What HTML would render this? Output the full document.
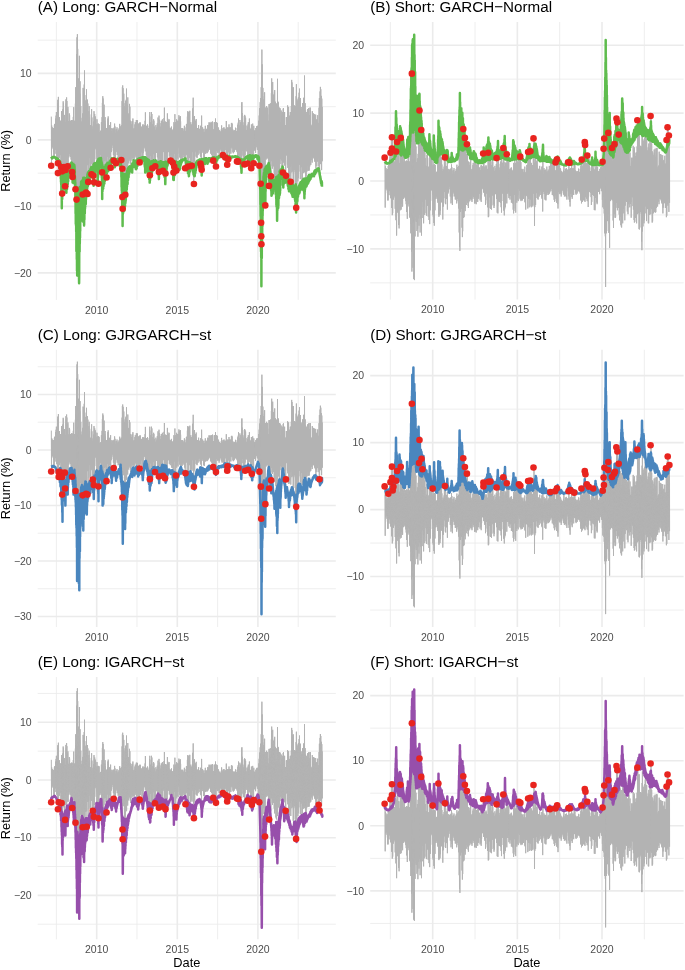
<!DOCTYPE html><html><head><meta charset="utf-8"><title>VaR backtest</title><style>html,body{margin:0;padding:0;background:#fff}svg{display:block}text{font-family:"Liberation Sans",Arial,Helvetica,sans-serif}</style></head><body>
<svg width="685" height="970" viewBox="0 0 685 970">
<rect width="685" height="970" fill="#fff"/>
<g><line x1="37.7" x2="335.8" y1="40.15" y2="40.15" stroke="#ebebeb" stroke-width="0.85"/><line x1="37.7" x2="335.8" y1="106.65" y2="106.65" stroke="#ebebeb" stroke-width="0.85"/><line x1="37.7" x2="335.8" y1="173.15" y2="173.15" stroke="#ebebeb" stroke-width="0.85"/><line x1="37.7" x2="335.8" y1="239.65" y2="239.65" stroke="#ebebeb" stroke-width="0.85"/><line x1="56.40" x2="56.40" y1="22.0" y2="299.9" stroke="#ebebeb" stroke-width="0.85"/><line x1="137.00" x2="137.00" y1="22.0" y2="299.9" stroke="#ebebeb" stroke-width="0.85"/><line x1="217.60" x2="217.60" y1="22.0" y2="299.9" stroke="#ebebeb" stroke-width="0.85"/><line x1="298.20" x2="298.20" y1="22.0" y2="299.9" stroke="#ebebeb" stroke-width="0.85"/><line x1="37.7" x2="335.8" y1="73.40" y2="73.40" stroke="#ebebeb" stroke-width="1.6"/><text x="31.7" y="77.1" font-size="10.5" fill="#4d4d4d" text-anchor="end">10</text><line x1="37.7" x2="335.8" y1="139.90" y2="139.90" stroke="#ebebeb" stroke-width="1.6"/><text x="31.7" y="143.6" font-size="10.5" fill="#4d4d4d" text-anchor="end">0</text><line x1="37.7" x2="335.8" y1="206.40" y2="206.40" stroke="#ebebeb" stroke-width="1.6"/><text x="31.7" y="210.1" font-size="10.5" fill="#4d4d4d" text-anchor="end">−10</text><line x1="37.7" x2="335.8" y1="272.90" y2="272.90" stroke="#ebebeb" stroke-width="1.6"/><text x="31.7" y="276.6" font-size="10.5" fill="#4d4d4d" text-anchor="end">−20</text><line x1="96.70" x2="96.70" y1="22.0" y2="299.9" stroke="#ebebeb" stroke-width="1.6"/><text x="96.7" y="313.5" font-size="10.5" fill="#4d4d4d" text-anchor="middle">2010</text><line x1="177.30" x2="177.30" y1="22.0" y2="299.9" stroke="#ebebeb" stroke-width="1.6"/><text x="177.3" y="313.5" font-size="10.5" fill="#4d4d4d" text-anchor="middle">2015</text><line x1="257.90" x2="257.90" y1="22.0" y2="299.9" stroke="#ebebeb" stroke-width="1.6"/><text x="257.9" y="313.5" font-size="10.5" fill="#4d4d4d" text-anchor="middle">2020</text><polyline points="51.3,116.6 51.5,165.9 51.7,125.5 51.8,145.8 52.0,131.3 52.2,147.6 52.3,127.3 52.5,146.1 52.7,129.7 52.8,144.8 53.0,133.5 53.2,149.1 53.4,128.3 53.5,151.8 53.7,130.1 53.9,158.8 54.0,128.2 54.2,158.9 54.4,125.2 54.5,150.0 54.7,123.9 54.9,153.6 55.0,126.8 55.2,147.8 55.4,126.9 55.6,149.2 55.7,118.6 55.9,149.8 56.1,115.6 56.2,153.9 56.4,112.0 56.6,156.6 56.7,125.0 56.9,154.6 57.1,117.7 57.2,157.1 57.4,117.7 57.6,166.4 57.8,99.8 57.9,164.6 58.1,103.0 58.3,173.4 58.4,96.9 58.6,171.4 58.8,120.3 58.9,157.4 59.1,124.0 59.3,158.1 59.4,117.1 59.6,156.3 59.8,126.1 60.0,148.8 60.1,121.9 60.3,149.1 60.5,120.7 60.6,154.8 60.8,129.0 61.0,167.1 61.1,122.5 61.3,166.6 61.5,111.2 61.6,178.3 61.8,116.6 62.0,174.7 62.2,118.3 62.3,193.4 62.5,113.2 62.7,160.8 62.8,109.3 63.0,170.9 63.2,101.3 63.3,164.4 63.5,103.2 63.7,166.6 63.8,115.8 64.0,171.6 64.2,114.9 64.4,183.0 64.5,115.0 64.7,186.3 64.9,125.1 65.0,166.9 65.2,122.2 65.4,166.6 65.5,122.5 65.7,168.6 65.9,99.4 66.0,162.4 66.2,103.5 66.4,156.8 66.6,97.4 66.7,167.9 66.9,101.0 67.1,161.9 67.2,118.7 67.4,153.2 67.6,109.3 67.7,164.7 67.9,106.9 68.1,164.9 68.2,121.9 68.4,155.6 68.6,121.2 68.8,157.4 68.9,124.7 69.1,151.2 69.3,113.4 69.4,154.0 69.6,115.1 69.8,148.2 69.9,124.4 70.1,155.9 70.3,129.9 70.4,156.8 70.6,120.7 70.8,153.0 71.0,121.9 71.1,159.6 71.3,120.9 71.5,162.6 71.6,120.0 71.8,170.1 72.0,120.0 72.1,164.1 72.3,129.2 72.5,176.9 72.6,124.0 72.8,159.0 73.0,120.3 73.2,162.6 73.3,116.9 73.5,158.2 73.7,107.2 73.8,154.3 74.0,122.8 74.2,164.9 74.3,122.0 74.5,163.7 74.7,120.7 74.8,175.4 75.0,121.7 75.2,176.1 75.4,103.6 75.5,177.3 75.7,87.2 75.9,191.1 76.0,99.8 76.2,182.0 76.4,97.8 76.5,209.1 76.7,54.2 76.9,228.7 77.0,37.3 77.2,206.8 77.4,34.2 77.6,200.7 77.7,48.9 77.9,224.9 78.1,101.8 78.2,195.2 78.4,78.4 78.6,235.8 78.7,93.1 78.9,215.0 79.1,97.4 79.3,236.9 79.4,55.8 79.6,178.3 79.8,93.6 79.9,194.1 80.1,81.3 80.3,157.6 80.4,112.6 80.6,174.6 80.8,106.1 80.9,179.9 81.1,122.0 81.3,179.8 81.5,123.7 81.6,188.9 81.8,121.4 82.0,176.8 82.1,117.8 82.3,186.4 82.5,120.7 82.6,194.4 82.8,113.3 83.0,168.8 83.1,87.9 83.3,176.5 83.5,88.8 83.7,183.6 83.8,96.4 84.0,171.7 84.2,84.5 84.3,173.2 84.5,70.4 84.7,190.4 84.8,112.9 85.0,173.0 85.2,100.3 85.3,176.5 85.5,108.3 85.7,174.7 85.9,105.1 86.0,193.4 86.2,95.1 86.4,158.5 86.5,89.3 86.7,176.1 86.9,100.2 87.0,157.7 87.2,113.5 87.4,160.4 87.5,99.6 87.7,165.2 87.9,103.5 88.1,181.4 88.2,128.0 88.4,164.5 88.6,120.7 88.7,163.7 88.9,111.2 89.1,173.1 89.2,106.1 89.4,149.9 89.6,117.6 89.7,152.0 89.9,126.3 90.1,158.1 90.3,129.3 90.4,171.4 90.6,125.1 90.8,173.9 90.9,131.3 91.1,162.6 91.3,114.4 91.4,162.7 91.6,109.1 91.8,164.1 91.9,117.5 92.1,161.2 92.3,132.0 92.5,174.6 92.6,129.1 92.8,160.6 93.0,125.8 93.1,178.1 93.3,127.0 93.5,164.9 93.6,121.6 93.8,182.1 94.0,111.2 94.1,165.8 94.3,116.4 94.5,168.6 94.7,114.0 94.8,159.2 95.0,126.6 95.2,144.9 95.3,116.4 95.5,147.6 95.7,118.8 95.8,148.6 96.0,124.0 96.2,149.6 96.3,125.3 96.5,153.6 96.7,125.4 96.9,173.2 97.0,119.3 97.2,174.6 97.4,128.0 97.5,157.3 97.7,124.1 97.9,181.0 98.0,123.8 98.2,183.6 98.4,123.6 98.5,160.5 98.7,124.1 98.9,168.6 99.1,124.2 99.2,157.4 99.4,132.1 99.6,155.9 99.7,132.5 99.9,157.4 100.1,133.1 100.2,149.7 100.4,130.9 100.6,155.1 100.7,133.9 100.9,149.2 101.1,130.4 101.3,156.8 101.4,122.2 101.6,161.1 101.8,128.5 101.9,159.1 102.1,117.1 102.3,173.2 102.4,102.9 102.6,174.9 102.8,96.2 102.9,173.6 103.1,98.5 103.3,171.5 103.5,112.1 103.6,173.1 103.8,122.1 104.0,168.9 104.1,104.7 104.3,152.3 104.5,125.1 104.6,161.1 104.8,120.9 105.0,155.5 105.1,117.1 105.3,160.4 105.5,123.8 105.7,159.7 105.8,130.3 106.0,165.2 106.2,132.5 106.3,177.6 106.5,128.0 106.7,163.1 106.8,131.1 107.0,164.9 107.2,129.3 107.3,156.8 107.5,125.8 107.7,148.1 107.9,118.5 108.0,150.6 108.2,116.4 108.4,146.2 108.5,118.8 108.7,161.7 108.9,126.5 109.0,162.6 109.2,125.1 109.4,155.8 109.5,132.5 109.7,157.4 109.9,125.5 110.1,156.2 110.2,130.6 110.4,157.7 110.6,122.2 110.7,167.9 110.9,128.7 111.1,149.2 111.2,131.5 111.4,152.1 111.6,131.2 111.7,150.7 111.9,128.0 112.1,142.6 112.3,133.6 112.4,145.3 112.6,133.6 112.8,143.0 112.9,128.8 113.1,148.0 113.3,128.9 113.4,155.1 113.6,129.6 113.8,151.8 113.9,127.7 114.1,161.9 114.3,129.2 114.5,154.3 114.6,123.6 114.8,155.8 115.0,126.5 115.1,158.5 115.3,132.8 115.5,163.4 115.6,133.7 115.8,148.0 116.0,129.5 116.1,152.1 116.3,134.0 116.5,149.4 116.7,129.1 116.8,150.4 117.0,127.3 117.2,155.1 117.3,133.1 117.5,148.9 117.7,133.2 117.8,154.5 118.0,131.3 118.2,158.1 118.3,130.2 118.5,152.5 118.7,131.2 118.9,157.7 119.0,128.5 119.2,155.0 119.4,128.0 119.5,161.9 119.7,123.9 119.9,154.8 120.0,128.6 120.2,157.4 120.4,126.4 120.5,152.6 120.7,130.7 120.9,159.7 121.1,127.4 121.2,165.6 121.4,125.1 121.6,167.0 121.7,129.4 121.9,190.4 122.1,101.1 122.2,204.3 122.4,87.1 122.6,208.4 122.7,85.4 122.9,160.7 123.1,88.2 123.3,170.1 123.4,98.6 123.6,157.1 123.8,93.7 123.9,167.1 124.1,106.1 124.3,155.2 124.4,119.2 124.6,185.6 124.8,117.1 125.0,194.9 125.1,103.2 125.3,189.2 125.5,101.0 125.6,170.1 125.8,106.2 126.0,176.1 126.1,99.8 126.3,159.5 126.5,88.6 126.6,175.4 126.8,111.9 127.0,157.7 127.2,119.8 127.3,166.0 127.5,104.7 127.7,169.4 127.8,97.4 128.0,155.3 128.2,116.7 128.3,152.8 128.5,115.0 128.7,163.4 128.8,113.4 129.0,153.7 129.2,121.5 129.4,159.4 129.5,103.9 129.7,151.8 129.9,106.7 130.0,161.1 130.2,123.9 130.4,164.2 130.5,120.7 130.7,166.4 130.9,121.2 131.0,160.8 131.2,125.9 131.4,150.1 131.6,124.4 131.7,157.3 131.9,128.2 132.1,159.6 132.2,121.6 132.4,150.8 132.6,121.2 132.7,157.5 132.9,118.5 133.1,158.1 133.2,128.6 133.4,152.0 133.6,130.6 133.8,158.6 133.9,132.5 134.1,160.4 134.3,128.0 134.4,152.0 134.6,128.8 134.8,154.0 134.9,124.4 135.1,157.4 135.3,122.2 135.4,152.1 135.6,127.8 135.8,155.2 136.0,126.5 136.1,155.5 136.3,120.0 136.5,161.9 136.6,129.1 136.8,156.4 137.0,120.0 137.1,161.9 137.3,120.3 137.5,155.4 137.6,125.7 137.8,153.1 138.0,126.2 138.2,162.6 138.3,123.6 138.5,159.8 138.7,126.3 138.8,155.4 139.0,127.8 139.2,156.7 139.3,123.1 139.5,160.4 139.7,129.7 139.8,151.1 140.0,122.2 140.2,155.2 140.4,122.9 140.5,157.4 140.7,129.8 140.9,152.5 141.0,128.4 141.2,151.1 141.4,126.6 141.5,151.9 141.7,131.9 141.9,158.9 142.0,129.3 142.2,152.4 142.4,130.3 142.6,157.2 142.7,124.7 142.9,160.4 143.1,124.4 143.2,153.2 143.4,126.7 143.6,145.1 143.7,126.2 143.9,145.8 144.1,130.5 144.2,147.3 144.4,125.1 144.6,146.9 144.8,132.3 144.9,148.4 145.1,120.8 145.3,151.4 145.4,112.3 145.6,148.8 145.8,130.3 145.9,150.0 146.1,127.4 146.3,155.1 146.4,125.8 146.6,153.3 146.8,125.9 147.0,163.4 147.1,128.4 147.3,158.7 147.5,124.4 147.6,148.9 147.8,125.7 148.0,152.1 148.1,129.1 148.3,149.4 148.5,131.1 148.6,162.0 148.8,128.0 149.0,165.6 149.2,128.9 149.3,164.7 149.5,115.7 149.7,175.4 149.8,112.0 150.0,174.7 150.2,126.9 150.3,149.7 150.5,129.0 150.7,155.9 150.8,122.2 151.0,153.6 151.2,116.5 151.4,166.6 151.5,112.0 151.7,167.1 151.9,114.0 152.0,156.8 152.2,130.7 152.4,157.5 152.5,124.4 152.7,167.9 152.9,130.7 153.0,163.7 153.2,120.7 153.4,153.6 153.6,119.3 153.7,149.0 153.9,120.7 154.1,154.4 154.2,131.1 154.4,150.2 154.6,126.6 154.7,162.8 154.9,132.7 155.1,166.4 155.2,131.8 155.4,164.2 155.6,130.4 155.8,148.7 155.9,125.1 156.1,150.1 156.3,129.3 156.4,152.9 156.6,133.6 156.8,148.5 156.9,127.3 157.1,152.4 157.3,123.3 157.4,157.4 157.6,126.4 157.8,153.7 158.0,117.5 158.1,170.9 158.3,124.3 158.5,164.4 158.6,126.3 158.8,171.6 159.0,115.6 159.1,160.1 159.3,119.7 159.5,150.0 159.6,130.1 159.8,158.1 160.0,130.0 160.2,149.9 160.3,129.5 160.5,160.5 160.7,126.7 160.8,158.7 161.0,123.1 161.2,161.1 161.3,120.7 161.5,160.0 161.7,122.6 161.8,165.5 162.0,121.3 162.2,170.9 162.4,119.3 162.5,159.5 162.7,124.4 162.9,151.9 163.0,122.2 163.2,152.1 163.4,125.1 163.5,149.3 163.7,121.9 163.9,149.0 164.0,118.1 164.2,168.8 164.4,107.6 164.6,168.2 164.7,125.5 164.9,173.6 165.1,129.0 165.2,167.6 165.4,121.5 165.6,160.9 165.7,129.5 165.9,165.6 166.1,123.2 166.2,161.2 166.4,122.2 166.6,152.2 166.8,122.8 166.9,152.4 167.1,122.3 167.3,161.9 167.4,113.4 167.6,150.4 167.8,118.8 167.9,152.1 168.1,125.0 168.3,150.0 168.5,120.7 168.6,152.1 168.8,126.4 169.0,149.7 169.1,119.3 169.3,156.6 169.5,128.9 169.6,154.2 169.8,129.5 170.0,154.0 170.1,128.0 170.3,158.1 170.5,129.6 170.7,152.3 170.8,131.5 171.0,154.6 171.2,127.4 171.3,151.0 171.5,126.6 171.7,161.1 171.8,129.9 172.0,153.6 172.2,130.7 172.3,154.8 172.5,133.0 172.7,161.9 172.9,129.5 173.0,155.3 173.2,131.9 173.4,168.0 173.5,127.9 173.7,171.6 173.9,122.2 174.0,169.2 174.2,130.1 174.4,148.6 174.5,125.7 174.7,153.6 174.9,114.2 175.1,147.5 175.2,124.1 175.4,166.6 175.6,122.2 175.7,170.9 175.9,129.4 176.1,158.3 176.2,125.3 176.4,158.4 176.6,119.3 176.7,161.1 176.9,121.2 177.1,158.4 177.3,124.6 177.4,151.2 177.6,120.7 177.8,153.7 177.9,128.5 178.1,159.6 178.3,121.0 178.4,145.9 178.6,125.0 178.8,144.7 178.9,115.2 179.1,147.6 179.3,117.9 179.5,149.3 179.6,118.4 179.8,157.1 180.0,116.7 180.1,158.1 180.3,116.1 180.5,153.5 180.6,121.4 180.8,159.6 181.0,130.5 181.1,156.0 181.3,128.0 181.5,158.6 181.7,129.9 181.8,152.2 182.0,128.9 182.2,158.9 182.3,131.1 182.5,155.1 182.7,128.0 182.8,155.0 183.0,135.4 183.2,157.4 183.3,132.0 183.5,154.4 183.7,130.9 183.9,149.6 184.0,129.2 184.2,152.9 184.4,125.8 184.5,160.3 184.7,131.5 184.9,161.3 185.0,135.3 185.2,167.9 185.4,133.2 185.5,151.8 185.7,130.9 185.9,150.3 186.1,127.4 186.2,154.4 186.4,124.3 186.6,153.6 186.7,123.9 186.9,155.2 187.1,125.6 187.2,166.8 187.4,116.6 187.6,154.0 187.7,111.2 187.9,157.4 188.1,122.2 188.3,153.8 188.4,117.8 188.6,165.6 188.8,111.8 188.9,156.9 189.1,112.7 189.3,155.3 189.4,123.4 189.6,158.1 189.8,110.8 189.9,156.8 190.1,125.7 190.3,164.7 190.5,124.7 190.6,165.6 190.8,122.2 191.0,162.3 191.1,129.5 191.3,162.5 191.5,124.9 191.6,163.1 191.8,124.4 192.0,164.9 192.1,128.7 192.3,150.6 192.5,108.5 192.7,152.1 192.8,116.5 193.0,146.3 193.2,97.7 193.3,163.6 193.5,129.3 193.7,183.9 193.8,122.2 194.0,165.5 194.2,122.1 194.3,159.8 194.5,116.1 194.7,163.4 194.9,121.6 195.0,156.6 195.2,124.1 195.4,147.4 195.5,120.7 195.7,151.4 195.9,124.6 196.0,150.0 196.2,119.0 196.4,152.7 196.5,127.6 196.7,157.2 196.9,129.7 197.1,158.1 197.2,131.8 197.4,152.4 197.6,128.0 197.7,151.5 197.9,128.1 198.1,155.1 198.2,130.8 198.4,147.5 198.6,125.1 198.7,148.2 198.9,130.0 199.1,153.6 199.3,133.5 199.4,149.9 199.6,128.8 199.8,149.4 199.9,133.2 200.1,149.2 200.3,130.0 200.4,155.9 200.6,125.8 200.8,157.4 200.9,132.7 201.1,156.5 201.3,125.7 201.5,169.8 201.6,115.6 201.8,147.9 202.0,133.2 202.1,150.6 202.3,133.5 202.5,147.6 202.6,127.3 202.8,152.7 203.0,129.2 203.1,149.5 203.3,132.1 203.5,158.1 203.7,132.1 203.8,149.6 204.0,128.8 204.2,158.5 204.3,133.1 204.5,158.9 204.7,132.2 204.8,153.9 205.0,131.7 205.2,151.0 205.3,125.8 205.5,153.6 205.7,130.4 205.9,147.6 206.0,134.0 206.2,151.5 206.4,132.8 206.5,151.9 206.7,128.8 206.9,153.3 207.0,131.7 207.2,152.9 207.4,130.3 207.5,147.5 207.7,125.1 207.9,152.1 208.1,130.5 208.2,151.0 208.4,125.5 208.6,148.1 208.7,130.2 208.9,148.3 209.1,122.2 209.2,149.8 209.4,123.2 209.6,147.8 209.7,131.4 209.9,147.0 210.1,122.9 210.3,147.4 210.4,130.0 210.6,153.6 210.8,130.6 210.9,147.8 211.1,121.9 211.3,152.2 211.4,122.8 211.6,154.8 211.8,128.8 211.9,154.6 212.1,126.3 212.3,158.4 212.5,121.5 212.6,160.4 212.8,122.2 213.0,159.8 213.1,134.5 213.3,151.3 213.5,129.5 213.6,153.9 213.8,129.8 214.0,157.4 214.2,130.3 214.3,153.6 214.5,122.2 214.7,161.1 214.8,123.5 215.0,151.7 215.2,125.1 215.3,157.9 215.5,118.5 215.7,162.5 215.8,122.8 216.0,166.8 216.2,129.5 216.4,149.2 216.5,122.2 216.7,150.6 216.9,125.2 217.0,149.7 217.2,126.7 217.4,152.4 217.5,122.9 217.7,148.7 217.9,131.0 218.0,152.9 218.2,127.3 218.4,147.9 218.6,128.7 218.7,151.2 218.9,131.9 219.1,155.1 219.2,134.2 219.4,153.0 219.6,130.2 219.7,144.9 219.9,131.6 220.1,146.1 220.2,133.2 220.4,148.4 220.6,131.5 220.8,149.7 220.9,132.5 221.1,151.4 221.3,129.3 221.4,153.3 221.6,125.4 221.8,152.7 221.9,131.9 222.1,155.1 222.3,132.6 222.4,153.9 222.6,130.2 222.8,153.5 223.0,128.0 223.1,154.4 223.3,128.8 223.5,150.4 223.6,127.9 223.8,155.7 224.0,127.3 224.1,152.0 224.3,131.3 224.5,158.1 224.6,133.9 224.8,144.8 225.0,129.0 225.2,143.7 225.3,128.8 225.5,146.8 225.7,131.2 225.8,150.0 226.0,129.7 226.2,154.9 226.3,121.0 226.5,158.1 226.7,128.2 226.8,149.4 227.0,132.6 227.2,160.4 227.4,129.9 227.5,164.9 227.7,127.3 227.9,152.5 228.0,132.2 228.2,151.9 228.4,130.4 228.5,152.1 228.7,127.8 228.9,148.6 229.0,124.4 229.2,155.4 229.4,127.5 229.6,157.4 229.7,128.6 229.9,153.3 230.1,132.4 230.2,148.0 230.4,127.3 230.6,147.3 230.7,128.4 230.9,153.6 231.1,130.5 231.2,146.9 231.4,123.2 231.6,145.0 231.8,122.9 231.9,148.4 232.1,123.8 232.3,144.5 232.4,132.3 232.6,148.1 232.8,129.5 232.9,152.2 233.1,131.5 233.3,153.3 233.4,132.0 233.6,150.6 233.8,130.8 234.0,148.1 234.1,130.2 234.3,152.1 234.5,132.1 234.6,148.7 234.8,134.5 235.0,149.0 235.1,130.2 235.3,149.8 235.5,127.7 235.6,148.9 235.8,132.6 236.0,147.6 236.2,131.0 236.3,150.4 236.5,133.5 236.7,148.1 236.8,131.1 237.0,152.1 237.2,128.0 237.3,146.4 237.5,130.7 237.7,159.0 237.8,124.7 238.0,158.0 238.2,122.7 238.4,161.9 238.5,118.5 238.7,153.2 238.9,125.5 239.0,160.3 239.2,126.6 239.4,160.4 239.5,125.7 239.7,151.0 239.9,120.0 240.0,151.4 240.2,128.3 240.4,158.2 240.6,124.6 240.7,158.9 240.9,122.2 241.1,159.1 241.2,122.3 241.4,156.4 241.6,103.3 241.7,160.4 241.9,102.0 242.1,155.6 242.2,113.0 242.4,150.3 242.6,123.0 242.8,150.6 242.9,122.2 243.1,150.3 243.3,126.8 243.4,157.4 243.6,129.5 243.8,159.6 243.9,125.1 244.1,159.6 244.3,115.9 244.4,156.3 244.6,114.9 244.8,165.3 245.0,115.7 245.1,155.0 245.3,127.8 245.5,149.1 245.6,117.8 245.8,150.6 246.0,125.6 246.1,148.0 246.3,132.0 246.5,145.9 246.6,130.2 246.8,151.4 247.0,131.5 247.2,147.2 247.3,130.4 247.5,155.7 247.7,126.6 247.8,163.4 248.0,124.5 248.2,160.4 248.3,122.2 248.5,148.7 248.7,130.1 248.8,153.6 249.0,126.0 249.2,149.6 249.4,118.5 249.5,147.7 249.7,127.6 249.9,154.4 250.0,130.1 250.2,152.2 250.4,128.8 250.5,168.3 250.7,128.9 250.9,166.8 251.0,129.2 251.2,168.6 251.4,124.4 251.6,156.6 251.7,129.7 251.9,149.9 252.1,127.5 252.2,153.6 252.4,127.4 252.6,149.2 252.7,123.6 252.9,160.9 253.1,130.9 253.2,162.6 253.4,129.6 253.6,161.3 253.8,125.8 253.9,149.6 254.1,133.6 254.3,146.6 254.4,131.2 254.6,150.6 254.8,130.2 254.9,145.3 255.1,133.2 255.3,149.8 255.4,130.8 255.6,152.9 255.8,128.0 256.0,147.4 256.1,133.7 256.3,144.1 256.5,129.4 256.6,145.0 256.8,126.0 257.0,146.8 257.1,127.4 257.3,149.7 257.5,125.8 257.7,149.8 257.8,132.6 258.0,145.8 258.2,130.2 258.3,158.3 258.5,127.1 258.7,165.6 258.8,120.7 259.0,154.2 259.2,115.5 259.3,154.8 259.5,108.3 259.7,167.1 259.9,112.5 260.0,171.9 260.2,102.2 260.4,191.1 260.5,98.1 260.7,176.2 260.9,106.7 261.0,194.1 261.2,87.2 261.4,243.7 261.5,75.4 261.7,181.6 261.9,49.6 262.1,191.1 262.2,64.3 262.4,188.9 262.6,92.9 262.7,164.4 262.9,87.9 263.1,179.1 263.2,117.0 263.4,168.4 263.6,99.6 263.7,172.4 263.9,103.8 264.1,164.4 264.3,96.3 264.4,190.7 264.6,92.3 264.8,181.8 264.9,121.0 265.1,205.4 265.3,107.6 265.4,149.9 265.6,113.4 265.8,158.6 265.9,107.7 266.1,159.6 266.3,115.1 266.5,155.1 266.6,106.1 266.8,157.5 267.0,109.3 267.1,158.1 267.3,114.0 267.5,153.3 267.6,107.6 267.8,154.3 268.0,121.0 268.1,158.9 268.3,128.6 268.5,178.6 268.7,120.7 268.8,185.9 269.0,104.1 269.2,175.5 269.3,114.6 269.5,155.8 269.7,103.9 269.8,163.4 270.0,113.2 270.2,172.6 270.3,113.3 270.5,176.1 270.7,103.2 270.9,175.4 271.0,118.7 271.2,153.8 271.4,93.1 271.5,161.1 271.7,78.4 271.9,154.9 272.0,83.0 272.2,166.1 272.4,84.0 272.5,168.6 272.7,82.0 272.9,163.0 273.1,110.1 273.2,160.7 273.4,104.7 273.6,166.4 273.7,94.5 273.9,159.6 274.1,108.0 274.2,172.8 274.4,92.3 274.6,178.4 274.7,90.1 274.9,161.1 275.1,108.1 275.3,163.7 275.4,101.7 275.6,174.6 275.8,121.5 275.9,183.1 276.1,115.6 276.3,184.5 276.4,120.0 276.6,185.4 276.8,103.4 276.9,179.7 277.1,103.8 277.3,168.6 277.5,78.8 277.6,181.4 277.8,105.0 278.0,167.2 278.1,101.7 278.3,160.1 278.5,102.7 278.6,171.6 278.8,108.5 279.0,160.8 279.1,117.4 279.3,164.6 279.5,107.6 279.7,178.4 279.8,122.0 280.0,164.0 280.2,108.3 280.3,158.7 280.5,122.9 280.7,158.9 280.8,121.8 281.0,152.2 281.2,110.5 281.3,160.4 281.5,124.0 281.7,155.5 281.9,115.6 282.0,169.7 282.2,112.0 282.4,166.4 282.5,114.5 282.7,172.4 282.9,123.9 283.0,154.5 283.2,108.6 283.4,162.6 283.5,108.0 283.7,152.0 283.9,119.7 284.1,159.0 284.2,122.2 284.4,165.6 284.6,112.0 284.7,159.8 284.9,125.3 285.1,162.1 285.2,125.4 285.4,160.5 285.6,125.1 285.7,175.8 285.9,125.8 286.1,148.9 286.3,117.2 286.4,152.6 286.6,117.1 286.8,155.1 286.9,121.1 287.1,155.9 287.3,121.7 287.4,164.5 287.6,105.4 287.8,167.9 287.9,119.6 288.1,156.5 288.3,109.8 288.5,178.1 288.6,106.9 288.8,180.6 289.0,122.6 289.1,179.8 289.3,121.3 289.5,164.9 289.6,115.6 289.8,176.1 290.0,126.5 290.1,165.1 290.3,112.1 290.5,166.5 290.7,112.0 290.8,181.4 291.0,124.1 291.2,163.6 291.3,106.1 291.5,161.9 291.7,79.9 291.8,172.4 292.0,82.4 292.2,156.8 292.3,108.9 292.5,171.3 292.7,87.9 292.9,170.4 293.0,87.5 293.2,186.9 293.4,87.4 293.5,187.4 293.7,107.2 293.9,172.1 294.0,106.3 294.2,162.3 294.4,105.4 294.5,170.1 294.7,110.5 294.9,159.7 295.1,122.7 295.2,185.5 295.4,106.1 295.6,199.1 295.7,109.8 295.9,207.7 296.1,96.2 296.2,189.5 296.4,84.2 296.6,174.1 296.7,111.3 296.9,184.4 297.1,100.3 297.3,174.0 297.4,103.6 297.6,164.8 297.8,106.0 297.9,181.4 298.1,98.8 298.3,178.2 298.4,97.4 298.6,158.6 298.8,98.2 298.9,171.6 299.1,92.7 299.3,158.4 299.5,88.6 299.6,164.7 299.8,109.1 300.0,160.6 300.1,98.6 300.3,179.1 300.5,98.1 300.6,167.5 300.8,111.7 301.0,155.1 301.1,124.6 301.3,167.1 301.5,109.8 301.7,165.3 301.8,107.0 302.0,181.2 302.2,109.0 302.3,181.4 302.5,103.2 302.7,171.5 302.8,107.5 303.0,158.0 303.2,107.7 303.4,173.1 303.5,98.1 303.7,163.8 303.9,115.9 304.0,165.9 304.2,97.3 304.4,172.4 304.5,75.5 304.7,164.4 304.9,114.7 305.0,166.7 305.2,103.2 305.4,167.6 305.6,110.5 305.7,180.6 305.9,112.2 306.1,179.3 306.2,112.0 306.4,169.4 306.6,114.3 306.7,171.6 306.9,120.0 307.1,171.2 307.2,120.3 307.4,156.9 307.6,109.1 307.8,162.6 307.9,113.2 308.1,170.1 308.3,118.5 308.4,165.4 308.6,108.0 308.8,170.9 308.9,119.5 309.1,170.4 309.3,116.4 309.4,159.5 309.6,115.2 309.8,166.4 310.0,107.6 310.1,164.7 310.3,107.8 310.5,159.0 310.6,129.8 310.8,164.9 311.0,128.5 311.1,153.2 311.3,125.8 311.5,156.1 311.6,126.9 311.8,160.1 312.0,124.7 312.2,162.6 312.3,111.2 312.5,156.1 312.7,120.1 312.8,157.4 313.0,113.7 313.2,151.8 313.3,113.4 313.5,151.4 313.7,119.4 313.8,157.8 314.0,121.5 314.2,158.9 314.4,114.2 314.5,160.4 314.7,117.9 314.9,161.9 315.0,122.7 315.2,154.2 315.4,120.9 315.5,162.1 315.7,114.6 315.9,171.6 316.0,122.5 316.2,166.1 316.4,120.6 316.6,157.3 316.7,119.3 316.9,161.9 317.1,128.1 317.2,153.3 317.4,123.0 317.6,161.3 317.7,115.2 317.9,155.0 318.1,130.7 318.2,166.4 318.4,122.9 318.6,157.4 318.8,129.0 318.9,158.2 319.1,107.7 319.3,175.4 319.4,98.1 319.6,174.0 319.8,107.8 319.9,160.9 320.1,91.4 320.3,162.2 320.4,86.9 320.6,164.1 320.8,89.2 321.0,157.3 321.1,102.9 321.3,156.8 321.5,95.9 321.6,170.1 321.8,98.6 322.0,160.7 322.1,106.9 322.3,161.4" fill="none" stroke="#b3b3b3" stroke-width="1.0" stroke-linejoin="round"/><polyline points="50.9,158.6 51.0,158.5 51.1,158.4 51.2,158.3 51.3,158.2 51.4,158.2 51.5,158.1 51.6,158.0 51.7,157.9 51.8,157.8 51.9,157.7 52.0,157.7 52.1,157.6 52.2,158.4 52.3,157.4 52.4,158.1 52.5,157.2 52.6,157.8 52.7,157.1 52.8,157.5 52.9,157.0 53.0,157.3 53.1,157.0 53.2,157.3 53.3,157.0 53.4,157.2 53.5,157.1 53.6,157.3 53.7,156.9 53.8,157.2 53.9,157.1 54.0,157.2 54.1,157.1 54.2,157.2 54.3,157.2 54.4,157.2 54.5,157.2 54.6,157.2 54.7,157.2 54.8,157.3 54.9,157.2 55.0,157.3 55.1,157.3 55.2,157.3 55.3,157.3 55.4,157.4 55.5,157.4 55.6,157.5 55.7,157.6 55.8,157.7 55.9,157.7 56.0,157.8 56.1,157.9 56.2,159.3 56.3,158.0 56.4,159.4 56.5,158.1 56.6,159.7 56.7,158.3 56.8,159.6 56.9,158.4 57.0,159.4 57.1,158.5 57.2,159.5 57.3,158.7 57.4,159.4 57.5,158.7 57.6,159.7 57.7,158.8 57.8,160.0 57.9,158.9 58.0,160.1 58.1,159.5 58.2,160.6 58.3,159.7 58.4,160.9 58.5,159.8 58.6,161.0 58.7,160.1 58.8,161.1 58.9,160.3 59.0,160.9 59.1,160.5 59.2,161.2 59.3,160.7 59.4,161.1 59.5,160.9 59.6,161.4 59.7,161.1 59.8,161.7 59.9,161.3 60.0,161.8 60.1,161.5 60.2,162.9 60.3,163.2 60.4,167.4 60.5,163.8 60.6,172.2 60.7,164.2 60.8,178.6 60.9,164.3 61.0,181.9 61.1,165.9 61.2,184.4 61.3,166.3 61.4,195.4 61.5,166.7 61.6,195.2 61.7,165.0 61.8,208.2 61.9,165.4 62.0,196.1 62.1,165.8 62.2,199.1 62.3,166.8 62.4,192.9 62.5,167.2 62.6,194.5 62.7,167.6 62.8,188.0 62.9,168.7 63.0,189.4 63.1,168.8 63.2,186.3 63.3,168.9 63.4,183.8 63.5,169.4 63.6,183.4 63.7,169.4 63.8,188.0 63.9,169.5 64.0,187.1 64.1,168.4 64.2,184.7 64.3,168.3 64.4,184.0 64.5,168.5 64.6,186.2 64.7,167.3 64.8,184.8 64.9,167.3 65.0,187.2 65.1,167.0 65.2,185.0 65.3,167.2 65.4,190.3 65.5,167.0 65.6,188.8 65.7,166.9 65.8,188.7 65.9,166.2 66.0,192.0 66.1,166.1 66.2,191.5 66.3,165.9 66.4,192.8 66.5,165.2 66.6,187.9 66.7,165.0 66.8,189.0 66.9,164.9 67.0,189.2 67.1,164.6 67.2,185.5 67.3,164.5 67.4,186.2 67.5,164.3 67.6,184.3 67.7,165.9 67.8,184.0 67.9,165.7 68.0,180.5 68.1,165.6 68.2,181.3 68.3,166.7 68.4,178.2 68.5,166.5 68.6,178.1 68.7,166.3 68.8,175.8 68.9,166.0 69.0,174.4 69.1,165.8 69.2,173.3 69.3,165.7 69.4,174.2 69.5,166.1 69.6,172.7 69.7,165.8 69.8,171.2 69.9,165.6 70.0,170.0 70.1,164.6 70.2,168.2 70.3,164.3 70.4,168.2 70.5,164.1 70.6,167.8 70.7,163.2 70.8,167.3 70.9,163.3 71.0,166.1 71.1,163.4 71.2,165.5 71.3,163.0 71.4,165.1 71.5,162.6 71.6,164.7 71.7,162.7 71.8,167.9 71.9,163.1 72.0,172.7 72.1,163.2 72.2,175.0 72.3,163.4 72.4,176.8 72.5,163.5 72.6,182.5 72.7,163.7 72.8,182.6 72.9,163.8 73.0,181.0 73.1,163.7 73.2,179.0 73.3,163.8 73.4,180.5 73.5,183.1 73.6,176.5 73.7,164.9 73.8,171.5 73.9,166.2 74.0,168.1 74.1,166.2 74.2,166.4 74.3,165.0 74.4,166.3 74.5,166.3 74.6,169.2 74.7,170.0 74.8,176.9 74.9,176.2 75.0,185.3 75.1,179.5 75.2,191.8 75.3,182.5 75.4,201.0 75.5,186.3 75.6,213.6 75.7,189.3 75.8,224.1 75.9,191.3 76.0,225.2 76.1,187.0 76.2,231.6 76.3,187.1 76.4,251.3 76.5,187.2 76.6,244.3 76.7,189.3 76.8,259.2 76.9,189.3 77.0,270.7 77.1,189.5 77.2,275.5 77.3,193.4 77.4,262.6 77.5,193.6 77.6,268.8 77.7,193.8 77.8,268.9 77.9,193.8 78.0,262.8 78.1,193.9 78.2,266.6 78.3,193.9 78.4,274.7 78.5,192.1 78.6,276.3 78.7,192.1 78.8,268.5 78.9,192.1 79.0,277.2 79.1,283.2 79.2,272.0 79.3,187.5 79.4,250.3 79.5,187.5 79.6,251.8 79.7,189.8 79.8,243.8 79.9,189.8 80.0,237.7 80.1,189.5 80.2,231.0 80.3,191.2 80.4,222.2 80.5,189.0 80.6,215.8 80.7,186.9 80.8,216.0 80.9,185.4 81.0,211.7 81.1,181.7 81.2,205.9 81.3,181.3 81.4,211.7 81.5,181.8 81.6,209.3 81.7,181.6 81.8,209.3 81.9,181.4 82.0,216.2 82.1,181.5 82.2,210.5 82.3,181.6 82.4,215.6 82.5,181.8 82.6,220.8 82.7,180.0 82.8,213.0 82.9,180.1 83.0,213.6 83.1,180.2 83.2,221.8 83.3,177.8 83.4,221.8 83.5,177.9 83.6,214.5 83.7,178.1 83.8,222.4 83.9,180.3 84.0,221.5 84.1,225.4 84.2,217.0 84.3,180.6 84.4,219.6 84.5,178.0 84.6,211.4 84.7,178.1 84.8,213.5 84.9,178.2 85.0,208.8 85.1,181.1 85.2,207.0 85.3,181.2 85.4,203.1 85.5,181.4 85.6,203.6 85.7,182.6 85.8,204.0 85.9,182.0 86.0,199.3 86.1,181.4 86.2,194.9 86.3,179.9 86.4,194.0 86.5,179.3 86.6,190.4 86.7,178.7 86.8,192.7 86.9,177.6 87.0,190.5 87.1,177.0 87.2,188.5 87.3,176.5 87.4,187.4 87.5,174.2 87.6,185.8 87.7,173.5 87.8,186.3 87.9,173.1 88.0,185.4 88.1,172.6 88.2,182.1 88.3,172.2 88.4,182.4 88.5,171.8 88.6,183.0 88.7,171.9 88.8,180.6 88.9,171.5 89.0,182.6 89.1,171.1 89.2,179.6 89.3,171.7 89.4,179.2 89.5,171.3 89.6,179.6 89.7,170.9 89.8,177.9 89.9,170.7 90.0,177.0 90.1,170.4 90.2,176.4 90.3,170.1 90.4,176.8 90.5,169.0 90.6,176.8 90.7,168.7 90.8,176.3 90.9,168.4 91.0,175.8 91.1,167.5 91.2,174.7 91.3,167.2 91.4,175.2 91.5,166.9 91.6,174.7 91.7,167.9 91.8,175.1 91.9,167.9 92.0,173.7 92.1,167.7 92.2,174.4 92.3,168.2 92.4,173.6 92.5,168.0 92.6,174.5 92.7,167.3 92.8,174.4 92.9,167.7 93.0,175.8 93.1,167.4 93.2,177.7 93.3,167.2 93.4,179.3 93.5,164.8 93.6,185.7 93.7,164.5 93.8,180.9 93.9,164.3 94.0,176.6 94.1,163.8 94.2,174.8 94.3,163.6 94.4,174.0 94.5,163.4 94.6,174.9 94.7,165.0 94.8,171.9 94.9,164.8 95.0,172.1 95.1,164.5 95.2,170.4 95.3,164.2 95.4,168.7 95.5,164.0 95.6,167.6 95.7,163.7 95.8,167.5 95.9,163.2 96.0,166.3 96.1,163.0 96.2,166.5 96.3,163.2 96.4,165.9 96.5,163.8 96.6,165.0 96.7,163.7 96.8,164.4 96.9,162.6 97.0,164.2 97.1,161.6 97.2,166.2 97.3,161.4 97.4,170.6 97.5,161.2 97.6,172.7 97.7,184.5 97.8,177.1 97.9,161.0 98.0,177.3 98.1,160.8 98.2,175.3 98.3,159.3 98.4,172.3 98.5,159.0 98.6,170.0 98.7,158.8 98.8,171.3 98.9,159.9 99.0,169.2 99.1,159.6 99.2,166.8 99.3,159.3 99.4,164.8 99.5,158.8 99.6,163.4 99.7,158.5 99.8,160.9 99.9,158.2 100.0,160.6 100.1,158.3 100.2,159.7 100.3,158.9 100.4,158.9 100.5,158.5 100.6,158.1 100.7,158.1 100.8,158.1 100.9,158.1 101.0,158.1 101.1,160.4 101.2,163.1 101.3,160.9 101.4,167.5 101.5,161.8 101.6,170.9 101.7,162.4 101.8,177.6 101.9,163.9 102.0,181.4 102.1,164.4 102.2,198.9 102.3,165.0 102.4,190.8 102.5,166.1 102.6,191.0 102.7,166.6 102.8,188.8 102.9,167.2 103.0,189.1 103.1,168.2 103.2,188.6 103.3,168.9 103.4,184.0 103.5,169.4 103.6,186.1 103.7,170.1 103.8,184.3 103.9,169.9 104.0,181.9 104.1,169.6 104.2,181.7 104.3,167.9 104.4,183.6 104.5,167.6 104.6,180.7 104.7,167.3 104.8,181.1 104.9,167.3 105.0,178.7 105.1,167.0 105.2,178.0 105.3,166.8 105.4,177.6 105.5,165.3 105.6,177.4 105.7,165.0 105.8,174.6 105.9,164.8 106.0,174.8 106.1,165.4 106.2,176.2 106.3,165.1 106.4,175.8 106.5,164.8 106.6,173.5 106.7,164.1 106.8,173.6 106.9,163.9 107.0,171.2 107.1,163.6 107.2,171.6 107.3,163.2 107.4,169.3 107.5,162.9 107.6,169.0 107.7,162.7 107.8,168.5 107.9,163.5 108.0,168.8 108.1,163.4 108.2,171.3 108.3,163.2 108.4,169.2 108.5,163.6 108.6,169.2 108.7,163.5 108.8,169.5 108.9,163.3 109.0,168.6 109.1,163.1 109.2,167.6 109.3,162.9 109.4,167.2 109.5,162.8 109.6,166.9 109.7,161.6 109.8,166.4 109.9,161.4 110.0,166.4 110.1,161.1 110.2,166.9 110.3,160.9 110.4,168.4 110.5,160.6 110.6,167.5 110.7,160.3 110.8,169.5 110.9,160.0 111.0,166.3 111.1,159.8 111.2,165.6 111.3,159.5 111.4,163.6 111.5,158.9 111.6,161.5 111.7,158.6 111.8,160.6 111.9,158.6 112.0,159.1 112.1,158.5 112.2,158.8 112.3,158.6 112.4,158.8 112.5,158.7 112.6,158.9 112.7,159.0 112.8,159.1 112.9,159.2 113.0,161.6 113.1,159.4 113.2,161.8 113.3,158.7 113.4,161.2 113.5,158.7 113.6,161.5 113.7,158.7 113.8,161.1 113.9,158.2 114.0,162.6 114.1,158.2 114.2,163.2 114.3,158.3 114.4,164.0 114.5,158.8 114.6,165.7 114.7,167.3 114.8,167.2 114.9,158.9 115.0,166.0 115.1,159.4 115.2,165.2 115.3,159.4 115.4,163.9 115.5,159.4 115.6,163.9 115.7,159.2 115.8,163.3 115.9,159.3 116.0,162.3 116.1,159.4 116.2,162.1 116.3,160.1 116.4,161.6 116.5,160.1 116.6,161.0 116.7,160.1 116.8,160.8 116.9,159.2 117.0,160.8 117.1,159.2 117.2,160.8 117.3,159.2 117.4,160.5 117.5,158.8 117.6,160.3 117.7,158.9 117.8,160.3 117.9,159.0 118.0,160.6 118.1,159.7 118.2,160.8 118.3,159.7 118.4,161.0 118.5,159.8 118.6,161.3 118.7,159.6 118.8,161.2 118.9,159.6 119.0,161.9 119.1,159.6 119.2,162.9 119.3,160.5 119.4,163.3 119.5,160.5 119.6,164.3 119.7,160.6 119.8,165.9 119.9,160.2 120.0,165.3 120.1,161.7 120.2,164.4 120.3,161.4 120.4,164.3 120.5,161.4 120.6,164.1 120.7,162.1 120.8,164.2 120.9,163.0 121.0,165.2 121.1,165.2 121.2,170.4 121.3,167.4 121.4,177.0 121.5,169.5 121.6,187.0 121.7,171.8 121.8,190.7 121.9,171.8 122.0,200.5 122.1,171.8 122.2,206.0 122.3,173.2 122.4,212.2 122.5,173.2 122.6,226.1 122.7,173.2 122.8,214.2 122.9,173.2 123.0,213.6 123.1,173.8 123.2,212.4 123.3,174.5 123.4,205.6 123.5,174.8 123.6,210.1 123.7,175.7 123.8,210.6 123.9,176.0 124.0,207.9 124.1,175.9 124.2,205.4 124.3,175.8 124.4,210.5 124.5,175.5 124.6,205.6 124.7,174.4 124.8,206.1 124.9,174.4 125.0,206.2 125.1,174.4 125.2,200.9 125.3,175.1 125.4,203.0 125.5,175.1 125.6,201.3 125.7,175.1 125.8,200.1 125.9,176.1 126.0,196.7 126.1,175.8 126.2,195.1 126.3,175.4 126.4,193.7 126.5,173.5 126.6,188.4 126.7,173.2 126.8,189.4 126.9,172.9 127.0,186.4 127.1,171.0 127.2,184.1 127.3,170.7 127.4,183.1 127.5,170.5 127.6,184.1 127.7,169.1 127.8,179.7 127.9,168.9 128.0,180.2 128.1,168.7 128.2,177.6 128.3,167.9 128.4,177.2 128.5,167.8 128.6,177.2 128.7,167.5 128.8,174.0 128.9,167.2 129.0,173.6 129.1,167.0 129.2,173.7 129.3,166.8 129.4,172.0 129.5,166.7 129.6,171.4 129.7,166.5 129.8,171.9 129.9,166.3 130.0,171.5 130.1,167.5 130.2,170.1 130.3,167.2 130.4,169.8 130.5,167.0 130.6,169.0 130.7,166.9 130.8,169.4 130.9,166.7 131.0,169.0 131.1,167.7 131.2,169.3 131.3,166.9 131.4,169.8 131.5,166.7 131.6,170.4 131.7,166.5 131.8,170.4 131.9,166.7 132.0,166.0 132.1,165.2 132.2,172.6 132.3,163.6 132.4,165.6 132.5,163.4 132.6,165.9 132.7,163.4 132.8,165.7 132.9,163.3 133.0,166.2 133.1,163.4 133.2,166.1 133.3,166.9 133.4,166.7 133.5,160.3 133.6,165.4 133.7,160.4 133.8,165.8 133.9,161.1 134.0,166.9 134.1,162.1 134.2,166.2 134.3,161.4 134.4,165.4 134.5,161.3 134.6,164.9 134.7,161.3 134.8,165.8 134.9,161.3 135.0,166.2 135.1,161.2 135.2,167.1 135.3,161.0 135.4,167.4 135.5,160.9 135.6,168.1 135.7,160.7 135.8,169.0 135.9,160.5 136.0,169.3 136.1,160.6 136.2,169.3 136.3,160.4 136.4,169.1 136.5,160.3 136.6,168.5 136.7,160.5 136.8,167.9 136.9,160.4 137.0,166.2 137.1,160.2 137.2,166.2 137.3,159.8 137.4,165.9 137.5,159.7 137.6,165.0 137.7,159.5 137.8,164.6 137.9,159.0 138.0,163.8 138.1,158.9 138.2,162.4 138.3,158.8 138.4,163.0 138.5,159.4 138.6,162.4 138.7,159.3 138.8,162.0 138.9,159.2 139.0,161.1 139.1,158.7 139.2,160.7 139.3,158.6 139.4,160.0 139.5,158.5 139.6,159.6 139.7,158.7 139.8,159.6 139.9,158.6 140.0,159.3 140.1,158.5 140.2,159.0 140.3,158.7 140.4,158.9 140.5,158.6 140.6,158.7 140.7,158.5 140.8,158.5 140.9,157.9 141.0,158.4 141.1,157.9 141.2,158.4 141.3,157.9 141.4,158.5 141.5,157.5 141.6,158.6 141.7,157.5 141.8,160.1 141.9,157.5 142.0,160.4 142.1,157.9 142.2,160.1 142.3,157.9 142.4,160.0 142.5,157.9 142.6,159.8 142.7,157.3 142.8,159.9 142.9,157.3 143.0,160.2 143.1,157.3 143.2,160.3 143.3,158.2 143.4,159.9 143.5,158.2 143.6,160.3 143.7,158.2 143.8,160.6 143.9,157.6 144.0,160.5 144.1,157.6 144.2,161.0 144.3,157.2 144.4,161.8 144.5,157.9 144.6,165.1 144.7,158.0 144.8,166.4 144.9,158.0 145.0,167.6 145.1,157.5 145.2,172.6 145.3,157.5 145.4,169.7 145.5,157.6 145.6,169.4 145.7,158.7 145.8,170.7 145.9,158.7 146.0,168.4 146.1,158.8 146.2,167.7 146.3,159.5 146.4,166.3 146.5,159.7 146.6,165.7 146.7,159.8 146.8,165.9 146.9,158.8 147.0,165.6 147.1,158.9 147.2,168.9 147.3,159.0 147.4,169.1 147.5,159.6 147.6,169.7 147.7,159.7 147.8,173.2 147.9,159.9 148.0,173.9 148.1,160.4 148.2,174.0 148.3,160.6 148.4,177.0 148.5,160.8 148.6,177.3 148.7,160.1 148.8,176.5 148.9,160.2 149.0,174.5 149.1,160.4 149.2,179.3 149.3,162.1 149.4,177.0 149.5,162.3 149.6,179.9 149.7,182.6 149.8,179.1 149.9,162.6 150.0,180.6 150.1,162.8 150.2,178.5 150.3,162.9 150.4,176.5 150.5,162.2 150.6,175.8 150.7,162.1 150.8,176.5 150.9,162.0 151.0,175.8 151.1,161.5 151.2,175.2 151.3,161.4 151.4,173.5 151.5,161.3 151.6,175.8 151.7,161.6 151.8,172.6 151.9,161.5 152.0,172.3 152.1,161.4 152.2,171.4 152.3,161.9 152.4,169.8 152.5,161.8 152.6,169.4 152.7,161.7 152.8,168.5 152.9,161.1 153.0,167.4 153.1,161.1 153.2,167.6 153.3,161.1 153.4,166.5 153.5,161.0 153.6,166.7 153.7,161.1 153.8,165.1 153.9,161.1 154.0,165.6 154.1,161.8 154.2,165.2 154.3,161.8 154.4,165.3 154.5,161.9 154.6,165.2 154.7,160.9 154.8,164.6 154.9,160.9 155.0,165.3 155.1,161.0 155.2,165.3 155.3,160.5 155.4,165.6 155.5,160.5 155.6,165.4 155.7,160.6 155.8,166.9 155.9,160.7 156.0,165.1 156.1,160.7 156.2,166.2 156.3,160.8 156.4,165.7 156.5,162.2 156.6,165.7 156.7,162.2 156.8,165.0 156.9,162.3 157.0,165.2 157.1,163.0 157.2,165.0 157.3,163.1 157.4,165.0 157.5,163.2 157.6,166.8 157.7,163.8 157.8,168.3 157.9,163.5 158.0,169.7 158.1,163.5 158.2,174.6 158.3,162.5 158.4,174.5 158.5,162.6 158.6,173.7 158.7,162.6 158.8,174.8 158.9,179.1 159.0,173.7 159.1,163.1 159.2,172.0 159.3,163.1 159.4,168.1 159.5,161.7 159.6,166.4 159.7,161.7 159.8,167.1 159.9,162.2 160.0,166.4 160.1,163.0 160.2,167.2 160.3,162.9 160.4,167.2 160.5,162.4 160.6,168.8 160.7,161.5 160.8,169.8 160.9,161.4 161.0,168.3 161.1,161.4 161.2,167.8 161.3,161.9 161.4,167.8 161.5,161.9 161.6,167.0 161.7,162.0 161.8,165.4 161.9,162.5 162.0,166.2 162.1,162.6 162.2,165.5 162.3,162.7 162.4,166.5 162.5,162.2 162.6,167.0 162.7,162.3 162.8,167.8 162.9,162.3 163.0,170.8 163.1,162.2 163.2,171.5 163.3,162.3 163.4,171.8 163.5,162.4 163.6,171.7 163.7,162.2 163.8,173.6 163.9,162.3 164.0,173.2 164.1,162.4 164.2,173.3 164.3,163.6 164.4,175.6 164.5,163.6 164.6,177.0 164.7,163.5 164.8,176.1 164.9,163.3 165.0,177.9 165.1,163.2 165.2,181.5 165.3,184.1 165.4,179.3 165.5,162.1 165.6,175.1 165.7,162.1 165.8,172.7 165.9,162.0 166.0,173.3 166.1,163.4 166.2,172.3 166.3,163.8 166.4,170.4 166.5,163.7 166.6,169.2 166.7,162.4 166.8,168.0 166.9,162.4 167.0,166.4 167.1,162.1 167.2,166.2 167.3,162.6 167.4,165.4 167.5,162.4 167.6,165.1 167.7,162.3 167.8,164.2 167.9,162.7 168.0,163.6 168.1,162.5 168.2,163.1 168.3,162.2 168.4,162.6 168.5,161.2 168.6,162.4 168.7,161.0 168.8,162.2 168.9,160.9 169.0,161.8 169.1,160.7 169.2,161.6 169.3,160.5 169.4,161.4 169.5,160.4 169.6,161.1 169.7,160.3 169.8,161.1 169.9,160.3 170.0,161.1 170.1,160.4 170.2,160.9 170.3,160.3 170.4,160.9 170.5,160.4 170.6,160.8 170.7,160.7 170.8,160.7 170.9,160.1 171.0,160.5 171.1,160.1 171.2,160.5 171.3,160.1 171.4,160.4 171.5,159.9 171.6,160.6 171.7,160.1 171.8,161.9 171.9,160.0 172.0,162.9 172.1,160.0 172.2,163.3 172.3,159.9 172.4,165.2 172.5,159.5 172.6,165.3 172.7,160.7 172.8,168.8 172.9,160.9 173.0,169.4 173.1,161.0 173.2,173.1 173.3,179.8 173.4,176.9 173.5,161.1 173.6,179.5 173.7,161.2 173.8,180.1 173.9,160.8 174.0,177.0 174.1,160.9 174.2,173.8 174.3,161.1 174.4,174.2 174.5,162.8 174.6,174.1 174.7,163.0 174.8,174.0 174.9,163.1 175.0,174.7 175.1,163.7 175.2,173.3 175.3,163.8 175.4,172.3 175.5,163.7 175.6,171.2 175.7,163.2 175.8,170.8 175.9,163.2 176.0,170.4 176.1,163.1 176.2,170.4 176.3,162.0 176.4,169.4 176.5,162.0 176.6,168.3 176.7,161.9 176.8,168.5 176.9,162.6 177.0,168.6 177.1,162.5 177.2,168.7 177.3,162.5 177.4,167.5 177.5,163.1 177.6,167.3 177.7,163.0 177.8,166.7 177.9,163.0 178.0,166.5 178.1,162.0 178.2,165.9 178.3,162.0 178.4,166.0 178.5,161.9 178.6,166.7 178.7,161.9 178.8,168.1 178.9,161.8 179.0,168.0 179.1,161.8 179.2,167.3 179.3,161.6 179.4,168.8 179.5,161.6 179.6,168.9 179.7,169.8 179.8,168.1 179.9,161.4 180.0,168.6 180.1,161.4 180.2,166.4 180.3,161.3 180.4,165.8 180.5,160.8 180.6,164.9 180.7,160.8 180.8,164.6 180.9,160.9 181.0,164.0 181.1,160.3 181.2,163.1 181.3,160.3 181.4,162.5 181.5,160.2 181.6,162.6 181.7,160.4 181.8,162.0 181.9,160.3 182.0,161.5 182.1,160.2 182.2,161.2 182.3,159.8 182.4,160.8 182.5,159.7 182.6,160.6 182.7,159.7 182.8,160.5 182.9,159.9 183.0,160.3 183.1,159.9 183.2,160.2 183.3,159.8 183.4,160.0 183.5,159.9 183.6,159.8 183.7,159.7 183.8,159.8 183.9,159.5 184.0,159.6 184.1,159.3 184.2,159.3 184.3,159.1 184.4,159.1 184.5,158.9 184.6,158.9 184.7,158.7 184.8,158.7 184.9,158.5 185.0,158.4 185.1,158.4 185.2,158.4 185.3,158.4 185.4,158.4 185.5,158.5 185.6,159.2 185.7,159.8 185.8,161.2 185.9,160.8 186.0,162.6 186.1,161.2 186.2,163.7 186.3,161.5 186.4,165.2 186.5,161.0 186.6,165.9 186.7,161.2 186.8,167.4 186.9,161.5 187.0,167.5 187.1,161.4 187.2,169.2 187.3,161.6 187.4,170.4 187.5,161.9 187.6,171.2 187.7,161.9 187.8,171.5 187.9,162.0 188.0,173.2 188.1,162.1 188.2,173.2 188.3,162.8 188.4,172.1 188.5,162.9 188.6,173.4 188.7,163.0 188.8,172.9 188.9,176.2 189.0,174.8 189.1,162.8 189.2,173.9 189.3,162.9 189.4,172.4 189.5,162.1 189.6,172.0 189.7,162.2 189.8,171.8 189.9,162.4 190.0,169.8 190.1,163.4 190.2,169.7 190.3,163.5 190.4,168.7 190.5,163.6 190.6,166.6 190.7,164.7 190.8,165.3 190.9,164.1 191.0,164.4 191.1,164.1 191.2,164.3 191.3,164.1 191.4,164.6 191.5,164.6 191.6,165.6 191.7,164.7 191.8,166.6 191.9,163.7 192.0,166.8 192.1,163.8 192.2,167.8 192.3,163.9 192.4,168.8 192.5,165.3 192.6,169.9 192.7,165.4 192.8,171.4 192.9,165.5 193.0,172.1 193.1,165.1 193.2,172.3 193.3,165.2 193.4,174.0 193.5,165.1 193.6,174.4 193.7,165.1 193.8,175.2 193.9,165.0 194.0,175.7 194.1,164.8 194.2,174.0 194.3,165.4 194.4,174.1 194.5,165.2 194.6,175.2 194.7,176.2 194.8,174.5 194.9,165.4 195.0,172.7 195.1,165.2 195.2,173.2 195.3,165.1 195.4,172.5 195.5,163.9 195.6,171.2 195.7,163.8 195.8,170.7 195.9,163.7 196.0,169.0 196.1,162.8 196.2,167.7 196.3,162.6 196.4,167.1 196.5,162.4 196.6,165.5 196.7,161.5 196.8,165.1 196.9,161.4 197.0,165.3 197.1,161.3 197.2,164.6 197.3,160.9 197.4,164.3 197.5,160.8 197.6,163.3 197.7,160.6 197.8,163.1 197.9,161.4 198.0,162.8 198.1,161.0 198.2,162.3 198.3,160.8 198.4,162.3 198.5,160.3 198.6,162.1 198.7,160.1 198.8,161.9 198.9,160.0 199.0,161.6 199.1,159.9 199.2,161.4 199.3,160.1 199.4,161.3 199.5,160.0 199.6,161.2 199.7,159.6 199.8,161.1 199.9,159.7 200.0,161.2 200.1,159.6 200.2,162.3 200.3,160.8 200.4,163.6 200.5,160.8 200.6,165.0 200.7,160.6 200.8,166.2 200.9,160.2 201.0,167.3 201.1,160.2 201.2,167.1 201.3,160.2 201.4,168.6 201.5,159.2 201.6,170.6 201.7,175.5 201.8,171.3 201.9,159.2 202.0,166.5 202.1,159.2 202.2,165.5 202.3,159.2 202.4,163.7 202.5,159.1 202.6,163.5 202.7,160.5 202.8,162.7 202.9,160.5 203.0,162.3 203.1,160.4 203.2,161.9 203.3,161.1 203.4,161.4 203.5,160.5 203.6,161.3 203.7,160.5 203.8,161.1 203.9,159.5 204.0,161.2 204.1,159.4 204.2,161.5 204.3,159.4 204.4,162.0 204.5,158.8 204.6,161.8 204.7,158.8 204.8,162.7 204.9,158.8 205.0,164.0 205.1,158.7 205.2,163.7 205.3,158.7 205.4,163.0 205.5,158.7 205.6,162.5 205.7,158.4 205.8,162.5 205.9,158.4 206.0,162.0 206.1,158.4 206.2,163.3 206.3,158.5 206.4,163.1 206.5,158.5 206.6,162.4 206.7,158.5 206.8,162.9 206.9,158.8 207.0,163.3 207.1,158.8 207.2,163.3 207.3,158.8 207.4,163.5 207.5,159.5 207.6,163.7 207.7,159.5 207.8,163.3 207.9,159.4 208.0,162.8 208.1,158.8 208.2,161.9 208.3,158.8 208.4,161.6 208.5,158.7 208.6,161.8 208.7,158.6 208.8,161.3 208.9,158.6 209.0,161.4 209.1,158.5 209.2,160.6 209.3,158.7 209.4,160.8 209.5,158.7 209.6,160.6 209.7,158.6 209.8,160.3 209.9,159.1 210.0,160.2 210.1,159.0 210.2,159.8 210.3,159.0 210.4,159.8 210.5,158.6 210.6,159.5 210.7,158.6 210.8,159.6 210.9,158.5 211.0,159.8 211.1,158.3 211.2,159.7 211.3,158.3 211.4,159.6 211.5,158.2 211.6,159.4 211.7,158.4 211.8,159.2 211.9,158.4 212.0,159.3 212.1,158.3 212.2,159.0 212.3,158.0 212.4,159.1 212.5,157.9 212.6,160.1 212.7,157.9 212.8,160.5 212.9,157.5 213.0,160.3 213.1,157.6 213.2,160.7 213.3,157.6 213.4,161.1 213.5,157.7 213.6,161.6 213.7,157.7 213.8,161.3 213.9,157.7 214.0,162.4 214.1,157.8 214.2,161.6 214.3,157.8 214.4,163.0 214.5,157.9 214.6,163.0 214.7,157.8 214.8,162.5 214.9,157.8 215.0,162.2 215.1,157.9 215.2,162.6 215.3,158.5 215.4,162.9 215.5,158.6 215.6,164.0 215.7,158.5 215.8,163.2 215.9,157.9 216.0,162.4 216.1,157.8 216.2,162.0 216.3,157.7 216.4,161.1 216.5,158.1 216.6,161.4 216.7,158.1 216.8,160.8 216.9,158.0 217.0,160.4 217.1,157.4 217.2,160.2 217.3,157.3 217.4,159.5 217.5,157.2 217.6,159.3 217.7,157.3 217.8,158.7 217.9,157.2 218.0,158.5 218.1,157.1 218.2,158.1 218.3,156.6 218.4,157.9 218.5,156.5 218.6,157.6 218.7,156.4 218.8,157.4 218.9,157.2 219.0,157.6 219.1,157.1 219.2,157.3 219.3,156.9 219.4,156.9 219.5,156.6 219.6,156.7 219.7,156.3 219.8,156.3 219.9,156.1 220.0,156.2 220.1,156.1 220.2,157.0 220.3,156.0 220.4,157.0 220.5,155.9 220.6,156.5 220.7,155.8 220.8,156.4 220.9,155.8 221.0,157.1 221.1,155.7 221.2,156.9 221.3,155.6 221.4,156.4 221.5,155.5 221.6,156.3 221.7,155.5 221.8,156.1 221.9,155.5 222.0,156.1 222.1,155.5 222.2,155.9 222.3,155.6 222.4,155.9 222.5,155.6 222.6,155.9 222.7,155.7 222.8,156.0 222.9,155.8 223.0,155.9 223.1,155.7 223.2,156.0 223.3,155.6 223.4,156.0 223.5,155.6 223.6,156.1 223.7,156.0 223.8,156.2 223.9,156.1 224.0,156.3 224.1,156.2 224.2,156.5 224.3,155.8 224.4,157.0 224.5,155.9 224.6,158.0 224.7,156.0 224.8,158.5 224.9,155.9 225.0,158.5 225.1,156.0 225.2,158.6 225.3,156.2 225.4,159.1 225.5,156.8 225.6,159.6 225.7,156.9 225.8,160.2 225.9,157.0 226.0,160.1 226.1,156.6 226.2,160.7 226.3,156.8 226.4,160.6 226.5,156.9 226.6,163.5 226.7,157.1 226.8,163.2 226.9,157.2 227.0,163.5 227.1,157.4 227.2,163.7 227.3,156.9 227.4,162.8 227.5,155.9 227.6,161.5 227.7,155.9 227.8,161.4 227.9,156.6 228.0,161.3 228.1,156.7 228.2,161.0 228.3,156.7 228.4,161.2 228.5,156.5 228.6,160.0 228.7,156.6 228.8,160.1 228.9,156.6 229.0,160.0 229.1,156.4 229.2,159.7 229.3,156.5 229.4,159.1 229.5,156.6 229.6,159.1 229.7,156.6 229.8,158.6 229.9,156.7 230.0,158.3 230.1,156.7 230.2,158.2 230.3,156.9 230.4,158.2 230.5,156.9 230.6,158.0 230.7,157.0 230.8,157.9 230.9,156.8 231.0,157.6 231.1,156.8 231.2,157.7 231.3,156.8 231.4,157.5 231.5,156.8 231.6,157.5 231.7,156.8 231.8,157.4 231.9,156.8 232.0,157.3 232.1,156.5 232.2,157.1 232.3,156.5 232.4,157.1 232.5,156.5 232.6,157.1 232.7,157.0 232.8,157.1 232.9,157.0 233.0,157.0 233.1,157.0 233.2,156.9 233.3,156.9 233.4,156.9 233.5,156.8 233.6,156.8 233.7,156.8 233.8,156.7 233.9,156.7 234.0,156.7 234.1,156.6 234.2,156.6 234.3,156.6 234.4,156.5 234.5,156.5 234.6,156.5 234.7,156.4 234.8,156.4 234.9,156.4 235.0,156.6 235.1,156.3 235.2,156.5 235.3,156.3 235.4,156.4 235.5,156.3 235.6,156.4 235.7,156.3 235.8,156.5 235.9,156.4 236.0,156.5 236.1,156.5 236.2,157.1 236.3,156.6 236.4,157.2 236.5,156.6 236.6,157.1 236.7,156.7 236.8,157.2 236.9,156.8 237.0,157.0 237.1,156.9 237.2,157.2 237.3,157.0 237.4,157.2 237.5,157.0 237.6,157.2 237.7,157.1 237.8,157.3 237.9,157.2 238.0,157.4 238.1,157.4 238.2,157.5 238.3,157.5 238.4,157.6 238.5,157.6 238.6,157.7 238.7,157.7 238.8,157.8 238.9,157.8 239.0,157.9 239.1,157.9 239.2,158.0 239.3,158.2 239.4,158.4 239.5,158.4 239.6,158.7 239.7,158.7 239.8,158.9 239.9,158.9 240.0,159.1 240.1,158.9 240.2,161.3 240.3,158.9 240.4,161.6 240.5,159.3 240.6,163.4 240.7,159.3 240.8,164.8 240.9,159.4 241.0,166.9 241.1,160.0 241.2,168.7 241.3,160.1 241.4,168.9 241.5,172.7 241.6,168.5 241.7,159.6 241.8,167.3 241.9,159.7 242.0,165.7 242.1,159.7 242.2,163.0 242.3,159.4 242.4,162.6 242.5,159.9 242.6,162.5 242.7,160.0 242.8,162.4 242.9,160.6 243.0,162.3 243.1,160.7 243.2,162.0 243.3,160.8 243.4,161.8 243.5,160.1 243.6,161.3 243.7,159.9 243.8,161.0 243.9,159.7 244.0,160.7 244.1,159.5 244.2,160.3 244.3,159.3 244.4,159.9 244.5,159.1 244.6,159.5 244.7,159.4 244.8,159.2 244.9,159.0 245.0,158.8 245.1,158.5 245.2,158.4 245.3,158.1 245.4,158.2 245.5,157.8 245.6,158.0 245.7,157.6 245.8,158.4 245.9,157.2 246.0,158.1 246.1,157.0 246.2,157.5 246.3,156.8 246.4,157.4 246.5,156.8 246.6,157.0 246.7,156.6 246.8,156.8 246.9,156.4 247.0,156.5 247.1,156.3 247.2,156.4 247.3,156.3 247.4,156.4 247.5,156.7 247.6,157.3 247.7,156.1 247.8,158.1 247.9,156.0 248.0,159.4 248.1,155.9 248.2,160.3 248.3,155.9 248.4,160.5 248.5,162.8 248.6,160.4 248.7,155.7 248.8,161.0 248.9,156.2 249.0,159.5 249.1,156.1 249.2,159.2 249.3,156.0 249.4,158.3 249.5,155.3 249.6,157.7 249.7,155.2 249.8,157.8 249.9,155.2 250.0,157.7 250.1,155.9 250.2,158.6 250.3,156.0 250.4,158.1 250.5,156.0 250.6,157.9 250.7,156.3 250.8,158.2 250.9,156.1 251.0,157.8 251.1,156.1 251.2,160.9 251.3,155.9 251.4,162.1 251.5,156.0 251.6,164.6 251.7,168.6 251.8,164.5 251.9,155.7 252.0,164.6 252.1,155.8 252.2,163.2 252.3,155.8 252.4,161.5 252.5,156.1 252.6,160.3 252.7,156.4 252.8,160.6 252.9,156.4 253.0,159.9 253.1,156.0 253.2,158.9 253.3,156.0 253.4,158.7 253.5,156.0 253.6,157.8 253.7,156.5 253.8,157.5 253.9,156.4 254.0,157.5 254.1,156.3 254.2,157.3 254.3,156.7 254.4,157.2 254.5,156.6 254.6,157.0 254.7,156.5 254.8,156.8 254.9,155.7 255.0,156.4 255.1,155.6 255.2,156.3 255.3,155.6 255.4,156.3 255.5,155.4 255.6,156.4 255.7,155.4 255.8,156.3 255.9,155.3 256.0,156.5 256.1,155.8 256.2,156.7 256.3,155.8 256.4,156.9 256.5,155.9 256.6,157.0 256.7,156.0 256.8,157.2 256.9,156.1 257.0,157.5 257.1,156.2 257.2,157.6 257.3,155.8 257.4,158.6 257.5,156.0 257.6,159.2 257.7,156.1 257.8,158.9 257.9,156.3 258.0,159.5 258.1,156.4 258.2,159.0 258.3,156.4 258.4,159.4 258.5,156.8 258.6,159.1 258.7,157.1 258.8,160.5 258.9,157.7 259.0,161.4 259.1,160.9 259.2,163.8 259.3,164.3 259.4,165.1 259.5,165.7 259.6,167.6 259.7,171.1 259.8,174.8 259.9,178.3 260.0,182.0 260.1,185.5 260.2,189.2 260.3,188.1 260.4,204.5 260.5,189.9 260.6,216.2 260.7,189.9 260.8,237.9 260.9,190.9 261.0,251.6 261.1,190.9 261.2,257.6 261.3,190.9 261.4,286.2 261.5,192.5 261.6,257.3 261.7,192.5 261.8,258.1 261.9,192.5 262.0,243.2 262.1,189.3 262.2,234.8 262.3,189.3 262.4,226.6 262.5,189.1 262.6,215.7 262.7,186.7 262.8,210.7 262.9,183.8 263.0,206.1 263.1,181.0 263.2,203.2 263.3,180.6 263.4,203.0 263.5,176.6 263.6,196.8 263.7,175.0 263.8,194.9 263.9,173.0 264.0,193.4 264.1,172.8 264.2,192.5 264.3,172.6 264.4,189.7 264.5,169.7 264.6,189.5 264.7,169.3 264.8,193.7 264.9,168.8 265.0,194.3 265.1,169.9 265.2,202.2 265.3,206.4 265.4,196.7 265.5,169.0 265.6,191.3 265.7,167.3 265.8,185.8 265.9,166.8 266.0,187.0 266.1,166.4 266.2,179.7 266.3,168.3 266.4,177.6 266.5,167.8 266.6,174.8 266.7,167.4 266.8,173.4 266.9,166.1 267.0,170.4 267.1,165.8 267.2,170.0 267.3,165.6 267.4,168.7 267.5,166.7 267.6,167.7 267.7,166.4 267.8,166.5 267.9,165.8 268.0,165.2 268.1,164.4 268.2,164.5 268.3,164.0 268.4,164.5 268.5,163.4 268.6,165.8 268.7,163.0 268.8,169.4 268.9,164.0 269.0,172.5 269.1,164.9 269.2,174.7 269.3,166.3 269.4,181.1 269.5,167.3 269.6,181.5 269.7,168.2 269.8,182.0 269.9,170.1 270.0,185.5 270.1,171.1 270.2,186.4 270.3,172.0 270.4,187.3 270.5,174.0 270.6,185.0 270.7,174.5 270.8,187.7 270.9,175.2 271.0,189.7 271.1,175.6 271.2,190.7 271.3,176.3 271.4,189.8 271.5,195.7 271.6,192.9 271.7,178.7 271.8,194.7 271.9,179.4 272.0,194.8 272.1,180.0 272.2,194.1 272.3,180.3 272.4,192.8 272.5,181.0 272.6,193.3 272.7,181.8 272.8,192.3 272.9,180.0 273.0,193.2 273.1,180.1 273.2,191.5 273.3,180.2 273.4,188.4 273.5,180.1 273.6,186.6 273.7,180.1 273.8,185.7 273.9,180.3 274.0,186.0 274.1,180.8 274.2,185.9 274.3,180.8 274.4,185.8 274.5,181.4 274.6,187.8 274.7,180.3 274.8,188.1 274.9,180.1 275.0,188.9 275.1,180.0 275.2,188.2 275.3,179.6 275.4,187.8 275.5,179.1 275.6,189.7 275.7,178.7 275.8,194.4 275.9,178.0 276.0,195.0 276.1,177.6 276.2,198.6 276.3,177.0 276.4,205.0 276.5,178.9 276.6,206.8 276.7,178.7 276.8,205.4 276.9,178.4 277.0,209.1 277.1,220.7 277.2,212.5 277.3,176.7 277.4,210.6 277.5,176.4 277.6,209.2 277.7,179.0 277.8,208.5 277.9,178.5 278.0,205.0 278.1,178.0 278.2,208.0 278.3,176.1 278.4,205.4 278.5,175.6 278.6,199.1 278.7,175.0 278.8,198.8 278.9,175.6 279.0,197.9 279.1,175.1 279.2,192.2 279.3,174.6 279.4,193.4 279.5,171.8 279.6,195.3 279.7,171.3 279.8,194.3 279.9,170.8 280.0,193.3 280.1,172.5 280.2,190.4 280.3,171.9 280.4,184.5 280.5,171.6 280.6,184.9 280.7,169.8 280.8,179.6 280.9,169.6 281.0,179.7 281.1,169.4 281.2,177.5 281.3,171.0 281.4,175.3 281.5,170.7 281.6,173.4 281.7,170.4 281.8,172.2 281.9,168.4 282.0,169.9 282.1,168.4 282.2,168.8 282.3,168.0 282.4,168.7 282.5,166.6 282.6,169.4 282.7,166.9 282.8,173.1 282.9,167.3 283.0,176.2 283.1,169.6 283.2,178.7 283.3,187.5 283.4,182.6 283.5,170.4 283.6,184.6 283.7,171.7 283.8,181.7 283.9,172.1 284.0,181.5 284.1,172.5 284.2,180.5 284.3,173.0 284.4,181.1 284.5,173.6 284.6,179.9 284.7,173.9 284.8,179.8 284.9,173.5 285.0,182.8 285.1,173.9 285.2,180.3 285.3,174.3 285.4,179.5 285.5,173.3 285.6,178.6 285.7,173.7 285.8,179.1 285.9,174.1 286.0,178.9 286.1,174.1 286.2,179.1 286.3,174.5 286.4,180.3 286.5,174.9 286.6,180.0 286.7,174.5 286.8,180.9 286.9,174.9 287.0,182.4 287.1,175.3 287.2,182.9 287.3,176.6 287.4,183.5 287.5,176.9 287.6,184.4 287.7,177.3 287.8,185.5 287.9,178.0 288.0,186.3 288.1,178.4 288.2,186.5 288.3,178.8 288.4,188.8 288.5,178.8 288.6,189.4 288.7,179.2 288.8,189.9 288.9,179.7 289.0,191.3 289.1,180.0 289.2,189.2 289.3,180.4 289.4,189.4 289.5,180.9 289.6,190.6 289.7,180.8 289.8,189.8 289.9,181.2 290.0,189.6 290.1,181.5 290.2,190.6 290.3,182.9 290.4,191.5 290.5,183.2 290.6,191.8 290.7,183.6 290.8,191.9 290.9,182.6 291.0,191.7 291.1,182.9 291.2,192.9 291.3,183.3 291.4,192.8 291.5,183.3 291.6,193.1 291.7,183.6 291.8,193.7 291.9,183.9 292.0,194.8 292.1,184.7 292.2,192.7 292.3,184.8 292.4,194.8 292.5,184.8 292.6,196.7 292.7,184.9 292.8,196.5 292.9,184.9 293.0,193.9 293.1,184.9 293.2,193.8 293.3,187.3 293.4,193.1 293.5,187.6 293.6,192.4 293.7,187.6 293.8,192.3 293.9,186.7 294.0,191.7 294.1,186.7 294.2,195.2 294.3,186.8 294.4,197.1 294.5,188.6 294.6,197.3 294.7,188.6 294.8,198.5 294.9,188.6 295.0,199.7 295.1,186.4 295.2,201.1 295.3,186.2 295.4,199.9 295.5,186.2 295.6,204.9 295.7,184.4 295.8,203.4 295.9,184.4 296.0,208.0 296.1,212.5 296.2,209.7 296.3,187.5 296.4,206.6 296.5,187.5 296.6,203.3 296.7,187.5 296.8,206.0 296.9,188.7 297.0,200.9 297.1,188.6 297.2,201.7 297.3,188.5 297.4,201.1 297.5,187.8 297.6,197.2 297.7,187.6 297.8,195.8 297.9,187.4 298.0,196.7 298.1,187.4 298.2,195.5 298.3,187.2 298.4,194.4 298.5,186.9 298.6,194.0 298.7,185.9 298.8,192.9 298.9,185.6 299.0,191.7 299.1,185.4 299.2,191.5 299.3,185.8 299.4,193.3 299.5,185.5 299.6,192.7 299.7,185.3 299.8,191.1 299.9,183.6 300.0,190.1 300.1,183.4 300.2,190.3 300.3,183.2 300.4,190.3 300.5,182.5 300.6,189.6 300.7,182.3 300.8,188.1 300.9,182.1 301.0,188.3 301.1,183.6 301.2,188.4 301.3,183.4 301.4,187.5 301.5,183.2 301.6,187.5 301.7,182.4 301.8,189.2 301.9,182.3 302.0,188.8 302.1,182.1 302.2,187.6 302.3,180.8 302.4,188.1 302.5,180.7 302.6,187.3 302.7,180.7 302.8,187.6 302.9,180.4 303.0,189.7 303.1,180.2 303.2,189.4 303.3,180.1 303.4,189.0 303.5,179.1 303.6,189.5 303.7,179.0 303.8,189.1 303.9,178.8 304.0,191.4 304.1,180.0 304.2,193.3 304.3,179.9 304.4,198.2 304.5,179.8 304.6,194.5 304.7,178.9 304.8,191.4 304.9,178.7 305.0,189.6 305.1,178.6 305.2,187.0 305.3,179.9 305.4,187.8 305.5,180.2 305.6,186.8 305.7,180.1 305.8,187.2 305.9,179.2 306.0,186.7 306.1,179.1 306.2,186.1 306.3,179.0 306.4,185.1 306.5,178.6 306.6,186.3 306.7,178.5 306.8,185.8 306.9,178.4 307.0,184.1 307.1,179.1 307.2,184.1 307.3,178.9 307.4,184.3 307.5,178.7 307.6,184.1 307.7,178.1 307.8,183.3 307.9,177.9 308.0,182.8 308.1,177.7 308.2,182.7 308.3,176.3 308.4,182.8 308.5,176.1 308.6,181.9 308.7,175.9 308.8,181.7 308.9,175.3 309.0,181.6 309.1,175.1 309.2,180.7 309.3,174.9 309.4,179.9 309.5,176.7 309.6,179.7 309.7,176.5 309.8,179.4 309.9,176.3 310.0,179.7 310.1,175.9 310.2,178.9 310.3,175.7 310.4,179.0 310.5,175.5 310.6,178.6 310.7,175.7 310.8,178.1 310.9,175.6 311.0,177.7 311.1,175.4 311.2,177.5 311.3,174.5 311.4,177.0 311.5,174.3 311.6,176.6 311.7,174.2 311.8,176.5 311.9,174.0 312.0,176.4 312.1,173.9 312.2,175.8 312.3,173.7 312.4,175.8 312.5,174.7 312.6,175.4 312.7,174.6 312.8,175.2 312.9,174.4 313.0,175.0 313.1,174.2 313.2,175.0 313.3,174.1 313.4,174.8 313.5,173.9 313.6,174.7 313.7,173.6 313.8,176.1 313.9,173.4 314.0,176.3 314.1,173.1 314.2,175.3 314.3,171.5 314.4,174.8 314.5,171.3 314.6,174.1 314.7,171.1 314.8,174.3 314.9,170.6 315.0,174.2 315.1,170.4 315.2,173.2 315.3,170.2 315.4,172.8 315.5,170.6 315.6,173.3 315.7,170.4 315.8,172.7 315.9,170.2 316.0,172.6 316.1,170.6 316.2,172.4 316.3,170.4 316.4,171.9 316.5,170.2 316.6,171.6 316.7,169.9 316.8,171.2 316.9,169.7 317.0,170.6 317.1,169.6 317.2,170.5 317.3,169.0 317.4,170.1 317.5,168.8 317.6,169.6 317.7,168.6 317.8,169.3 317.9,168.5 318.0,169.0 318.1,168.7 318.2,168.8 318.3,168.6 318.4,168.6 318.5,168.4 318.6,168.6 318.7,168.6 318.8,169.0 318.9,169.1 319.0,170.0 319.1,170.5 319.2,171.1 319.3,171.5 319.4,172.1 319.5,172.3 319.6,173.0 319.7,173.7 319.8,174.8 319.9,175.2 320.0,176.3 320.1,176.4 320.2,177.6 320.3,176.6 320.4,178.9 320.5,177.8 320.6,180.1 320.7,178.9 320.8,181.3 320.9,180.7 321.0,182.8 321.1,181.4 321.2,183.7 321.3,181.9 321.4,184.0 321.5,181.1 321.6,185.2 321.7,181.6 321.8,185.5 321.9,182.1 322.0,186.8" fill="none" stroke="#5FBC4E" stroke-width="2.5" stroke-linejoin="round" stroke-linecap="butt"/><circle cx="51.20" cy="165.79" r="3.3" fill="#E8241F"/><circle cx="57.94" cy="163.30" r="3.3" fill="#E8241F"/><circle cx="61.16" cy="166.96" r="3.3" fill="#E8241F"/><circle cx="64.09" cy="166.96" r="3.3" fill="#E8241F"/><circle cx="67.75" cy="166.23" r="3.3" fill="#E8241F"/><circle cx="57.94" cy="173.11" r="3.3" fill="#E8241F"/><circle cx="62.18" cy="171.35" r="3.3" fill="#E8241F"/><circle cx="65.55" cy="169.89" r="3.3" fill="#E8241F"/><circle cx="72.14" cy="172.09" r="3.3" fill="#E8241F"/><circle cx="72.58" cy="176.92" r="3.3" fill="#E8241F"/><circle cx="65.11" cy="186.29" r="3.3" fill="#E8241F"/><circle cx="62.18" cy="193.61" r="3.3" fill="#E8241F"/><circle cx="75.51" cy="189.22" r="3.3" fill="#E8241F"/><circle cx="76.53" cy="199.61" r="3.3" fill="#E8241F"/><circle cx="82.68" cy="194.49" r="3.3" fill="#E8241F"/><circle cx="86.05" cy="192.58" r="3.3" fill="#E8241F"/><circle cx="87.51" cy="194.05" r="3.3" fill="#E8241F"/><circle cx="91.47" cy="174.28" r="3.3" fill="#E8241F"/><circle cx="93.37" cy="175.74" r="3.3" fill="#E8241F"/><circle cx="88.25" cy="181.89" r="3.3" fill="#E8241F"/><circle cx="94.10" cy="182.33" r="3.3" fill="#E8241F"/><circle cx="98.49" cy="183.80" r="3.3" fill="#E8241F"/><circle cx="102.15" cy="172.38" r="3.3" fill="#E8241F"/><circle cx="106.55" cy="177.51" r="3.3" fill="#E8241F"/><circle cx="110.65" cy="167.70" r="3.3" fill="#E8241F"/><circle cx="113.72" cy="160.81" r="3.3" fill="#E8241F"/><circle cx="116.06" cy="163.30" r="3.3" fill="#E8241F"/><circle cx="121.33" cy="160.08" r="3.3" fill="#E8241F"/><circle cx="122.36" cy="168.72" r="3.3" fill="#E8241F"/><circle cx="122.36" cy="196.98" r="3.3" fill="#E8241F"/><circle cx="125.29" cy="194.78" r="3.3" fill="#E8241F"/><circle cx="122.65" cy="208.69" r="3.3" fill="#E8241F"/><circle cx="139.63" cy="162.41" r="3.3" fill="#E8241F"/><circle cx="149.85" cy="175.26" r="3.3" fill="#E8241F"/><circle cx="152.33" cy="168.25" r="3.3" fill="#E8241F"/><circle cx="155.25" cy="166.21" r="3.3" fill="#E8241F"/><circle cx="158.90" cy="171.90" r="3.3" fill="#E8241F"/><circle cx="162.99" cy="170.88" r="3.3" fill="#E8241F"/><circle cx="165.47" cy="173.50" r="3.3" fill="#E8241F"/><circle cx="170.58" cy="160.65" r="3.3" fill="#E8241F"/><circle cx="172.77" cy="162.85" r="3.3" fill="#E8241F"/><circle cx="174.23" cy="166.49" r="3.3" fill="#E8241F"/><circle cx="176.42" cy="170.58" r="3.3" fill="#E8241F"/><circle cx="173.50" cy="172.62" r="3.3" fill="#E8241F"/><circle cx="185.17" cy="168.25" r="3.3" fill="#E8241F"/><circle cx="188.10" cy="166.49" r="3.3" fill="#E8241F"/><circle cx="191.75" cy="165.77" r="3.3" fill="#E8241F"/><circle cx="193.93" cy="184.02" r="3.3" fill="#E8241F"/><circle cx="200.50" cy="163.57" r="3.3" fill="#E8241F"/><circle cx="201.23" cy="166.49" r="3.3" fill="#E8241F"/><circle cx="201.67" cy="169.71" r="3.3" fill="#E8241F"/><circle cx="213.20" cy="160.65" r="3.3" fill="#E8241F"/><circle cx="215.98" cy="166.49" r="3.3" fill="#E8241F"/><circle cx="222.84" cy="155.11" r="3.3" fill="#E8241F"/><circle cx="225.32" cy="157.44" r="3.3" fill="#E8241F"/><circle cx="228.24" cy="159.20" r="3.3" fill="#E8241F"/><circle cx="227.22" cy="164.74" r="3.3" fill="#E8241F"/><circle cx="237.00" cy="161.39" r="3.3" fill="#E8241F"/><circle cx="238.24" cy="161.64" r="3.3" fill="#E8241F"/><circle cx="244.42" cy="164.42" r="3.3" fill="#E8241F"/><circle cx="247.51" cy="163.49" r="3.3" fill="#E8241F"/><circle cx="251.22" cy="168.28" r="3.3" fill="#E8241F"/><circle cx="253.69" cy="163.18" r="3.3" fill="#E8241F"/><circle cx="259.41" cy="165.81" r="3.3" fill="#E8241F"/><circle cx="260.65" cy="183.74" r="3.3" fill="#E8241F"/><circle cx="271.00" cy="176.32" r="3.3" fill="#E8241F"/><circle cx="268.99" cy="185.90" r="3.3" fill="#E8241F"/><circle cx="265.28" cy="205.38" r="3.3" fill="#E8241F"/><circle cx="261.11" cy="222.69" r="3.3" fill="#E8241F"/><circle cx="261.27" cy="236.29" r="3.3" fill="#E8241F"/><circle cx="261.42" cy="244.32" r="3.3" fill="#E8241F"/><circle cx="282.90" cy="172.46" r="3.3" fill="#E8241F"/><circle cx="286.00" cy="175.86" r="3.3" fill="#E8241F"/><circle cx="290.63" cy="181.73" r="3.3" fill="#E8241F"/><circle cx="296.20" cy="207.70" r="3.3" fill="#E8241F"/><text x="37.7" y="12.1" font-size="15.2" fill="#000">(A) Long: GARCH−Normal</text></g>
<g><line x1="370.2" x2="683.6" y1="79.15" y2="79.15" stroke="#ebebeb" stroke-width="0.85"/><line x1="370.2" x2="683.6" y1="147.05" y2="147.05" stroke="#ebebeb" stroke-width="0.85"/><line x1="370.2" x2="683.6" y1="214.95" y2="214.95" stroke="#ebebeb" stroke-width="0.85"/><line x1="370.2" x2="683.6" y1="282.85" y2="282.85" stroke="#ebebeb" stroke-width="0.85"/><line x1="390.38" x2="390.38" y1="22.0" y2="299.6" stroke="#ebebeb" stroke-width="0.85"/><line x1="475.02" x2="475.02" y1="22.0" y2="299.6" stroke="#ebebeb" stroke-width="0.85"/><line x1="559.67" x2="559.67" y1="22.0" y2="299.6" stroke="#ebebeb" stroke-width="0.85"/><line x1="644.33" x2="644.33" y1="22.0" y2="299.6" stroke="#ebebeb" stroke-width="0.85"/><line x1="370.2" x2="683.6" y1="45.20" y2="45.20" stroke="#ebebeb" stroke-width="1.6"/><text x="364.2" y="48.9" font-size="10.5" fill="#4d4d4d" text-anchor="end">20</text><line x1="370.2" x2="683.6" y1="113.10" y2="113.10" stroke="#ebebeb" stroke-width="1.6"/><text x="364.2" y="116.8" font-size="10.5" fill="#4d4d4d" text-anchor="end">10</text><line x1="370.2" x2="683.6" y1="181.00" y2="181.00" stroke="#ebebeb" stroke-width="1.6"/><text x="364.2" y="184.7" font-size="10.5" fill="#4d4d4d" text-anchor="end">0</text><line x1="370.2" x2="683.6" y1="248.90" y2="248.90" stroke="#ebebeb" stroke-width="1.6"/><text x="364.2" y="252.6" font-size="10.5" fill="#4d4d4d" text-anchor="end">−10</text><line x1="432.70" x2="432.70" y1="22.0" y2="299.6" stroke="#ebebeb" stroke-width="1.6"/><text x="432.7" y="313.2" font-size="10.5" fill="#4d4d4d" text-anchor="middle">2010</text><line x1="517.35" x2="517.35" y1="22.0" y2="299.6" stroke="#ebebeb" stroke-width="1.6"/><text x="517.4" y="313.2" font-size="10.5" fill="#4d4d4d" text-anchor="middle">2015</text><line x1="602.00" x2="602.00" y1="22.0" y2="299.6" stroke="#ebebeb" stroke-width="1.6"/><text x="602.0" y="313.2" font-size="10.5" fill="#4d4d4d" text-anchor="middle">2020</text><polyline points="385.0,157.3 385.2,207.6 385.4,166.3 385.6,187.1 385.8,172.2 385.9,188.9 386.1,168.1 386.3,187.3 386.5,170.5 386.6,186.0 386.8,174.5 387.0,190.4 387.2,169.2 387.4,193.2 387.5,170.9 387.7,200.3 387.9,169.0 388.1,200.4 388.2,166.0 388.4,191.3 388.6,164.7 388.8,195.0 389.0,167.6 389.1,189.1 389.3,167.7 389.5,190.5 389.7,159.3 389.8,191.2 390.0,156.2 390.2,195.3 390.4,152.5 390.6,198.1 390.7,165.8 390.9,196.0 391.1,158.3 391.3,198.6 391.4,158.4 391.6,208.0 391.8,140.1 392.0,206.2 392.2,143.3 392.3,215.2 392.5,137.1 392.7,213.2 392.9,161.0 393.0,198.9 393.2,164.7 393.4,199.6 393.6,157.7 393.8,197.7 393.9,166.9 394.1,190.1 394.3,162.6 394.5,190.4 394.6,161.4 394.8,196.3 395.0,169.9 395.2,208.8 395.4,163.2 395.5,208.3 395.7,151.7 395.9,220.2 396.1,157.2 396.2,216.5 396.4,158.9 396.6,235.6 396.8,153.7 397.0,202.4 397.1,149.8 397.3,212.6 397.5,141.6 397.7,206.0 397.8,143.5 398.0,208.2 398.2,156.4 398.4,213.4 398.6,155.5 398.7,225.0 398.9,155.6 399.1,228.4 399.3,165.9 399.4,208.6 399.6,162.9 399.8,208.3 400.0,163.2 400.2,210.3 400.3,139.6 400.5,204.0 400.7,143.8 400.9,198.3 401.0,137.6 401.2,209.6 401.4,141.2 401.6,203.5 401.8,159.3 401.9,194.6 402.1,149.7 402.3,206.4 402.5,147.3 402.6,206.5 402.8,162.6 403.0,197.0 403.2,161.9 403.4,198.8 403.5,165.5 403.7,192.5 403.9,154.0 404.1,195.4 404.2,155.7 404.4,189.5 404.6,165.2 404.8,197.3 405.0,170.8 405.1,198.3 405.3,161.4 405.5,194.4 405.7,162.6 405.8,201.1 406.0,161.6 406.2,204.2 406.4,160.7 406.6,211.9 406.7,160.7 406.9,205.7 407.1,170.1 407.3,218.8 407.4,164.8 407.6,200.5 407.8,161.0 408.0,204.2 408.2,157.5 408.3,199.7 408.5,147.6 408.7,195.7 408.9,163.6 409.0,206.5 409.2,162.7 409.4,205.3 409.6,161.4 409.8,217.2 409.9,162.4 410.1,218.0 410.3,143.9 410.5,219.2 410.6,127.1 410.8,233.3 411.0,140.1 411.2,224.0 411.4,138.0 411.5,251.7 411.7,93.5 411.9,271.6 412.1,76.2 412.2,249.3 412.4,73.0 412.6,243.1 412.8,88.1 413.0,267.8 413.1,142.1 413.3,237.5 413.5,118.2 413.7,279.0 413.8,133.2 414.0,257.7 414.2,137.6 414.4,280.1 414.6,95.1 414.7,220.2 414.9,133.7 415.1,236.4 415.3,121.2 415.4,199.1 415.6,153.1 415.8,216.5 416.0,146.5 416.2,221.8 416.3,162.7 416.5,221.7 416.7,164.5 416.9,231.0 417.0,162.1 417.2,218.7 417.4,158.4 417.6,228.5 417.8,161.4 417.9,236.7 418.1,153.9 418.3,210.5 418.5,127.9 418.6,218.4 418.8,128.9 419.0,225.7 419.2,136.6 419.4,213.5 419.5,124.5 419.7,215.0 419.9,110.0 420.1,232.5 420.2,153.4 420.4,214.8 420.6,140.6 420.8,218.4 421.0,148.7 421.1,216.5 421.3,145.5 421.5,235.6 421.7,135.3 421.8,200.0 422.0,129.4 422.2,218.0 422.4,140.5 422.6,199.1 422.7,154.0 422.9,201.9 423.1,139.8 423.3,206.9 423.4,143.9 423.6,223.3 423.8,168.9 424.0,206.1 424.2,161.4 424.3,205.3 424.5,151.7 424.7,214.9 424.9,146.5 425.0,191.2 425.2,158.2 425.4,193.4 425.6,167.2 425.8,199.6 425.9,170.1 426.1,213.2 426.3,165.9 426.5,215.7 426.6,172.2 426.8,204.2 427.0,155.0 427.2,204.3 427.4,149.5 427.5,205.7 427.7,158.1 427.9,202.7 428.1,173.0 428.2,216.5 428.4,170.0 428.6,202.1 428.8,166.6 429.0,220.0 429.1,167.8 429.3,206.5 429.5,162.3 429.7,224.1 429.8,151.7 430.0,207.5 430.2,157.0 430.4,210.3 430.5,154.6 430.7,200.7 430.9,167.4 431.1,186.1 431.3,157.0 431.4,188.9 431.6,159.4 431.8,189.9 432.0,164.8 432.1,190.9 432.3,166.0 432.5,195.0 432.7,166.2 432.9,215.0 433.0,159.9 433.2,216.5 433.4,168.8 433.6,198.8 433.7,164.9 433.9,223.0 434.1,164.5 434.3,225.7 434.5,164.4 434.6,202.0 434.8,164.8 435.0,210.3 435.2,165.0 435.3,198.9 435.5,173.0 435.7,197.4 435.9,173.4 436.1,198.8 436.2,174.1 436.4,191.0 436.6,171.9 436.8,196.5 436.9,174.9 437.1,190.5 437.3,171.3 437.5,198.2 437.7,162.9 437.8,202.7 438.0,169.4 438.2,200.6 438.4,157.7 438.5,215.0 438.7,143.2 438.9,216.8 439.1,136.4 439.3,215.4 439.4,138.7 439.6,213.2 439.8,152.6 440.0,214.9 440.1,162.8 440.3,210.6 440.5,145.0 440.7,193.7 440.9,165.9 441.0,202.7 441.2,161.6 441.4,196.9 441.6,157.7 441.7,201.9 441.9,164.5 442.1,201.3 442.3,171.2 442.5,206.8 442.6,173.4 442.8,219.5 443.0,168.9 443.2,204.7 443.3,172.1 443.5,206.5 443.7,170.2 443.9,198.2 444.1,166.6 444.2,189.4 444.4,159.2 444.6,191.9 444.8,157.0 444.9,187.4 445.1,159.5 445.3,203.3 445.5,167.4 445.7,204.2 445.8,165.9 446.0,197.2 446.2,173.4 446.4,198.8 446.5,166.3 446.7,197.6 446.9,171.5 447.1,199.1 447.3,162.9 447.4,209.6 447.6,169.5 447.8,190.5 448.0,172.4 448.1,193.5 448.3,172.1 448.5,192.1 448.7,168.9 448.9,183.8 449.0,174.6 449.2,186.6 449.4,174.6 449.6,184.1 449.7,169.6 449.9,189.3 450.1,169.8 450.3,196.5 450.5,170.5 450.6,193.2 450.8,168.5 451.0,203.4 451.2,170.1 451.3,195.7 451.5,164.4 451.7,197.2 451.9,167.3 452.1,200.0 452.2,173.8 452.4,205.0 452.6,174.7 452.8,189.3 452.9,170.4 453.1,193.5 453.3,175.0 453.5,190.7 453.7,170.0 453.8,191.7 454.0,168.1 454.2,196.5 454.4,174.1 454.5,190.2 454.7,174.2 454.9,195.9 455.1,172.2 455.3,199.6 455.4,171.1 455.6,193.8 455.8,172.1 456.0,199.2 456.1,169.3 456.3,196.4 456.5,168.8 456.7,203.4 456.9,164.7 457.0,196.2 457.2,169.4 457.4,198.8 457.6,167.2 457.7,194.0 457.9,171.6 458.1,201.2 458.3,168.2 458.5,207.3 458.6,165.9 458.8,208.6 459.0,170.2 459.2,232.5 459.3,141.3 459.5,246.7 459.7,127.1 459.9,250.9 460.1,125.4 460.2,202.2 460.4,128.2 460.6,211.9 460.8,138.8 460.9,198.5 461.1,133.9 461.3,208.8 461.5,146.5 461.7,196.6 461.8,159.9 462.0,227.7 462.2,157.7 462.4,237.1 462.5,143.5 462.7,231.3 462.9,141.3 463.1,211.8 463.3,146.6 463.4,218.0 463.6,140.1 463.8,201.0 464.0,128.6 464.1,217.2 464.3,152.4 464.5,199.2 464.7,160.4 464.9,207.7 465.0,145.0 465.2,211.1 465.4,137.6 465.6,196.7 465.7,157.3 465.9,194.2 466.1,155.6 466.3,205.0 466.5,154.0 466.6,195.1 466.8,162.2 467.0,200.9 467.2,144.3 467.3,193.1 467.5,147.2 467.7,202.7 467.9,164.6 468.1,205.8 468.2,161.4 468.4,208.0 468.6,161.9 468.8,202.3 468.9,166.7 469.1,191.4 469.3,165.2 469.5,198.8 469.7,169.0 469.8,201.1 470.0,162.3 470.2,192.1 470.4,161.9 470.5,199.0 470.7,159.2 470.9,199.6 471.1,169.4 471.3,193.3 471.4,171.5 471.6,200.1 471.8,173.5 472.0,201.9 472.1,168.9 472.3,193.3 472.5,169.7 472.7,195.4 472.9,165.1 473.0,198.8 473.2,162.9 473.4,193.4 473.6,168.6 473.7,196.7 473.9,167.3 474.1,196.9 474.3,160.7 474.5,203.4 474.6,170.0 474.8,197.8 475.0,160.7 475.2,203.4 475.3,161.0 475.5,196.8 475.7,166.5 475.9,194.5 476.1,167.0 476.2,204.2 476.4,164.4 476.6,201.4 476.8,167.1 476.9,196.8 477.1,168.7 477.3,198.2 477.5,163.8 477.7,201.9 477.8,170.6 478.0,192.4 478.2,162.9 478.4,196.6 478.5,163.7 478.7,198.8 478.9,170.7 479.1,193.9 479.3,169.3 479.4,192.5 479.6,167.4 479.8,193.3 480.0,172.8 480.1,200.4 480.3,170.2 480.5,193.7 480.7,171.2 480.9,198.7 481.0,165.5 481.2,201.9 481.4,165.2 481.6,194.5 481.7,167.5 481.9,186.3 482.1,167.0 482.3,187.0 482.5,171.4 482.6,188.6 482.8,165.9 483.0,188.1 483.2,173.3 483.3,189.7 483.5,161.5 483.7,192.7 483.9,152.8 484.1,190.1 484.2,171.2 484.4,191.3 484.6,168.3 484.8,196.5 484.9,166.6 485.1,194.7 485.3,166.7 485.5,205.0 485.7,169.3 485.8,200.2 486.0,165.2 486.2,190.1 486.4,166.5 486.5,193.5 486.7,170.0 486.9,190.7 487.1,172.0 487.3,203.6 487.4,168.9 487.6,207.3 487.8,169.7 488.0,206.4 488.1,156.3 488.3,217.2 488.5,152.5 488.7,216.5 488.9,167.7 489.0,191.0 489.2,169.8 489.4,197.3 489.6,162.9 489.7,195.0 489.9,157.1 490.1,208.2 490.3,152.5 490.5,208.8 490.6,154.6 490.8,198.3 491.0,171.6 491.2,199.0 491.3,165.2 491.5,209.6 491.7,171.6 491.9,205.3 492.1,161.4 492.2,195.0 492.4,159.9 492.6,190.3 492.8,161.4 492.9,195.8 493.1,172.1 493.3,191.5 493.5,167.4 493.7,204.4 493.8,173.6 494.0,208.0 494.2,172.8 494.4,205.8 494.5,171.2 494.7,190.0 494.9,165.9 495.1,191.4 495.3,170.2 495.4,194.2 495.6,174.5 495.8,189.8 496.0,168.1 496.1,193.8 496.3,164.0 496.5,198.8 496.7,167.2 496.9,195.1 497.0,158.1 497.2,212.7 497.4,165.1 497.6,206.0 497.7,167.1 497.9,213.4 498.1,156.2 498.3,201.6 498.5,160.4 498.6,191.3 498.8,171.0 499.0,199.6 499.2,170.8 499.3,191.2 499.5,170.4 499.7,202.0 499.9,167.5 500.1,200.2 500.2,163.8 500.4,202.7 500.6,161.4 500.8,201.5 500.9,163.4 501.1,207.2 501.3,162.0 501.5,212.6 501.7,159.9 501.8,201.0 502.0,165.1 502.2,193.2 502.4,162.9 502.5,193.5 502.7,165.9 502.9,190.6 503.1,162.6 503.3,190.3 503.4,158.7 503.6,210.5 503.8,148.0 504.0,209.9 504.1,166.3 504.3,215.4 504.5,169.9 504.7,209.3 504.9,162.2 505.0,202.4 505.2,170.3 505.4,207.3 505.6,163.9 505.7,202.7 505.9,162.9 506.1,193.6 506.3,163.5 506.5,193.8 506.6,163.0 506.8,203.4 507.0,154.0 507.2,191.7 507.3,159.4 507.5,193.5 507.7,165.8 507.9,191.3 508.1,161.4 508.2,193.4 508.4,167.2 508.6,191.0 508.8,159.9 508.9,198.1 509.1,169.7 509.3,195.6 509.5,170.4 509.7,195.3 509.8,168.9 510.0,199.6 510.2,170.5 510.4,193.6 510.5,172.4 510.7,196.0 510.9,168.3 511.1,192.3 511.3,167.4 511.4,202.7 511.6,170.8 511.8,195.0 512.0,171.6 512.1,196.2 512.3,173.9 512.5,203.4 512.7,170.4 512.9,196.7 513.0,172.8 513.2,209.7 513.4,168.8 513.6,213.4 513.7,162.9 513.9,210.9 514.1,170.9 514.3,189.9 514.5,166.6 514.6,195.0 514.8,154.7 515.0,188.8 515.2,164.9 515.3,208.3 515.5,162.9 515.7,212.6 515.9,170.3 516.1,199.8 516.2,166.1 516.4,199.9 516.6,159.9 516.8,202.7 516.9,161.9 517.1,199.9 517.3,165.4 517.5,192.5 517.7,161.4 517.8,195.1 518.0,169.3 518.2,201.1 518.4,161.7 518.5,187.2 518.7,165.8 518.9,185.9 519.1,155.8 519.3,188.9 519.4,158.5 519.6,190.6 519.8,159.1 520.0,198.6 520.1,157.3 520.3,199.6 520.5,156.7 520.7,194.9 520.9,162.1 521.0,201.1 521.2,171.4 521.4,197.4 521.6,168.9 521.7,200.1 521.9,170.8 522.1,193.6 522.3,169.7 522.5,200.4 522.6,172.0 522.8,196.5 523.0,168.9 523.2,196.4 523.3,176.4 523.5,198.8 523.7,172.9 523.9,195.8 524.1,171.9 524.2,190.9 524.4,170.1 524.6,194.2 524.8,166.6 524.9,201.9 525.1,172.4 525.3,202.8 525.5,176.3 525.7,209.6 525.8,174.1 526.0,193.1 526.2,171.9 526.4,191.7 526.5,168.2 526.7,195.8 526.9,165.0 527.1,195.0 527.3,164.7 527.4,196.6 527.6,166.4 527.8,208.5 528.0,157.2 528.1,195.4 528.3,151.7 528.5,198.9 528.7,163.0 528.9,195.2 529.0,158.5 529.2,207.3 529.4,152.3 529.6,198.4 529.7,153.2 529.9,196.8 530.1,164.1 530.3,199.6 530.5,151.3 530.6,198.3 530.8,166.5 531.0,206.3 531.2,165.5 531.3,207.3 531.5,162.9 531.7,203.8 531.9,170.4 532.1,204.0 532.2,165.7 532.4,204.7 532.6,165.2 532.8,206.5 532.9,169.6 533.1,191.9 533.3,149.0 533.5,193.5 533.7,157.1 533.8,187.5 534.0,137.9 534.2,205.2 534.4,170.1 534.5,226.0 534.7,162.9 534.9,207.1 535.1,162.8 535.3,201.4 535.4,156.7 535.6,205.0 535.8,162.3 536.0,198.0 536.1,164.9 536.3,188.6 536.5,161.4 536.7,192.7 536.9,165.4 537.0,191.3 537.2,159.6 537.4,194.0 537.6,168.4 537.7,198.7 537.9,170.6 538.1,199.6 538.3,172.7 538.5,193.7 538.6,168.9 538.8,192.9 539.0,168.9 539.2,196.5 539.3,171.8 539.5,188.8 539.7,165.9 539.9,189.5 540.1,170.9 540.2,195.0 540.4,174.5 540.6,191.2 540.8,169.6 540.9,190.7 541.1,174.1 541.3,190.5 541.5,170.9 541.7,197.3 541.8,166.6 542.0,198.8 542.2,173.6 542.4,198.0 542.5,166.5 542.7,211.5 542.9,156.2 543.1,189.1 543.3,174.2 543.4,191.9 543.6,174.4 543.8,188.9 544.0,168.1 544.1,194.1 544.3,170.0 544.5,190.8 544.7,173.0 544.9,199.6 545.0,173.1 545.2,190.9 545.4,169.6 545.6,200.0 545.7,174.1 545.9,200.4 546.1,173.1 546.3,195.3 546.5,172.6 546.6,192.4 546.8,166.6 547.0,195.0 547.2,171.3 547.3,188.9 547.5,175.0 547.7,192.8 547.9,173.7 548.1,193.2 548.2,169.6 548.4,194.7 548.6,172.7 548.8,194.2 548.9,171.2 549.1,188.8 549.3,165.9 549.5,193.5 549.7,171.4 549.8,192.3 550.0,166.3 550.2,189.4 550.4,171.1 550.5,189.5 550.7,162.9 550.9,191.2 551.1,163.9 551.3,189.1 551.4,172.3 551.6,188.2 551.8,163.7 552.0,188.6 552.1,170.9 552.3,195.0 552.5,171.5 552.7,189.0 552.9,162.6 553.0,193.6 553.2,163.5 553.4,196.2 553.6,169.7 553.7,196.0 553.9,167.1 554.1,199.8 554.3,162.2 554.5,201.9 554.6,163.0 554.8,201.3 555.0,175.5 555.2,192.6 555.3,170.4 555.5,195.3 555.7,170.7 555.9,198.8 556.1,171.2 556.2,195.0 556.4,162.9 556.6,202.7 556.8,164.3 556.9,193.1 557.1,165.8 557.3,199.3 557.5,159.2 557.7,204.1 557.8,163.6 558.0,208.5 558.2,170.4 558.4,190.5 558.5,162.9 558.7,191.9 558.9,166.0 559.1,191.0 559.3,167.5 559.4,193.7 559.6,163.7 559.8,190.0 560.0,171.9 560.1,194.2 560.3,168.1 560.5,189.1 560.7,169.6 560.9,192.5 561.0,172.8 561.2,196.5 561.4,175.2 561.6,194.4 561.7,171.1 561.9,186.1 562.1,172.5 562.3,187.3 562.5,174.1 562.6,189.7 562.8,172.5 563.0,191.0 563.2,173.4 563.3,192.7 563.5,170.1 563.7,194.7 563.9,166.2 564.1,194.0 564.2,172.9 564.4,196.5 564.6,173.5 564.8,195.3 564.9,171.0 565.1,194.9 565.3,168.9 565.5,195.8 565.7,169.7 565.8,191.7 566.0,168.8 566.2,197.1 566.4,168.1 566.5,193.4 566.7,172.2 566.9,199.6 567.1,174.9 567.3,186.0 567.4,169.9 567.6,184.9 567.8,169.6 568.0,188.1 568.1,172.1 568.3,191.3 568.5,170.6 568.7,196.3 568.9,161.7 569.0,199.6 569.2,169.0 569.4,190.8 569.6,173.6 569.7,202.0 569.9,170.8 570.1,206.5 570.3,168.1 570.5,193.9 570.6,173.1 570.8,193.3 571.0,171.3 571.2,193.5 571.3,168.6 571.5,189.8 571.7,165.2 571.9,196.9 572.1,168.3 572.2,198.8 572.4,169.5 572.6,194.7 572.8,173.4 572.9,189.2 573.1,168.1 573.3,188.6 573.5,169.3 573.7,195.0 573.8,171.4 574.0,188.2 574.2,164.0 574.4,186.2 574.5,163.7 574.7,189.6 574.9,164.6 575.1,185.7 575.3,173.2 575.4,189.4 575.6,170.4 575.8,193.5 576.0,172.4 576.1,194.7 576.3,172.9 576.5,192.0 576.7,171.7 576.9,189.4 577.0,171.1 577.2,193.5 577.4,173.1 577.6,190.0 577.7,175.5 577.9,190.3 578.1,171.1 578.3,191.2 578.5,168.6 578.6,190.2 578.8,173.5 579.0,188.8 579.2,171.9 579.3,191.8 579.5,174.5 579.7,189.4 579.9,172.0 580.1,193.5 580.2,168.9 580.4,187.7 580.6,171.6 580.8,200.5 580.9,165.5 581.1,199.5 581.3,163.5 581.5,203.4 581.7,159.2 581.8,194.6 582.0,166.3 582.2,201.8 582.4,167.4 582.5,201.9 582.7,166.5 582.9,192.3 583.1,160.7 583.3,192.8 583.4,169.2 583.6,199.7 583.8,165.4 584.0,200.4 584.1,162.9 584.3,200.6 584.5,163.0 584.7,197.8 584.8,143.7 585.0,201.9 585.2,142.3 585.4,197.0 585.6,153.6 585.7,191.6 585.9,163.8 586.1,191.9 586.3,162.9 586.4,191.6 586.6,167.6 586.8,198.8 587.0,170.4 587.2,201.1 587.3,165.9 587.5,201.1 587.7,156.5 587.9,197.8 588.0,155.5 588.2,207.0 588.4,156.3 588.6,196.4 588.8,168.6 588.9,190.4 589.1,158.4 589.3,191.9 589.5,166.4 589.6,189.3 589.8,172.9 590.0,187.1 590.2,171.1 590.4,192.7 590.5,172.4 590.7,188.5 590.9,171.2 591.1,197.1 591.2,167.4 591.4,205.0 591.6,165.2 591.8,201.9 592.0,162.9 592.1,190.0 592.3,171.0 592.5,195.0 592.7,166.8 592.8,190.9 593.0,159.2 593.2,189.0 593.4,168.4 593.6,195.8 593.7,171.0 593.9,193.5 594.1,169.6 594.3,210.0 594.4,169.7 594.6,208.5 594.8,170.1 595.0,210.3 595.2,165.2 595.3,198.0 595.5,170.6 595.7,191.2 595.9,168.3 596.0,195.0 596.2,168.2 596.4,190.5 596.6,164.4 596.8,202.5 596.9,171.8 597.1,204.2 597.3,170.5 597.5,202.9 597.6,166.6 597.8,190.9 598.0,174.6 598.2,187.8 598.4,172.1 598.5,191.9 598.7,171.1 598.9,186.5 599.1,174.1 599.2,191.1 599.4,171.7 599.6,194.2 599.8,168.9 600.0,188.7 600.1,174.6 600.3,185.3 600.5,170.3 600.7,186.2 600.8,166.8 601.0,188.1 601.2,168.2 601.4,191.0 601.6,166.6 601.7,191.2 601.9,173.6 602.1,187.0 602.3,171.1 602.4,199.8 602.6,167.9 602.8,207.3 603.0,161.4 603.2,195.6 603.3,156.1 603.5,196.2 603.7,148.8 603.9,208.8 604.0,153.0 604.2,213.6 604.4,142.5 604.6,233.3 604.8,138.3 604.9,218.1 605.1,147.1 605.3,236.3 605.5,127.1 605.6,287.0 605.8,115.1 606.0,223.6 606.2,88.8 606.4,233.3 606.5,103.8 606.7,231.0 606.9,133.0 607.1,206.0 607.2,127.9 607.4,221.1 607.6,157.6 607.8,210.1 608.0,139.8 608.1,214.2 608.3,144.1 608.5,206.0 608.7,136.5 608.8,232.9 609.0,132.4 609.2,223.8 609.4,161.7 609.6,247.9 609.7,148.0 609.9,191.2 610.1,153.9 610.3,200.1 610.4,148.1 610.6,201.1 610.8,155.7 611.0,196.5 611.2,146.5 611.3,198.9 611.5,149.7 611.7,199.6 611.9,154.6 612.0,194.7 612.2,148.0 612.4,195.7 612.6,161.7 612.8,200.4 612.9,169.4 613.1,220.5 613.3,161.4 613.5,227.9 613.6,144.4 613.8,217.3 614.0,155.2 614.2,197.2 614.4,144.3 614.5,205.0 614.7,153.8 614.9,214.3 615.1,153.8 615.2,218.0 615.4,143.5 615.6,217.2 615.8,159.4 616.0,195.2 616.1,133.2 616.3,202.7 616.5,118.2 616.7,196.3 616.8,122.9 617.0,207.8 617.2,124.0 617.4,210.3 617.6,121.9 617.7,204.6 617.9,150.6 618.1,202.3 618.3,145.0 618.4,208.0 618.6,134.6 618.8,201.1 619.0,148.4 619.2,214.6 619.3,132.4 619.5,220.3 619.7,130.1 619.9,202.7 620.0,148.5 620.2,205.3 620.4,142.0 620.6,216.5 620.8,162.2 620.9,225.1 621.1,156.2 621.3,226.6 621.5,160.6 621.6,227.5 621.8,143.7 622.0,221.7 622.2,144.2 622.4,210.3 622.5,118.6 622.7,223.3 622.9,145.4 623.1,208.9 623.2,142.0 623.4,201.6 623.6,143.0 623.8,213.4 624.0,148.9 624.1,202.3 624.3,158.0 624.5,206.2 624.7,148.0 624.8,220.3 625.0,162.8 625.2,205.6 625.4,148.8 625.6,200.2 625.7,163.6 625.9,200.4 626.1,162.6 626.3,193.5 626.4,151.0 626.6,201.9 626.8,164.8 627.0,196.9 627.2,156.1 627.3,211.5 627.5,152.5 627.7,208.0 627.9,155.1 628.0,214.2 628.2,164.6 628.4,195.9 628.6,149.1 628.8,204.2 628.9,148.5 629.1,193.4 629.3,160.4 629.5,200.5 629.6,162.9 629.8,207.3 630.0,152.5 630.2,201.3 630.4,166.1 630.5,203.7 630.7,166.2 630.9,202.0 631.1,165.9 631.2,217.7 631.4,166.6 631.6,190.1 631.8,157.8 632.0,194.0 632.1,157.7 632.3,196.5 632.5,161.8 632.7,197.3 632.8,162.4 633.0,206.1 633.2,145.8 633.4,209.6 633.6,160.3 633.7,198.0 633.9,150.3 634.1,220.0 634.3,147.3 634.4,222.6 634.6,163.3 634.8,221.8 635.0,162.0 635.2,206.6 635.3,156.2 635.5,218.0 635.7,167.3 635.9,206.7 636.0,152.7 636.2,208.1 636.4,152.5 636.6,223.3 636.8,164.9 636.9,205.2 637.1,146.5 637.3,203.4 637.5,119.7 637.6,214.2 637.8,122.3 638.0,198.3 638.2,149.3 638.4,213.1 638.5,127.9 638.7,212.1 638.9,127.5 639.1,229.0 639.2,127.4 639.4,229.5 639.6,147.6 639.8,213.8 640.0,146.6 640.1,203.9 640.3,145.8 640.5,211.9 640.7,151.0 640.8,201.3 641.0,163.4 641.2,227.5 641.4,146.5 641.6,241.5 641.7,150.3 641.9,250.2 642.1,136.4 642.3,231.6 642.4,124.2 642.6,215.9 642.8,151.8 643.0,226.4 643.2,140.6 643.3,215.8 643.5,143.9 643.7,206.4 643.9,146.4 644.0,223.3 644.2,139.0 644.4,220.1 644.6,137.6 644.8,200.1 644.9,138.4 645.1,213.4 645.3,132.8 645.5,199.9 645.6,128.6 645.8,206.4 646.0,149.5 646.2,202.1 646.4,138.8 646.5,221.1 646.7,138.3 646.9,209.2 647.1,152.2 647.2,196.5 647.4,165.4 647.6,208.8 647.8,150.2 648.0,207.0 648.1,147.4 648.3,223.2 648.5,149.4 648.7,223.3 648.8,143.5 649.0,213.3 649.2,147.9 649.4,199.5 649.6,148.1 649.7,214.9 649.9,138.3 650.1,205.4 650.3,156.5 650.4,207.5 650.6,137.5 650.8,214.2 651.0,115.2 651.2,206.0 651.3,155.3 651.5,208.4 651.7,143.5 651.9,209.2 652.0,151.0 652.2,222.6 652.4,152.8 652.6,221.3 652.8,152.5 652.9,211.2 653.1,154.8 653.3,213.4 653.5,160.7 653.6,213.0 653.8,161.0 654.0,198.3 654.2,149.5 654.4,204.2 654.5,153.7 654.7,211.9 654.9,159.2 655.1,207.0 655.2,148.5 655.4,212.6 655.6,160.1 655.8,212.1 656.0,157.0 656.1,201.0 656.3,155.7 656.5,208.0 656.7,148.0 656.8,206.3 657.0,148.2 657.2,200.5 657.4,170.7 657.6,206.5 657.7,169.4 657.9,194.6 658.1,166.6 658.3,197.5 658.4,167.7 658.6,201.6 658.8,165.5 659.0,204.2 659.2,151.7 659.3,197.5 659.5,160.7 659.7,198.8 659.9,154.2 660.0,193.2 660.2,154.0 660.4,192.8 660.6,160.1 660.8,199.2 660.9,162.2 661.1,200.4 661.3,154.7 661.5,201.9 661.6,158.5 661.8,203.4 662.0,163.4 662.2,195.6 662.4,161.6 662.5,203.7 662.7,155.2 662.9,213.4 663.1,163.3 663.2,207.7 663.4,161.3 663.6,198.8 663.8,159.9 664.0,203.4 664.1,168.9 664.3,194.7 664.5,163.7 664.7,202.8 664.8,155.8 665.0,196.4 665.2,171.6 665.4,208.0 665.6,163.7 665.7,198.8 665.9,169.9 666.1,199.6 666.3,148.2 666.4,217.2 666.6,138.3 666.8,215.8 667.0,148.3 667.2,202.5 667.3,131.5 667.5,203.7 667.7,126.8 667.9,205.7 668.0,129.2 668.2,198.8 668.4,143.2 668.6,198.3 668.8,136.1 668.9,211.9 669.1,138.8 669.3,202.3 669.5,147.3 669.6,202.9" fill="none" stroke="#b3b3b3" stroke-width="1.0" stroke-linejoin="round"/><polyline points="384.6,161.9 384.7,162.0 384.8,162.1 384.9,162.2 385.0,162.3 385.1,162.3 385.2,162.4 385.3,162.5 385.4,162.6 385.5,162.7 385.6,162.7 385.7,162.8 385.8,162.9 385.9,162.0 386.0,163.1 386.1,162.3 386.2,163.2 386.3,162.7 386.4,163.4 386.5,162.9 386.6,163.5 386.7,163.2 386.8,163.5 386.9,163.2 387.0,163.5 387.1,163.3 387.2,163.5 387.3,163.3 387.4,163.6 387.5,163.4 387.6,163.4 387.7,163.3 387.8,163.4 387.9,163.3 388.0,163.4 388.1,163.3 388.2,163.4 388.3,163.3 388.4,163.3 388.5,163.3 388.6,163.3 388.7,163.3 388.8,163.3 388.9,163.3 389.0,163.3 389.1,163.2 389.2,163.2 389.3,163.1 389.4,163.1 389.5,163.0 389.6,163.0 389.7,162.9 389.8,162.8 389.9,161.4 390.0,162.7 390.1,161.3 390.2,162.6 390.3,161.0 390.4,162.4 390.5,161.1 390.6,162.3 390.7,161.3 390.8,162.2 390.9,161.2 391.0,162.0 391.1,161.4 391.2,162.0 391.3,161.1 391.4,161.9 391.5,160.8 391.6,161.8 391.7,160.7 391.8,161.4 391.9,160.2 392.0,161.2 392.1,159.9 392.2,161.0 392.3,159.8 392.4,160.8 392.5,159.8 392.6,160.6 392.7,159.9 392.8,160.4 392.9,159.7 393.0,160.2 393.1,159.8 393.2,160.0 393.3,159.5 393.4,159.8 393.5,159.2 393.6,159.6 393.7,159.1 393.8,159.4 393.9,158.9 394.0,159.2 394.1,158.8 394.2,159.0 394.3,158.7 394.4,157.7 394.5,153.9 394.6,157.2 394.7,149.7 394.8,155.7 394.9,146.1 395.0,155.0 395.1,136.6 395.2,154.7 395.3,135.1 395.4,156.5 395.5,127.3 395.6,156.1 395.7,128.9 395.8,155.7 395.9,119.1 396.0,111.3 396.1,120.0 396.2,154.3 396.3,117.7 396.4,153.9 396.5,126.6 396.6,152.8 396.7,124.6 396.8,152.4 396.9,128.0 397.0,152.0 397.1,132.5 397.2,151.5 397.3,134.6 397.4,151.4 397.5,131.4 397.6,151.3 397.7,133.3 397.8,152.6 397.9,135.9 398.0,152.5 398.1,136.8 398.2,152.4 398.3,134.5 398.4,153.5 398.5,136.0 398.6,153.4 398.7,133.7 398.8,153.2 398.9,135.9 399.0,152.8 399.1,131.0 399.2,152.8 399.3,132.5 399.4,152.9 399.5,132.5 399.6,153.6 399.7,135.5 399.8,153.7 399.9,128.5 400.0,153.9 400.1,126.3 400.2,154.6 400.3,130.4 400.4,127.8 400.5,128.7 400.6,154.9 400.7,128.1 400.8,155.2 400.9,131.7 401.0,155.3 401.1,130.3 401.2,155.5 401.3,131.8 401.4,153.7 401.5,131.7 401.6,153.9 401.7,135.8 401.8,154.1 401.9,133.9 402.0,152.8 402.1,137.1 402.2,153.0 402.3,136.1 402.4,153.2 402.5,138.3 402.6,153.5 402.7,139.5 402.8,153.7 402.9,140.8 403.0,153.9 403.1,139.7 403.2,153.4 403.3,142.0 403.4,153.7 403.5,143.9 403.6,153.9 403.7,145.7 403.8,154.9 403.9,148.1 404.0,155.2 404.1,147.6 404.2,155.4 404.3,148.3 404.4,156.5 404.5,148.9 404.6,156.7 404.7,150.5 404.8,156.8 404.9,150.9 405.0,157.4 405.1,152.0 405.2,157.5 405.3,153.3 405.4,157.7 405.5,151.7 405.6,157.7 405.7,152.1 405.8,157.8 405.9,154.1 406.0,157.7 406.1,154.9 406.2,157.5 406.3,154.8 406.4,157.4 406.5,154.5 406.6,157.3 406.7,151.4 406.8,157.4 406.9,148.9 407.0,157.3 407.1,143.5 407.2,157.1 407.3,139.5 407.4,156.1 407.5,141.2 407.6,155.9 407.7,141.4 407.8,155.8 407.9,140.8 408.0,156.5 408.1,140.1 408.2,156.4 408.3,136.9 408.4,156.3 408.5,146.4 408.6,155.0 408.7,149.3 408.8,154.8 408.9,153.0 409.0,154.6 409.1,152.9 409.2,154.3 409.3,152.6 409.4,154.3 409.5,148.9 409.6,148.0 409.7,141.8 409.8,147.5 409.9,135.8 410.0,144.2 410.1,125.1 410.2,141.5 410.3,121.7 410.4,137.1 410.5,110.1 410.6,134.3 410.7,99.4 410.8,131.5 410.9,88.4 411.0,127.1 411.1,86.6 411.2,127.0 411.3,75.6 411.4,126.9 411.5,68.8 411.6,127.0 411.7,67.4 411.8,126.9 411.9,57.6 412.0,126.8 412.1,45.3 412.2,128.4 412.3,43.9 412.4,128.3 412.5,51.8 412.6,128.1 412.7,40.0 412.8,132.6 412.9,39.3 413.0,132.5 413.1,58.1 413.2,132.4 413.3,50.1 413.4,130.0 413.5,51.2 413.6,130.0 413.7,46.3 413.8,130.0 413.9,40.5 414.0,126.0 414.1,49.9 414.2,34.7 414.3,60.1 414.4,126.0 414.5,54.7 414.6,125.2 414.7,59.9 414.8,125.2 414.9,74.1 415.0,125.2 415.1,71.9 415.2,123.5 415.3,86.6 415.4,125.7 415.5,96.2 415.6,127.9 415.7,95.0 415.8,130.3 415.9,106.1 416.0,132.5 416.1,107.2 416.2,136.0 416.3,109.0 416.4,140.9 416.5,115.4 416.6,140.9 416.7,115.1 416.8,140.8 416.9,107.5 417.0,143.3 417.1,105.9 417.2,143.2 417.3,110.7 417.4,143.1 417.5,102.0 417.6,140.8 417.7,100.3 417.8,140.7 417.9,101.1 418.0,140.5 418.1,95.7 418.2,143.2 418.3,102.9 418.4,143.1 418.5,97.3 418.6,143.0 418.7,100.0 418.8,140.3 418.9,99.0 419.0,140.2 419.1,101.1 419.2,140.0 419.3,95.6 419.4,93.7 419.5,94.3 419.6,138.2 419.7,101.1 419.8,138.1 419.9,107.0 420.0,139.1 420.1,106.1 420.2,138.9 420.3,113.0 420.4,138.8 420.5,107.5 420.6,139.4 420.7,111.8 420.8,139.2 420.9,115.8 421.0,139.1 421.1,117.5 421.2,141.9 421.3,120.8 421.4,142.4 421.5,120.7 421.6,142.9 421.7,123.2 421.8,143.6 421.9,129.2 422.0,144.1 422.1,128.9 422.2,144.5 422.3,128.1 422.4,144.3 422.5,131.6 422.6,144.8 422.7,129.4 422.8,145.3 422.9,133.7 423.0,144.5 423.1,134.2 423.2,145.0 423.3,133.5 423.4,145.5 423.5,135.5 423.6,145.8 423.7,136.9 423.8,146.2 423.9,137.7 424.0,146.6 424.1,137.4 424.2,148.1 424.3,137.8 424.4,148.4 424.5,138.7 424.6,148.8 424.7,139.3 424.8,150.0 424.9,141.0 425.0,150.4 425.1,140.7 425.2,150.7 425.3,141.7 425.4,149.6 425.5,141.6 425.6,149.9 425.7,143.3 425.8,150.2 425.9,142.5 426.0,149.7 426.1,143.8 426.2,149.9 426.3,143.1 426.4,150.2 426.5,144.8 426.6,149.9 426.7,145.2 426.8,150.2 426.9,145.4 427.0,150.5 427.1,145.6 427.2,152.5 427.3,145.1 427.4,152.8 427.5,145.4 427.6,153.1 427.7,147.0 427.8,153.5 427.9,147.5 428.0,153.8 428.1,147.3 428.2,154.1 428.3,145.8 428.4,152.9 428.5,146.8 428.6,153.2 428.7,143.7 428.8,153.4 428.9,142.7 429.0,153.8 429.1,142.4 429.2,154.0 429.3,141.2 429.4,134.2 429.5,138.9 429.6,154.9 429.7,142.0 429.8,155.2 429.9,140.5 430.0,155.4 430.1,141.6 430.2,154.7 430.3,143.5 430.4,154.9 430.5,146.1 430.6,155.2 430.7,147.6 430.8,156.3 430.9,148.4 431.0,156.5 431.1,149.4 431.2,156.7 431.3,151.6 431.4,156.8 431.5,152.4 431.6,157.0 431.7,152.7 431.8,157.2 431.9,153.5 432.0,158.4 432.1,154.6 432.2,158.6 432.3,155.4 432.4,158.8 432.5,155.2 432.6,158.2 432.7,155.9 432.8,158.3 432.9,156.1 433.0,158.5 433.1,156.1 433.2,159.0 433.3,151.7 433.4,159.2 433.5,149.2 433.6,159.4 433.7,142.7 433.8,135.4 433.9,139.4 434.0,159.3 434.1,143.3 434.2,159.5 434.3,143.0 434.4,159.6 434.5,145.4 434.6,159.9 434.7,148.5 434.8,160.2 434.9,149.3 435.0,162.1 435.1,152.0 435.2,162.3 435.3,154.9 435.4,162.5 435.5,155.2 435.6,162.2 435.7,157.6 435.8,162.5 435.9,158.8 436.0,162.7 436.1,160.1 436.2,162.7 436.3,160.6 436.4,162.9 436.5,161.4 436.6,162.0 436.7,162.0 436.8,162.4 436.9,162.4 437.0,162.4 437.1,162.4 437.2,162.4 437.3,160.4 437.4,157.9 437.5,155.5 437.6,157.0 437.7,151.6 437.8,156.2 437.9,146.9 438.0,157.2 438.1,139.5 438.2,156.7 438.3,135.7 438.4,156.1 438.5,120.8 438.6,155.2 438.7,126.6 438.8,154.7 438.9,126.6 439.0,154.2 439.1,127.4 439.2,155.3 439.3,127.7 439.4,154.8 439.5,133.8 439.6,154.3 439.7,132.4 439.8,152.5 439.9,131.3 440.0,152.0 440.1,131.5 440.2,152.1 440.3,134.5 440.4,152.9 440.5,134.0 440.6,153.1 440.7,137.7 440.8,153.4 440.9,136.9 441.0,153.8 441.1,141.2 441.2,154.1 441.3,141.7 441.4,154.3 441.5,142.3 441.6,153.0 441.7,142.1 441.8,153.3 441.9,139.3 442.0,153.6 442.1,143.0 442.2,153.1 442.3,142.7 442.4,153.4 442.5,142.0 442.6,153.7 442.7,143.3 442.8,154.1 442.9,145.3 443.0,154.4 443.1,146.2 443.2,154.7 443.3,147.2 443.4,156.4 443.5,148.9 443.6,156.6 443.7,150.0 443.8,156.9 443.9,150.4 444.0,157.1 444.1,149.8 444.2,157.4 444.3,151.6 444.4,157.6 444.5,151.6 444.6,157.8 444.7,152.3 444.8,157.9 444.9,152.0 445.0,158.1 445.1,153.0 445.2,158.5 445.3,154.2 445.4,158.7 445.5,153.8 445.6,158.8 445.7,154.4 445.8,158.9 445.9,154.7 446.0,159.0 446.1,154.9 446.2,159.1 446.3,154.8 446.4,158.5 446.5,154.8 446.6,158.7 446.7,150.3 446.8,158.9 446.9,149.9 447.0,160.1 447.1,151.3 447.2,160.4 447.3,150.3 447.4,160.7 447.5,152.1 447.6,150.8 447.7,151.9 447.8,161.6 447.9,154.3 448.0,161.8 448.1,156.2 448.2,161.6 448.3,157.1 448.4,161.8 448.5,158.5 448.6,162.1 448.7,160.3 448.8,161.8 448.9,161.1 449.0,161.8 449.1,161.1 449.2,161.7 449.3,161.0 449.4,161.8 449.5,161.1 449.6,161.8 449.7,161.0 449.8,161.7 449.9,160.9 450.0,161.0 450.1,160.7 450.2,160.9 450.3,160.6 450.4,160.8 450.5,160.3 450.6,161.7 450.7,159.8 450.8,161.7 450.9,158.5 451.0,161.6 451.1,157.5 451.2,162.1 451.3,157.2 451.4,162.0 451.5,156.5 451.6,162.0 451.7,153.0 451.8,161.1 451.9,155.6 452.0,161.1 452.1,156.5 452.2,161.1 452.3,156.4 452.4,161.3 452.5,157.8 452.6,161.3 452.7,157.9 452.8,161.3 452.9,157.9 453.0,160.5 453.1,158.6 453.2,160.5 453.3,158.8 453.4,160.5 453.5,159.3 453.6,160.9 453.7,159.5 453.8,160.9 453.9,160.1 454.0,160.9 454.1,160.4 454.2,161.2 454.3,160.4 454.4,161.2 454.5,160.4 454.6,161.2 454.7,159.6 454.8,161.0 454.9,159.3 455.0,161.0 455.1,159.7 455.2,160.9 455.3,159.2 455.4,160.3 455.5,159.4 455.6,160.2 455.7,159.0 455.8,160.2 455.9,158.9 456.0,159.7 456.1,158.3 456.2,159.6 456.3,158.0 456.4,159.6 456.5,157.0 456.6,159.6 456.7,156.2 456.8,159.5 456.9,154.5 457.0,159.5 457.1,155.1 457.2,159.4 457.3,154.6 457.4,159.1 457.5,154.9 457.6,158.5 457.7,155.2 457.8,157.5 457.9,155.7 458.0,156.4 458.1,155.4 458.2,155.9 458.3,155.7 458.4,153.3 458.5,147.2 458.6,151.2 458.7,138.6 458.8,149.2 458.9,132.5 459.0,147.9 459.1,122.1 459.2,147.9 459.3,115.9 459.4,147.9 459.5,109.8 459.6,146.8 459.7,106.9 459.8,146.8 459.9,93.0 460.0,146.8 460.1,101.9 460.2,148.8 460.3,112.4 460.4,148.2 460.5,108.3 460.6,147.6 460.7,112.9 460.8,149.4 460.9,115.4 461.0,148.8 461.1,114.8 461.2,148.1 461.3,108.3 461.4,149.8 461.5,117.6 461.6,149.7 461.7,112.6 461.8,149.6 461.9,117.8 462.0,150.3 462.1,115.9 462.2,150.3 462.3,112.7 462.4,150.3 462.5,122.2 462.6,150.4 462.7,121.2 462.8,150.4 462.9,118.2 463.0,150.4 463.1,123.6 463.2,150.1 463.3,124.6 463.4,150.1 463.5,124.7 463.6,150.3 463.7,124.6 463.8,147.8 463.9,128.5 464.0,148.1 464.1,126.7 464.2,148.4 464.3,131.8 464.4,148.4 464.5,130.3 464.6,148.7 464.7,135.2 464.8,148.9 464.9,137.1 465.0,147.7 465.1,137.0 465.2,148.1 465.3,137.9 465.4,148.4 465.5,140.0 465.6,147.9 465.7,140.1 465.8,148.2 465.9,141.7 466.0,148.6 466.1,143.0 466.2,149.1 466.3,143.8 466.4,149.4 466.5,145.5 466.6,149.7 466.7,146.1 466.8,150.0 466.9,146.5 467.0,150.3 467.1,147.0 467.2,150.6 467.3,148.4 467.4,151.6 467.5,148.3 467.6,151.9 467.7,148.1 467.8,152.2 467.9,149.6 468.0,153.7 468.1,151.0 468.2,153.9 468.3,151.8 468.4,154.1 468.5,151.9 468.6,154.2 468.7,152.4 468.8,154.4 468.9,152.6 469.0,154.6 469.1,153.1 469.2,154.9 469.3,153.4 469.4,155.1 469.5,152.8 469.6,155.3 469.7,152.9 469.8,155.3 469.9,152.6 470.0,147.6 470.1,152.8 470.2,158.4 470.3,149.4 470.4,157.9 470.5,150.5 470.6,158.0 470.7,152.6 470.8,158.0 470.9,153.0 471.0,158.3 471.1,153.2 471.2,158.4 471.3,153.6 471.4,158.5 471.5,153.6 471.6,159.0 471.7,154.1 471.8,159.1 471.9,155.4 472.0,159.1 472.1,154.4 472.2,158.4 472.3,154.5 472.4,158.5 472.5,154.5 472.6,158.5 472.7,154.5 472.8,159.0 472.9,154.0 473.0,159.1 473.1,154.1 473.2,159.3 473.3,153.8 473.4,159.0 473.5,152.2 473.6,159.1 473.7,152.4 473.8,151.2 473.9,152.8 474.0,159.0 474.1,153.4 474.2,159.2 474.3,152.6 474.4,159.3 474.5,152.7 474.6,160.4 474.7,152.9 474.8,160.6 474.9,153.9 475.0,160.7 475.1,155.0 475.2,161.4 475.3,155.2 475.4,161.6 475.5,153.8 475.6,161.7 475.7,154.3 475.8,161.2 475.9,155.1 476.0,161.3 476.1,156.4 476.2,161.4 476.3,157.3 476.4,162.2 476.5,157.9 476.6,162.3 476.7,157.9 476.8,162.4 476.9,158.6 477.0,161.9 477.1,159.8 477.2,162.0 477.3,160.0 477.4,162.1 477.5,160.4 477.6,162.6 477.7,161.0 477.8,162.7 477.9,161.0 478.0,162.8 478.1,161.2 478.2,162.5 478.3,160.4 478.4,162.6 478.5,160.8 478.6,162.7 478.7,161.4 478.8,163.1 478.9,161.5 479.0,163.1 479.1,162.0 479.2,163.1 479.3,161.9 479.4,162.4 479.5,160.3 479.6,162.4 479.7,160.4 479.8,162.4 479.9,160.6 480.0,162.3 480.1,160.5 480.2,162.3 480.3,160.9 480.4,162.2 480.5,160.7 480.6,162.9 480.7,161.1 480.8,162.9 480.9,160.5 481.0,162.9 481.1,160.8 481.2,162.7 481.3,160.8 481.4,162.7 481.5,160.3 481.6,162.7 481.7,160.2 481.8,162.4 481.9,159.3 482.0,162.4 482.1,158.6 482.2,162.3 482.3,158.4 482.4,162.9 482.5,158.5 482.6,162.9 482.7,159.3 482.8,162.8 482.9,156.4 483.0,161.6 483.1,155.9 483.2,161.6 483.3,153.4 483.4,161.5 483.5,152.6 483.6,161.6 483.7,147.6 483.8,161.6 483.9,150.8 484.0,161.5 484.1,152.6 484.2,161.9 484.3,153.6 484.4,161.9 484.5,153.5 484.6,161.8 484.7,154.4 484.8,162.0 484.9,155.2 485.0,161.9 485.1,155.3 485.2,161.8 485.3,153.6 485.4,161.2 485.5,154.2 485.6,161.1 485.7,152.4 485.8,161.0 485.9,150.9 486.0,160.3 486.1,150.2 486.2,160.2 486.3,147.9 486.4,160.0 486.5,146.4 486.6,160.4 486.7,147.1 486.8,160.2 486.9,145.3 487.0,160.0 487.1,146.4 487.2,160.1 487.3,144.4 487.4,159.9 487.5,147.4 487.6,159.7 487.7,144.1 487.8,158.3 487.9,143.4 488.0,158.2 488.1,141.5 488.2,157.9 488.3,141.0 488.4,137.4 488.5,143.0 488.6,159.2 488.7,141.6 488.8,159.0 488.9,142.6 489.0,159.7 489.1,142.6 489.2,159.8 489.3,144.5 489.4,159.9 489.5,144.5 489.6,159.9 489.7,146.7 489.8,160.0 489.9,143.7 490.0,160.1 490.1,145.7 490.2,158.6 490.3,146.0 490.4,158.7 490.5,148.6 490.6,158.8 490.7,148.5 490.8,158.1 490.9,150.4 491.0,158.2 491.1,151.2 491.2,158.3 491.3,151.1 491.4,158.0 491.5,152.1 491.6,158.1 491.7,152.9 491.8,158.2 491.9,150.4 492.0,159.1 492.1,151.9 492.2,159.1 492.3,153.6 492.4,159.1 492.5,153.9 492.6,158.5 492.7,153.9 492.8,158.5 492.9,153.7 493.0,158.5 493.1,154.9 493.2,159.4 493.3,155.3 493.4,159.3 493.5,154.7 493.6,159.3 493.7,155.4 493.8,158.6 493.9,154.9 494.0,158.6 494.1,155.0 494.2,158.5 494.3,154.0 494.4,159.2 494.5,154.3 494.6,159.2 494.7,153.4 494.8,153.4 494.9,153.3 495.0,158.6 495.1,152.9 495.2,158.6 495.3,153.1 495.4,158.5 495.5,154.7 495.6,158.2 495.7,153.9 495.8,158.2 495.9,155.2 496.0,158.1 496.1,155.1 496.2,158.7 496.3,155.4 496.4,158.6 496.5,155.0 496.6,158.6 496.7,151.8 496.8,158.8 496.9,150.5 497.0,158.7 497.1,149.6 497.2,158.7 497.3,149.1 497.4,158.9 497.5,146.7 497.6,158.9 497.7,146.8 497.8,158.9 497.9,146.5 498.0,141.0 498.1,146.8 498.2,157.5 498.3,149.2 498.4,157.5 498.5,152.5 498.6,157.8 498.7,154.1 498.8,157.8 498.9,153.5 499.0,157.9 499.1,153.3 499.2,158.8 499.3,153.6 499.4,158.9 499.5,153.5 499.6,158.9 499.7,151.8 499.8,157.9 499.9,151.0 500.0,150.5 500.1,151.9 500.2,158.0 500.3,152.6 500.4,159.1 500.5,153.3 500.6,159.1 500.7,154.4 500.8,159.0 500.9,154.7 501.0,158.3 501.1,155.2 501.2,158.2 501.3,154.9 501.4,158.1 501.5,154.7 501.6,157.3 501.7,154.1 501.8,157.2 501.9,153.3 502.0,157.0 502.1,151.9 502.2,158.1 502.3,150.8 502.4,158.0 502.5,149.8 502.6,157.9 502.7,150.2 502.8,157.8 502.9,149.4 503.0,157.7 503.1,147.8 503.2,157.6 503.3,148.3 503.4,157.3 503.5,145.8 503.6,157.2 503.7,143.8 503.8,157.3 503.9,145.7 504.0,157.5 504.1,143.1 504.2,157.5 504.3,142.9 504.4,157.6 504.5,139.3 504.6,158.8 504.7,135.9 504.8,158.9 504.9,142.6 505.0,158.9 505.1,145.9 505.2,159.4 505.3,147.6 505.4,159.4 505.5,147.6 505.6,159.5 505.7,149.1 505.8,159.4 505.9,151.5 506.0,159.4 506.1,150.8 506.2,159.3 506.3,153.1 506.4,158.3 506.5,152.9 506.6,158.4 506.7,154.8 506.8,158.6 506.9,154.9 507.0,158.9 507.1,153.7 507.2,159.1 507.3,153.5 507.4,159.2 507.5,154.4 507.6,159.8 507.7,155.7 507.8,159.9 507.9,157.3 508.0,160.1 508.1,157.5 508.2,159.2 508.3,157.5 508.4,159.4 508.5,157.6 508.6,159.6 508.7,157.9 508.8,159.4 508.9,158.2 509.0,159.6 509.1,158.5 509.2,159.8 509.3,158.8 509.4,160.2 509.5,159.1 509.6,160.1 509.7,159.2 509.8,160.1 509.9,159.4 510.0,160.8 510.1,159.6 510.2,160.7 510.3,159.8 510.4,160.7 510.5,159.8 510.6,160.1 510.7,159.8 510.8,160.0 510.9,159.9 511.0,160.0 511.1,160.0 511.2,160.0 511.3,160.0 511.4,159.6 511.5,159.0 511.6,159.2 511.7,158.1 511.8,160.1 511.9,157.4 512.0,160.1 512.1,156.5 512.2,160.0 512.3,155.0 512.4,159.9 512.5,152.7 512.6,159.7 512.7,150.3 512.8,159.6 512.9,149.4 513.0,159.6 513.1,145.4 513.2,140.3 513.3,143.3 513.4,159.3 513.5,144.1 513.6,159.2 513.7,141.7 513.8,159.0 513.9,145.5 514.0,158.9 514.1,145.6 514.2,159.3 514.3,146.4 514.4,159.1 514.5,145.5 514.6,159.0 514.7,145.7 514.8,159.4 514.9,148.3 515.0,159.2 515.1,149.6 515.2,159.1 515.3,147.8 515.4,158.7 515.5,149.2 515.6,158.7 515.7,150.8 515.8,158.7 515.9,150.6 516.0,159.2 516.1,151.3 516.2,159.2 516.3,151.9 516.4,159.2 516.5,151.5 516.6,158.7 516.7,152.2 516.8,158.7 516.9,151.3 517.0,158.8 517.1,151.7 517.2,158.1 517.3,153.0 517.4,158.1 517.5,152.1 517.6,158.2 517.7,153.0 517.8,158.4 517.9,153.7 518.0,158.4 518.1,153.9 518.2,158.5 518.3,154.3 518.4,159.2 518.5,154.7 518.6,159.3 518.7,153.9 518.8,159.3 518.9,153.1 519.0,158.0 519.1,152.9 519.2,158.1 519.3,152.2 519.4,158.1 519.5,151.1 519.6,157.5 519.7,150.3 519.8,157.6 519.9,150.5 520.0,157.6 520.1,151.5 520.2,158.4 520.3,152.7 520.4,158.4 520.5,153.1 520.6,158.5 520.7,154.7 520.8,158.9 520.9,155.1 521.0,158.9 521.1,155.6 521.2,159.0 521.3,156.1 521.4,159.4 521.5,156.9 521.6,159.5 521.7,156.9 521.8,159.6 521.9,157.6 522.0,159.2 522.1,158.2 522.2,159.3 522.3,158.5 522.4,159.4 522.5,158.9 522.6,159.8 522.7,158.8 522.8,159.8 522.9,159.0 523.0,160.0 523.1,159.5 523.2,160.7 523.3,159.8 523.4,160.8 523.5,160.0 523.6,160.9 523.7,160.3 523.8,160.5 523.9,160.0 524.0,160.7 524.1,160.2 524.2,160.9 524.3,160.7 524.4,161.1 524.5,160.8 524.6,161.3 524.7,161.2 524.8,161.5 524.9,161.4 525.0,161.7 525.1,161.6 525.2,161.9 525.3,161.9 525.4,162.1 525.5,162.1 525.6,162.2 525.7,162.1 525.8,162.2 525.9,162.1 526.0,161.7 526.1,161.2 526.2,160.6 526.3,159.8 526.4,160.3 526.5,158.5 526.6,160.0 526.7,157.5 526.8,160.2 526.9,156.7 527.0,159.9 527.1,155.2 527.2,159.7 527.3,154.2 527.4,159.2 527.5,152.6 527.6,158.9 527.7,151.1 527.8,158.6 527.9,151.2 528.0,157.7 528.1,150.1 528.2,157.4 528.3,148.2 528.4,157.2 528.5,147.8 528.6,156.5 528.7,148.6 528.8,156.4 528.9,147.0 529.0,156.3 529.1,146.7 529.2,157.3 529.3,147.2 529.4,157.2 529.5,143.9 529.6,157.1 529.7,147.4 529.8,157.8 529.9,148.2 530.0,157.7 530.1,147.7 530.2,157.6 530.3,149.4 530.4,158.2 530.5,148.4 530.6,158.1 530.7,149.0 530.8,158.0 530.9,151.0 531.0,158.1 531.1,152.0 531.2,158.0 531.3,154.4 531.4,157.8 531.5,155.3 531.6,156.5 531.7,156.0 531.8,156.4 531.9,156.1 532.0,156.4 532.1,156.0 532.2,156.6 532.3,155.2 532.4,156.5 532.5,154.2 532.6,156.4 532.7,153.4 532.8,156.3 532.9,152.4 533.0,156.2 533.1,151.3 533.2,156.1 533.3,150.4 533.4,156.7 533.5,149.7 533.6,156.6 533.7,149.7 533.8,156.5 533.9,148.1 534.0,154.9 534.1,146.2 534.2,154.8 534.3,145.4 534.4,155.0 534.5,144.3 534.6,155.6 534.7,143.7 534.8,155.7 534.9,146.5 535.0,155.9 535.1,146.5 535.2,157.0 535.3,146.1 535.4,157.2 535.5,143.8 535.6,157.3 535.7,143.9 535.8,157.4 535.9,145.9 536.0,157.5 536.1,146.8 536.2,157.7 536.3,146.5 536.4,156.6 536.5,148.4 536.6,156.8 536.7,148.6 536.8,156.9 536.9,149.4 537.0,156.2 537.1,150.8 537.2,156.4 537.3,152.2 537.4,156.6 537.5,153.8 537.6,158.1 537.7,155.1 537.8,158.3 537.9,155.7 538.0,158.5 538.1,155.8 538.2,159.3 538.3,156.7 538.4,159.5 538.5,156.6 538.6,159.6 538.7,156.6 538.8,159.9 538.9,156.8 539.0,160.1 539.1,157.6 539.2,160.3 539.3,158.1 539.4,160.8 539.5,158.3 539.6,161.0 539.7,158.7 539.8,161.1 539.9,157.8 540.0,161.3 540.1,158.1 540.2,161.3 540.3,158.9 540.4,161.3 540.5,158.8 540.6,161.0 540.7,158.6 540.8,161.0 540.9,158.7 541.0,161.1 541.1,158.8 541.2,160.1 541.3,157.8 541.4,160.1 541.5,157.1 541.6,160.1 541.7,156.3 541.8,160.9 541.9,156.3 542.0,160.9 542.1,155.5 542.2,160.9 542.3,153.4 542.4,161.1 542.5,152.2 542.6,161.1 542.7,148.9 542.8,161.1 542.9,150.3 543.0,144.7 543.1,149.7 543.2,160.7 543.3,152.3 543.4,160.8 543.5,154.8 543.6,160.0 543.7,156.6 543.8,160.0 543.9,157.7 544.0,160.1 544.1,157.5 544.2,160.6 544.3,158.5 544.4,160.7 544.5,158.5 544.6,160.7 544.7,158.8 544.8,161.0 544.9,159.0 545.0,161.0 545.1,159.0 545.2,161.1 545.3,159.0 545.4,160.9 545.5,158.9 545.6,160.9 545.7,158.1 545.8,161.0 545.9,158.5 546.0,161.3 546.1,157.6 546.2,161.3 546.3,156.4 546.4,161.3 546.5,155.9 546.6,161.7 546.7,156.9 546.8,161.7 546.9,156.9 547.0,161.7 547.1,156.9 547.2,161.7 547.3,156.9 547.4,161.7 547.5,157.9 547.6,161.7 547.7,157.3 547.8,161.6 547.9,158.4 548.0,161.6 548.1,157.4 548.2,161.6 548.3,157.5 548.4,161.8 548.5,158.0 548.6,161.8 548.7,158.3 548.8,161.8 548.9,158.1 549.0,161.2 549.1,157.9 549.2,161.3 549.3,158.0 549.4,157.1 549.5,157.5 549.6,161.9 549.7,158.2 549.8,161.9 549.9,158.5 550.0,162.0 550.1,159.1 550.2,161.6 550.3,158.9 550.4,161.6 550.5,159.3 550.6,161.7 550.7,159.6 550.8,162.2 550.9,159.6 551.0,162.2 551.1,160.1 551.2,162.3 551.3,160.1 551.4,162.2 551.5,160.5 551.6,162.2 551.7,160.5 551.8,162.2 551.9,160.7 552.0,162.7 552.1,160.9 552.2,162.8 552.3,161.0 552.4,162.8 552.5,161.1 552.6,161.9 552.7,160.5 552.8,162.0 552.9,160.7 553.0,162.0 553.1,161.0 553.2,161.5 553.3,161.1 553.4,161.6 553.5,161.3 553.6,161.6 553.7,161.2 553.8,162.0 553.9,160.3 554.0,162.1 554.1,160.1 554.2,162.1 554.3,160.6 554.4,162.3 554.5,160.2 554.6,162.4 554.7,159.0 554.8,162.3 554.9,159.0 555.0,162.0 555.1,159.1 555.2,161.9 555.3,158.5 555.4,161.8 555.5,158.5 555.6,162.7 555.7,158.4 555.8,162.6 555.9,158.5 556.0,162.6 556.1,158.5 556.2,161.9 556.3,157.7 556.4,161.9 556.5,157.7 556.6,161.8 556.7,157.4 556.8,162.4 556.9,157.8 557.0,162.4 557.1,157.7 557.2,162.3 557.3,156.8 557.4,161.6 557.5,157.2 557.6,156.4 557.7,157.0 557.8,161.7 557.9,157.4 558.0,162.6 558.1,157.7 558.2,162.7 558.3,157.5 558.4,162.7 558.5,158.1 558.6,163.1 558.7,159.2 558.8,163.1 558.9,160.0 559.0,163.2 559.1,160.2 559.2,162.8 559.3,160.5 559.4,162.9 559.5,160.7 559.6,163.0 559.7,161.3 559.8,163.5 559.9,161.6 560.0,163.6 560.1,162.2 560.2,163.7 560.3,160.7 560.4,163.7 560.5,161.2 560.6,163.8 560.7,161.8 560.8,163.9 560.9,162.0 561.0,163.9 561.1,162.8 561.2,164.0 561.3,163.1 561.4,164.1 561.5,163.5 561.6,163.8 561.7,163.7 561.8,164.1 561.9,164.0 562.0,164.4 562.1,164.2 562.2,164.4 562.3,164.4 562.4,164.5 562.5,164.4 562.6,164.6 562.7,164.6 562.8,164.7 562.9,164.6 563.0,164.8 563.1,164.8 563.2,164.9 563.3,164.8 563.4,165.0 563.5,164.9 563.6,165.0 563.7,165.0 563.8,165.1 563.9,164.8 564.0,165.1 564.1,164.8 564.2,165.1 564.3,164.9 564.4,165.1 564.5,164.9 564.6,165.1 564.7,164.9 564.8,165.1 564.9,164.8 565.0,165.1 565.1,164.8 565.2,165.1 565.3,164.7 565.4,165.1 565.5,164.7 565.6,165.1 565.7,164.7 565.8,165.4 565.9,164.7 566.0,165.4 566.1,164.6 566.2,165.4 566.3,164.5 566.4,164.8 566.5,164.4 566.6,164.7 566.7,163.9 566.8,164.6 566.9,163.7 567.0,164.2 567.1,163.1 567.2,164.1 567.3,162.6 567.4,164.0 567.5,162.1 567.6,163.8 567.7,161.4 567.8,163.6 567.9,160.9 568.0,163.5 568.1,160.9 568.2,163.0 568.3,160.3 568.4,162.9 568.5,159.7 568.6,162.8 568.7,159.4 568.8,162.7 568.9,159.2 569.0,162.6 569.1,159.0 569.2,162.5 569.3,158.5 569.4,163.1 569.5,158.0 569.6,163.0 569.7,158.8 569.8,162.8 569.9,157.5 570.0,157.6 570.1,158.4 570.2,164.0 570.3,158.3 570.4,164.0 570.5,158.5 570.6,164.6 570.7,160.1 570.8,164.5 570.9,159.2 571.0,164.5 571.1,159.5 571.2,164.8 571.3,160.5 571.4,164.8 571.5,160.6 571.6,164.7 571.7,161.3 571.8,163.9 571.9,161.1 572.0,163.8 572.1,161.6 572.2,163.8 572.3,161.9 572.4,164.2 572.5,162.0 572.6,164.2 572.7,162.1 572.8,164.1 572.9,162.6 573.0,163.9 573.1,162.6 573.2,163.8 573.3,162.7 573.4,163.8 573.5,162.7 573.6,164.1 573.7,162.8 573.8,164.1 573.9,161.1 574.0,164.1 574.1,161.3 574.2,163.6 574.3,161.7 574.4,163.6 574.5,162.0 574.6,163.6 574.7,162.3 574.8,163.3 574.9,162.4 575.0,163.3 575.1,162.5 575.2,163.3 575.3,162.6 575.4,163.6 575.5,162.9 575.6,163.6 575.7,162.9 575.8,163.6 575.9,163.0 576.0,163.8 576.1,163.1 576.2,163.8 576.3,163.4 576.4,163.8 576.5,163.4 576.6,163.8 576.7,163.6 576.8,163.9 576.9,163.7 577.0,163.9 577.1,163.8 577.2,164.0 577.3,163.9 577.4,164.1 577.5,164.0 577.6,164.1 577.7,164.1 577.8,164.2 577.9,164.2 578.0,164.2 578.1,164.2 578.2,164.3 578.3,164.3 578.4,164.3 578.5,164.3 578.6,164.3 578.7,164.2 578.8,164.2 578.9,164.1 579.0,164.1 579.1,163.8 579.2,164.0 579.3,163.7 579.4,164.0 579.5,163.0 579.6,163.9 579.7,163.0 579.8,163.8 579.9,163.3 580.0,163.8 580.1,163.1 580.2,163.6 580.3,163.3 580.4,163.5 580.5,163.2 580.6,163.5 580.7,163.2 580.8,163.4 580.9,163.1 581.0,163.3 581.1,163.1 581.2,163.1 581.3,163.0 581.4,163.1 581.5,162.8 581.6,163.0 581.7,162.6 581.8,162.9 581.9,162.6 582.0,162.7 582.1,162.6 582.2,162.6 582.3,162.5 582.4,162.4 582.5,162.2 582.6,162.2 582.7,162.0 582.8,161.9 582.9,161.8 583.0,161.7 583.1,161.5 583.2,161.6 583.3,161.3 583.4,161.6 583.5,160.5 583.6,161.5 583.7,159.1 583.8,160.9 583.9,155.5 584.0,160.8 584.1,153.8 584.2,160.8 584.3,152.1 584.4,160.4 584.5,148.5 584.6,160.3 584.7,147.5 584.8,160.3 584.9,149.7 585.0,160.5 585.1,153.3 585.2,160.4 585.3,155.0 585.4,160.4 585.5,157.4 585.6,160.7 585.7,157.4 585.8,160.7 585.9,157.6 586.0,160.6 586.1,157.9 586.2,160.3 586.3,158.4 586.4,160.2 586.5,158.2 586.6,160.2 586.7,158.6 586.8,160.6 586.9,159.0 587.0,160.8 587.1,159.1 587.2,161.0 587.3,159.7 587.4,160.4 587.5,160.0 587.6,160.7 587.7,160.2 587.8,160.8 587.9,160.6 588.0,160.8 588.1,161.0 588.2,161.2 588.3,161.4 588.4,161.6 588.5,161.8 588.6,162.1 588.7,162.2 588.8,162.4 588.9,162.6 589.0,162.7 589.1,162.6 589.2,162.9 589.3,162.8 589.4,163.1 589.5,163.1 589.6,163.3 589.7,163.3 589.8,163.5 589.9,163.5 590.0,163.7 590.1,163.7 590.2,163.9 590.3,164.0 590.4,164.1 590.5,164.2 590.6,164.2 590.7,164.2 590.8,164.2 590.9,164.2 591.0,164.2 591.1,162.8 591.2,164.1 591.3,161.7 591.4,164.2 591.5,161.3 591.6,164.2 591.7,160.0 591.8,164.3 591.9,159.9 592.0,164.4 592.1,157.6 592.2,164.9 592.3,160.1 592.4,165.0 592.5,160.4 592.6,165.1 592.7,161.5 592.8,164.7 592.9,161.5 593.0,164.8 593.1,162.4 593.2,164.9 593.3,163.1 593.4,164.4 593.5,163.0 593.6,164.5 593.7,163.6 593.8,164.4 593.9,163.8 594.0,165.1 594.1,164.1 594.2,165.0 594.3,164.4 594.4,165.0 594.5,164.2 594.6,164.8 594.7,163.9 594.8,164.7 594.9,161.7 595.0,164.6 595.1,159.0 595.2,164.3 595.3,157.8 595.4,164.2 595.5,151.7 595.6,164.2 595.7,156.6 595.8,164.8 595.9,157.4 596.0,164.7 596.1,158.6 596.2,164.7 596.3,160.2 596.4,164.5 596.5,160.4 596.6,164.5 596.7,160.9 596.8,164.4 596.9,161.1 597.0,163.8 597.1,160.0 597.2,163.9 597.3,160.7 597.4,164.0 597.5,161.6 597.6,164.2 597.7,162.1 597.8,164.3 597.9,162.5 598.0,164.3 598.1,162.9 598.2,165.0 598.3,163.3 598.4,165.1 598.5,163.3 598.6,165.1 598.7,163.5 598.8,164.7 598.9,163.4 599.0,164.8 599.1,163.9 599.2,164.8 599.3,164.1 599.4,165.2 599.5,164.4 599.6,165.2 599.7,164.1 599.8,165.3 599.9,164.3 600.0,164.8 600.1,164.0 600.2,164.8 600.3,163.9 600.4,164.7 600.5,163.4 600.6,165.0 600.7,163.7 600.8,165.0 600.9,163.2 601.0,164.9 601.1,163.1 601.2,164.2 601.3,162.8 601.4,164.2 601.5,162.5 601.6,164.1 601.7,162.4 601.8,164.8 601.9,162.5 602.0,164.8 602.1,162.1 602.2,164.7 602.3,161.9 602.4,165.0 602.5,161.5 602.6,165.0 602.7,161.5 602.8,164.7 602.9,160.9 603.0,163.6 603.1,158.5 603.2,162.9 603.3,157.6 603.4,159.2 603.5,155.7 603.6,155.1 603.7,154.1 603.8,152.0 603.9,148.2 604.0,145.0 604.1,141.2 604.2,138.0 604.3,134.7 604.4,134.0 604.5,124.7 604.6,130.4 604.7,110.3 604.8,129.3 604.9,97.2 605.0,129.3 605.1,90.7 605.2,129.3 605.3,76.9 605.4,126.8 605.5,62.2 605.6,126.8 605.7,40.1 605.8,126.8 605.9,57.5 606.0,127.8 606.1,69.9 606.2,127.8 606.3,73.2 606.4,127.8 606.5,80.3 606.6,134.1 606.7,84.9 606.8,134.8 606.9,94.9 607.0,137.4 607.1,107.3 607.2,140.1 607.3,114.5 607.4,142.7 607.5,116.9 607.6,145.3 607.7,118.7 607.8,147.1 607.9,122.7 608.0,149.0 608.1,127.3 608.2,149.1 608.3,128.0 608.4,150.6 608.5,128.6 608.6,150.7 608.7,127.0 608.8,150.7 608.9,129.9 609.0,151.3 609.1,131.0 609.2,151.7 609.3,126.5 609.4,152.2 609.5,121.1 609.6,153.0 609.7,113.1 609.8,153.4 609.9,125.8 610.0,153.9 610.1,126.4 610.2,152.6 610.3,131.5 610.4,153.0 610.5,137.2 610.6,153.5 610.7,139.2 610.8,154.9 610.9,141.5 611.0,155.3 611.1,144.6 611.2,155.5 611.3,147.4 611.4,153.8 611.5,149.0 611.6,154.1 611.7,150.4 611.8,154.3 611.9,150.9 612.0,155.4 612.1,152.1 612.2,155.6 612.3,153.6 612.4,155.8 612.5,154.6 612.6,155.5 612.7,155.7 612.8,155.7 612.9,155.7 613.0,155.8 613.1,155.7 613.2,157.5 613.3,153.0 613.4,157.0 613.5,149.2 613.6,156.1 613.7,145.4 613.8,153.5 613.9,141.9 614.0,152.6 614.1,141.1 614.2,151.7 614.3,136.8 614.4,152.1 614.5,139.0 614.6,151.2 614.7,135.1 614.8,150.3 614.9,134.7 615.0,147.6 615.1,134.9 615.2,146.7 615.3,134.8 615.4,145.9 615.5,130.9 615.6,147.3 615.7,132.9 615.8,146.6 615.9,132.3 616.0,146.0 616.1,129.9 616.2,146.0 616.3,124.0 616.4,145.3 616.5,125.9 616.6,144.6 616.7,126.6 616.8,141.7 616.9,128.4 617.0,141.0 617.1,127.6 617.2,140.3 617.3,126.0 617.4,138.6 617.5,128.4 617.6,138.0 617.7,128.8 617.8,137.3 617.9,130.0 618.0,137.2 618.1,129.7 618.2,137.2 618.3,131.6 618.4,137.2 618.5,132.4 618.6,138.3 618.7,130.1 618.8,138.3 618.9,132.5 619.0,138.3 619.1,132.9 619.2,140.1 619.3,133.5 619.4,140.1 619.5,132.4 619.6,140.2 619.7,132.5 619.8,140.7 619.9,131.9 620.0,140.8 620.1,131.0 620.2,140.9 620.3,132.5 620.4,142.2 620.5,132.0 620.6,142.6 620.7,127.8 620.8,143.0 620.9,125.6 621.0,141.8 621.1,122.6 621.2,142.2 621.3,119.1 621.4,142.4 621.5,114.2 621.6,142.2 621.7,111.8 621.8,142.4 621.9,111.3 622.0,142.7 622.1,103.1 622.2,98.5 622.3,102.4 622.4,143.9 622.5,103.5 622.6,144.1 622.7,103.2 622.8,144.4 622.9,112.8 623.0,144.9 623.1,113.8 623.2,145.5 623.3,112.6 623.4,146.6 623.5,117.9 623.6,147.1 623.7,121.7 623.8,147.6 623.9,122.1 624.0,146.5 624.1,123.1 624.2,147.1 624.3,124.4 624.4,147.6 624.5,126.2 624.6,149.7 624.7,128.2 624.8,150.2 624.9,127.1 625.0,150.6 625.1,128.8 625.2,151.4 625.3,130.6 625.4,151.8 625.5,132.2 625.6,152.0 625.7,133.0 625.8,151.8 625.9,139.3 626.0,152.0 626.1,138.9 626.2,152.2 626.3,139.0 626.4,152.3 626.5,140.4 626.6,152.5 626.7,144.2 626.8,152.7 626.9,145.6 627.0,150.9 627.1,147.6 627.2,151.2 627.3,149.4 627.4,151.4 627.5,151.3 627.6,152.4 627.7,151.5 627.8,152.6 627.9,149.7 628.0,152.5 628.1,145.8 628.2,150.8 628.3,143.2 628.4,150.4 628.5,139.8 628.6,150.0 628.7,132.4 628.8,151.1 628.9,134.3 629.0,150.7 629.1,137.8 629.2,150.3 629.3,136.1 629.4,151.1 629.5,139.3 629.6,150.7 629.7,138.7 629.8,150.3 629.9,139.3 630.0,147.8 630.1,140.3 630.2,147.4 630.3,140.7 630.4,147.1 630.5,139.3 630.6,145.9 630.7,141.5 630.8,145.5 630.9,141.2 631.0,145.1 631.1,141.7 631.2,145.0 631.3,142.6 631.4,144.6 631.5,142.7 631.6,144.2 631.7,141.8 631.8,143.5 631.9,140.9 632.0,143.1 632.1,140.1 632.2,142.6 632.3,139.2 632.4,142.9 632.5,138.6 632.6,142.5 632.7,138.2 632.8,142.1 632.9,137.2 633.0,141.1 633.1,134.2 633.2,140.7 633.3,133.5 633.4,140.3 633.5,133.9 633.6,141.2 633.7,133.6 633.8,140.8 633.9,131.9 634.0,140.4 634.1,130.4 634.2,140.5 634.3,129.8 634.4,140.1 634.5,131.2 634.6,139.7 634.7,130.2 634.8,137.5 634.9,129.4 635.0,137.1 635.1,130.2 635.2,136.7 635.3,129.5 635.4,136.9 635.5,127.2 635.6,136.6 635.7,127.1 635.8,136.2 635.9,128.1 636.0,137.2 636.1,127.1 636.2,136.9 636.3,128.2 636.4,136.5 636.5,127.9 636.6,136.3 636.7,125.5 636.8,136.0 636.9,126.0 637.0,135.7 637.1,126.6 637.2,135.8 637.3,126.3 637.4,135.5 637.5,127.2 637.6,135.2 637.7,126.1 637.8,133.5 637.9,125.6 638.0,133.3 638.1,125.2 638.2,133.3 638.3,124.5 638.4,134.1 638.5,124.0 638.6,134.1 638.7,126.1 638.8,134.1 638.9,127.3 639.0,132.8 639.1,126.7 639.2,132.8 639.3,127.5 639.4,132.7 639.5,127.4 639.6,133.6 639.7,127.6 639.8,133.6 639.9,127.8 640.0,133.6 640.1,127.5 640.2,133.7 640.3,124.4 640.4,133.7 640.5,123.1 640.6,133.7 640.7,123.8 640.8,132.7 640.9,121.8 641.0,132.7 641.1,119.7 641.2,132.6 641.3,117.6 641.4,133.4 641.5,116.5 641.6,133.4 641.7,115.0 641.8,133.4 641.9,114.9 642.0,135.3 642.1,106.9 642.2,135.3 642.3,112.8 642.4,135.3 642.5,113.8 642.6,136.0 642.7,113.5 642.8,136.0 642.9,117.2 643.0,136.0 643.1,119.5 643.2,132.7 643.3,120.7 643.4,132.9 643.5,121.5 643.6,133.1 643.7,120.5 643.8,133.7 643.9,123.2 644.0,133.9 644.1,122.9 644.2,134.1 644.3,124.5 644.4,133.7 644.5,125.7 644.6,133.9 644.7,126.2 644.8,134.1 644.9,126.7 645.0,135.5 645.1,127.4 645.2,135.6 645.3,128.1 645.4,135.8 645.5,128.2 645.6,136.0 645.7,127.8 645.8,136.2 645.9,129.3 646.0,136.4 646.1,128.7 646.2,135.0 646.3,129.9 646.4,135.2 646.5,130.0 646.6,135.4 646.7,131.0 646.8,135.6 646.9,130.6 647.0,135.8 647.1,131.3 647.2,136.0 647.3,131.8 647.4,136.5 647.5,130.4 647.6,136.7 647.7,129.9 647.8,136.9 647.9,131.3 648.0,139.1 648.1,132.3 648.2,139.3 648.3,133.2 648.4,139.4 648.5,132.5 648.6,140.0 648.7,132.0 648.8,140.1 648.9,133.3 649.0,140.3 649.1,133.4 649.2,139.5 649.3,131.1 649.4,139.6 649.5,131.8 649.6,139.8 649.7,130.9 649.8,138.9 649.9,130.0 650.0,139.1 650.1,129.8 650.2,139.2 650.3,128.2 650.4,139.4 650.5,127.3 650.6,139.5 650.7,127.6 650.8,139.6 650.9,121.5 651.0,140.6 651.1,125.5 651.2,140.7 651.3,129.6 651.4,140.8 651.5,130.4 651.6,140.7 651.7,132.8 651.8,140.8 651.9,131.5 652.0,140.9 652.1,132.5 652.2,141.6 652.3,133.6 652.4,141.7 652.5,134.7 652.6,141.7 652.7,134.4 652.8,141.4 652.9,133.8 653.0,141.4 653.1,134.3 653.2,141.5 653.3,135.8 653.4,140.7 653.5,135.1 653.6,140.9 653.7,135.5 653.8,141.0 653.9,136.4 654.0,142.1 654.1,137.0 654.2,142.3 654.3,137.9 654.4,142.5 654.5,137.8 654.6,142.1 654.7,137.1 654.8,142.3 654.9,137.3 655.0,142.5 655.1,138.6 655.2,143.9 655.3,138.1 655.4,144.1 655.5,139.4 655.6,144.3 655.7,139.3 655.8,143.5 655.9,137.2 656.0,143.7 656.1,138.6 656.2,143.9 656.3,138.9 656.4,144.5 656.5,139.0 656.6,144.7 656.7,139.9 656.8,144.9 656.9,140.0 657.0,144.1 657.1,140.5 657.2,144.3 657.3,140.4 657.4,144.5 657.5,141.1 657.6,145.8 657.7,141.1 657.8,146.0 657.9,142.3 658.0,146.1 658.1,142.6 658.2,145.2 658.3,142.7 658.4,145.3 658.5,143.4 658.6,145.5 658.7,143.4 658.8,146.6 658.9,143.6 659.0,146.7 659.1,144.5 659.2,146.8 659.3,144.7 659.4,147.4 659.5,145.3 659.6,147.6 659.7,145.1 659.8,147.7 659.9,143.4 660.0,147.3 660.1,143.9 660.2,147.4 660.3,143.4 660.4,147.6 660.5,143.9 660.6,146.8 660.7,144.9 660.8,147.0 660.9,144.6 661.0,147.2 661.1,144.8 661.2,147.3 661.3,145.1 661.4,147.5 661.5,145.7 661.6,147.7 661.7,145.7 661.8,148.6 661.9,146.4 662.0,148.8 662.1,146.6 662.2,149.0 662.3,147.1 662.4,149.7 662.5,147.0 662.6,149.8 662.7,147.6 662.8,150.1 662.9,147.3 663.0,150.1 663.1,147.9 663.2,150.3 663.3,147.9 663.4,150.5 663.5,148.4 663.6,150.3 663.7,148.7 663.8,150.5 663.9,149.2 664.0,150.7 664.1,149.6 664.2,150.9 664.3,149.9 664.4,151.1 664.5,150.2 664.6,151.3 664.7,150.5 664.8,152.0 664.9,151.1 665.0,152.2 665.1,151.4 665.2,152.4 665.3,151.5 665.4,152.1 665.5,151.7 665.6,152.2 665.7,151.6 665.8,152.4 665.9,151.6 666.0,152.1 666.1,150.8 666.2,151.5 666.3,150.1 666.4,150.8 666.5,149.2 666.6,149.6 666.7,148.2 666.8,148.9 666.9,147.4 667.0,148.3 667.1,146.0 667.2,148.1 667.3,145.3 667.4,147.5 667.5,144.2 667.6,146.9 667.7,143.5 667.8,145.4 667.9,140.0 668.0,144.8 668.1,139.4 668.2,144.2 668.3,138.7 668.4,145.5 668.5,138.6 668.6,145.1 668.7,139.8 668.8,144.7 668.9,138.9 669.0,143.9 669.1,139.9 669.2,143.5 669.3,139.1" fill="none" stroke="#5FBC4E" stroke-width="2.5" stroke-linejoin="round" stroke-linecap="butt"/><circle cx="384.64" cy="157.67" r="3.3" fill="#E8241F"/><circle cx="390.50" cy="152.69" r="3.3" fill="#E8241F"/><circle cx="391.96" cy="148.59" r="3.3" fill="#E8241F"/><circle cx="396.06" cy="151.52" r="3.3" fill="#E8241F"/><circle cx="391.96" cy="137.32" r="3.3" fill="#E8241F"/><circle cx="397.09" cy="142.01" r="3.3" fill="#E8241F"/><circle cx="400.75" cy="137.90" r="3.3" fill="#E8241F"/><circle cx="411.87" cy="73.63" r="3.3" fill="#E8241F"/><circle cx="419.49" cy="110.53" r="3.3" fill="#E8241F"/><circle cx="421.25" cy="130.00" r="3.3" fill="#E8241F"/><circle cx="444.96" cy="157.38" r="3.3" fill="#E8241F"/><circle cx="463.27" cy="129.12" r="3.3" fill="#E8241F"/><circle cx="464.88" cy="137.90" r="3.3" fill="#E8241F"/><circle cx="466.93" cy="144.20" r="3.3" fill="#E8241F"/><circle cx="483.14" cy="153.43" r="3.3" fill="#E8241F"/><circle cx="488.25" cy="152.70" r="3.3" fill="#E8241F"/><circle cx="496.57" cy="158.10" r="3.3" fill="#E8241F"/><circle cx="503.28" cy="148.03" r="3.3" fill="#E8241F"/><circle cx="506.79" cy="154.31" r="3.3" fill="#E8241F"/><circle cx="520.22" cy="156.64" r="3.3" fill="#E8241F"/><circle cx="528.10" cy="151.97" r="3.3" fill="#E8241F"/><circle cx="530.44" cy="151.24" r="3.3" fill="#E8241F"/><circle cx="533.50" cy="138.39" r="3.3" fill="#E8241F"/><circle cx="557.01" cy="159.27" r="3.3" fill="#E8241F"/><circle cx="555.55" cy="162.48" r="3.3" fill="#E8241F"/><circle cx="568.10" cy="162.19" r="3.3" fill="#E8241F"/><circle cx="569.50" cy="162.63" r="3.3" fill="#E8241F"/><circle cx="581.75" cy="159.60" r="3.3" fill="#E8241F"/><circle cx="584.77" cy="142.15" r="3.3" fill="#E8241F"/><circle cx="585.11" cy="145.00" r="3.3" fill="#E8241F"/><circle cx="587.29" cy="155.58" r="3.3" fill="#E8241F"/><circle cx="602.57" cy="161.79" r="3.3" fill="#E8241F"/><circle cx="603.58" cy="148.86" r="3.3" fill="#E8241F"/><circle cx="604.25" cy="138.62" r="3.3" fill="#E8241F"/><circle cx="608.28" cy="132.91" r="3.3" fill="#E8241F"/><circle cx="611.97" cy="148.02" r="3.3" fill="#E8241F"/><circle cx="614.49" cy="144.16" r="3.3" fill="#E8241F"/><circle cx="616.50" cy="118.64" r="3.3" fill="#E8241F"/><circle cx="617.34" cy="122.33" r="3.3" fill="#E8241F"/><circle cx="618.69" cy="134.59" r="3.3" fill="#E8241F"/><circle cx="637.32" cy="120.32" r="3.3" fill="#E8241F"/><circle cx="650.58" cy="115.96" r="3.3" fill="#E8241F"/><circle cx="667.54" cy="127.37" r="3.3" fill="#E8241F"/><circle cx="668.88" cy="135.43" r="3.3" fill="#E8241F"/><circle cx="666.53" cy="139.96" r="3.3" fill="#E8241F"/><text x="370.2" y="12.1" font-size="15.2" fill="#000">(B) Short: GARCH−Normal</text></g>
<g><line x1="37.7" x2="335.8" y1="366.75" y2="366.75" stroke="#ebebeb" stroke-width="0.85"/><line x1="37.7" x2="335.8" y1="422.25" y2="422.25" stroke="#ebebeb" stroke-width="0.85"/><line x1="37.7" x2="335.8" y1="477.75" y2="477.75" stroke="#ebebeb" stroke-width="0.85"/><line x1="37.7" x2="335.8" y1="533.25" y2="533.25" stroke="#ebebeb" stroke-width="0.85"/><line x1="37.7" x2="335.8" y1="588.75" y2="588.75" stroke="#ebebeb" stroke-width="0.85"/><line x1="56.40" x2="56.40" y1="349.8" y2="627.0" stroke="#ebebeb" stroke-width="0.85"/><line x1="137.00" x2="137.00" y1="349.8" y2="627.0" stroke="#ebebeb" stroke-width="0.85"/><line x1="217.60" x2="217.60" y1="349.8" y2="627.0" stroke="#ebebeb" stroke-width="0.85"/><line x1="298.20" x2="298.20" y1="349.8" y2="627.0" stroke="#ebebeb" stroke-width="0.85"/><line x1="37.7" x2="335.8" y1="394.50" y2="394.50" stroke="#ebebeb" stroke-width="1.6"/><text x="31.7" y="398.2" font-size="10.5" fill="#4d4d4d" text-anchor="end">10</text><line x1="37.7" x2="335.8" y1="450.00" y2="450.00" stroke="#ebebeb" stroke-width="1.6"/><text x="31.7" y="453.7" font-size="10.5" fill="#4d4d4d" text-anchor="end">0</text><line x1="37.7" x2="335.8" y1="505.50" y2="505.50" stroke="#ebebeb" stroke-width="1.6"/><text x="31.7" y="509.2" font-size="10.5" fill="#4d4d4d" text-anchor="end">−10</text><line x1="37.7" x2="335.8" y1="561.00" y2="561.00" stroke="#ebebeb" stroke-width="1.6"/><text x="31.7" y="564.7" font-size="10.5" fill="#4d4d4d" text-anchor="end">−20</text><line x1="37.7" x2="335.8" y1="616.50" y2="616.50" stroke="#ebebeb" stroke-width="1.6"/><text x="31.7" y="620.2" font-size="10.5" fill="#4d4d4d" text-anchor="end">−30</text><line x1="96.70" x2="96.70" y1="349.8" y2="627.0" stroke="#ebebeb" stroke-width="1.6"/><text x="96.7" y="640.6" font-size="10.5" fill="#4d4d4d" text-anchor="middle">2010</text><line x1="177.30" x2="177.30" y1="349.8" y2="627.0" stroke="#ebebeb" stroke-width="1.6"/><text x="177.3" y="640.6" font-size="10.5" fill="#4d4d4d" text-anchor="middle">2015</text><line x1="257.90" x2="257.90" y1="349.8" y2="627.0" stroke="#ebebeb" stroke-width="1.6"/><text x="257.9" y="640.6" font-size="10.5" fill="#4d4d4d" text-anchor="middle">2020</text><polyline points="51.3,430.6 51.5,471.7 51.7,438.0 51.8,455.0 52.0,442.8 52.2,456.4 52.3,439.5 52.5,455.2 52.7,441.5 52.8,454.1 53.0,444.7 53.2,457.7 53.4,440.3 53.5,460.0 53.7,441.8 53.9,465.8 54.0,440.2 54.2,465.8 54.4,437.8 54.5,458.4 54.7,436.7 54.9,461.4 55.0,439.1 55.2,456.6 55.4,439.1 55.6,457.8 55.7,432.2 55.9,458.3 56.1,429.7 56.2,461.6 56.4,426.7 56.6,463.9 56.7,437.6 56.9,462.3 57.1,431.5 57.2,464.4 57.4,431.5 57.6,472.1 57.8,416.6 57.9,470.6 58.1,419.2 58.3,478.0 58.4,414.1 58.6,476.3 58.8,433.7 58.9,464.6 59.1,436.7 59.3,465.2 59.4,431.0 59.6,463.7 59.8,438.4 60.0,457.4 60.1,435.0 60.3,457.7 60.5,434.0 60.6,462.5 60.8,440.9 61.0,472.7 61.1,435.4 61.3,472.3 61.5,426.1 61.6,482.1 61.8,430.5 62.0,479.0 62.2,432.0 62.3,494.6 62.5,427.7 62.7,467.5 62.8,424.5 63.0,475.8 63.2,417.8 63.3,470.5 63.5,419.3 63.7,472.3 63.8,429.9 64.0,476.5 64.2,429.1 64.4,486.0 64.5,429.2 64.7,488.8 64.9,437.7 65.0,472.5 65.2,435.2 65.4,472.3 65.5,435.5 65.7,474.0 65.9,416.2 66.0,468.8 66.2,419.6 66.4,464.1 66.6,414.5 66.7,473.3 66.9,417.5 67.1,468.4 67.2,432.3 67.4,461.1 67.6,424.4 67.7,470.7 67.9,422.4 68.1,470.8 68.2,435.0 68.4,463.1 68.6,434.4 68.8,464.6 68.9,437.3 69.1,459.4 69.3,427.9 69.4,461.8 69.6,429.3 69.8,457.0 69.9,437.1 70.1,463.3 70.3,441.6 70.4,464.1 70.6,434.0 70.8,460.9 71.0,435.0 71.1,466.5 71.3,434.2 71.5,469.0 71.6,433.4 71.8,475.2 72.0,433.4 72.1,470.2 72.3,441.1 72.5,480.9 72.6,436.7 72.8,465.9 73.0,433.6 73.2,469.0 73.3,430.8 73.5,465.3 73.7,422.7 73.8,462.0 74.0,435.8 74.2,470.8 74.3,435.1 74.5,469.9 74.7,434.0 74.8,479.6 75.0,434.8 75.2,480.2 75.4,419.7 75.5,481.2 75.7,406.0 75.9,492.8 76.0,416.5 76.2,485.1 76.4,414.9 76.5,507.8 76.7,378.5 76.9,524.1 77.0,364.4 77.2,505.8 77.4,361.7 77.6,500.8 77.7,374.1 77.9,521.0 78.1,418.2 78.2,496.2 78.4,398.7 78.6,530.1 78.7,411.0 78.9,512.7 79.1,414.5 79.3,531.0 79.4,379.8 79.6,482.0 79.8,411.4 79.9,495.3 80.1,401.1 80.3,464.8 80.4,427.2 80.6,479.0 80.8,421.8 80.9,483.4 81.1,435.1 81.3,483.3 81.5,436.5 81.6,490.9 81.8,434.5 82.0,480.8 82.1,431.6 82.3,488.8 82.5,434.0 82.6,495.5 82.8,427.8 83.0,474.1 83.1,406.6 83.3,480.6 83.5,407.4 83.7,486.5 83.8,413.7 84.0,476.6 84.2,403.8 84.3,477.8 84.5,392.0 84.7,492.1 84.8,427.5 85.0,477.7 85.2,416.9 85.3,480.6 85.5,423.6 85.7,479.0 85.9,420.9 86.0,494.6 86.2,412.6 86.4,465.5 86.5,407.8 86.7,480.2 86.9,416.9 87.0,464.8 87.2,427.9 87.4,467.1 87.5,416.3 87.7,471.2 87.9,419.6 88.1,484.6 88.2,440.1 88.4,470.6 88.6,434.0 88.7,469.9 88.9,426.1 89.1,477.7 89.2,421.8 89.4,458.4 89.6,431.4 89.7,460.1 89.9,438.7 90.1,465.2 90.3,441.1 90.4,476.3 90.6,437.7 90.8,478.3 90.9,442.8 91.1,468.9 91.3,428.8 91.4,469.0 91.6,424.3 91.8,470.2 91.9,431.3 92.1,467.7 92.3,443.4 92.5,479.0 92.6,441.0 92.8,467.3 93.0,438.3 93.1,481.8 93.3,439.2 93.5,470.9 93.6,434.7 93.8,485.2 94.0,426.1 94.1,471.7 94.3,430.4 94.5,474.0 94.7,428.4 94.8,466.1 95.0,438.9 95.2,454.2 95.3,430.3 95.5,456.4 95.7,432.4 95.8,457.3 96.0,436.8 96.2,458.1 96.3,437.8 96.5,461.4 96.7,437.9 96.9,477.8 97.0,432.8 97.2,479.0 97.4,440.0 97.5,464.6 97.7,436.8 97.9,484.3 98.0,436.5 98.2,486.5 98.4,436.4 98.5,467.2 98.7,436.8 98.9,474.0 99.1,436.9 99.2,464.6 99.4,443.5 99.6,463.4 99.7,443.8 99.9,464.6 100.1,444.3 100.2,458.2 100.4,442.5 100.6,462.7 100.7,445.0 100.9,457.8 101.1,442.1 101.3,464.1 101.4,435.2 101.6,467.7 101.8,440.5 101.9,466.0 102.1,430.9 102.3,477.8 102.4,419.1 102.6,479.2 102.8,413.5 102.9,478.1 103.1,415.4 103.3,476.3 103.5,426.8 103.6,477.7 103.8,435.1 104.0,474.2 104.1,420.6 104.3,460.4 104.5,437.6 104.6,467.7 104.8,434.2 105.0,463.0 105.1,431.0 105.3,467.1 105.5,436.5 105.7,466.6 105.8,442.0 106.0,471.1 106.2,443.8 106.3,481.5 106.5,440.1 106.7,469.4 106.8,442.7 107.0,470.8 107.2,441.2 107.3,464.1 107.5,438.2 107.7,456.9 107.9,432.1 108.0,458.9 108.2,430.3 108.4,455.2 108.5,432.4 108.7,468.2 108.9,438.9 109.0,469.0 109.2,437.7 109.4,463.3 109.5,443.8 109.7,464.6 109.9,438.0 110.1,463.6 110.2,442.2 110.4,464.8 110.6,435.2 110.7,473.3 110.9,440.6 111.1,457.8 111.2,443.0 111.4,460.2 111.6,442.7 111.7,459.0 111.9,440.1 112.1,452.3 112.3,444.8 112.4,454.5 112.6,444.8 112.8,452.6 112.9,440.7 113.1,456.8 113.3,440.8 113.4,462.7 113.6,441.4 113.8,460.0 113.9,439.8 114.1,468.3 114.3,441.1 114.5,462.0 114.6,436.4 114.8,463.2 115.0,438.8 115.1,465.5 115.3,444.1 115.5,469.6 115.6,444.8 115.8,456.8 116.0,441.3 116.1,460.2 116.3,445.1 116.5,457.9 116.7,441.0 116.8,458.8 117.0,439.5 117.2,462.7 117.3,444.3 117.5,457.5 117.7,444.4 117.8,462.2 118.0,442.8 118.2,465.2 118.3,441.9 118.5,460.5 118.7,442.7 118.9,464.9 119.0,440.5 119.2,462.6 119.4,440.0 119.5,468.3 119.7,436.7 119.9,462.4 120.0,440.5 120.2,464.6 120.4,438.7 120.5,460.6 120.7,442.3 120.9,466.5 121.1,439.5 121.2,471.5 121.4,437.7 121.6,472.6 121.7,441.2 121.9,492.1 122.1,417.6 122.2,503.7 122.4,406.0 122.6,507.2 122.7,404.5 122.9,467.3 123.1,406.8 123.3,475.2 123.4,415.5 123.6,464.3 123.8,411.5 123.9,472.7 124.1,421.8 124.3,462.8 124.4,432.7 124.6,488.1 124.8,431.0 125.0,495.9 125.1,419.4 125.3,491.1 125.5,417.6 125.6,475.2 125.8,421.9 126.0,480.2 126.1,416.5 126.3,466.3 126.5,407.2 126.6,479.6 126.8,426.7 127.0,464.9 127.2,433.2 127.3,471.8 127.5,420.6 127.7,474.6 127.8,414.5 128.0,462.8 128.2,430.6 128.3,460.8 128.5,429.2 128.7,469.6 128.8,427.9 129.0,461.5 129.2,434.6 129.4,466.3 129.5,420.0 129.7,459.9 129.9,422.3 130.0,467.7 130.2,436.6 130.4,470.3 130.5,434.0 130.7,472.1 130.9,434.4 131.0,467.4 131.2,438.4 131.4,458.5 131.6,437.0 131.7,464.5 131.9,440.2 132.1,466.5 132.2,434.7 132.4,459.1 132.6,434.4 132.7,464.7 132.9,432.2 133.1,465.2 133.2,440.5 133.4,460.1 133.6,442.3 133.8,465.6 133.9,443.8 134.1,467.1 134.3,440.1 134.4,460.1 134.6,440.8 134.8,461.8 134.9,437.0 135.1,464.6 135.3,435.2 135.4,460.2 135.6,439.9 135.8,462.8 136.0,438.8 136.1,463.0 136.3,433.4 136.5,468.3 136.6,441.0 136.8,463.7 137.0,433.4 137.1,468.3 137.3,433.6 137.5,462.9 137.6,438.2 137.8,461.0 138.0,438.5 138.2,469.0 138.3,436.4 138.5,466.6 138.7,438.7 138.8,463.0 139.0,439.9 139.2,464.0 139.3,436.0 139.5,467.1 139.7,441.5 139.8,459.4 140.0,435.2 140.2,462.7 140.4,435.8 140.5,464.6 140.7,441.6 140.9,460.5 141.0,440.4 141.2,459.4 141.4,438.9 141.5,460.0 141.7,443.3 141.9,465.8 142.0,441.2 142.2,460.4 142.4,442.0 142.6,464.4 142.7,437.3 142.9,467.1 143.1,437.0 143.2,461.1 143.4,439.0 143.6,454.4 143.7,438.6 143.9,454.9 144.1,442.2 144.2,456.2 144.4,437.7 144.6,455.8 144.8,443.7 144.9,457.1 145.1,434.1 145.3,459.6 145.4,426.9 145.6,457.4 145.8,442.0 145.9,458.4 146.1,439.6 146.3,462.7 146.4,438.3 146.6,461.2 146.8,438.3 147.0,469.6 147.1,440.4 147.3,465.7 147.5,437.0 147.6,457.5 147.8,438.1 148.0,460.2 148.1,441.0 148.3,457.9 148.5,442.7 148.6,468.5 148.8,440.1 149.0,471.5 149.2,440.8 149.3,470.7 149.5,429.8 149.7,479.6 149.8,426.7 150.0,479.0 150.2,439.2 150.3,458.2 150.5,440.9 150.7,463.3 150.8,435.2 151.0,461.4 151.2,430.5 151.4,472.2 151.5,426.7 151.7,472.7 151.9,428.4 152.0,464.1 152.2,442.3 152.4,464.7 152.5,437.0 152.7,473.3 152.9,442.3 153.0,469.9 153.2,434.0 153.4,461.5 153.6,432.8 153.7,457.6 153.9,433.9 154.1,462.1 154.2,442.7 154.4,458.6 154.6,438.9 154.7,469.1 154.9,444.0 155.1,472.1 155.2,443.3 155.4,470.3 155.6,442.0 155.8,457.3 155.9,437.7 156.1,458.5 156.3,441.2 156.4,460.8 156.6,444.7 156.8,457.2 156.9,439.5 157.1,460.5 157.3,436.1 157.4,464.6 157.6,438.7 157.8,461.5 158.0,431.3 158.1,475.9 158.3,437.0 158.5,470.4 158.6,438.7 158.8,476.5 159.0,429.7 159.1,466.9 159.3,433.1 159.5,458.5 159.6,441.8 159.8,465.2 160.0,441.7 160.2,458.3 160.3,441.3 160.5,467.2 160.7,439.0 160.8,465.7 161.0,435.9 161.2,467.7 161.3,434.0 161.5,466.7 161.7,435.6 161.8,471.4 162.0,434.5 162.2,475.8 162.4,432.8 162.5,466.4 162.7,437.0 162.9,460.0 163.0,435.2 163.2,460.2 163.4,437.6 163.5,457.8 163.7,435.0 163.9,457.6 164.0,431.8 164.2,474.1 164.4,423.0 164.6,473.6 164.7,437.9 164.9,478.1 165.1,440.9 165.2,473.1 165.4,434.6 165.6,467.5 165.7,441.3 165.9,471.5 166.1,436.0 166.2,467.8 166.4,435.2 166.6,460.3 166.8,435.7 166.9,460.5 167.1,435.3 167.3,468.3 167.4,427.9 167.6,458.8 167.8,432.4 167.9,460.2 168.1,437.6 168.3,458.4 168.5,434.0 168.6,460.2 168.8,438.7 169.0,458.2 169.1,432.8 169.3,463.9 169.5,440.8 169.6,462.0 169.8,441.3 170.0,461.7 170.1,440.1 170.3,465.2 170.5,441.4 170.7,460.3 170.8,443.0 171.0,462.2 171.2,439.6 171.3,459.2 171.5,438.9 171.7,467.7 171.8,441.6 172.0,461.4 172.2,442.3 172.3,462.4 172.5,444.2 172.7,468.3 172.9,441.3 173.0,462.9 173.2,443.3 173.4,473.5 173.5,440.0 173.7,476.5 173.9,435.2 174.0,474.4 174.2,441.8 174.4,457.3 174.5,438.2 174.7,461.4 174.9,428.5 175.1,456.4 175.2,436.9 175.4,472.3 175.6,435.2 175.7,475.8 175.9,441.2 176.1,465.4 176.2,437.8 176.4,465.4 176.6,432.8 176.7,467.7 176.9,434.4 177.1,465.5 177.3,437.3 177.4,459.4 177.6,434.0 177.8,461.5 177.9,440.4 178.1,466.5 178.3,434.2 178.4,455.0 178.6,437.6 178.8,454.0 178.9,429.4 179.1,456.4 179.3,431.6 179.5,457.8 179.6,432.1 179.8,464.4 180.0,430.6 180.1,465.2 180.3,430.1 180.5,461.4 180.6,434.6 180.8,466.5 181.0,442.2 181.1,463.4 181.3,440.1 181.5,465.6 181.7,441.6 181.8,460.3 182.0,440.8 182.2,465.8 182.3,442.6 182.5,462.7 182.7,440.1 182.8,462.6 183.0,446.3 183.2,464.6 183.3,443.4 183.5,462.1 183.7,442.5 183.9,458.1 184.0,441.1 184.2,460.8 184.4,438.3 184.5,467.0 184.7,443.0 184.9,467.8 185.0,446.1 185.2,473.3 185.4,444.4 185.5,459.9 185.7,442.5 185.9,458.7 186.1,439.6 186.2,462.1 186.4,437.0 186.6,461.4 186.7,436.7 186.9,462.8 187.1,438.1 187.2,472.5 187.4,430.6 187.6,461.8 187.7,426.1 187.9,464.6 188.1,435.2 188.3,461.6 188.4,431.6 188.6,471.5 188.8,426.6 188.9,464.2 189.1,427.3 189.3,462.9 189.4,436.2 189.6,465.2 189.8,425.7 189.9,464.1 190.1,438.2 190.3,470.7 190.5,437.3 190.6,471.5 190.8,435.2 191.0,468.7 191.1,441.3 191.3,468.8 191.5,437.5 191.6,469.4 191.8,437.0 192.0,470.8 192.1,440.7 192.3,458.9 192.5,423.8 192.7,460.2 192.8,430.5 193.0,455.3 193.2,414.8 193.3,469.8 193.5,441.1 193.7,486.7 193.8,435.2 194.0,471.3 194.2,435.1 194.3,466.6 194.5,430.1 194.7,469.6 194.9,434.7 195.0,463.9 195.2,436.8 195.4,456.2 195.5,434.0 195.7,459.6 195.9,437.2 196.0,458.4 196.2,432.5 196.4,460.7 196.5,439.7 196.7,464.4 196.9,441.5 197.1,465.2 197.2,443.2 197.4,460.4 197.6,440.1 197.7,459.7 197.9,440.1 198.1,462.7 198.2,442.4 198.4,456.4 198.6,437.7 198.7,456.9 198.9,441.7 199.1,461.4 199.3,444.7 199.4,458.4 199.6,440.7 199.8,458.0 199.9,444.4 200.1,457.8 200.3,441.8 200.4,463.3 200.6,438.3 200.8,464.6 200.9,444.0 201.1,463.9 201.3,438.2 201.5,475.0 201.6,429.7 201.8,456.7 202.0,444.4 202.1,458.9 202.3,444.6 202.5,456.5 202.6,439.5 202.8,460.7 203.0,441.0 203.1,458.0 203.3,443.5 203.5,465.2 203.7,443.5 203.8,458.1 204.0,440.7 204.2,465.6 204.3,444.3 204.5,465.8 204.7,443.6 204.8,461.7 205.0,443.2 205.2,459.3 205.3,438.3 205.5,461.4 205.7,442.1 205.9,456.4 206.0,445.1 206.2,459.7 206.4,444.1 206.5,460.0 206.7,440.7 206.9,461.2 207.0,443.2 207.2,460.8 207.4,442.0 207.5,456.4 207.7,437.7 207.9,460.2 208.1,442.2 208.2,459.2 208.4,438.0 208.6,456.8 208.7,441.9 208.9,457.0 209.1,435.2 209.2,458.3 209.4,436.0 209.6,456.6 209.7,442.9 209.9,455.9 210.1,435.8 210.3,456.2 210.4,441.7 210.6,461.4 210.8,442.2 210.9,456.6 211.1,435.0 211.3,460.3 211.4,435.7 211.6,462.4 211.8,440.8 211.9,462.3 212.1,438.6 212.3,465.4 212.5,434.6 212.6,467.1 212.8,435.2 213.0,466.6 213.1,445.5 213.3,459.5 213.5,441.3 213.6,461.7 213.8,441.5 214.0,464.6 214.2,442.0 214.3,461.4 214.5,435.2 214.7,467.7 214.8,436.3 215.0,459.9 215.2,437.6 215.3,465.0 215.5,432.2 215.7,468.9 215.8,435.7 216.0,472.5 216.2,441.3 216.4,457.8 216.5,435.2 216.7,458.9 216.9,437.7 217.0,458.2 217.2,439.0 217.4,460.4 217.5,435.8 217.7,457.4 217.9,442.6 218.0,460.8 218.2,439.5 218.4,456.6 218.6,440.6 218.7,459.4 218.9,443.3 219.1,462.7 219.2,445.3 219.4,460.9 219.6,441.9 219.7,454.2 219.9,443.1 220.1,455.2 220.2,444.4 220.4,457.1 220.6,443.0 220.8,458.2 220.9,443.8 221.1,459.6 221.3,441.1 221.4,461.2 221.6,437.9 221.8,460.6 221.9,443.4 222.1,462.7 222.3,443.9 222.4,461.7 222.6,441.9 222.8,461.3 223.0,440.1 223.1,462.1 223.3,440.7 223.5,458.7 223.6,440.0 223.8,463.2 224.0,439.5 224.1,460.1 224.3,442.8 224.5,465.2 224.6,445.0 224.8,454.1 225.0,440.9 225.2,453.2 225.3,440.7 225.5,455.8 225.7,442.7 225.8,458.4 226.0,441.5 226.2,462.5 226.3,434.2 226.5,465.2 226.7,440.2 226.8,458.0 227.0,443.9 227.2,467.1 227.4,441.7 227.5,470.8 227.7,439.5 227.9,460.5 228.0,443.5 228.2,460.0 228.4,442.1 228.5,460.2 228.7,439.9 228.9,457.2 229.0,437.0 229.2,463.0 229.4,439.6 229.6,464.6 229.7,440.6 229.9,461.2 230.1,443.8 230.2,456.7 230.4,439.5 230.6,456.2 230.7,440.4 230.9,461.4 231.1,442.1 231.2,455.9 231.4,436.1 231.6,454.2 231.8,435.8 231.9,457.1 232.1,436.6 232.3,453.8 232.4,443.6 232.6,456.8 232.8,441.3 232.9,460.2 233.1,443.0 233.3,461.2 233.4,443.4 233.6,459.0 233.8,442.4 234.0,456.9 234.1,441.9 234.3,460.2 234.5,443.5 234.6,457.4 234.8,445.5 235.0,457.6 235.1,441.9 235.3,458.3 235.5,439.8 235.6,457.5 235.8,443.9 236.0,456.4 236.2,442.6 236.3,458.8 236.5,444.7 236.7,456.9 236.8,442.6 237.0,460.2 237.2,440.1 237.3,455.5 237.5,442.3 237.7,465.9 237.8,437.3 238.0,465.1 238.2,435.7 238.4,468.3 238.5,432.2 238.7,461.1 238.9,438.0 239.0,467.0 239.2,438.9 239.4,467.1 239.5,438.1 239.7,459.3 239.9,433.4 240.0,459.6 240.2,440.3 240.4,465.3 240.6,437.2 240.7,465.8 240.9,435.2 241.1,466.0 241.2,435.3 241.4,463.8 241.6,419.5 241.7,467.1 241.9,418.4 242.1,463.1 242.2,427.6 242.4,458.7 242.6,435.9 242.8,458.9 242.9,435.2 243.1,458.7 243.3,439.0 243.4,464.6 243.6,441.3 243.8,466.5 243.9,437.7 244.1,466.4 244.3,430.0 244.4,463.7 244.6,429.1 244.8,471.2 245.0,429.8 245.1,462.6 245.3,439.9 245.5,457.7 245.6,431.6 245.8,458.9 246.0,438.1 246.1,456.8 246.3,443.4 246.5,455.0 246.6,441.9 246.8,459.6 247.0,443.0 247.2,456.1 247.3,442.0 247.5,463.2 247.7,438.9 247.8,469.6 248.0,437.1 248.2,467.1 248.3,435.2 248.5,457.4 248.7,441.8 248.8,461.4 249.0,438.4 249.2,458.1 249.4,432.2 249.5,456.5 249.7,439.7 249.9,462.1 250.0,441.8 250.2,460.3 250.4,440.7 250.5,473.7 250.7,440.8 250.9,472.5 251.0,441.1 251.2,474.0 251.4,437.0 251.6,463.9 251.7,441.5 251.9,458.4 252.1,439.6 252.2,461.4 252.4,439.5 252.6,457.8 252.7,436.4 252.9,467.6 253.1,442.5 253.2,469.0 253.4,441.4 253.6,467.9 253.8,438.3 253.9,458.1 254.1,444.8 254.3,455.6 254.4,442.7 254.6,458.9 254.8,441.9 254.9,454.5 255.1,444.4 255.3,458.3 255.4,442.4 255.6,460.8 255.8,440.1 256.0,456.3 256.1,444.8 256.3,453.5 256.5,441.2 256.6,454.3 256.8,438.4 257.0,455.8 257.1,439.5 257.3,458.2 257.5,438.3 257.7,458.3 257.8,443.9 258.0,454.9 258.2,441.9 258.3,465.4 258.5,439.3 258.7,471.5 258.8,434.0 259.0,461.9 259.2,429.6 259.3,462.4 259.5,423.6 259.7,472.7 259.9,427.1 260.0,476.7 260.2,418.6 260.4,492.8 260.5,415.1 260.7,480.3 260.9,422.3 261.0,495.2 261.2,406.0 261.4,536.6 261.5,396.2 261.7,484.8 261.9,374.7 262.1,492.8 262.2,386.9 262.4,490.9 262.6,410.7 262.7,470.4 262.9,406.6 263.1,482.7 263.2,430.9 263.4,473.8 263.6,416.3 263.7,477.1 263.9,419.9 264.1,470.4 264.3,413.6 264.4,492.4 264.6,410.2 264.8,485.0 264.9,434.2 265.1,504.7 265.3,423.0 265.4,458.4 265.6,427.8 265.8,465.6 265.9,423.1 266.1,466.5 266.3,429.3 266.5,462.7 266.6,421.8 266.8,464.7 267.0,424.4 267.1,465.2 267.3,428.4 267.5,461.2 267.6,423.0 267.8,462.0 268.0,434.2 268.1,465.8 268.3,440.5 268.5,482.3 268.7,434.0 268.8,488.4 269.0,420.1 269.2,479.7 269.3,428.9 269.5,463.2 269.7,420.0 269.8,469.6 270.0,427.7 270.2,477.3 270.3,427.8 270.5,480.2 270.7,419.4 270.9,479.6 271.0,432.3 271.2,461.6 271.4,410.9 271.5,467.7 271.7,398.7 271.9,462.5 272.0,402.5 272.2,471.9 272.4,403.4 272.5,474.0 272.7,401.7 272.9,469.3 273.1,425.1 273.2,467.4 273.4,420.6 273.6,472.1 273.7,412.1 273.9,466.4 274.1,423.4 274.2,477.4 274.4,410.3 274.6,482.1 274.7,408.4 274.9,467.7 275.1,423.4 275.3,469.9 275.4,418.2 275.6,479.0 275.8,434.7 275.9,486.0 276.1,429.7 276.3,487.2 276.4,433.4 276.6,488.0 276.8,419.5 276.9,483.2 277.1,419.9 277.3,473.9 277.5,399.0 277.6,484.6 277.8,420.9 278.0,472.8 278.1,418.2 278.3,466.8 278.5,419.0 278.6,476.5 278.8,423.8 279.0,467.4 279.1,431.2 279.3,470.6 279.5,423.0 279.7,482.1 279.8,435.1 280.0,470.1 280.2,423.6 280.3,465.7 280.5,435.8 280.7,465.8 280.8,434.9 281.0,460.2 281.2,425.5 281.3,467.1 281.5,436.8 281.7,463.0 281.9,429.7 282.0,474.9 282.2,426.7 282.4,472.1 282.5,428.8 282.7,477.1 282.9,436.6 283.0,462.1 283.2,423.9 283.4,469.0 283.5,423.4 283.7,460.1 283.9,433.1 284.1,465.9 284.2,435.2 284.4,471.5 284.6,426.7 284.7,466.6 284.9,437.8 285.1,468.5 285.2,437.9 285.4,467.2 285.6,437.7 285.7,480.0 285.9,438.2 286.1,457.5 286.3,431.0 286.4,460.6 286.6,431.0 286.8,462.7 286.9,434.3 287.1,463.3 287.3,434.8 287.4,470.5 287.6,421.2 287.8,473.3 287.9,433.1 288.1,463.9 288.3,424.9 288.5,481.9 288.6,422.4 288.8,484.0 289.0,435.5 289.1,483.3 289.3,434.4 289.5,470.9 289.6,429.7 289.8,480.2 290.0,438.8 290.1,471.0 290.3,426.8 290.5,472.2 290.7,426.7 290.8,484.6 291.0,436.8 291.2,469.8 291.3,421.8 291.5,468.3 291.7,399.9 291.8,477.1 292.0,402.0 292.2,464.1 292.3,424.1 292.5,476.2 292.7,406.6 292.9,475.4 293.0,406.3 293.2,489.2 293.4,406.2 293.5,489.6 293.7,422.7 293.9,476.8 294.0,421.9 294.2,468.7 294.4,421.2 294.5,475.2 294.7,425.5 294.9,466.6 295.1,435.6 295.2,488.0 295.4,421.8 295.6,499.4 295.7,424.9 295.9,506.5 296.1,413.6 296.2,491.4 296.4,403.5 296.6,478.5 296.7,426.2 296.9,487.1 297.1,416.9 297.3,478.5 297.4,419.7 297.6,470.8 297.8,421.7 297.9,484.6 298.1,415.7 298.3,482.0 298.4,414.5 298.6,465.6 298.8,415.2 298.9,476.5 299.1,410.6 299.3,465.5 299.5,407.2 299.6,470.7 299.8,424.3 300.0,467.2 300.1,415.5 300.3,482.7 300.5,415.1 300.6,473.1 300.8,426.5 301.0,462.7 301.1,437.3 301.3,472.7 301.5,424.9 301.7,471.2 301.8,422.5 302.0,484.5 302.2,424.2 302.3,484.6 302.5,419.4 302.7,476.4 302.8,423.0 303.0,465.1 303.2,423.1 303.4,477.7 303.5,415.1 303.7,470.0 303.9,430.0 304.0,471.7 304.2,414.4 304.4,477.1 304.5,396.2 304.7,470.4 304.9,429.0 305.0,472.4 305.2,419.4 305.4,473.1 305.6,425.5 305.7,484.0 305.9,426.9 306.1,482.9 306.2,426.7 306.4,474.6 306.6,428.6 306.7,476.5 306.9,433.4 307.1,476.2 307.2,433.7 307.4,464.2 307.6,424.3 307.8,468.9 307.9,427.7 308.1,475.2 308.3,432.2 308.4,471.3 308.6,423.4 308.8,475.8 308.9,432.9 309.1,475.4 309.3,430.4 309.4,466.3 309.6,429.4 309.8,472.1 310.0,423.0 310.1,470.7 310.3,423.2 310.5,465.9 310.6,441.5 310.8,470.8 311.0,440.5 311.1,461.1 311.3,438.3 311.5,463.5 311.6,439.2 311.8,466.8 312.0,437.3 312.2,469.0 312.3,426.1 312.5,463.5 312.7,433.4 312.8,464.6 313.0,428.1 313.2,460.0 313.3,427.9 313.5,459.6 313.7,432.9 313.8,464.9 314.0,434.6 314.2,465.8 314.4,428.5 314.5,467.1 314.7,431.6 314.9,468.3 315.0,435.6 315.2,461.9 315.4,434.1 315.5,468.5 315.7,428.9 315.9,476.5 316.0,435.5 316.2,471.9 316.4,433.9 316.6,464.5 316.7,432.8 316.9,468.3 317.1,440.1 317.2,461.2 317.4,435.9 317.6,467.8 317.7,429.4 317.9,462.6 318.1,442.3 318.2,472.1 318.4,435.8 318.6,464.6 318.8,440.9 318.9,465.2 319.1,423.2 319.3,479.6 319.4,415.1 319.6,478.4 319.8,423.2 319.9,467.6 320.1,409.5 320.3,468.6 320.4,405.7 320.6,470.2 320.8,407.7 321.0,464.6 321.1,419.1 321.3,464.1 321.5,413.3 321.6,475.2 321.8,415.5 322.0,467.4 322.1,422.5 322.3,467.9" fill="none" stroke="#b3b3b3" stroke-width="1.0" stroke-linejoin="round"/><polyline points="51.2,466.7 51.3,466.7 51.4,466.6 51.5,466.6 51.6,466.6 51.7,466.5 51.8,466.5 51.9,466.4 52.0,466.4 52.1,466.6 52.2,466.3 52.3,466.6 52.4,466.2 52.5,467.0 52.6,466.2 52.7,466.9 52.8,466.1 52.9,466.5 53.0,465.9 53.1,466.6 53.2,465.9 53.3,466.3 53.4,466.0 53.5,466.4 53.6,466.2 53.7,466.4 53.8,466.3 53.9,466.5 54.0,466.3 54.1,466.5 54.2,466.4 54.3,466.6 54.4,466.5 54.5,466.6 54.6,466.6 54.7,466.7 54.8,466.7 54.9,466.7 55.0,466.8 55.1,466.9 55.2,467.1 55.3,467.4 55.4,467.6 55.5,467.9 55.6,468.1 55.7,468.4 55.8,468.6 55.9,468.9 56.0,469.1 56.1,469.4 56.2,469.6 56.3,469.9 56.4,470.1 56.5,470.4 56.6,470.6 56.7,470.9 56.8,471.1 56.9,472.5 57.0,471.8 57.1,473.3 57.2,472.4 57.3,473.5 57.4,473.1 57.5,474.1 57.6,473.8 57.7,474.5 57.8,474.5 57.9,475.2 58.0,475.1 58.1,475.7 58.2,475.8 58.3,476.4 58.4,476.5 58.5,477.0 58.6,477.1 58.7,477.7 58.8,477.9 58.9,478.4 59.0,478.7 59.1,479.2 59.2,479.0 59.3,479.6 59.4,475.7 59.5,479.5 59.6,471.9 59.7,479.4 59.8,470.2 59.9,482.2 60.0,468.9 60.1,480.5 60.2,468.1 60.3,482.9 60.4,468.2 60.5,486.2 60.6,468.4 60.7,484.8 60.8,469.2 60.9,487.0 61.0,470.5 61.1,488.0 61.2,472.3 61.3,492.8 61.4,476.5 61.5,496.1 61.6,477.2 61.7,499.8 61.8,477.7 61.9,504.5 62.0,478.2 62.1,505.3 62.2,478.6 62.3,512.2 62.4,479.0 62.5,521.7 62.6,480.3 62.7,501.5 62.8,480.8 62.9,498.3 63.0,482.1 63.1,498.2 63.2,484.1 63.3,497.5 63.4,485.8 63.5,498.2 63.6,485.9 63.7,494.5 63.8,482.8 63.9,494.7 64.0,480.4 64.1,495.0 64.2,481.8 64.3,493.3 64.4,481.5 64.5,494.7 64.6,481.4 64.7,499.3 64.8,481.2 64.9,498.0 65.0,480.6 65.1,500.6 65.2,480.4 65.3,502.3 65.4,505.6 65.5,499.7 65.6,480.3 65.7,494.4 65.8,480.1 65.9,491.3 66.0,480.0 66.1,489.1 66.2,481.0 66.3,490.2 66.4,480.9 66.5,488.3 66.6,478.5 66.7,487.1 66.8,475.7 66.9,485.6 67.0,474.0 67.1,485.6 67.2,474.1 67.3,489.2 67.4,473.4 67.5,488.4 67.6,473.5 67.7,494.6 67.8,473.5 67.9,487.8 68.0,473.8 68.1,484.8 68.2,474.0 68.3,482.2 68.4,474.4 68.5,482.3 68.6,474.6 68.7,479.6 68.8,474.8 68.9,478.0 69.0,473.6 69.1,477.0 69.2,472.3 69.3,475.0 69.4,471.4 69.5,474.9 69.6,470.4 69.7,476.6 69.8,469.1 69.9,476.2 70.0,468.7 70.1,474.0 70.2,468.3 70.3,473.0 70.4,468.6 70.5,473.2 70.6,468.2 70.7,473.7 70.8,468.1 70.9,472.2 71.0,469.2 71.1,473.3 71.2,468.8 71.3,475.3 71.4,468.4 71.5,474.4 71.6,467.9 71.7,474.2 71.8,469.2 71.9,475.8 72.0,470.5 72.1,475.9 72.2,472.2 72.3,478.4 72.4,473.5 72.5,479.8 72.6,474.8 72.7,481.9 72.8,474.6 72.9,484.4 73.0,474.7 73.1,484.7 73.2,474.8 73.3,486.7 73.4,475.5 73.5,489.6 73.6,494.6 73.7,490.0 73.8,475.6 73.9,488.0 74.0,472.8 74.1,488.6 74.2,471.1 74.3,484.8 74.4,469.8 74.5,487.6 74.6,472.7 74.7,484.7 74.8,475.0 74.9,490.2 75.0,477.6 75.1,493.7 75.2,477.5 75.3,496.4 75.4,480.5 75.5,499.8 75.6,483.9 75.7,502.2 75.8,488.0 75.9,507.0 76.0,492.0 76.1,514.7 76.2,494.2 76.3,525.1 76.4,495.6 76.5,528.0 76.6,495.6 76.7,536.1 76.8,495.6 76.9,547.6 77.0,493.1 77.1,581.0 77.2,493.1 77.3,577.7 77.4,493.1 77.5,567.4 77.6,496.1 77.7,568.0 77.8,496.8 77.9,573.6 78.0,497.6 78.1,568.6 78.2,497.9 78.3,558.1 78.4,498.3 78.5,566.7 78.6,498.3 78.7,568.6 78.8,494.9 78.9,583.6 79.0,494.9 79.1,580.4 79.2,494.9 79.3,590.2 79.4,495.1 79.5,558.2 79.6,495.1 79.7,549.8 79.8,495.1 79.9,551.4 80.0,497.2 80.1,536.7 80.2,497.2 80.3,528.3 80.4,496.0 80.5,522.1 80.6,495.2 80.7,519.2 80.8,492.4 80.9,517.7 81.0,489.5 81.1,514.1 81.2,487.3 81.3,517.2 81.4,487.5 81.5,512.0 81.6,485.9 81.7,514.5 81.8,485.0 81.9,518.2 82.0,485.7 82.1,521.0 82.2,486.3 82.3,513.8 82.4,487.6 82.5,523.0 82.6,487.6 82.7,517.3 82.8,487.6 82.9,526.1 83.0,487.7 83.1,519.1 83.2,487.7 83.3,530.5 83.4,487.9 83.5,515.7 83.6,488.8 83.7,518.9 83.8,488.9 83.9,515.4 84.0,489.0 84.1,512.9 84.2,488.0 84.3,509.0 84.4,487.4 84.5,511.9 84.6,486.0 84.7,508.1 84.8,485.6 84.9,509.0 85.0,484.2 85.1,504.4 85.2,483.4 85.3,504.9 85.4,481.5 85.5,504.5 85.6,482.3 85.7,505.8 85.8,483.0 85.9,512.9 86.0,481.8 86.1,512.0 86.2,482.6 86.3,510.7 86.4,483.4 86.5,512.6 86.6,485.9 86.7,507.1 86.8,514.4 86.9,506.3 87.0,487.7 87.1,505.1 87.2,488.9 87.3,502.0 87.4,489.9 87.5,501.2 87.6,491.0 87.7,499.6 87.8,491.7 87.9,498.3 88.0,490.4 88.1,498.0 88.2,489.0 88.3,494.9 88.4,486.3 88.5,494.3 88.6,484.9 88.7,491.9 88.8,483.9 88.9,489.7 89.0,484.3 89.1,488.3 89.2,483.3 89.3,487.3 89.4,482.2 89.5,487.7 89.6,481.7 89.7,486.8 89.8,481.2 89.9,488.6 90.0,481.4 90.1,490.0 90.2,482.4 90.3,493.1 90.4,482.7 90.5,490.4 90.6,483.0 90.7,489.3 90.8,482.5 90.9,489.2 91.0,482.7 91.1,487.2 91.2,482.7 91.3,487.7 91.4,481.9 91.5,485.7 91.6,481.2 91.7,484.6 91.8,480.3 91.9,483.6 92.0,478.8 92.1,484.5 92.2,478.5 92.3,484.5 92.4,478.1 92.5,486.2 92.6,478.3 92.7,487.0 92.8,479.0 92.9,489.4 93.0,478.7 93.1,492.2 93.2,477.8 93.3,491.1 93.4,477.5 93.5,491.6 93.6,477.2 93.7,494.5 93.8,499.0 93.9,493.4 94.0,477.3 94.1,490.6 94.2,477.1 94.3,489.5 94.4,475.4 94.5,487.3 94.6,475.4 94.7,482.6 94.8,476.2 94.9,481.7 95.0,476.4 95.1,478.6 95.2,475.7 95.3,476.5 95.4,475.0 95.5,475.1 95.6,474.5 95.7,474.2 95.8,473.7 95.9,473.3 96.0,472.8 96.1,472.6 96.2,471.3 96.3,471.8 96.4,471.0 96.5,470.8 96.6,470.6 96.7,470.8 96.8,470.6 96.9,470.7 97.0,471.7 97.1,473.7 97.2,473.8 97.3,477.0 97.4,473.3 97.5,479.5 97.6,473.7 97.7,483.1 97.8,473.5 97.9,485.2 98.0,473.3 98.1,491.5 98.2,473.0 98.3,493.8 98.4,472.7 98.5,501.2 98.6,471.8 98.7,488.6 98.8,471.8 98.9,486.2 99.0,472.5 99.1,485.7 99.2,473.5 99.3,481.2 99.4,474.5 99.5,479.3 99.6,474.6 99.7,477.9 99.8,473.3 99.9,475.8 100.0,472.4 100.1,473.7 100.2,471.5 100.3,472.8 100.4,470.1 100.5,472.6 100.6,466.8 100.7,471.4 100.8,466.0 100.9,469.9 101.0,466.0 101.1,470.3 101.2,467.1 101.3,470.1 101.4,469.4 101.5,473.8 101.6,470.8 101.7,476.4 101.8,471.4 101.9,480.4 102.0,471.9 102.1,483.4 102.2,471.5 102.3,489.1 102.4,472.1 102.5,494.1 102.6,505.6 102.7,501.0 102.8,473.8 102.9,502.3 103.0,474.3 103.1,504.0 103.2,474.9 103.3,503.9 103.4,477.4 103.5,497.9 103.6,478.7 103.7,498.7 103.8,479.6 103.9,496.6 104.0,480.7 104.1,494.6 104.2,481.2 104.3,492.0 104.4,481.6 104.5,489.3 104.6,480.5 104.7,489.3 104.8,479.5 104.9,488.0 105.0,478.5 105.1,485.6 105.2,476.5 105.3,484.7 105.4,475.6 105.5,482.4 105.6,475.1 105.7,483.8 105.8,473.9 105.9,483.5 106.0,473.4 106.1,481.4 106.2,472.9 106.3,480.8 106.4,472.6 106.5,478.4 106.6,472.2 106.7,478.5 106.8,471.6 106.9,477.8 107.0,470.7 107.1,476.0 107.2,470.2 107.3,475.0 107.4,470.0 107.5,475.1 107.6,471.1 107.7,474.3 107.8,470.7 107.9,474.4 108.0,470.4 108.1,473.8 108.2,469.7 108.3,472.8 108.4,469.4 108.5,472.6 108.6,469.3 108.7,473.1 108.8,468.5 108.9,471.9 109.0,468.3 109.1,472.2 109.2,468.0 109.3,472.2 109.4,468.0 109.5,471.8 109.6,468.0 109.7,471.7 109.8,468.0 109.9,472.1 110.0,468.8 110.1,472.3 110.2,469.7 110.3,473.4 110.4,470.5 110.5,473.6 110.6,471.3 110.7,474.2 110.8,471.2 110.9,475.3 111.0,470.9 111.1,476.0 111.2,471.4 111.3,477.9 111.4,471.1 111.5,477.8 111.6,470.8 111.7,482.9 111.8,470.9 111.9,480.2 112.0,471.4 112.1,477.5 112.2,472.6 112.3,477.3 112.4,473.9 112.5,476.4 112.6,475.6 112.7,476.1 112.8,475.3 112.9,475.2 113.0,474.6 113.1,474.4 113.2,473.8 113.3,473.6 113.4,471.9 113.5,472.6 113.6,469.3 113.7,472.6 113.8,467.9 113.9,472.4 114.0,467.3 114.1,472.9 114.2,468.2 114.3,472.4 114.4,469.1 114.5,472.6 114.6,469.9 114.7,473.0 114.8,471.6 114.9,475.0 115.0,472.4 115.1,475.5 115.2,472.5 115.3,476.3 115.4,471.7 115.5,476.2 115.6,471.7 115.7,477.0 115.8,471.8 115.9,478.3 116.0,471.8 116.1,480.7 116.2,472.4 116.3,478.7 116.4,473.2 116.5,477.5 116.6,474.9 116.7,477.7 116.8,475.7 116.9,477.7 117.0,475.7 117.1,477.1 117.2,474.9 117.3,475.6 117.4,474.2 117.5,474.7 117.6,473.4 117.7,474.0 117.8,472.7 117.9,473.0 118.0,471.9 118.1,472.1 118.2,471.2 118.3,471.7 118.4,471.1 118.5,472.0 118.6,469.9 118.7,471.9 118.8,469.3 118.9,471.8 119.0,469.4 119.1,472.2 119.2,470.4 119.3,472.5 119.4,471.4 119.5,472.7 119.6,472.4 119.7,472.8 119.8,472.8 119.9,473.7 120.0,474.0 120.1,474.7 120.2,469.6 120.3,475.2 120.4,466.5 120.5,476.8 120.6,464.8 120.7,479.0 120.8,467.6 120.9,479.4 121.0,470.9 121.1,481.4 121.2,474.6 121.3,482.6 121.4,476.5 121.5,484.6 121.6,479.7 121.7,486.4 121.8,482.8 121.9,491.7 122.0,483.5 122.1,497.4 122.2,483.5 122.3,510.1 122.4,483.5 122.5,515.3 122.6,481.5 122.7,525.0 122.8,543.7 122.9,522.6 123.0,482.0 123.1,514.7 123.2,484.3 123.3,513.1 123.4,485.0 123.5,514.5 123.6,485.8 123.7,508.4 123.8,486.6 123.9,508.2 124.0,484.5 124.1,504.8 124.2,483.3 124.3,508.5 124.4,484.6 124.5,507.3 124.6,484.9 124.7,512.0 124.8,485.2 124.9,515.0 125.0,487.1 125.1,529.0 125.2,487.3 125.3,523.3 125.4,487.6 125.5,513.3 125.6,485.1 125.7,510.0 125.8,485.4 125.9,512.5 126.0,486.1 126.1,509.7 126.2,485.2 126.3,506.5 126.4,484.1 126.5,505.9 126.6,483.0 126.7,502.0 126.8,484.8 126.9,502.0 127.0,483.7 127.1,497.8 127.2,483.4 127.3,497.0 127.4,484.0 127.5,494.8 127.6,483.7 127.7,492.4 127.8,483.5 127.9,490.8 128.0,481.5 128.1,488.6 128.2,480.8 128.3,487.6 128.4,480.1 128.5,487.6 128.6,478.5 128.7,486.8 128.8,477.9 128.9,484.4 129.0,477.6 129.1,483.0 129.2,478.4 129.3,481.1 129.4,477.8 129.5,479.6 129.6,477.3 129.7,478.5 129.8,476.6 129.9,477.8 130.0,476.1 130.1,477.0 130.2,475.7 130.3,476.3 130.4,475.6 130.5,475.5 130.6,474.8 130.7,474.8 130.8,474.1 130.9,474.3 131.0,474.1 131.1,474.3 131.2,474.1 131.3,474.4 131.4,472.5 131.5,474.8 131.6,471.6 131.7,475.2 131.8,471.4 131.9,475.6 132.0,471.2 132.1,475.9 132.2,477.0 132.3,475.8 132.4,468.8 132.5,475.3 132.6,468.8 132.7,474.3 132.8,468.1 132.9,472.9 133.0,468.0 133.1,473.0 133.2,468.0 133.3,473.5 133.4,468.0 133.5,473.2 133.6,468.1 133.7,472.8 133.8,468.6 133.9,473.5 134.0,469.1 134.1,473.7 134.2,469.6 134.3,474.4 134.4,469.3 134.5,475.6 134.6,469.4 134.7,473.9 134.8,469.1 134.9,473.4 135.0,468.9 135.1,473.4 135.2,469.0 135.3,472.6 135.4,468.9 135.5,472.1 135.6,468.6 135.7,472.3 135.8,467.9 135.9,471.5 136.0,467.4 136.1,471.5 136.2,467.0 136.3,472.0 136.4,466.4 136.5,471.8 136.6,466.8 136.7,472.1 136.8,467.2 136.9,471.1 137.0,473.6 137.1,471.4 137.2,467.9 137.3,471.3 137.4,467.9 137.5,471.8 137.6,468.1 137.7,473.4 137.8,468.1 137.9,473.6 138.0,468.3 138.1,474.9 138.2,476.5 138.3,475.0 138.4,469.7 138.5,474.4 138.6,470.0 138.7,473.4 138.8,470.9 138.9,474.9 139.0,471.3 139.1,474.1 139.2,471.7 139.3,473.3 139.4,471.0 139.5,473.0 139.6,470.7 139.7,472.6 139.8,470.4 139.9,472.9 140.0,469.6 140.1,472.7 140.2,470.0 140.3,473.4 140.4,470.4 140.5,473.6 140.6,471.0 140.7,472.9 140.8,471.3 140.9,473.0 141.0,471.8 141.1,472.7 141.2,471.9 141.3,472.1 141.4,471.5 141.5,472.0 141.6,471.5 141.7,471.8 141.8,471.5 141.9,471.9 142.0,472.4 142.1,473.3 142.2,473.9 142.3,474.8 142.4,475.4 142.5,476.2 142.6,475.8 142.7,477.4 142.8,480.1 142.9,477.2 143.0,476.1 143.1,475.6 143.2,474.5 143.3,473.6 143.4,472.5 143.5,471.6 143.6,471.0 143.7,470.9 143.8,469.5 143.9,470.6 144.0,467.3 144.1,469.4 144.2,465.1 144.3,468.7 144.4,463.5 144.5,468.1 144.6,462.4 144.7,467.9 144.8,461.8 144.9,467.8 145.0,461.6 145.1,467.1 145.2,461.4 145.3,465.8 145.4,461.2 145.5,464.9 145.6,461.1 145.7,465.8 145.8,460.9 145.9,464.7 146.0,461.2 146.1,465.7 146.2,462.2 146.3,467.0 146.4,463.4 146.5,467.3 146.6,463.7 146.7,468.4 146.8,464.0 146.9,470.3 147.0,464.6 147.1,471.1 147.2,466.4 147.3,471.4 147.4,467.4 147.5,472.7 147.6,468.4 147.7,473.6 147.8,470.0 147.9,475.0 148.0,470.7 148.1,475.6 148.2,470.6 148.3,476.8 148.4,471.0 148.5,478.9 148.6,471.0 148.7,482.4 148.8,471.1 148.9,481.5 149.0,470.7 149.1,484.3 149.2,470.9 149.3,484.4 149.4,471.0 149.5,485.1 149.6,471.9 149.7,487.1 149.8,490.4 149.9,487.7 150.0,472.3 150.1,484.6 150.2,472.4 150.3,484.8 150.4,472.4 150.5,485.7 150.6,472.3 150.7,484.9 150.8,472.6 150.9,483.8 151.0,472.4 151.1,482.7 151.2,472.0 151.3,482.7 151.4,470.5 151.5,483.0 151.6,470.0 151.7,478.6 151.8,469.8 151.9,479.2 152.0,468.9 152.1,476.8 152.2,469.1 152.3,475.0 152.4,469.3 152.5,474.8 152.6,469.9 152.7,474.5 152.8,469.3 152.9,472.9 153.0,468.7 153.1,472.5 153.2,467.7 153.3,472.0 153.4,467.3 153.5,471.8 153.6,467.2 153.7,471.6 153.8,468.1 153.9,472.0 154.0,468.2 154.1,470.9 154.2,468.0 154.3,470.0 154.4,467.4 154.5,469.7 154.6,467.1 154.7,469.6 154.8,467.9 154.9,469.2 155.0,468.0 155.1,469.6 155.2,468.0 155.3,470.7 155.4,468.1 155.5,471.4 155.6,468.2 155.7,471.6 155.8,468.3 155.9,472.3 156.0,473.6 156.1,472.3 156.2,468.9 156.3,471.9 156.4,468.9 156.5,473.2 156.6,468.1 156.7,472.0 156.8,467.7 156.9,471.3 157.0,467.5 157.1,471.3 157.2,467.4 157.3,470.6 157.4,467.0 157.5,471.1 157.6,467.2 157.7,472.7 157.8,467.4 157.9,473.0 158.0,467.1 158.1,473.6 158.2,467.9 158.3,475.5 158.4,467.9 158.5,475.9 158.6,468.7 158.7,477.0 158.8,468.7 158.9,480.3 159.0,468.6 159.1,479.6 159.2,483.1 159.3,480.3 159.4,468.3 159.5,477.0 159.6,468.2 159.7,475.7 159.8,468.5 159.9,475.2 160.0,469.4 160.1,475.1 160.2,471.1 160.3,474.0 160.4,471.2 160.5,473.6 160.6,470.8 160.7,472.9 160.8,469.5 160.9,471.8 161.0,468.6 161.1,471.5 161.2,467.9 161.3,472.0 161.4,467.5 161.5,471.4 161.6,467.1 161.7,470.9 161.8,466.8 161.9,471.2 162.0,466.1 162.1,470.2 162.2,465.1 162.3,470.5 162.4,465.0 162.5,470.6 162.6,464.8 162.7,471.4 162.8,465.3 162.9,471.2 163.0,465.3 163.1,471.4 163.2,465.4 163.3,472.3 163.4,465.2 163.5,471.8 163.6,465.2 163.7,472.6 163.8,465.2 163.9,472.2 164.0,466.3 164.1,474.2 164.2,466.4 164.3,474.7 164.4,466.6 164.5,474.5 164.6,467.2 164.7,475.3 164.8,467.2 164.9,478.5 165.0,467.1 165.1,477.2 165.2,466.0 165.3,477.7 165.4,465.9 165.5,482.2 165.6,482.3 165.7,482.7 165.8,466.0 165.9,482.0 166.0,465.9 166.1,480.8 166.2,465.9 166.3,481.2 166.4,467.4 166.5,479.5 166.6,468.4 166.7,477.3 166.8,469.1 166.9,477.4 167.0,469.8 167.1,476.2 167.2,470.2 167.3,474.5 167.4,470.3 167.5,475.1 167.6,470.5 167.7,473.7 167.8,470.7 167.9,473.6 168.0,470.9 168.1,472.9 168.2,471.4 168.3,472.4 168.4,471.2 168.5,472.2 168.6,470.9 168.7,471.7 168.8,469.8 168.9,471.2 169.0,469.6 169.1,471.0 169.2,469.7 169.3,471.3 169.4,470.4 169.5,471.5 169.6,470.4 169.7,471.6 169.8,470.5 169.9,471.5 170.0,470.4 170.1,471.7 170.2,470.8 170.3,471.7 170.4,471.2 170.5,473.4 170.6,472.0 170.7,473.9 170.8,471.5 170.9,473.4 171.0,470.7 171.1,473.3 171.2,470.9 171.3,473.0 171.4,471.3 171.5,473.1 171.6,471.6 171.7,473.2 171.8,471.0 171.9,473.4 172.0,470.5 172.1,473.1 172.2,470.2 172.3,474.5 172.4,470.5 172.5,475.3 172.6,471.7 172.7,477.7 172.8,473.0 172.9,478.2 173.0,472.6 173.1,479.2 173.2,472.8 173.3,480.8 173.4,472.9 173.5,484.0 173.6,471.8 173.7,487.0 173.8,491.1 173.9,486.6 174.0,472.1 174.1,488.1 174.2,472.2 174.3,484.5 174.4,472.5 174.5,485.3 174.6,473.1 174.7,484.0 174.8,473.9 174.9,482.7 175.0,473.7 175.1,483.8 175.2,473.4 175.3,481.4 175.4,473.2 175.5,482.4 175.6,472.7 175.7,481.7 175.8,473.3 175.9,480.3 176.0,474.9 176.1,481.0 176.2,475.3 176.3,481.8 176.4,475.8 176.5,482.5 176.6,475.9 176.7,484.3 176.8,476.1 176.9,484.6 177.0,486.7 177.1,483.2 177.2,477.3 177.3,481.4 177.4,477.6 177.5,479.5 177.6,477.9 177.7,478.2 177.8,477.6 177.9,477.7 178.0,477.1 178.1,477.4 178.2,476.6 178.3,476.9 178.4,476.1 178.5,476.2 178.6,474.6 178.7,475.4 178.8,472.7 178.9,474.7 179.0,471.6 179.1,474.4 179.2,471.2 179.3,474.1 179.4,470.7 179.5,473.4 179.6,469.7 179.7,473.2 179.8,469.3 179.9,472.7 180.0,468.8 180.1,472.4 180.2,468.3 180.3,472.2 180.4,468.0 180.5,471.7 180.6,467.7 180.7,471.8 180.8,467.0 180.9,473.5 181.0,467.3 181.1,472.8 181.2,467.8 181.3,473.2 181.4,473.6 181.5,473.0 181.6,469.5 181.7,472.9 181.8,470.1 181.9,472.2 182.0,469.7 182.1,472.1 182.2,470.1 182.3,472.1 182.4,470.4 182.5,472.1 182.6,470.7 182.7,471.7 182.8,470.7 182.9,471.7 183.0,470.8 183.1,471.5 183.2,471.6 183.3,471.9 183.4,471.5 183.5,471.8 183.6,471.4 183.7,471.6 183.8,471.4 183.9,471.6 184.0,471.7 184.1,472.1 184.2,472.3 184.3,472.7 184.4,472.9 184.5,473.3 184.6,473.5 184.7,473.9 184.8,474.2 184.9,475.0 185.0,474.8 185.1,475.9 185.2,476.2 185.3,477.7 185.4,476.5 185.5,479.5 185.6,476.3 185.7,480.8 185.8,475.3 185.9,482.6 186.0,474.6 186.1,483.8 186.2,472.8 186.3,483.6 186.4,472.2 186.5,484.5 186.6,471.8 186.7,484.9 186.8,472.0 186.9,482.8 187.0,471.9 187.1,482.7 187.2,471.9 187.3,484.7 187.4,472.9 187.5,483.5 187.6,472.8 187.7,482.5 187.8,486.0 187.9,483.5 188.0,472.1 188.1,484.4 188.2,472.2 188.3,480.9 188.4,472.3 188.5,482.3 188.6,473.5 188.7,481.2 188.8,473.6 188.9,480.6 189.0,473.3 189.1,479.4 189.2,472.8 189.3,478.2 189.4,472.5 189.5,476.4 189.6,472.2 189.7,476.5 189.8,472.4 189.9,476.9 190.0,472.1 190.1,476.5 190.2,471.7 190.3,478.0 190.4,471.3 190.5,477.6 190.6,471.8 190.7,480.9 190.8,472.3 190.9,479.8 191.0,473.5 191.1,478.4 191.2,474.7 191.3,478.4 191.4,475.4 191.5,477.5 191.6,474.5 191.7,477.7 191.8,473.7 191.9,477.7 192.0,474.1 192.1,477.9 192.2,473.9 192.3,478.1 192.4,474.3 192.5,479.2 192.6,475.3 192.7,479.1 192.8,477.0 192.9,479.6 193.0,477.5 193.1,480.9 193.2,478.0 193.3,482.1 193.4,478.5 193.5,483.8 193.6,478.5 193.7,486.3 193.8,478.3 193.9,487.9 194.0,477.2 194.1,487.6 194.2,477.0 194.3,487.9 194.4,476.9 194.5,489.6 194.6,477.4 194.7,486.5 194.8,477.2 194.9,482.7 195.0,477.1 195.1,481.2 195.2,477.5 195.3,480.2 195.4,477.3 195.5,479.5 195.6,476.6 195.7,478.2 195.8,475.6 195.9,476.7 196.0,474.5 196.1,475.3 196.2,473.3 196.3,474.0 196.4,471.9 196.5,473.8 196.6,471.2 196.7,473.6 196.8,470.5 196.9,473.6 197.0,470.1 197.1,473.4 197.2,469.8 197.3,474.5 197.4,469.8 197.5,474.3 197.6,470.3 197.7,475.0 197.8,471.1 197.9,474.4 198.0,471.7 198.1,473.8 198.2,471.4 198.3,473.4 198.4,471.5 198.5,473.0 198.6,471.7 198.7,472.8 198.8,472.7 198.9,472.9 199.0,472.9 199.1,472.9 199.2,473.2 199.3,473.5 199.4,472.7 199.5,473.7 199.6,471.8 199.7,474.2 199.8,470.9 199.9,474.6 200.0,468.9 200.1,476.5 200.2,467.6 200.3,473.8 200.4,467.4 200.5,473.0 200.6,468.2 200.7,471.8 200.8,469.1 200.9,472.2 201.0,469.1 201.1,472.0 201.2,468.3 201.3,472.9 201.4,468.3 201.5,476.0 201.6,468.3 201.7,477.5 201.8,483.1 201.9,478.2 202.0,469.5 202.1,477.3 202.2,469.4 202.3,475.2 202.4,468.2 202.5,475.0 202.6,468.1 202.7,473.2 202.8,468.8 202.9,474.0 203.0,469.2 203.1,472.7 203.2,469.9 203.3,472.4 203.4,470.7 203.5,472.4 203.6,471.5 203.7,471.9 203.8,470.8 203.9,472.0 204.0,470.0 204.1,471.9 204.2,469.3 204.3,472.2 204.4,469.2 204.5,472.8 204.6,469.2 204.7,473.0 204.8,469.9 204.9,473.6 205.0,474.3 205.1,473.7 205.2,469.9 205.3,472.6 205.4,470.2 205.5,472.9 205.6,470.2 205.7,471.9 205.8,470.2 205.9,471.5 206.0,470.2 206.1,471.3 206.2,470.0 206.3,471.2 206.4,469.7 206.5,471.0 206.6,469.2 206.7,470.8 206.8,468.9 206.9,470.9 207.0,468.5 207.1,470.2 207.2,468.0 207.3,470.0 207.4,467.8 207.5,469.9 207.6,467.7 207.7,470.3 207.8,467.1 207.9,469.9 208.0,467.0 208.1,470.2 208.2,466.9 208.3,469.8 208.4,466.6 208.5,468.9 208.6,466.4 208.7,469.3 208.8,466.1 208.9,468.4 209.0,466.2 209.1,468.6 209.2,466.1 209.3,469.4 209.4,466.1 209.5,468.9 209.6,466.8 209.7,468.6 209.8,466.9 209.9,468.8 210.0,467.0 210.1,468.8 210.2,466.5 210.3,468.3 210.4,466.5 210.5,468.4 210.6,466.5 210.7,468.0 210.8,466.6 210.9,467.8 211.0,466.6 211.1,467.8 211.2,466.8 211.3,467.8 211.4,467.2 211.5,467.8 211.6,467.5 211.7,468.0 211.8,467.5 211.9,468.0 212.0,467.3 212.1,468.2 212.2,467.2 212.3,468.4 212.4,467.1 212.5,468.6 212.6,466.7 212.7,468.5 212.8,466.6 212.9,469.2 213.0,466.6 213.1,469.1 213.2,467.3 213.3,469.3 213.4,467.4 213.5,469.7 213.6,467.7 213.7,470.2 213.8,467.8 213.9,470.5 214.0,468.1 214.1,470.8 214.2,468.4 214.3,470.6 214.4,468.6 214.5,471.1 214.6,468.9 214.7,471.4 214.8,469.3 214.9,471.7 215.0,469.0 215.1,472.2 215.2,469.0 215.3,472.7 215.4,469.1 215.5,472.8 215.6,468.8 215.7,474.0 215.8,475.0 215.9,472.7 216.0,468.7 216.1,473.0 216.2,469.0 216.3,473.4 216.4,468.9 216.5,472.1 216.6,468.8 216.7,471.3 216.8,469.6 216.9,470.7 217.0,469.4 217.1,470.3 217.2,469.1 217.3,469.9 217.4,468.3 217.5,469.4 217.6,467.9 217.7,469.0 217.8,467.6 217.9,468.6 218.0,466.9 218.1,468.4 218.2,466.8 218.3,468.1 218.4,466.8 218.5,468.0 218.6,466.5 218.7,468.1 218.8,466.4 218.9,468.3 219.0,466.4 219.1,468.1 219.2,466.4 219.3,467.8 219.4,466.5 219.5,467.7 219.6,466.4 219.7,467.1 219.8,466.4 219.9,467.2 220.0,466.4 220.1,466.9 220.2,466.3 220.3,466.9 220.4,466.2 220.5,466.5 220.6,466.1 220.7,466.5 220.8,466.2 220.9,466.4 221.0,466.2 221.1,466.3 221.2,466.1 221.3,466.5 221.4,466.0 221.5,466.4 221.6,465.9 221.7,467.3 221.8,465.8 221.9,467.1 222.0,465.7 222.1,466.7 222.2,465.6 222.3,466.7 222.4,465.6 222.5,466.2 222.6,465.6 222.7,466.2 222.8,465.6 222.9,466.1 223.0,465.8 223.1,466.3 223.2,465.8 223.3,466.3 223.4,465.7 223.5,466.5 223.6,465.3 223.7,466.5 223.8,465.0 223.9,466.4 224.0,464.4 224.1,467.0 224.2,464.2 224.3,466.8 224.4,464.0 224.5,466.8 224.6,464.0 224.7,467.0 224.8,464.0 224.9,467.3 225.0,464.0 225.1,466.8 225.2,464.1 225.3,467.4 225.4,464.1 225.5,467.6 225.6,464.1 225.7,467.5 225.8,464.4 225.9,467.2 226.0,464.5 226.1,467.8 226.2,464.6 226.3,468.0 226.4,464.1 226.5,468.2 226.6,464.2 226.7,468.4 226.8,464.3 226.9,469.2 227.0,464.5 227.1,468.7 227.2,464.6 227.3,468.6 227.4,463.7 227.5,468.0 227.6,464.1 227.7,468.3 227.8,464.1 227.9,468.0 228.0,464.1 228.1,468.4 228.2,464.4 228.3,468.0 228.4,464.4 228.5,467.9 228.6,464.5 228.7,468.3 228.8,463.9 228.9,468.0 229.0,464.1 229.1,467.8 229.2,464.3 229.3,467.5 229.4,464.5 229.5,466.9 229.6,464.6 229.7,466.7 229.8,464.7 229.9,467.0 230.0,465.2 230.1,467.2 230.2,465.3 230.3,467.0 230.4,465.4 230.5,466.9 230.6,464.9 230.7,466.5 230.8,464.9 230.9,466.4 231.0,465.1 231.1,466.5 231.2,465.3 231.3,466.2 231.4,465.5 231.5,466.1 231.6,465.6 231.7,466.0 231.8,465.8 231.9,466.0 232.0,465.7 232.1,465.8 232.2,465.7 232.3,465.7 232.4,465.6 232.5,465.6 232.6,465.6 232.7,465.6 232.8,465.6 232.9,465.6 233.0,465.6 233.1,465.6 233.2,465.7 233.3,465.7 233.4,465.8 233.5,465.8 233.6,465.9 233.7,466.1 233.8,466.0 233.9,466.2 234.0,466.1 234.1,467.2 234.2,466.3 234.3,467.3 234.4,466.2 234.5,466.8 234.6,466.2 234.7,466.7 234.8,466.1 234.9,467.9 235.0,466.1 235.1,467.8 235.2,466.0 235.3,467.2 235.4,466.0 235.5,467.0 235.6,465.9 235.7,466.6 235.8,465.8 235.9,466.4 236.0,465.7 236.1,466.1 236.2,465.6 236.3,466.0 236.4,465.5 236.5,465.7 236.6,465.4 236.7,465.6 236.8,465.3 236.9,465.5 237.0,465.3 237.1,465.5 237.2,465.3 237.3,465.6 237.4,465.7 237.5,466.0 237.6,466.1 237.7,466.3 237.8,466.5 237.9,466.7 238.0,466.8 238.1,467.1 238.2,467.2 238.3,467.4 238.4,468.0 238.5,467.8 238.6,467.8 238.7,467.8 238.8,467.7 238.9,467.7 239.0,467.6 239.1,467.5 239.2,467.5 239.3,467.4 239.4,467.3 239.5,467.3 239.6,467.2 239.7,467.2 239.8,467.2 239.9,467.2 240.0,467.2 240.1,468.1 240.2,468.1 240.3,469.8 240.4,467.9 240.5,470.7 240.6,467.3 240.7,472.0 240.8,467.5 240.9,472.9 241.0,467.6 241.1,475.5 241.2,467.6 241.3,478.9 241.4,466.8 241.5,476.1 241.6,466.9 241.7,473.3 241.8,466.9 241.9,472.2 242.0,467.8 242.1,471.2 242.2,467.9 242.3,469.7 242.4,467.7 242.5,469.8 242.6,467.0 242.7,469.6 242.8,467.2 242.9,469.2 243.0,467.3 243.1,468.8 243.2,467.6 243.3,468.8 243.4,467.6 243.5,468.5 243.6,467.5 243.7,468.6 243.8,467.1 243.9,468.2 244.0,466.9 244.1,468.0 244.2,466.7 244.3,468.0 244.4,466.6 244.5,467.9 244.6,466.4 244.7,467.4 244.8,466.2 244.9,467.5 245.0,466.3 245.1,467.4 245.2,466.2 245.3,467.4 245.4,466.2 245.5,467.3 245.6,466.1 245.7,467.0 245.8,466.6 245.9,467.1 246.0,467.0 246.1,467.2 246.2,467.2 246.3,467.3 246.4,467.4 246.5,467.6 246.6,467.7 246.7,467.9 246.8,467.6 246.9,468.1 247.0,466.8 247.1,468.4 247.2,466.0 247.3,468.8 247.4,465.8 247.5,469.4 247.6,465.3 247.7,468.7 247.8,465.4 247.9,469.2 248.0,464.7 248.1,469.6 248.2,464.8 248.3,470.1 248.4,464.8 248.5,469.4 248.6,465.7 248.7,470.5 248.8,466.1 248.9,470.6 249.0,466.5 249.1,470.8 249.2,467.0 249.3,471.8 249.4,467.4 249.5,472.3 249.6,468.1 249.7,472.0 249.8,468.3 249.9,472.7 250.0,469.6 250.1,472.7 250.2,469.8 250.3,473.5 250.4,467.6 250.5,473.0 250.6,466.2 250.7,475.2 250.8,465.3 250.9,475.6 251.0,466.4 251.1,475.7 251.2,466.7 251.3,477.1 251.4,466.8 251.5,475.8 251.6,467.4 251.7,476.3 251.8,467.5 251.9,478.0 252.0,467.5 252.1,479.2 252.2,480.3 252.3,479.1 252.4,467.5 252.5,477.5 252.6,467.6 252.7,476.1 252.8,468.8 252.9,476.8 253.0,469.9 253.1,476.7 253.2,471.1 253.3,476.0 253.4,471.8 253.5,474.8 253.6,472.7 253.7,474.5 253.8,472.9 253.9,473.8 254.0,473.0 254.1,473.1 254.2,472.7 254.3,472.4 254.4,472.0 254.5,471.6 254.6,471.4 254.7,471.1 254.8,470.9 254.9,470.7 255.0,470.4 255.1,470.2 255.2,469.9 255.3,469.7 255.4,469.4 255.5,469.2 255.6,468.9 255.7,468.9 255.8,468.4 255.9,468.4 256.0,467.9 256.1,467.8 256.2,467.4 256.3,467.3 256.4,466.4 256.5,466.6 256.6,465.8 256.7,466.1 256.8,465.3 256.9,465.6 257.0,464.5 257.1,465.2 257.2,464.0 257.3,464.8 257.4,463.5 257.5,464.7 257.6,463.2 257.7,465.5 257.8,462.1 257.9,464.7 258.0,462.1 258.1,464.9 258.2,463.4 258.3,464.6 258.4,463.6 258.5,464.2 258.6,463.6 258.7,464.1 258.8,463.6 258.9,464.4 259.0,465.1 259.1,466.7 259.2,467.4 259.3,468.8 259.4,469.6 259.5,471.1 259.6,472.5 259.7,477.3 259.8,481.5 259.9,486.3 260.0,490.5 260.1,495.1 260.2,498.5 260.3,504.0 260.4,504.0 260.5,516.0 260.6,507.8 260.7,533.4 260.8,507.8 260.9,548.5 261.0,507.8 261.1,561.1 261.2,504.0 261.3,567.7 261.4,504.0 261.5,614.3 261.6,504.0 261.7,582.3 261.8,502.0 261.9,571.9 262.0,502.0 262.1,547.7 262.2,502.0 262.3,540.3 262.4,505.6 262.5,538.5 262.6,505.4 262.7,524.2 262.8,500.0 262.9,520.3 263.0,491.7 263.1,519.8 263.2,486.7 263.3,520.0 263.4,483.1 263.5,509.3 263.6,481.8 263.7,508.5 263.8,481.6 263.9,513.6 264.0,480.5 264.1,508.2 264.2,483.6 264.3,510.5 264.4,485.8 264.5,512.9 264.6,485.7 264.7,514.2 264.8,487.4 264.9,515.8 265.0,486.8 265.1,524.0 265.2,526.7 265.3,515.7 265.4,486.0 265.5,515.7 265.6,485.4 265.7,505.2 265.8,484.9 265.9,502.5 266.0,481.5 266.1,502.6 266.2,480.8 266.3,495.2 266.4,479.6 266.5,490.3 266.6,478.5 266.7,487.8 266.8,478.6 266.9,485.2 267.0,478.9 267.1,485.0 267.2,479.1 267.3,483.3 267.4,478.5 267.5,481.5 267.6,477.6 267.7,479.9 267.8,476.3 267.9,478.4 268.0,473.8 268.1,477.6 268.2,470.4 268.3,477.0 268.4,469.0 268.5,474.0 268.6,467.6 268.7,473.0 268.8,466.9 268.9,471.5 269.0,468.8 269.1,471.7 269.2,470.6 269.3,472.0 269.4,471.7 269.5,474.0 269.6,473.0 269.7,476.4 269.8,473.9 269.9,478.7 270.0,474.8 270.1,481.7 270.2,475.2 270.3,482.9 270.4,475.7 270.5,486.0 270.6,475.8 270.7,487.1 270.8,475.1 270.9,488.1 271.0,475.6 271.1,490.3 271.2,476.1 271.3,493.3 271.4,477.7 271.5,491.5 271.6,478.3 271.7,490.4 271.8,478.8 271.9,488.7 272.0,479.2 272.1,489.6 272.2,480.6 272.3,489.6 272.4,482.1 272.5,489.1 272.6,484.3 272.7,490.3 272.8,486.7 272.9,491.2 273.0,489.0 273.1,493.5 273.2,490.9 273.3,494.2 273.4,492.7 273.5,495.9 273.6,493.9 273.7,496.9 273.8,496.1 273.9,499.6 274.0,497.1 274.1,501.1 274.2,498.3 274.3,503.8 274.4,500.3 274.5,508.7 274.6,498.0 274.7,506.2 274.8,494.7 274.9,503.9 275.0,493.4 275.1,503.7 275.2,493.9 275.3,503.5 275.4,494.0 275.5,504.1 275.6,493.5 275.7,502.9 275.8,492.9 275.9,505.3 276.0,492.3 276.1,508.2 276.2,490.8 276.3,514.3 276.4,490.5 276.5,516.0 276.6,490.2 276.7,516.8 276.8,488.3 276.9,526.1 277.0,488.0 277.1,525.5 277.2,487.8 277.3,533.0 277.4,486.3 277.5,520.6 277.6,486.0 277.7,518.1 277.8,485.7 277.9,513.7 278.0,485.3 278.1,506.5 278.2,485.1 278.3,504.1 278.4,484.1 278.5,499.1 278.6,484.1 278.7,497.9 278.8,482.2 278.9,494.4 279.0,480.4 279.1,492.6 279.2,480.7 279.3,492.7 279.4,479.6 279.5,494.5 279.6,479.5 279.7,495.9 279.8,479.8 279.9,499.7 280.0,480.6 280.1,500.0 280.2,481.3 280.3,507.8 280.4,479.9 280.5,499.0 280.6,480.2 280.7,497.2 280.8,480.5 280.9,491.7 281.0,480.9 281.1,488.5 281.2,481.6 281.3,485.6 281.4,482.2 281.5,484.1 281.6,481.8 281.7,481.4 281.8,479.6 281.9,479.1 282.0,477.5 282.1,476.8 282.2,475.3 282.3,474.5 282.4,470.7 282.5,474.3 282.6,469.2 282.7,473.5 282.8,468.5 282.9,474.3 283.0,469.4 283.1,476.4 283.2,470.3 283.3,477.7 283.4,471.6 283.5,478.5 283.6,472.5 283.7,478.8 283.8,474.0 283.9,480.7 284.0,475.4 284.1,482.1 284.2,477.2 284.3,483.2 284.4,479.0 284.5,484.1 284.6,480.8 284.7,485.3 284.8,482.7 284.9,486.3 285.0,483.9 285.1,488.1 285.2,484.6 285.3,491.8 285.4,485.9 285.5,493.4 285.6,487.2 285.7,497.8 285.8,489.1 285.9,494.1 286.0,488.6 286.1,493.8 286.2,488.2 286.3,491.8 286.4,487.9 286.5,491.1 286.6,487.6 286.7,491.3 286.8,487.2 286.9,490.3 287.0,487.2 287.1,490.9 287.2,488.7 287.3,491.4 287.4,490.1 287.5,492.4 287.6,491.0 287.7,493.2 287.8,493.0 287.9,494.4 288.0,494.6 288.1,495.3 288.2,493.3 288.3,497.0 288.4,493.5 288.5,498.5 288.6,493.7 288.7,500.9 288.8,494.3 288.9,502.1 289.0,506.9 289.1,503.8 289.2,494.6 289.3,502.2 289.4,493.3 289.5,501.5 289.6,493.4 289.7,499.8 289.8,493.5 289.9,500.2 290.0,493.2 290.1,498.8 290.2,492.4 290.3,496.6 290.4,491.7 290.5,496.3 290.6,491.5 290.7,495.6 290.8,490.8 290.9,494.3 291.0,490.0 291.1,493.5 291.2,490.2 291.3,493.4 291.4,489.3 291.5,493.7 291.6,488.4 291.7,492.9 291.8,487.5 291.9,494.2 292.0,487.3 292.1,493.8 292.2,495.1 292.3,494.2 292.4,488.6 292.5,493.3 292.6,488.6 292.7,492.6 292.8,489.0 292.9,491.8 293.0,491.1 293.1,491.6 293.2,491.6 293.3,491.6 293.4,491.6 293.5,491.6 293.6,492.2 293.7,493.1 293.8,493.2 293.9,494.7 294.0,493.7 294.1,495.9 294.2,495.2 294.3,497.5 294.4,495.6 294.5,499.4 294.6,496.2 294.7,501.2 294.8,497.7 294.9,505.1 295.0,498.2 295.1,507.1 295.2,499.0 295.3,507.8 295.4,499.1 295.5,509.3 295.6,499.1 295.7,511.3 295.8,499.1 295.9,513.9 296.0,495.8 296.1,513.4 296.2,522.2 296.3,509.3 296.4,495.8 296.5,504.9 296.6,494.6 296.7,501.5 296.8,494.6 296.9,499.6 297.0,494.5 297.1,497.6 297.2,497.2 297.3,496.8 297.4,494.3 297.5,495.0 297.6,491.2 297.7,493.9 297.8,487.8 297.9,492.1 298.0,485.6 298.1,492.7 298.2,485.3 298.3,492.8 298.4,484.5 298.5,493.1 298.6,484.1 298.7,492.6 298.8,483.7 298.9,490.8 299.0,483.7 299.1,491.5 299.2,484.0 299.3,490.6 299.4,484.3 299.5,491.2 299.6,484.1 299.7,490.0 299.8,484.1 299.9,490.0 300.0,484.0 300.1,489.6 300.2,484.3 300.3,489.2 300.4,484.8 300.5,489.3 300.6,486.1 300.7,488.7 300.8,486.1 300.9,488.5 301.0,487.4 301.1,488.9 301.2,488.7 301.3,490.2 301.4,490.6 301.5,491.5 301.6,490.8 301.7,492.7 301.8,491.1 301.9,494.0 302.0,492.2 302.1,495.7 302.2,491.7 302.3,498.7 302.4,491.1 302.5,497.1 302.6,490.9 302.7,495.6 302.8,489.6 302.9,494.1 303.0,488.4 303.1,492.6 303.2,487.1 303.3,491.4 303.4,485.9 303.5,490.4 303.6,484.5 303.7,489.0 303.8,481.5 303.9,489.2 304.0,480.6 304.1,487.7 304.2,479.6 304.3,487.3 304.4,480.1 304.5,487.2 304.6,479.1 304.7,489.0 304.8,478.5 304.9,487.4 305.0,478.1 305.1,486.3 305.2,478.6 305.3,487.9 305.4,479.0 305.5,487.9 305.6,480.2 305.7,490.4 305.8,481.2 305.9,489.9 306.0,482.2 306.1,489.9 306.2,483.2 306.3,491.4 306.4,484.3 306.5,494.4 306.6,484.6 306.7,493.3 306.8,485.1 306.9,491.0 307.0,485.4 307.1,490.4 307.2,485.7 307.3,487.8 307.4,485.5 307.5,486.4 307.6,484.2 307.7,485.1 307.8,484.0 307.9,484.7 308.0,483.6 308.1,484.0 308.2,482.3 308.3,483.5 308.4,481.1 308.5,483.1 308.6,479.7 308.7,483.0 308.8,478.7 308.9,483.5 309.0,479.0 309.1,483.0 309.2,479.0 309.3,482.7 309.4,479.5 309.5,482.6 309.6,480.0 309.7,484.2 309.8,481.5 309.9,485.2 310.0,481.5 310.1,486.6 310.2,481.6 310.3,487.1 310.4,482.2 310.5,486.6 310.6,486.1 310.7,486.4 310.8,482.3 310.9,484.7 311.0,480.9 311.1,483.7 311.2,481.0 311.3,482.9 311.4,481.1 311.5,482.3 311.6,481.4 311.7,481.7 311.8,481.0 311.9,480.9 312.0,480.5 312.1,480.5 312.2,480.0 312.3,480.1 312.4,479.4 312.5,479.6 312.6,478.9 312.7,479.1 312.8,478.2 312.9,478.8 313.0,477.6 313.1,478.4 313.2,477.3 313.3,478.0 313.4,477.9 313.5,477.8 313.6,477.6 313.7,477.5 313.8,477.4 313.9,477.3 314.0,476.2 314.1,476.9 314.2,475.8 314.3,476.7 314.4,475.4 314.5,476.2 314.6,476.0 314.7,476.2 314.8,475.8 314.9,476.2 315.0,476.0 315.1,476.2 315.2,475.3 315.3,476.4 315.4,475.5 315.5,476.9 315.6,475.6 315.7,477.3 315.8,476.4 315.9,477.9 316.0,476.5 316.1,479.4 316.2,476.6 316.3,479.6 316.4,477.0 316.5,479.5 316.6,477.1 316.7,479.8 316.8,477.2 316.9,479.5 317.0,476.7 317.1,479.5 317.2,477.0 317.3,479.1 317.4,477.4 317.5,479.6 317.6,478.5 317.7,479.8 317.8,479.0 317.9,479.8 318.0,479.6 318.1,479.9 318.2,480.0 318.3,480.3 318.4,480.3 318.5,480.5 318.6,480.0 318.7,480.9 318.8,479.8 318.9,481.2 319.0,479.9 319.1,481.5 319.2,479.7 319.3,481.9 319.4,479.1 319.5,482.8 319.6,479.1 319.7,483.2 319.8,479.4 319.9,483.6 320.0,485.2 320.1,484.3 320.2,478.9 320.3,483.4 320.4,479.2 320.5,482.8 320.6,479.8 320.7,482.1 320.8,480.0 320.9,483.6 321.0,480.1 321.1,483.3 321.2,480.0 321.3,482.2 321.4,479.7 321.5,482.3 321.6,479.3 321.7,482.4 321.8,478.5 321.9,482.1 322.0,478.1 322.1,481.5" fill="none" stroke="#4A86BE" stroke-width="2.5" stroke-linejoin="round" stroke-linecap="butt"/><circle cx="51.20" cy="471.47" r="3.3" fill="#E8241F"/><circle cx="58.67" cy="471.91" r="3.3" fill="#E8241F"/><circle cx="61.16" cy="472.64" r="3.3" fill="#E8241F"/><circle cx="64.82" cy="472.64" r="3.3" fill="#E8241F"/><circle cx="58.67" cy="477.03" r="3.3" fill="#E8241F"/><circle cx="62.18" cy="477.03" r="3.3" fill="#E8241F"/><circle cx="72.14" cy="476.74" r="3.3" fill="#E8241F"/><circle cx="65.11" cy="488.46" r="3.3" fill="#E8241F"/><circle cx="62.18" cy="494.61" r="3.3" fill="#E8241F"/><circle cx="75.51" cy="490.94" r="3.3" fill="#E8241F"/><circle cx="82.68" cy="495.34" r="3.3" fill="#E8241F"/><circle cx="86.05" cy="493.87" r="3.3" fill="#E8241F"/><circle cx="87.51" cy="494.61" r="3.3" fill="#E8241F"/><circle cx="92.78" cy="479.67" r="3.3" fill="#E8241F"/><circle cx="93.81" cy="485.09" r="3.3" fill="#E8241F"/><circle cx="98.49" cy="486.55" r="3.3" fill="#E8241F"/><circle cx="106.55" cy="481.14" r="3.3" fill="#E8241F"/><circle cx="113.72" cy="467.95" r="3.3" fill="#E8241F"/><circle cx="122.50" cy="497.53" r="3.3" fill="#E8241F"/><circle cx="139.63" cy="468.46" r="3.3" fill="#E8241F"/><circle cx="149.85" cy="479.13" r="3.3" fill="#E8241F"/><circle cx="154.96" cy="472.12" r="3.3" fill="#E8241F"/><circle cx="158.90" cy="476.50" r="3.3" fill="#E8241F"/><circle cx="162.99" cy="475.77" r="3.3" fill="#E8241F"/><circle cx="165.03" cy="478.25" r="3.3" fill="#E8241F"/><circle cx="175.98" cy="475.47" r="3.3" fill="#E8241F"/><circle cx="185.47" cy="473.28" r="3.3" fill="#E8241F"/><circle cx="193.93" cy="486.71" r="3.3" fill="#E8241F"/><circle cx="213.20" cy="467.01" r="3.3" fill="#E8241F"/><circle cx="215.98" cy="472.12" r="3.3" fill="#E8241F"/><circle cx="227.51" cy="466.28" r="3.3" fill="#E8241F"/><circle cx="227.22" cy="470.66" r="3.3" fill="#E8241F"/><circle cx="237.00" cy="468.03" r="3.3" fill="#E8241F"/><circle cx="238.44" cy="468.05" r="3.3" fill="#E8241F"/><circle cx="245.12" cy="470.76" r="3.3" fill="#E8241F"/><circle cx="248.19" cy="469.86" r="3.3" fill="#E8241F"/><circle cx="251.80" cy="473.83" r="3.3" fill="#E8241F"/><circle cx="259.38" cy="471.66" r="3.3" fill="#E8241F"/><circle cx="260.83" cy="486.64" r="3.3" fill="#E8241F"/><circle cx="271.12" cy="480.33" r="3.3" fill="#E8241F"/><circle cx="269.13" cy="488.45" r="3.3" fill="#E8241F"/><circle cx="265.34" cy="504.15" r="3.3" fill="#E8241F"/><circle cx="261.19" cy="518.77" r="3.3" fill="#E8241F"/><circle cx="285.92" cy="479.42" r="3.3" fill="#E8241F"/><circle cx="296.21" cy="506.86" r="3.3" fill="#E8241F"/><circle cx="319.49" cy="479.24" r="3.3" fill="#E8241F"/><text x="37.7" y="339.6" font-size="15.2" fill="#000">(C) Long: GJRGARCH−st</text></g>
<g><line x1="370.2" x2="683.6" y1="409.15" y2="409.15" stroke="#ebebeb" stroke-width="0.85"/><line x1="370.2" x2="683.6" y1="476.12" y2="476.12" stroke="#ebebeb" stroke-width="0.85"/><line x1="370.2" x2="683.6" y1="543.09" y2="543.09" stroke="#ebebeb" stroke-width="0.85"/><line x1="370.2" x2="683.6" y1="610.06" y2="610.06" stroke="#ebebeb" stroke-width="0.85"/><line x1="390.38" x2="390.38" y1="349.8" y2="627.0" stroke="#ebebeb" stroke-width="0.85"/><line x1="475.02" x2="475.02" y1="349.8" y2="627.0" stroke="#ebebeb" stroke-width="0.85"/><line x1="559.67" x2="559.67" y1="349.8" y2="627.0" stroke="#ebebeb" stroke-width="0.85"/><line x1="644.33" x2="644.33" y1="349.8" y2="627.0" stroke="#ebebeb" stroke-width="0.85"/><line x1="370.2" x2="683.6" y1="375.66" y2="375.66" stroke="#ebebeb" stroke-width="1.6"/><text x="364.2" y="379.4" font-size="10.5" fill="#4d4d4d" text-anchor="end">20</text><line x1="370.2" x2="683.6" y1="442.63" y2="442.63" stroke="#ebebeb" stroke-width="1.6"/><text x="364.2" y="446.3" font-size="10.5" fill="#4d4d4d" text-anchor="end">10</text><line x1="370.2" x2="683.6" y1="509.60" y2="509.60" stroke="#ebebeb" stroke-width="1.6"/><text x="364.2" y="513.3" font-size="10.5" fill="#4d4d4d" text-anchor="end">0</text><line x1="370.2" x2="683.6" y1="576.57" y2="576.57" stroke="#ebebeb" stroke-width="1.6"/><text x="364.2" y="580.3" font-size="10.5" fill="#4d4d4d" text-anchor="end">−10</text><line x1="432.70" x2="432.70" y1="349.8" y2="627.0" stroke="#ebebeb" stroke-width="1.6"/><text x="432.7" y="640.6" font-size="10.5" fill="#4d4d4d" text-anchor="middle">2010</text><line x1="517.35" x2="517.35" y1="349.8" y2="627.0" stroke="#ebebeb" stroke-width="1.6"/><text x="517.4" y="640.6" font-size="10.5" fill="#4d4d4d" text-anchor="middle">2015</text><line x1="602.00" x2="602.00" y1="349.8" y2="627.0" stroke="#ebebeb" stroke-width="1.6"/><text x="602.0" y="640.6" font-size="10.5" fill="#4d4d4d" text-anchor="middle">2020</text><polyline points="385.0,486.2 385.2,535.8 385.4,495.1 385.6,515.6 385.8,500.9 385.9,517.4 386.1,496.9 386.3,515.8 386.5,499.3 386.6,514.5 386.8,503.2 387.0,518.9 387.2,497.9 387.4,521.6 387.5,499.7 387.7,528.7 387.9,497.8 388.1,528.7 388.2,494.8 388.4,519.8 388.6,493.5 388.8,523.4 389.0,496.4 389.1,517.5 389.3,496.5 389.5,519.0 389.7,488.2 389.8,519.6 390.0,485.1 390.2,523.7 390.4,481.5 390.6,526.4 390.7,494.6 390.9,524.4 391.1,487.2 391.3,526.9 391.4,487.3 391.6,536.3 391.8,469.2 392.0,534.5 392.2,472.4 392.3,543.4 392.5,466.3 392.7,541.3 392.9,489.9 393.0,527.2 393.2,493.6 393.4,527.9 393.6,486.6 393.8,526.1 393.9,495.7 394.1,518.6 394.3,491.5 394.5,518.9 394.6,490.3 394.8,524.6 395.0,498.6 395.2,537.0 395.4,492.0 395.5,536.5 395.7,480.7 395.9,548.3 396.1,486.1 396.2,544.6 396.4,487.8 396.6,563.5 396.8,482.7 397.0,530.7 397.1,478.8 397.3,540.8 397.5,470.7 397.7,534.3 397.8,472.6 398.0,536.5 398.2,485.3 398.4,541.5 398.6,484.4 398.7,553.0 398.9,484.5 399.1,556.4 399.3,494.7 399.4,536.8 399.6,491.8 399.8,536.5 400.0,492.1 400.2,538.5 400.3,468.8 400.5,532.3 400.7,472.9 400.9,526.7 401.0,466.8 401.2,537.8 401.4,470.4 401.6,531.8 401.8,488.2 401.9,523.0 402.1,478.8 402.3,534.6 402.5,476.3 402.6,534.7 402.8,491.5 403.0,525.4 403.2,490.8 403.4,527.2 403.5,494.3 403.7,521.0 403.9,482.9 404.1,523.8 404.2,484.6 404.4,518.0 404.6,494.0 404.8,525.7 405.0,499.5 405.1,526.7 405.3,490.3 405.5,522.8 405.7,491.4 405.8,529.4 406.0,490.5 406.2,532.5 406.4,489.6 406.6,540.0 406.7,489.6 406.9,534.0 407.1,498.8 407.3,546.8 407.4,493.6 407.6,528.8 407.8,489.9 408.0,532.5 408.2,486.4 408.3,528.0 408.5,476.6 408.7,524.1 408.9,492.4 409.0,534.7 409.2,491.6 409.4,533.6 409.6,490.3 409.8,545.3 409.9,491.3 410.1,546.1 410.3,473.0 410.5,547.3 410.6,456.5 410.8,561.2 411.0,469.2 411.2,552.0 411.4,467.2 411.5,579.3 411.7,423.3 411.9,599.0 412.1,406.3 412.2,577.0 412.4,403.1 412.6,570.9 412.8,418.0 413.0,595.2 413.1,471.3 413.3,565.3 413.5,447.7 413.7,606.2 413.8,462.5 414.0,585.2 414.2,466.8 414.4,607.3 414.6,424.9 414.7,548.2 414.9,463.0 415.1,564.2 415.3,450.6 415.4,527.4 415.6,482.1 415.8,544.6 416.0,475.6 416.2,549.9 416.3,491.6 416.5,549.7 416.7,493.3 416.9,558.9 417.0,490.9 417.2,546.7 417.4,487.4 417.6,556.5 417.8,490.3 417.9,564.5 418.1,482.8 418.3,538.7 418.5,457.2 418.6,546.5 418.8,458.2 419.0,553.6 419.2,465.8 419.4,541.7 419.5,453.8 419.7,543.2 419.9,439.6 420.1,560.4 420.2,482.4 420.4,543.0 420.6,469.7 420.8,546.5 421.0,477.8 421.1,544.6 421.3,474.5 421.5,563.5 421.7,464.5 421.8,528.3 422.0,458.7 422.2,546.1 422.4,469.6 422.6,527.5 422.7,483.0 422.9,530.2 423.1,469.0 423.3,535.1 423.4,473.0 423.6,551.4 423.8,497.6 424.0,534.4 424.2,490.3 424.3,533.6 424.5,480.7 424.7,543.1 424.9,475.6 425.0,519.7 425.2,487.1 425.4,521.8 425.6,495.9 425.8,527.9 425.9,498.9 426.1,541.3 426.3,494.7 426.5,543.8 426.6,500.9 426.8,532.5 427.0,484.0 427.2,532.6 427.4,478.5 427.5,534.0 427.7,487.1 427.9,531.0 428.1,501.7 428.2,544.6 428.4,498.8 428.6,530.4 428.8,495.4 429.0,548.0 429.1,496.6 429.3,534.8 429.5,491.1 429.7,552.1 429.8,480.7 430.0,535.7 430.2,485.9 430.4,538.5 430.5,483.5 430.7,529.0 430.9,496.2 431.1,514.6 431.3,485.9 431.4,517.4 431.6,488.3 431.8,518.4 432.0,493.6 432.1,519.4 432.3,494.9 432.5,523.4 432.7,495.0 432.9,543.2 433.0,488.8 433.2,544.6 433.4,497.6 433.6,527.2 433.7,493.7 433.9,551.0 434.1,493.3 434.3,553.6 434.5,493.2 434.6,530.3 434.8,493.6 435.0,538.5 435.2,493.8 435.3,527.3 435.5,501.7 435.7,525.7 435.9,502.1 436.1,527.2 436.2,502.8 436.4,519.5 436.6,500.6 436.8,524.9 436.9,503.6 437.1,519.0 437.3,500.1 437.5,526.6 437.7,491.8 437.8,531.0 438.0,498.1 438.2,528.9 438.4,486.6 438.5,543.2 438.7,472.3 438.9,544.9 439.1,465.6 439.3,543.5 439.4,467.9 439.6,541.4 439.8,481.6 440.0,543.1 440.1,491.6 440.3,538.8 440.5,474.1 440.7,522.1 440.9,494.7 441.0,531.0 441.2,490.5 441.4,525.3 441.6,486.6 441.7,530.2 441.9,493.4 442.1,529.6 442.3,500.0 442.5,535.1 442.6,502.1 442.8,547.6 443.0,497.6 443.2,533.0 443.3,500.8 443.5,534.7 443.7,498.9 443.9,526.6 444.1,495.4 444.2,517.9 444.4,488.1 444.6,520.4 444.8,485.9 444.9,515.9 445.1,488.4 445.3,531.6 445.5,496.2 445.7,532.5 445.8,494.7 446.0,525.6 446.2,502.1 446.4,527.2 446.5,495.1 446.7,526.0 446.9,500.2 447.1,527.5 447.3,491.8 447.4,537.8 447.6,498.3 447.8,519.0 448.0,501.1 448.1,521.9 448.3,500.8 448.5,520.5 448.7,497.6 448.9,512.3 449.0,503.3 449.2,515.1 449.4,503.3 449.6,512.7 449.7,498.4 449.9,517.8 450.1,498.5 450.3,524.9 450.5,499.2 450.6,521.6 450.8,497.3 451.0,531.7 451.2,498.8 451.3,524.1 451.5,493.2 451.7,525.6 451.9,496.1 452.1,528.3 452.2,502.5 452.4,533.2 452.6,503.4 452.8,517.8 452.9,499.1 453.1,521.9 453.3,503.7 453.5,519.2 453.7,498.7 453.8,520.2 454.0,496.9 454.2,524.9 454.4,502.7 454.5,518.6 454.7,502.9 454.9,524.3 455.1,500.9 455.3,527.9 455.4,499.8 455.6,522.3 455.8,500.8 456.0,527.5 456.1,498.1 456.3,524.8 456.5,497.6 456.7,531.7 456.9,493.5 457.0,524.6 457.2,498.2 457.4,527.2 457.6,496.0 457.7,522.4 457.9,500.3 458.1,529.5 458.3,497.0 458.5,535.5 458.6,494.7 458.8,536.8 459.0,499.0 459.2,560.4 459.3,470.5 459.5,574.4 459.7,456.5 459.9,578.6 460.1,454.7 460.2,530.5 460.4,457.5 460.6,540.0 460.8,468.0 460.9,526.9 461.1,463.1 461.3,537.0 461.5,475.6 461.7,525.0 461.8,488.8 462.0,555.6 462.2,486.6 462.4,565.0 462.5,472.7 462.7,559.2 462.9,470.4 463.1,540.0 463.3,475.7 463.4,546.1 463.6,469.2 463.8,529.3 464.0,458.0 464.1,545.3 464.3,481.4 464.5,527.5 464.7,489.3 464.9,535.9 465.0,474.1 465.2,539.3 465.4,466.8 465.6,525.1 465.7,486.2 465.9,522.6 466.1,484.5 466.3,533.2 466.5,482.9 466.6,523.5 466.8,491.1 467.0,529.3 467.2,473.4 467.3,521.6 467.5,476.2 467.7,531.0 467.9,493.4 468.1,534.1 468.2,490.3 468.4,536.3 468.6,490.8 468.8,530.6 468.9,495.5 469.1,519.9 469.3,494.0 469.5,527.1 469.7,497.8 469.8,529.4 470.0,491.1 470.2,520.6 470.4,490.8 470.5,527.3 470.7,488.1 470.9,527.9 471.1,498.2 471.3,521.7 471.4,500.3 471.6,528.4 471.8,502.2 472.0,530.2 472.1,497.6 472.3,521.8 472.5,498.5 472.7,523.8 472.9,494.0 473.0,527.2 473.2,491.8 473.4,521.8 473.6,497.4 473.7,525.0 473.9,496.1 474.1,525.3 474.3,489.6 474.5,531.7 474.6,498.7 474.8,526.2 475.0,489.6 475.2,531.7 475.3,489.8 475.5,525.2 475.7,495.3 475.9,522.9 476.1,495.8 476.2,532.5 476.4,493.2 476.6,529.7 476.8,495.9 476.9,525.2 477.1,497.5 477.3,526.5 477.5,492.7 477.7,530.2 477.8,499.4 478.0,520.9 478.2,491.8 478.4,525.0 478.5,492.5 478.7,527.2 478.9,499.4 479.1,522.3 479.3,498.1 479.4,520.9 479.6,496.2 479.8,521.7 480.0,501.6 480.1,528.7 480.3,499.0 480.5,522.2 480.7,500.0 480.9,527.0 481.0,494.3 481.2,530.2 481.4,494.0 481.6,523.0 481.7,496.3 481.9,514.9 482.1,495.8 482.3,515.5 482.5,500.2 482.6,517.1 482.8,494.7 483.0,516.6 483.2,502.0 483.3,518.1 483.5,490.4 483.7,521.1 483.9,481.8 484.1,518.6 484.2,500.0 484.4,519.7 484.6,497.0 484.8,524.9 484.9,495.4 485.1,523.1 485.3,495.5 485.5,533.2 485.7,498.0 485.8,528.5 486.0,494.0 486.2,518.6 486.4,495.3 486.5,521.9 486.7,498.7 486.9,519.2 487.1,500.7 487.3,531.9 487.4,497.6 487.6,535.5 487.8,498.5 488.0,534.6 488.1,485.2 488.3,545.3 488.5,481.5 488.7,544.6 488.9,496.5 489.0,519.5 489.2,498.6 489.4,525.7 489.6,491.8 489.7,523.4 489.9,486.0 490.1,536.4 490.3,481.5 490.5,537.0 490.6,483.5 490.8,526.6 491.0,500.3 491.2,527.3 491.3,494.0 491.5,537.8 491.7,500.3 491.9,533.6 492.1,490.3 492.2,523.4 492.4,488.8 492.6,518.7 492.8,490.2 492.9,524.2 493.1,500.8 493.3,520.0 493.5,496.2 493.7,532.6 493.8,502.3 494.0,536.3 494.2,501.5 494.4,534.0 494.5,500.0 494.7,518.4 494.9,494.7 495.1,519.9 495.3,499.0 495.4,522.6 495.6,503.2 495.8,518.3 496.0,496.9 496.1,522.2 496.3,492.9 496.5,527.2 496.7,496.0 496.9,523.5 497.0,487.1 497.2,540.8 497.4,493.9 497.6,534.3 497.7,495.9 497.9,541.5 498.1,485.1 498.3,530.0 498.5,489.2 498.6,519.8 498.8,499.7 499.0,527.9 499.2,499.6 499.3,519.7 499.5,499.1 499.7,530.3 499.9,496.3 500.1,528.5 500.2,492.6 500.4,531.0 500.6,490.3 500.8,529.8 500.9,492.2 501.1,535.4 501.3,490.8 501.5,540.8 501.7,488.8 501.8,529.3 502.0,494.0 502.2,521.7 502.4,491.8 502.5,521.9 502.7,494.7 502.9,519.0 503.1,491.5 503.3,518.8 503.4,487.6 503.6,538.7 503.8,477.1 504.0,538.1 504.1,495.1 504.3,543.5 504.5,498.6 504.7,537.5 504.9,491.0 505.0,530.7 505.2,499.1 505.4,535.5 505.6,492.8 505.7,531.0 505.9,491.8 506.1,522.0 506.3,492.4 506.5,522.2 506.6,491.9 506.8,531.7 507.0,482.9 507.2,520.2 507.3,488.3 507.5,521.9 507.7,494.6 507.9,519.7 508.1,490.3 508.2,521.9 508.4,496.0 508.6,519.5 508.8,488.8 508.9,526.4 509.1,498.5 509.3,524.0 509.5,499.1 509.7,523.8 509.8,497.6 510.0,527.9 510.2,499.2 510.4,522.1 510.5,501.1 510.7,524.4 510.9,497.0 511.1,520.7 511.3,496.2 511.4,531.0 511.6,499.5 511.8,523.4 512.0,500.3 512.1,524.6 512.3,502.6 512.5,531.7 512.7,499.1 512.9,525.1 513.0,501.5 513.2,537.9 513.4,497.5 513.6,541.5 513.7,491.8 513.9,539.1 514.1,499.7 514.3,518.4 514.5,495.3 514.6,523.4 514.8,483.7 515.0,517.3 515.2,493.7 515.3,536.5 515.5,491.8 515.7,540.8 515.9,499.0 516.1,528.1 516.2,494.9 516.4,528.2 516.6,488.8 516.8,531.0 516.9,490.7 517.1,528.3 517.3,494.2 517.5,521.0 517.7,490.3 517.8,523.5 518.0,498.1 518.2,529.4 518.4,490.6 518.5,515.7 518.7,494.6 518.9,514.4 519.1,484.7 519.3,517.4 519.4,487.4 519.6,519.0 519.8,488.0 520.0,526.9 520.1,486.2 520.3,527.9 520.5,485.6 520.7,523.3 520.9,491.0 521.0,529.4 521.2,500.1 521.4,525.8 521.6,497.6 521.7,528.5 521.9,499.5 522.1,522.0 522.3,498.5 522.5,528.7 522.6,500.7 522.8,524.9 523.0,497.6 523.2,524.8 523.3,505.1 523.5,527.2 523.7,501.6 523.9,524.2 524.1,500.6 524.2,519.3 524.4,498.8 524.6,522.6 524.8,495.4 524.9,530.2 525.1,501.2 525.3,531.1 525.5,504.9 525.7,537.8 525.8,502.8 526.0,521.6 526.2,500.6 526.4,520.1 526.5,497.0 526.7,524.2 526.9,493.9 527.1,523.4 527.3,493.5 527.4,525.0 527.6,495.2 527.8,536.7 528.0,486.2 528.1,523.8 528.3,480.7 528.5,527.2 528.7,491.8 528.9,523.6 529.0,487.4 529.2,535.5 529.4,481.3 529.6,526.7 529.7,482.2 529.9,525.1 530.1,493.0 530.3,527.9 530.5,480.3 530.6,526.6 530.8,495.3 531.0,534.6 531.2,494.3 531.3,535.5 531.5,491.8 531.7,532.1 531.9,499.1 532.1,532.3 532.2,494.5 532.4,533.0 532.6,494.0 532.8,534.7 532.9,498.4 533.1,520.4 533.3,478.0 533.5,521.9 533.7,486.0 533.8,516.0 534.0,467.1 534.2,533.5 534.4,498.9 534.5,553.9 534.7,491.8 534.9,535.3 535.1,491.6 535.3,529.7 535.4,485.6 535.6,533.2 535.8,491.1 536.0,526.4 536.1,493.7 536.3,517.1 536.5,490.3 536.7,521.1 536.9,494.2 537.0,519.7 537.2,488.5 537.4,522.5 537.6,497.2 537.7,527.0 537.9,499.3 538.1,527.9 538.3,501.4 538.5,522.2 538.6,497.6 538.8,521.3 539.0,497.7 539.2,524.9 539.3,500.5 539.5,517.3 539.7,494.7 539.9,517.9 540.1,499.6 540.2,523.4 540.4,503.2 540.6,519.7 540.8,498.4 540.9,519.2 541.1,502.8 541.3,519.0 541.5,499.7 541.7,525.7 541.8,495.4 542.0,527.2 542.2,502.3 542.4,526.3 542.5,495.3 542.7,539.7 542.9,485.1 543.1,517.6 543.3,502.9 543.4,520.4 543.6,503.1 543.8,517.4 544.0,496.9 544.1,522.5 544.3,498.8 544.5,519.2 544.7,501.7 544.9,527.9 545.0,501.8 545.2,519.4 545.4,498.4 545.6,528.4 545.7,502.8 545.9,528.7 546.1,501.9 546.3,523.7 546.5,501.4 546.6,520.8 546.8,495.4 547.0,523.4 547.2,500.1 547.3,517.4 547.5,503.7 547.7,521.3 547.9,502.4 548.1,521.7 548.2,498.4 548.4,523.1 548.6,501.4 548.8,522.6 548.9,499.9 549.1,517.3 549.3,494.7 549.5,521.9 549.7,500.2 549.8,520.8 550.0,495.1 550.2,517.9 550.4,499.8 550.5,518.0 550.7,491.8 550.9,519.6 551.1,492.8 551.3,517.6 551.4,501.0 551.6,516.7 551.8,492.5 552.0,517.1 552.1,499.6 552.3,523.4 552.5,500.2 552.7,517.5 552.9,491.5 553.0,522.0 553.2,492.4 553.4,524.6 553.6,498.4 553.7,524.4 553.9,495.9 554.1,528.2 554.3,491.0 554.5,530.2 554.6,491.8 554.8,529.6 555.0,504.2 555.2,521.1 555.3,499.1 555.5,523.7 555.7,499.4 555.9,527.2 556.1,499.9 556.2,523.4 556.4,491.8 556.6,531.0 556.8,493.1 556.9,521.5 557.1,494.7 557.3,527.7 557.5,488.1 557.7,532.4 557.8,492.4 558.0,536.7 558.2,499.1 558.4,519.0 558.5,491.8 558.7,520.4 558.9,494.8 559.1,519.5 559.3,496.3 559.4,522.1 559.6,492.5 559.8,518.5 560.0,500.6 560.1,522.6 560.3,496.9 560.5,517.6 560.7,498.3 560.9,520.9 561.0,501.5 561.2,524.9 561.4,503.9 561.6,522.8 561.7,499.8 561.9,514.6 562.1,501.3 562.3,515.8 562.5,502.8 562.6,518.2 562.8,501.2 563.0,519.5 563.2,502.1 563.3,521.1 563.5,498.9 563.7,523.1 563.9,495.0 564.1,522.4 564.2,501.6 564.4,524.9 564.6,502.2 564.8,523.7 564.9,499.8 565.1,523.3 565.3,497.6 565.5,524.2 565.7,498.4 565.8,520.2 566.0,497.6 566.2,525.5 566.4,496.9 566.5,521.8 566.7,500.9 566.9,527.9 567.1,503.6 567.3,514.5 567.4,498.6 567.6,513.5 567.8,498.4 568.0,516.6 568.1,500.8 568.3,519.8 568.5,499.3 568.7,524.7 568.9,490.6 569.0,527.9 569.2,497.8 569.4,519.2 569.6,502.3 569.7,530.3 569.9,499.5 570.1,534.7 570.3,496.9 570.5,522.3 570.6,501.8 570.8,521.7 571.0,500.1 571.2,521.9 571.3,497.4 571.5,518.3 571.7,494.0 571.9,525.3 572.1,497.1 572.2,527.2 572.4,498.2 572.6,523.1 572.8,502.1 572.9,517.7 573.1,496.9 573.3,517.0 573.5,498.0 573.7,523.4 573.8,500.1 574.0,516.7 574.2,492.8 574.4,514.7 574.5,492.5 574.7,518.1 574.9,493.4 575.1,514.2 575.3,501.9 575.4,517.9 575.6,499.1 575.8,521.9 576.0,501.1 576.1,523.1 576.3,501.6 576.5,520.4 576.7,500.5 576.9,517.9 577.0,499.8 577.2,521.9 577.4,501.8 577.6,518.5 577.7,504.2 577.9,518.8 578.1,499.8 578.3,519.6 578.5,497.4 578.6,518.7 578.8,502.2 579.0,517.3 579.2,500.6 579.3,520.2 579.5,503.2 579.7,517.9 579.9,500.7 580.1,521.9 580.2,497.6 580.4,516.2 580.6,500.3 580.8,528.8 580.9,494.3 581.1,527.8 581.3,492.3 581.5,531.7 581.7,488.1 581.8,523.0 582.0,495.1 582.2,530.2 582.4,496.2 582.5,530.2 582.7,495.3 582.9,520.8 583.1,489.6 583.3,521.2 583.4,497.9 583.6,528.0 583.8,494.2 584.0,528.7 584.1,491.8 584.3,528.9 584.5,491.9 584.7,526.2 584.8,472.8 585.0,530.2 585.2,471.5 585.4,525.4 585.6,482.6 585.7,520.1 585.9,492.6 586.1,520.4 586.3,491.8 586.4,520.1 586.6,496.4 586.8,527.2 587.0,499.1 587.2,529.4 587.3,494.7 587.5,529.4 587.7,485.4 587.9,526.1 588.0,484.4 588.2,535.2 588.4,485.2 588.6,524.8 588.8,497.4 588.9,518.9 589.1,487.4 589.3,520.4 589.5,495.2 589.6,517.8 589.8,501.6 590.0,515.6 590.2,499.8 590.4,521.1 590.5,501.1 590.7,517.0 590.9,500.0 591.1,525.5 591.2,496.2 591.4,533.2 591.6,494.1 591.8,530.2 592.0,491.8 592.1,518.5 592.3,499.8 592.5,523.4 592.7,495.6 592.8,519.3 593.0,488.1 593.2,517.4 593.4,497.2 593.6,524.2 593.7,499.7 593.9,522.0 594.1,498.4 594.3,538.2 594.4,498.5 594.6,536.7 594.8,498.9 595.0,538.5 595.2,494.0 595.3,526.4 595.5,499.3 595.7,519.7 595.9,497.1 596.0,523.4 596.2,497.0 596.4,519.0 596.6,493.2 596.8,530.8 596.9,500.5 597.1,532.5 597.3,499.2 597.5,531.2 597.6,495.4 597.8,519.3 598.0,503.3 598.2,516.3 598.4,500.8 598.5,520.4 598.7,499.8 598.9,515.0 599.1,502.8 599.2,519.6 599.4,500.4 599.6,522.6 599.8,497.6 600.0,517.2 600.1,503.3 600.3,513.8 600.5,499.0 600.7,514.7 600.8,495.6 601.0,516.6 601.2,497.0 601.4,519.5 601.6,495.4 601.7,519.6 601.9,502.3 602.1,515.5 602.3,499.8 602.4,528.1 602.6,496.7 602.8,535.5 603.0,490.3 603.2,524.0 603.3,485.0 603.5,524.6 603.7,477.8 603.9,537.0 604.0,482.0 604.2,541.8 604.4,471.7 604.6,561.2 604.8,467.5 604.9,546.2 605.1,476.1 605.3,564.2 605.5,456.5 605.6,614.1 605.8,444.6 606.0,551.6 606.2,418.7 606.4,561.2 606.5,433.5 606.7,558.9 606.9,462.2 607.1,534.2 607.2,457.2 607.4,549.1 607.6,486.5 607.8,538.4 608.0,469.0 608.1,542.3 608.3,473.2 608.5,534.3 608.7,465.7 608.8,560.8 609.0,461.6 609.2,551.8 609.4,490.6 609.6,575.6 609.7,477.1 609.9,519.7 610.1,482.9 610.3,528.4 610.4,477.2 610.6,529.4 610.8,484.6 611.0,524.9 611.2,475.6 611.3,527.3 611.5,478.8 611.7,527.9 611.9,483.5 612.0,523.1 612.2,477.1 612.4,524.1 612.6,490.6 612.8,528.7 612.9,498.2 613.1,548.6 613.3,490.3 613.5,555.9 613.6,473.5 613.8,545.4 614.0,484.1 614.2,525.6 614.4,473.4 614.5,533.2 614.7,482.7 614.9,542.5 615.1,482.8 615.2,546.1 615.4,472.7 615.6,545.3 615.8,488.3 616.0,523.6 616.1,462.5 616.3,531.0 616.5,447.7 616.7,524.7 616.8,452.3 617.0,536.0 617.2,453.3 617.4,538.5 617.6,451.3 617.7,532.9 617.9,479.6 618.1,530.6 618.3,474.1 618.4,536.3 618.6,463.8 618.8,529.4 619.0,477.5 619.2,542.7 619.3,461.6 619.5,548.3 619.7,459.4 619.9,531.0 620.0,477.5 620.2,533.6 620.4,471.2 620.6,544.6 620.8,491.1 620.9,553.1 621.1,485.1 621.3,554.5 621.5,489.5 621.6,555.5 621.8,472.9 622.0,549.7 622.2,473.3 622.4,538.5 622.5,448.1 622.7,551.4 622.9,474.5 623.1,537.1 623.2,471.2 623.4,529.9 623.6,472.1 623.8,541.5 624.0,478.0 624.1,530.6 624.3,487.0 624.5,534.4 624.7,477.1 624.8,548.3 625.0,491.6 625.2,533.8 625.4,477.8 625.6,528.5 625.7,492.4 625.9,528.7 626.1,491.4 626.3,522.0 626.4,480.0 626.6,530.2 626.8,493.6 627.0,525.3 627.2,485.1 627.3,539.7 627.5,481.5 627.7,536.3 627.9,484.0 628.0,542.3 628.2,493.5 628.4,524.3 628.6,478.1 628.8,532.5 628.9,477.5 629.1,521.8 629.3,489.3 629.5,528.8 629.6,491.8 629.8,535.5 630.0,481.5 630.2,529.6 630.4,494.9 630.5,532.0 630.7,495.0 630.9,530.3 631.1,494.7 631.2,545.8 631.4,495.4 631.6,518.6 631.8,486.7 632.0,522.4 632.1,486.6 632.3,524.9 632.5,490.7 632.7,525.7 632.8,491.3 633.0,534.4 633.2,474.9 633.4,537.8 633.6,489.2 633.7,526.3 633.9,479.3 634.1,548.0 634.3,476.3 634.4,550.6 634.6,492.2 634.8,549.8 635.0,490.8 635.2,534.8 635.3,485.1 635.5,546.1 635.7,496.1 635.9,534.9 636.0,481.6 636.2,536.3 636.4,481.5 636.6,551.4 636.8,493.7 636.9,533.5 637.1,475.5 637.3,531.7 637.5,449.1 637.6,542.3 637.8,451.7 638.0,526.6 638.2,478.4 638.4,541.2 638.5,457.2 638.7,540.3 638.9,456.9 639.1,556.9 639.2,456.8 639.4,557.4 639.6,476.7 639.8,542.0 640.0,475.7 640.1,532.2 640.3,474.9 640.5,540.0 640.7,480.0 640.8,529.6 641.0,492.2 641.2,555.5 641.4,475.6 641.6,569.2 641.7,479.3 641.9,577.8 642.1,465.6 642.3,559.5 642.4,453.5 642.6,544.0 642.8,480.8 643.0,554.4 643.2,469.7 643.3,544.0 643.5,473.0 643.7,534.7 643.9,475.5 644.0,551.4 644.2,468.2 644.4,548.2 644.6,466.8 644.8,528.4 644.9,467.6 645.1,541.5 645.3,462.1 645.5,528.3 645.6,458.0 645.8,534.6 646.0,478.6 646.2,530.4 646.4,468.0 646.5,549.1 646.7,467.5 646.9,537.4 647.1,481.2 647.2,524.9 647.4,494.2 647.6,537.0 647.8,479.3 648.0,535.2 648.1,476.5 648.3,551.2 648.5,478.5 648.7,551.4 648.8,472.7 649.0,541.5 649.2,477.0 649.4,527.9 649.6,477.2 649.7,543.1 649.9,467.5 650.1,533.7 650.3,485.5 650.4,535.8 650.6,466.7 650.8,542.3 651.0,444.7 651.2,534.2 651.3,484.2 651.5,536.6 651.7,472.7 651.9,537.5 652.0,480.0 652.2,550.6 652.4,481.7 652.6,549.3 652.8,481.5 652.9,539.3 653.1,483.8 653.3,541.5 653.5,489.6 653.6,541.2 653.8,489.9 654.0,526.7 654.2,478.5 654.4,532.4 654.5,482.7 654.7,540.0 654.9,488.1 655.1,535.3 655.2,477.5 655.4,540.8 655.6,489.0 655.8,540.3 656.0,486.0 656.1,529.3 656.3,484.7 656.5,536.3 656.7,477.1 656.8,534.6 657.0,477.3 657.2,528.8 657.4,499.4 657.6,534.7 657.7,498.1 657.9,523.0 658.1,495.4 658.3,525.9 658.4,496.5 658.6,529.9 658.8,494.3 659.0,532.5 659.2,480.7 659.3,525.9 659.5,489.6 659.7,527.2 659.9,483.2 660.0,521.6 660.2,482.9 660.4,521.2 660.6,489.0 660.8,527.6 660.9,491.0 661.1,528.7 661.3,483.7 661.5,530.2 661.6,487.4 661.8,531.7 662.0,492.3 662.2,524.0 662.4,490.4 662.5,531.9 662.7,484.1 662.9,541.5 663.1,492.1 663.2,536.0 663.4,490.1 663.6,527.1 663.8,488.8 664.0,531.7 664.1,497.7 664.3,523.1 664.5,492.5 664.7,531.1 664.8,484.7 665.0,524.8 665.2,500.4 665.4,536.3 665.6,492.5 665.7,527.2 665.9,498.6 666.1,528.0 666.3,477.2 666.4,545.3 666.6,467.5 666.8,543.9 667.0,477.3 667.2,530.8 667.3,460.8 667.5,532.0 667.7,456.2 667.9,534.0 668.0,458.5 668.2,527.2 668.4,472.3 668.6,526.7 668.8,465.3 668.9,540.0 669.1,468.0 669.3,530.6 669.5,476.4 669.6,531.2" fill="none" stroke="#b3b3b3" stroke-width="1.0" stroke-linejoin="round"/><polyline points="384.6,492.0 384.7,492.0 384.8,492.0 384.9,491.9 385.0,491.8 385.1,491.7 385.2,491.6 385.3,491.5 385.4,491.4 385.5,491.0 385.6,491.2 385.7,490.7 385.8,491.0 385.9,490.0 386.0,490.8 386.1,489.7 386.2,490.6 386.3,490.0 386.4,490.8 386.5,489.8 386.6,490.7 386.7,490.0 386.8,490.7 386.9,490.0 387.0,490.3 387.1,490.0 387.2,490.2 387.3,490.0 387.4,490.1 387.5,490.0 387.6,490.1 387.7,489.9 387.8,490.0 387.9,489.9 388.0,489.9 388.1,489.8 388.2,489.9 388.3,489.8 388.4,489.8 388.5,489.7 388.6,489.7 388.7,489.6 388.8,489.5 388.9,489.5 389.0,489.4 389.1,489.3 389.2,489.3 389.3,489.2 389.4,489.1 389.5,489.1 389.6,489.0 389.7,488.9 389.8,488.9 389.9,488.8 390.0,488.7 390.1,488.7 390.2,488.6 390.3,487.5 390.4,488.5 390.5,487.3 390.6,488.4 390.7,487.6 390.8,488.1 390.9,487.4 391.0,487.9 391.1,487.4 391.2,487.6 391.3,487.1 391.4,487.3 391.5,487.0 391.6,487.1 391.7,486.7 391.8,486.8 391.9,486.5 392.0,486.5 392.1,486.2 392.2,486.2 392.3,486.0 392.4,486.0 392.5,485.8 392.6,485.7 392.7,485.5 392.8,485.5 392.9,485.2 393.0,485.1 393.1,484.9 393.2,485.4 393.3,484.5 393.4,486.5 393.5,484.6 393.6,487.7 393.7,484.2 393.8,488.1 393.9,482.8 394.0,488.3 394.1,483.3 394.2,487.8 394.3,482.8 394.4,487.4 394.5,479.5 394.6,487.0 394.7,474.5 394.8,484.4 394.9,470.8 395.0,483.7 395.1,466.9 395.2,483.4 395.3,462.1 395.4,482.9 395.5,459.8 395.6,482.5 395.7,452.5 395.8,482.1 395.9,449.8 396.0,437.8 396.1,450.9 396.2,480.4 396.3,451.7 396.4,480.0 396.5,452.8 396.6,479.1 396.7,456.3 396.8,478.7 396.9,455.4 397.0,478.4 397.1,461.1 397.2,479.4 397.3,462.6 397.4,479.6 397.5,465.0 397.6,479.9 397.7,468.7 397.8,481.1 397.9,468.9 398.0,481.5 398.1,465.7 398.2,481.9 398.3,467.1 398.4,480.0 398.5,465.1 398.6,478.8 398.7,463.7 398.8,478.9 398.9,461.9 399.0,478.9 399.1,461.8 399.2,479.0 399.3,461.3 399.4,479.4 399.5,454.6 399.6,478.4 399.7,456.9 399.8,478.5 399.9,459.0 400.0,478.6 400.1,460.8 400.2,479.1 400.3,463.4 400.4,479.2 400.5,463.3 400.6,479.4 400.7,460.5 400.8,481.3 400.9,463.6 401.0,482.1 401.1,461.4 401.2,482.9 401.3,464.6 401.4,483.6 401.5,466.8 401.6,483.6 401.7,468.8 401.8,483.5 401.9,466.1 402.0,483.5 402.1,470.6 402.2,483.4 402.3,471.8 402.4,483.7 402.5,471.6 402.6,484.5 402.7,474.1 402.8,484.9 402.9,473.6 403.0,485.3 403.1,472.1 403.2,486.9 403.3,472.4 403.4,487.3 403.5,475.8 403.6,487.8 403.7,477.3 403.8,486.9 403.9,476.7 404.0,487.2 404.1,476.6 404.2,487.5 404.3,480.0 404.4,486.9 404.5,479.2 404.6,486.7 404.7,477.7 404.8,486.5 404.9,480.0 405.0,487.8 405.1,481.4 405.2,485.8 405.3,480.8 405.4,483.6 405.5,482.2 405.6,483.7 405.7,482.2 405.8,483.7 405.9,482.8 406.0,482.3 406.1,479.6 406.2,483.8 406.3,476.4 406.4,483.8 406.5,475.0 406.6,483.8 406.7,472.2 406.8,483.2 406.9,468.9 407.0,483.2 407.1,462.0 407.2,483.2 407.3,468.6 407.4,482.8 407.5,468.5 407.6,482.6 407.7,472.6 407.8,482.5 407.9,473.0 408.0,481.2 408.1,476.6 408.2,481.1 408.3,477.9 408.4,482.4 408.5,480.1 408.6,484.4 408.7,482.5 408.8,485.6 408.9,482.6 409.0,486.1 409.1,483.2 409.2,486.9 409.3,479.8 409.4,486.0 409.5,474.3 409.6,483.7 409.7,468.2 409.8,479.8 409.9,465.5 410.0,476.3 410.1,459.7 410.2,472.8 410.3,452.9 410.4,471.5 410.5,444.5 410.6,469.3 410.7,436.9 410.8,467.1 410.9,433.5 411.0,462.8 411.1,423.6 411.2,462.7 411.3,410.4 411.4,462.6 411.5,404.6 411.6,462.9 411.7,407.9 411.8,462.6 411.9,396.1 412.0,462.0 412.1,390.5 412.2,464.7 412.3,374.7 412.4,464.2 412.5,379.8 412.6,464.1 412.7,381.4 412.8,463.9 412.9,392.5 413.0,463.9 413.1,393.7 413.2,463.9 413.3,380.0 413.4,367.5 413.5,389.1 413.6,461.8 413.7,390.1 413.8,461.8 413.9,388.6 414.0,459.6 414.1,387.8 414.2,459.6 414.3,384.1 414.4,459.6 414.5,392.6 414.6,459.6 414.7,392.3 414.8,459.7 414.9,410.5 415.0,459.9 415.1,413.9 415.2,460.1 415.3,415.3 415.4,462.3 415.5,418.3 415.6,464.5 415.7,433.3 415.8,464.9 415.9,428.9 416.0,467.7 416.1,439.4 416.2,470.5 416.3,433.0 416.4,471.7 416.5,441.8 416.6,469.8 416.7,434.8 416.8,469.5 416.9,443.1 417.0,469.4 417.1,437.2 417.2,470.4 417.3,437.9 417.4,470.1 417.5,437.2 417.6,471.1 417.7,439.3 417.8,471.1 417.9,430.7 418.0,471.1 418.1,432.6 418.2,469.9 418.3,429.3 418.4,469.8 418.5,436.8 418.6,426.8 418.7,438.0 418.8,472.2 418.9,441.5 419.0,472.1 419.1,442.8 419.2,472.0 419.3,437.1 419.4,474.3 419.5,440.8 419.6,474.2 419.7,443.8 419.8,475.1 419.9,443.5 420.0,474.1 420.1,450.0 420.2,475.1 420.3,449.8 420.4,476.0 420.5,449.4 420.6,475.8 420.7,451.7 420.8,475.5 420.9,449.9 421.0,475.2 421.1,452.0 421.2,474.8 421.3,452.2 421.4,475.0 421.5,452.1 421.6,475.1 421.7,457.1 421.8,476.5 421.9,454.5 422.0,476.4 422.1,457.7 422.2,476.3 422.3,459.1 422.4,474.6 422.5,458.9 422.6,474.6 422.7,458.7 422.8,474.6 422.9,457.0 423.0,473.9 423.1,459.8 423.2,474.1 423.3,458.1 423.4,473.7 423.5,456.1 423.6,472.4 423.7,459.2 423.8,472.0 423.9,461.7 424.0,471.5 424.1,463.4 424.2,472.0 424.3,463.8 424.4,471.8 424.5,466.2 424.6,472.0 424.7,465.7 424.8,473.6 424.9,468.3 425.0,474.7 425.1,469.6 425.2,475.7 425.3,471.2 425.4,476.7 425.5,471.0 425.6,477.4 425.7,471.6 425.8,478.0 425.9,471.5 426.0,478.1 426.1,472.3 426.2,478.8 426.3,471.0 426.4,479.5 426.5,470.4 426.6,480.6 426.7,473.1 426.8,480.9 426.9,473.9 427.0,481.3 427.1,474.1 427.2,481.1 427.3,474.4 427.4,481.5 427.5,475.2 427.6,482.6 427.7,474.9 427.8,485.5 427.9,475.6 428.0,487.0 428.1,479.2 428.2,488.1 428.3,478.2 428.4,486.9 428.5,480.3 428.6,485.4 428.7,479.6 428.8,484.8 428.9,479.8 429.0,484.0 429.1,478.7 429.2,484.3 429.3,475.4 429.4,484.5 429.5,473.3 429.6,485.4 429.7,466.3 429.8,485.7 429.9,471.0 430.0,485.8 430.1,472.5 430.2,485.2 430.3,473.7 430.4,485.4 430.5,475.8 430.6,484.8 430.7,478.1 430.8,486.2 430.9,480.7 431.0,486.4 431.1,481.9 431.2,486.6 431.3,483.5 431.4,486.7 431.5,483.4 431.6,487.0 431.7,484.3 431.8,487.7 431.9,485.0 432.0,488.8 432.1,486.4 432.2,489.0 432.3,486.9 432.4,489.6 432.5,486.8 432.6,490.1 432.7,487.4 432.8,490.2 432.9,486.6 433.0,488.3 433.1,483.5 433.2,488.1 433.3,480.6 433.4,488.3 433.5,478.7 433.6,488.5 433.7,475.2 433.8,486.9 433.9,470.4 434.0,487.1 434.1,462.2 434.2,487.3 434.3,469.7 434.4,487.8 434.5,471.0 434.6,488.0 434.7,475.6 434.8,488.3 434.9,476.5 435.0,489.1 435.1,481.0 435.2,489.0 435.3,482.7 435.4,489.6 435.5,485.4 435.6,490.9 435.7,487.2 435.8,491.5 435.9,488.4 436.0,492.1 436.1,489.2 436.2,492.3 436.3,490.3 436.4,492.8 436.5,491.0 436.6,491.6 436.7,492.1 436.8,492.6 436.9,492.6 437.0,492.6 437.1,492.6 437.2,492.6 437.3,490.2 437.4,490.7 437.5,484.5 437.6,490.8 437.7,479.6 437.8,490.1 437.9,477.2 438.0,490.1 438.1,470.9 438.2,489.7 438.3,461.2 438.4,489.3 438.5,467.5 438.6,489.8 438.7,467.5 438.8,489.4 438.9,471.4 439.0,488.9 439.1,467.7 439.2,489.3 439.3,465.3 439.4,488.9 439.5,467.0 439.6,488.5 439.7,465.2 439.8,487.4 439.9,462.0 440.0,486.3 440.1,466.2 440.2,485.8 440.3,467.1 440.4,485.7 440.5,471.2 440.6,485.2 440.7,473.3 440.8,484.9 440.9,472.9 441.0,482.5 441.1,474.4 441.2,483.1 441.3,474.0 441.4,483.8 441.5,475.5 441.6,485.2 441.7,476.9 441.8,485.9 441.9,477.0 442.0,486.3 442.1,473.9 442.2,487.0 442.3,475.6 442.4,486.6 442.5,472.9 442.6,470.7 442.7,473.3 442.8,486.1 442.9,475.7 443.0,485.5 443.1,477.0 443.2,485.3 443.3,478.0 443.4,485.1 443.5,480.0 443.6,484.9 443.7,480.3 443.8,485.6 443.9,482.0 444.0,486.3 444.1,482.9 444.2,487.1 444.3,483.2 444.4,487.9 444.5,484.6 444.6,487.9 444.7,485.3 444.8,488.5 444.9,486.4 445.0,489.0 445.1,486.3 445.2,489.0 445.3,486.2 445.4,489.5 445.5,487.5 445.6,490.0 445.7,487.6 445.8,489.0 445.9,488.0 446.0,488.3 446.1,488.0 446.2,488.3 446.3,488.1 446.4,487.4 446.5,486.4 446.6,487.1 446.7,485.0 446.8,487.4 446.9,483.8 447.0,488.4 447.1,481.9 447.2,488.7 447.3,478.8 447.4,489.0 447.5,482.8 447.6,488.6 447.7,485.3 447.8,488.9 447.9,486.9 448.0,489.2 448.1,487.9 448.2,488.6 448.3,487.4 448.4,489.5 448.5,488.4 448.6,490.9 448.7,489.8 448.8,492.2 448.9,491.2 449.0,492.5 449.1,492.3 449.2,492.6 449.3,492.2 449.4,492.7 449.5,492.0 449.6,492.5 449.7,491.6 449.8,492.0 449.9,491.4 450.0,491.5 450.1,490.8 450.2,491.0 450.3,489.6 450.4,490.5 450.5,488.9 450.6,490.2 450.7,488.8 450.8,490.2 450.9,487.8 451.0,490.2 451.1,485.9 451.2,489.3 451.3,485.2 451.4,489.2 451.5,483.4 451.6,489.2 451.7,481.0 451.8,488.4 451.9,483.9 452.0,488.4 452.1,484.7 452.2,488.4 452.3,486.3 452.4,489.3 452.5,486.9 452.6,489.3 452.7,487.3 452.8,489.5 452.9,488.0 453.0,489.9 453.1,488.8 453.2,490.3 453.3,489.1 453.4,490.8 453.5,489.7 453.6,491.2 453.7,489.8 453.8,491.0 453.9,489.4 454.0,491.1 454.1,489.0 454.2,489.8 454.3,489.0 454.4,489.2 454.5,488.7 454.6,488.9 454.7,488.6 454.8,488.7 454.9,488.3 455.0,488.6 455.1,487.7 455.2,489.0 455.3,487.1 455.4,489.2 455.5,487.3 455.6,489.5 455.7,486.3 455.8,489.9 455.9,486.5 456.0,490.4 456.1,485.9 456.2,490.2 456.3,485.4 456.4,490.1 456.5,485.2 456.6,489.6 456.7,484.6 456.8,489.6 456.9,483.8 457.0,489.5 457.1,484.6 457.2,483.9 457.3,484.8 457.4,490.2 457.5,486.1 457.6,489.8 457.7,486.0 457.8,489.3 457.9,486.9 458.0,488.9 458.1,486.7 458.2,486.8 458.3,486.0 458.4,482.9 458.5,477.1 458.6,481.1 458.7,468.1 458.8,481.1 458.9,463.7 459.0,483.9 459.1,458.7 459.2,483.9 459.3,447.1 459.4,483.9 459.5,442.3 459.6,430.5 459.7,440.7 459.8,485.2 459.9,439.8 460.0,485.2 460.1,446.2 460.2,481.6 460.3,443.7 460.4,481.0 460.5,450.3 460.6,480.5 460.7,449.4 460.8,479.9 460.9,450.6 461.0,479.9 461.1,453.1 461.2,479.4 461.3,453.6 461.4,481.6 461.5,454.0 461.6,481.2 461.7,450.9 461.8,480.4 461.9,442.9 462.0,481.4 462.1,445.6 462.2,481.2 462.3,449.9 462.4,481.0 462.5,451.3 462.6,478.9 462.7,457.3 462.8,478.6 462.9,460.7 463.0,478.8 463.1,460.1 463.2,480.0 463.3,461.9 463.4,480.3 463.5,466.9 463.6,480.9 463.7,467.9 463.8,480.1 463.9,467.7 464.0,481.1 464.1,469.0 464.2,482.1 464.3,472.4 464.4,482.1 464.5,474.6 464.6,483.0 464.7,474.2 464.8,483.6 464.9,475.8 465.0,485.1 465.1,477.0 465.2,485.5 465.3,478.3 465.4,485.8 465.5,479.6 465.6,486.1 465.7,480.5 465.8,486.7 465.9,481.4 466.0,487.1 466.1,482.4 466.2,488.2 466.3,483.9 466.4,488.5 466.5,484.1 466.6,488.8 466.7,484.3 466.8,489.2 466.9,485.3 467.0,489.7 467.1,486.0 467.2,489.8 467.3,485.8 467.4,490.1 467.5,485.8 467.6,489.7 467.7,485.1 467.8,489.1 467.9,485.3 468.0,488.1 468.1,484.4 468.2,487.8 468.3,484.1 468.4,487.5 468.5,483.3 468.6,482.5 468.7,483.5 468.8,486.4 468.9,483.9 469.0,487.6 469.1,484.2 469.2,488.0 469.3,485.2 469.4,488.2 469.5,485.6 469.6,488.4 469.7,485.7 469.8,489.0 469.9,486.3 470.0,482.8 470.1,486.4 470.2,491.5 470.3,484.9 470.4,491.8 470.5,484.7 470.6,491.8 470.7,485.8 470.8,491.9 470.9,486.1 471.0,491.7 471.1,484.9 471.2,491.3 471.3,485.3 471.4,490.6 471.5,484.5 471.6,489.4 471.7,484.0 471.8,488.7 471.9,483.6 472.0,488.0 472.1,483.8 472.2,487.7 472.3,481.3 472.4,488.2 472.5,482.2 472.6,488.6 472.7,483.4 472.8,489.3 472.9,484.5 473.0,489.4 473.1,485.5 473.2,489.5 473.3,485.6 473.4,490.7 473.5,486.3 473.6,491.2 473.7,485.7 473.8,491.7 473.9,486.7 474.0,492.0 474.1,486.3 474.2,492.4 474.3,485.8 474.4,492.5 474.5,486.3 474.6,491.9 474.7,486.0 474.8,492.0 474.9,485.0 475.0,492.0 475.1,486.5 475.2,492.1 475.3,486.7 475.4,492.1 475.5,486.8 475.6,492.1 475.7,487.6 475.8,492.6 475.9,487.0 476.0,492.6 476.1,487.8 476.2,492.5 476.3,488.3 476.4,491.8 476.5,488.7 476.6,491.7 476.7,489.1 476.8,491.6 476.9,489.3 477.0,492.2 477.1,490.3 477.2,492.1 477.3,490.6 477.4,492.0 477.5,491.3 477.6,492.2 477.7,491.7 477.8,492.4 477.9,491.9 478.0,492.6 478.1,492.0 478.2,492.7 478.3,492.2 478.4,492.9 478.5,492.4 478.6,493.1 478.7,492.7 478.8,493.3 478.9,492.9 479.0,493.4 479.1,492.8 479.2,493.4 479.3,492.9 479.4,493.3 479.5,492.4 479.6,493.6 479.7,492.2 479.8,493.9 479.9,492.5 480.0,494.2 480.1,492.2 480.2,494.4 480.3,490.9 480.4,494.5 480.5,490.8 480.6,494.1 480.7,491.6 480.8,494.2 480.9,491.7 481.0,494.4 481.1,492.3 481.2,494.2 481.3,492.5 481.4,494.4 481.5,493.1 481.6,495.0 481.7,493.6 481.8,496.0 481.9,493.8 482.0,496.9 482.1,493.6 482.2,497.8 482.3,494.9 482.4,498.7 482.5,494.8 482.6,498.8 482.7,495.2 482.8,498.6 482.9,495.1 483.0,497.7 483.1,494.4 483.2,496.5 483.3,493.5 483.4,495.2 483.5,493.0 483.6,494.0 483.7,492.0 483.8,492.8 483.9,490.8 484.0,491.5 484.1,490.1 484.2,490.4 484.3,488.8 484.4,490.2 484.5,487.1 484.6,490.0 484.7,485.3 484.8,490.3 484.9,482.7 485.0,489.9 485.1,483.0 485.2,490.5 485.3,479.3 485.4,491.8 485.5,480.0 485.6,491.8 485.7,480.6 485.8,491.8 485.9,479.6 486.0,491.4 486.1,478.6 486.2,491.4 486.3,480.5 486.4,491.4 486.5,479.7 486.6,491.8 486.7,478.7 486.8,491.3 486.9,477.0 487.0,490.7 487.1,477.7 487.2,489.1 487.3,474.6 487.4,489.3 487.5,476.1 487.6,489.1 487.7,477.6 487.8,489.5 487.9,473.9 488.0,489.3 488.1,470.7 488.2,468.2 488.3,475.0 488.4,489.6 488.5,474.1 488.6,489.4 488.7,475.7 488.8,489.2 488.9,477.2 489.0,488.9 489.1,478.4 489.2,489.0 489.3,478.3 489.4,490.0 489.5,478.9 489.6,490.1 489.7,479.2 489.8,490.9 489.9,474.3 490.0,491.4 490.1,475.5 490.2,490.7 490.3,475.7 490.4,490.5 490.5,475.9 490.6,490.3 490.7,477.6 490.8,490.5 490.9,478.0 491.0,490.1 491.1,476.7 491.2,489.8 491.3,478.7 491.4,490.2 491.5,479.8 491.6,489.9 491.7,479.1 491.8,489.5 491.9,480.4 492.0,488.2 492.1,481.3 492.2,487.6 492.3,480.1 492.4,487.2 492.5,481.5 492.6,487.3 492.7,481.4 492.8,487.1 492.9,482.4 493.0,487.3 493.1,482.7 493.2,487.3 493.3,482.3 493.4,487.6 493.5,482.1 493.6,487.5 493.7,483.1 493.8,488.1 493.9,482.8 494.0,488.3 494.1,482.9 494.2,488.3 494.3,483.6 494.4,487.7 494.5,483.1 494.6,487.6 494.7,482.1 494.8,482.0 494.9,482.7 495.0,487.7 495.1,483.2 495.2,487.6 495.3,482.8 495.4,487.3 495.5,483.5 495.6,488.2 495.7,483.4 495.8,488.5 495.9,483.2 496.0,488.7 496.1,482.7 496.2,488.2 496.3,483.2 496.4,487.9 496.5,482.9 496.6,487.6 496.7,481.3 496.8,487.7 496.9,481.0 497.0,488.3 497.1,479.3 497.2,488.3 497.3,479.4 497.4,486.9 497.5,476.0 497.6,486.9 497.7,474.7 497.8,470.1 497.9,476.0 498.0,486.7 498.1,477.9 498.2,486.8 498.3,477.6 498.4,486.8 498.5,481.3 498.6,488.2 498.7,481.7 498.8,488.3 498.9,479.7 499.0,489.2 499.1,479.4 499.2,489.0 499.3,479.2 499.4,489.0 499.5,479.2 499.6,488.9 499.7,478.3 499.8,488.1 499.9,479.8 500.0,488.2 500.1,481.7 500.2,488.2 500.3,481.8 500.4,488.4 500.5,482.8 500.6,488.4 500.7,484.4 500.8,488.3 500.9,483.5 501.0,488.4 501.1,484.4 501.2,489.1 501.3,483.9 501.4,489.1 501.5,484.0 501.6,488.7 501.7,484.1 501.8,488.7 501.9,483.1 502.0,488.7 502.1,483.1 502.2,489.7 502.3,483.0 502.4,489.7 502.5,483.1 502.6,489.8 502.7,480.8 502.8,489.0 502.9,480.0 503.0,489.1 503.1,479.0 503.2,489.2 503.3,480.1 503.4,489.8 503.5,478.2 503.6,489.3 503.7,479.4 503.8,488.6 503.9,476.5 504.0,487.0 504.1,474.1 504.2,487.0 504.3,473.2 504.4,487.1 504.5,473.8 504.6,487.3 504.7,473.7 504.8,487.3 504.9,473.3 505.0,467.0 505.1,472.4 505.2,486.8 505.3,474.8 505.4,486.9 505.5,478.1 505.6,486.9 505.7,477.3 505.8,486.1 505.9,479.2 506.0,484.9 506.1,479.1 506.2,485.2 506.3,481.0 506.4,486.1 506.5,482.0 506.6,486.6 506.7,483.0 506.8,487.3 506.9,483.1 507.0,488.2 507.1,482.8 507.2,488.1 507.3,483.9 507.4,487.9 507.5,484.2 507.6,487.8 507.7,485.4 507.8,487.7 507.9,485.5 508.0,488.0 508.1,485.9 508.2,488.0 508.3,486.4 508.4,488.3 508.5,486.3 508.6,488.6 508.7,487.0 508.8,488.8 508.9,486.8 509.0,488.8 509.1,487.1 509.2,488.6 509.3,487.5 509.4,488.2 509.5,487.5 509.6,488.2 509.7,487.5 509.8,488.1 509.9,487.5 510.0,488.3 510.1,487.5 510.2,488.0 510.3,487.6 510.4,487.8 510.5,487.7 510.6,487.9 510.7,487.8 510.8,488.1 510.9,487.9 511.0,488.4 511.1,487.6 511.2,487.8 511.3,486.8 511.4,488.2 511.5,486.3 511.6,489.1 511.7,485.7 511.8,489.6 511.9,485.2 512.0,490.0 512.1,485.1 512.2,490.1 512.3,484.2 512.4,489.3 512.5,482.8 512.6,489.0 512.7,481.3 512.8,488.8 512.9,480.9 513.0,489.5 513.1,478.9 513.2,489.4 513.3,477.7 513.4,489.3 513.5,473.3 513.6,489.4 513.7,477.9 513.8,489.3 513.9,479.8 514.0,489.2 514.1,480.7 514.2,489.9 514.3,477.9 514.4,489.5 514.5,479.5 514.6,489.4 514.7,478.9 514.8,488.4 514.9,478.8 515.0,488.7 515.1,478.4 515.2,488.9 515.3,480.3 515.4,489.9 515.5,477.7 515.6,489.6 515.7,480.1 515.8,489.3 515.9,480.1 516.0,488.6 516.1,482.2 516.2,488.2 516.3,482.1 516.4,487.9 516.5,483.3 516.6,487.1 516.7,482.3 516.8,487.5 516.9,482.8 517.0,487.9 517.1,483.5 517.2,488.6 517.3,484.5 517.4,488.9 517.5,484.8 517.6,489.1 517.7,485.4 517.8,489.5 517.9,485.9 518.0,489.7 518.1,485.4 518.2,489.8 518.3,485.7 518.4,490.4 518.5,485.5 518.6,490.9 518.7,485.1 518.8,491.4 518.9,485.7 519.0,490.9 519.1,486.4 519.2,491.1 519.3,486.5 519.4,491.3 519.5,486.4 519.6,492.3 519.7,486.9 519.8,492.5 519.9,486.9 520.0,492.6 520.1,487.0 520.2,492.7 520.3,488.2 520.4,492.9 520.5,488.6 520.6,493.0 520.7,488.1 520.8,492.5 520.9,488.8 521.0,492.5 521.1,489.4 521.2,492.3 521.3,489.1 521.4,492.4 521.5,489.0 521.6,492.2 521.7,490.0 521.8,492.0 521.9,489.6 522.0,491.1 522.1,489.7 522.2,490.8 522.3,489.7 522.4,490.7 522.5,489.8 522.6,490.9 522.7,489.9 522.8,490.9 522.9,490.1 523.0,490.9 523.1,489.6 523.2,490.5 523.3,489.5 523.4,490.3 523.5,490.0 523.6,490.5 523.7,490.1 523.8,490.7 523.9,490.5 524.0,490.9 524.1,490.7 524.2,491.1 524.3,491.0 524.4,491.3 524.5,491.2 524.6,491.5 524.7,491.4 524.8,491.5 524.9,491.4 525.0,491.5 525.1,491.2 525.2,491.4 525.3,491.1 525.4,491.8 525.5,491.1 525.6,492.5 525.7,491.1 525.8,492.8 525.9,490.7 526.0,493.1 526.1,490.9 526.2,492.7 526.3,490.6 526.4,492.6 526.5,490.3 526.6,492.7 526.7,489.8 526.8,492.8 526.9,488.9 527.0,492.8 527.1,487.3 527.2,492.6 527.3,486.2 527.4,493.0 527.5,486.1 527.6,492.7 527.7,485.6 527.8,492.5 527.9,485.9 528.0,491.9 528.1,484.0 528.2,491.8 528.3,485.5 528.4,491.7 528.5,484.9 528.6,491.2 528.7,484.4 528.8,490.9 528.9,483.0 529.0,490.8 529.1,482.0 529.2,490.5 529.3,482.8 529.4,490.4 529.5,482.4 529.6,490.3 529.7,482.6 529.8,481.3 529.9,481.9 530.0,490.4 530.1,483.0 530.2,490.3 530.3,483.2 530.4,490.2 530.5,484.3 530.6,490.1 530.7,483.3 530.8,489.7 530.9,484.2 531.0,489.6 531.1,485.0 531.2,489.5 531.3,485.0 531.4,489.4 531.5,485.9 531.6,489.7 531.7,486.5 531.8,489.3 531.9,487.1 532.0,488.6 532.1,487.4 532.2,488.7 532.3,488.1 532.4,489.6 532.5,488.7 532.6,490.6 532.7,488.5 532.8,490.7 532.9,489.0 533.0,490.3 533.1,488.3 533.2,489.8 533.3,487.5 533.4,489.9 533.5,486.9 533.6,489.0 533.7,485.9 533.8,488.1 533.9,484.8 534.0,487.3 534.1,484.4 534.2,486.8 534.3,483.0 534.4,486.6 534.5,482.1 534.6,487.2 534.7,481.7 534.8,487.3 534.9,479.5 535.0,487.4 535.1,479.4 535.2,486.3 535.3,479.3 535.4,486.4 535.5,478.3 535.6,486.6 535.7,475.9 535.8,488.0 535.9,476.9 536.0,488.1 536.1,479.4 536.2,488.2 536.3,477.7 536.4,488.7 536.5,481.0 536.6,488.9 536.7,482.4 536.8,488.9 536.9,482.7 537.0,487.7 537.1,484.4 537.2,487.8 537.3,484.9 537.4,487.9 537.5,485.7 537.6,488.9 537.7,486.4 537.8,489.7 537.9,486.8 538.0,490.1 538.1,487.6 538.2,489.8 538.3,488.2 538.4,490.3 538.5,488.5 538.6,490.2 538.7,489.0 538.8,489.9 538.9,488.8 539.0,489.8 539.1,489.3 539.2,490.3 539.3,489.6 539.4,490.9 539.5,489.8 539.6,491.4 539.7,490.0 539.8,491.5 539.9,490.2 540.0,491.7 540.1,490.1 540.2,491.3 540.3,490.0 540.4,491.5 540.5,490.2 540.6,491.6 540.7,489.9 540.8,491.0 540.9,489.6 541.0,490.4 541.1,488.8 541.2,490.8 541.3,488.8 541.4,491.5 541.5,488.1 541.6,492.1 541.7,487.9 541.8,492.7 541.9,487.8 542.0,493.0 542.1,485.1 542.2,493.0 542.3,485.7 542.4,492.9 542.5,483.7 542.6,492.9 542.7,480.9 542.8,492.9 542.9,481.8 543.0,479.9 543.1,483.8 543.2,491.9 543.3,484.2 543.4,492.0 543.5,485.7 543.6,492.9 543.7,487.3 543.8,493.0 543.9,486.9 544.0,493.1 544.1,488.5 544.2,492.7 544.3,489.2 544.4,492.3 544.5,489.5 544.6,491.8 544.7,489.3 544.8,490.7 544.9,489.3 545.0,490.7 545.1,489.2 545.2,491.3 545.3,489.5 545.4,492.3 545.5,489.1 545.6,492.7 545.7,489.1 545.8,492.7 545.9,488.6 546.0,493.0 546.1,490.0 546.2,493.0 546.3,489.6 546.4,493.0 546.5,490.3 546.6,492.3 546.7,490.7 546.8,492.3 546.9,490.8 547.0,492.5 547.1,490.8 547.2,493.0 547.3,490.9 547.4,493.3 547.5,491.0 547.6,493.5 547.7,491.6 547.8,493.8 547.9,491.6 548.0,493.9 548.1,491.8 548.2,493.9 548.3,491.9 548.4,494.3 548.5,492.0 548.6,494.4 548.7,492.0 548.8,494.5 548.9,492.4 549.0,494.8 549.1,492.0 549.2,494.9 549.3,492.7 549.4,495.0 549.5,492.2 549.6,494.9 549.7,491.6 549.8,495.0 549.9,492.1 550.0,495.1 550.1,492.3 550.2,494.8 550.3,492.5 550.4,494.9 550.5,492.5 550.6,494.8 550.7,492.6 550.8,495.0 550.9,492.8 551.0,495.0 551.1,492.8 551.2,494.9 551.3,492.9 551.4,495.0 551.5,492.9 551.6,494.7 551.7,493.0 551.8,494.4 551.9,493.0 552.0,494.3 552.1,492.5 552.2,494.0 552.3,492.0 552.4,493.8 552.5,491.7 552.6,493.3 552.7,491.6 552.8,493.0 552.9,491.4 553.0,492.6 553.1,491.7 553.2,492.1 553.3,491.4 553.4,491.8 553.5,491.4 553.6,491.8 553.7,491.2 553.8,492.0 553.9,491.2 554.0,492.1 554.1,490.8 554.2,492.1 554.3,490.5 554.4,492.1 554.5,490.2 554.6,492.1 554.7,490.0 554.8,492.1 554.9,489.5 555.0,492.1 555.1,487.7 555.2,491.9 555.3,487.6 555.4,491.7 555.5,487.8 555.6,491.3 555.7,486.9 555.8,491.2 555.9,487.6 556.0,491.1 556.1,487.2 556.2,491.4 556.3,486.6 556.4,491.3 556.5,486.8 556.6,491.3 556.7,486.1 556.8,490.8 556.9,486.1 557.0,490.8 557.1,486.1 557.2,490.7 557.3,486.6 557.4,491.1 557.5,485.4 557.6,485.0 557.7,486.5 557.8,491.1 557.9,487.2 558.0,491.2 558.1,487.6 558.2,491.3 558.3,488.0 558.4,491.4 558.5,489.1 558.6,491.3 558.7,489.2 558.8,491.6 558.9,489.6 559.0,491.9 559.1,490.2 559.2,491.9 559.3,490.9 559.4,492.1 559.5,491.2 559.6,492.4 559.7,491.6 559.8,493.3 559.9,491.6 560.0,493.4 560.1,491.7 560.2,493.6 560.3,491.3 560.4,493.6 560.5,491.1 560.6,493.4 560.7,490.9 560.8,493.1 560.9,490.8 561.0,492.1 561.1,490.1 561.2,491.8 561.3,491.0 561.4,491.6 561.5,491.0 561.6,491.5 561.7,491.4 561.8,491.8 561.9,491.4 562.0,492.2 562.1,491.6 562.2,492.4 562.3,492.1 562.4,492.6 562.5,492.3 562.6,492.8 562.7,492.7 562.8,493.0 562.9,492.9 563.0,493.2 563.1,493.2 563.2,493.4 563.3,493.4 563.4,493.6 563.5,493.1 563.6,493.7 563.7,493.1 563.8,493.7 563.9,493.3 564.0,493.7 564.1,493.3 564.2,493.6 564.3,493.3 564.4,493.5 564.5,493.1 564.6,493.4 564.7,493.2 564.8,493.3 564.9,493.1 565.0,493.2 565.1,493.0 565.2,493.1 565.3,492.9 565.4,492.9 565.5,492.8 565.6,492.8 565.7,492.6 565.8,492.5 565.9,492.4 566.0,492.6 566.1,492.2 566.2,492.7 566.3,492.2 566.4,492.9 566.5,491.9 566.6,492.8 566.7,491.7 566.8,492.8 566.9,491.4 567.0,492.9 567.1,491.0 567.2,492.4 567.3,490.5 567.4,491.9 567.5,489.0 567.6,490.9 567.7,488.5 567.8,490.4 567.9,488.7 568.0,489.8 568.1,488.3 568.2,489.8 568.3,486.2 568.4,489.8 568.5,485.2 568.6,489.7 568.7,485.1 568.8,489.4 568.9,484.8 569.0,489.3 569.1,484.0 569.2,482.8 569.3,483.6 569.4,488.2 569.5,484.2 569.6,488.1 569.7,484.2 569.8,487.9 569.9,484.8 570.0,491.0 570.1,485.6 570.2,490.9 570.3,485.8 570.4,491.0 570.5,486.7 570.6,490.7 570.7,487.5 570.8,490.9 570.9,487.8 571.0,491.2 571.1,488.1 571.2,490.7 571.3,488.0 571.4,490.8 571.5,488.1 571.6,490.9 571.7,488.5 571.8,491.0 571.9,488.8 572.0,491.1 572.1,489.2 572.2,491.3 572.3,489.6 572.4,491.1 572.5,489.8 572.6,491.1 572.7,489.8 572.8,491.0 572.9,490.0 573.0,491.0 573.1,490.4 573.2,490.9 573.3,490.6 573.4,490.8 573.5,490.0 573.6,491.3 573.7,490.2 573.8,491.3 573.9,490.9 574.0,491.6 574.1,491.2 574.2,491.8 574.3,491.5 574.4,491.8 574.5,491.4 574.6,491.8 574.7,491.5 574.8,492.2 574.9,491.4 575.0,492.1 575.1,491.1 575.2,492.0 575.3,491.0 575.4,491.4 575.5,490.9 575.6,491.3 575.7,490.9 575.8,491.3 575.9,490.9 576.0,491.0 576.1,491.2 576.2,491.6 576.3,491.6 576.4,491.9 576.5,491.9 576.6,492.2 576.7,492.2 576.8,492.5 576.9,492.6 577.0,492.8 577.1,492.7 577.2,493.1 577.3,493.0 577.4,493.4 577.5,493.4 577.6,493.5 577.7,493.4 577.8,493.5 577.9,493.4 578.0,493.5 578.1,493.4 578.2,493.5 578.3,493.5 578.4,493.5 578.5,493.5 578.6,493.5 578.7,493.5 578.8,493.5 578.9,493.5 579.0,493.5 579.1,493.5 579.2,493.5 579.3,493.5 579.4,493.5 579.5,493.5 579.6,493.5 579.7,493.5 579.8,493.5 579.9,493.5 580.0,493.4 580.1,493.3 580.2,493.2 580.3,493.2 580.4,493.1 580.5,493.0 580.6,492.9 580.7,492.5 580.8,492.8 580.9,492.3 581.0,492.6 581.1,492.3 581.2,492.4 581.3,492.1 581.4,492.2 581.5,491.8 581.6,492.1 581.7,491.6 581.8,491.9 581.9,491.6 582.0,491.7 582.1,491.3 582.2,491.4 582.3,490.5 582.4,491.1 582.5,490.2 582.6,490.8 582.7,489.5 582.8,490.5 582.9,489.1 583.0,490.2 583.1,489.3 583.2,491.3 583.3,489.0 583.4,491.5 583.5,489.4 583.6,491.7 583.7,488.3 583.8,492.2 583.9,487.7 584.0,492.2 584.1,485.2 584.2,492.1 584.3,484.0 584.4,491.3 584.5,483.1 584.6,491.2 584.7,479.2 584.8,491.2 584.9,483.3 585.0,490.5 585.1,484.3 585.2,490.5 585.3,484.7 585.4,490.5 585.5,485.7 585.6,490.5 585.7,486.3 585.8,490.4 585.9,487.2 586.0,490.0 586.1,487.7 586.2,489.0 586.3,487.9 586.4,488.6 586.5,488.3 586.6,488.6 586.7,488.8 586.8,489.1 586.9,489.3 587.0,489.4 587.1,489.5 587.2,489.6 587.3,489.7 587.4,489.8 587.5,489.9 587.6,490.0 587.7,490.1 587.8,490.2 587.9,490.3 588.0,491.5 588.1,490.7 588.2,491.8 588.3,490.8 588.4,492.0 588.5,491.1 588.6,492.4 588.7,491.3 588.8,492.4 588.9,491.3 589.0,492.4 589.1,491.5 589.2,492.2 589.3,491.5 589.4,492.2 589.5,491.8 589.6,492.2 589.7,492.0 589.8,492.7 589.9,492.3 590.0,492.4 590.1,492.4 590.2,492.6 590.3,492.6 590.4,492.6 590.5,492.6 590.6,492.8 590.7,492.1 590.8,493.2 590.9,491.3 591.0,493.2 591.1,489.3 591.2,493.6 591.3,489.3 591.4,493.7 591.5,488.1 591.6,493.3 591.7,488.3 591.8,487.6 591.9,488.0 592.0,493.5 592.1,489.3 592.2,493.8 592.3,489.4 592.4,493.9 592.5,489.6 592.6,494.0 592.7,491.0 592.8,494.2 592.9,490.8 593.0,494.6 593.1,491.2 593.2,494.9 593.3,491.3 593.4,495.0 593.5,492.3 593.6,494.9 593.7,492.0 593.8,493.6 593.9,492.5 594.0,493.5 594.1,492.4 594.2,493.5 594.3,492.5 594.4,493.5 594.5,492.6 594.6,494.1 594.7,491.7 594.8,494.1 594.9,490.0 595.0,494.0 595.1,486.5 595.2,494.3 595.3,483.6 595.4,494.3 595.5,480.9 595.6,494.3 595.7,484.1 595.8,493.6 595.9,483.7 596.0,493.5 596.1,486.5 596.2,493.5 596.3,486.9 596.4,494.1 596.5,486.8 596.6,493.9 596.7,486.7 596.8,493.5 596.9,488.6 597.0,492.8 597.1,488.8 597.2,492.5 597.3,488.3 597.4,492.1 597.5,489.4 597.6,491.6 597.7,489.6 597.8,491.7 597.9,490.0 598.0,491.7 598.1,490.4 598.2,491.0 598.3,490.3 598.4,491.1 598.5,490.6 598.6,491.3 598.7,491.2 598.8,491.7 598.9,491.6 599.0,492.1 599.1,492.1 599.2,492.4 599.3,492.5 599.4,492.8 599.5,492.8 599.6,493.0 599.7,493.0 599.8,493.4 599.9,493.3 600.0,494.3 600.1,493.4 600.2,494.8 600.3,493.1 600.4,495.3 600.5,493.1 600.6,495.6 600.7,493.6 600.8,495.7 600.9,494.0 601.0,495.4 601.1,494.2 601.2,495.3 601.3,494.2 601.4,495.0 601.5,493.5 601.6,494.7 601.7,492.8 601.8,493.7 601.9,492.8 602.0,493.4 602.1,492.2 602.2,493.1 602.3,491.9 602.4,492.6 602.5,491.5 602.6,492.2 602.7,490.9 602.8,491.2 602.9,489.4 603.0,489.7 603.1,487.9 603.2,488.5 603.3,486.2 603.4,485.4 603.5,484.5 603.6,483.7 603.7,482.8 603.8,480.0 603.9,475.9 604.0,472.0 604.1,468.0 604.2,470.0 604.3,460.8 604.4,466.6 604.5,449.3 604.6,463.3 604.7,440.1 604.8,458.1 604.9,420.2 605.0,458.1 605.1,408.2 605.2,458.1 605.3,404.8 605.4,459.9 605.5,387.7 605.6,459.9 605.7,362.6 605.8,459.9 605.9,390.9 606.0,459.0 606.1,395.6 606.2,459.0 606.3,414.2 606.4,459.0 606.5,412.3 606.6,458.8 606.7,428.6 606.8,459.9 606.9,432.8 607.0,463.5 607.1,441.4 607.2,463.3 607.3,442.8 607.4,467.1 607.5,451.7 607.6,470.9 607.7,454.2 607.8,473.4 607.9,457.8 608.0,476.5 608.1,456.9 608.2,476.6 608.3,460.0 608.4,479.6 608.5,459.4 608.6,479.8 608.7,458.2 608.8,477.3 608.9,456.0 609.0,477.3 609.1,456.7 609.2,477.8 609.3,452.3 609.4,478.2 609.5,452.6 609.6,479.6 609.7,442.3 609.8,480.1 609.9,454.4 610.0,480.5 610.1,459.2 610.2,482.3 610.3,456.9 610.4,482.8 610.5,462.3 610.6,483.2 610.7,467.7 610.8,484.6 610.9,469.6 611.0,484.9 611.1,473.0 611.2,485.0 611.3,476.9 611.4,484.9 611.5,480.4 611.6,484.9 611.7,481.5 611.8,485.4 611.9,483.2 612.0,484.9 612.1,484.0 612.2,485.6 612.3,485.3 612.4,486.3 612.5,486.0 612.6,486.2 612.7,486.0 612.8,487.0 612.9,485.1 613.0,487.2 613.1,483.4 613.2,486.9 613.3,481.2 613.4,485.6 613.5,479.7 613.6,483.9 613.7,477.7 613.8,484.9 613.9,473.5 614.0,484.5 614.1,470.4 614.2,484.2 614.3,470.7 614.4,483.9 614.5,468.8 614.6,464.1 614.7,467.5 614.8,483.7 614.9,463.7 615.0,482.9 615.1,466.6 615.2,482.8 615.3,468.8 615.4,482.4 615.5,468.6 615.6,483.2 615.7,468.4 615.8,482.4 615.9,466.7 616.0,481.5 616.1,468.5 616.2,480.4 616.3,468.5 616.4,479.7 616.5,465.8 616.6,479.1 616.7,465.1 616.8,478.0 616.9,465.2 617.0,477.5 617.1,466.3 617.2,476.9 617.3,462.4 617.4,476.7 617.5,463.6 617.6,476.0 617.7,463.5 617.8,475.3 617.9,464.8 618.0,475.4 618.1,464.6 618.2,474.4 618.3,465.4 618.4,473.3 618.5,465.6 618.6,472.9 618.7,463.1 618.8,471.2 618.9,463.3 619.0,469.2 619.1,462.7 619.2,462.3 619.3,460.6 619.4,460.7 619.5,459.5 619.6,459.4 619.7,458.4 619.8,459.2 619.9,456.6 620.0,459.5 620.1,454.6 620.2,460.5 620.3,453.0 620.4,459.2 620.5,448.2 620.6,459.5 620.7,445.5 620.8,459.8 620.9,443.0 621.0,462.9 621.1,440.4 621.2,464.4 621.3,432.4 621.4,464.7 621.5,429.6 621.6,467.6 621.7,431.1 621.8,420.8 621.9,430.7 622.0,468.2 622.1,429.2 622.2,467.9 622.3,433.8 622.4,468.2 622.5,432.6 622.6,468.5 622.7,437.0 622.8,470.9 622.9,438.1 623.0,471.7 623.1,444.0 623.2,473.0 623.3,440.2 623.4,474.1 623.5,443.9 623.6,474.6 623.7,450.0 623.8,475.1 623.9,449.7 624.0,475.4 624.1,448.3 624.2,476.7 624.3,447.8 624.4,477.8 624.5,452.4 624.6,477.0 624.7,451.7 624.8,477.2 624.9,450.2 625.0,476.4 625.1,452.7 625.2,475.5 625.3,446.3 625.4,442.3 625.5,452.8 625.6,474.4 625.7,454.4 625.8,472.6 625.9,459.2 626.0,472.3 626.1,463.3 626.2,471.9 626.3,467.1 626.4,470.7 626.5,469.0 626.6,471.8 626.7,471.8 626.8,473.1 626.9,474.5 627.0,475.9 627.1,477.3 627.2,478.0 627.3,478.0 627.4,478.0 627.5,478.1 627.6,478.5 627.7,477.0 627.8,479.2 627.9,473.7 628.0,478.2 628.1,470.5 628.2,476.2 628.3,465.2 628.4,475.0 628.5,462.0 628.6,474.2 628.7,461.6 628.8,473.3 628.9,460.7 629.0,472.6 629.1,459.9 629.2,471.8 629.3,458.5 629.4,473.5 629.5,459.6 629.6,472.7 629.7,459.2 629.8,472.0 629.9,458.5 630.0,471.7 630.1,454.3 630.2,470.4 630.3,454.4 630.4,469.0 630.5,456.5 630.6,465.4 630.7,452.4 630.8,463.8 630.9,455.2 631.0,462.2 631.1,454.2 631.2,462.2 631.3,455.5 631.4,462.7 631.5,455.0 631.6,463.3 631.7,455.0 631.8,464.2 631.9,454.8 632.0,465.0 632.1,455.2 632.2,465.2 632.3,456.9 632.4,464.6 632.5,455.3 632.6,463.4 632.7,455.5 632.8,462.0 632.9,454.0 633.0,461.0 633.1,454.4 633.2,459.3 633.3,453.3 633.4,457.4 633.5,452.8 633.6,456.7 633.7,451.7 633.8,456.4 633.9,449.3 634.0,456.1 634.1,448.2 634.2,457.9 634.3,447.6 634.4,441.5 634.5,444.0 634.6,457.5 634.7,445.9 634.8,455.7 634.9,447.7 635.0,455.6 635.1,449.1 635.2,455.4 635.3,449.9 635.4,453.6 635.5,449.4 635.6,454.4 635.7,449.5 635.8,455.6 635.9,449.1 636.0,456.1 636.1,449.6 636.2,457.2 636.3,450.4 636.4,457.9 636.5,451.0 636.6,457.3 636.7,450.7 636.8,456.5 636.9,450.4 637.0,455.7 637.1,450.6 637.2,457.6 637.3,449.5 637.4,457.2 637.5,449.9 637.6,456.5 637.7,449.2 637.8,453.7 637.9,447.9 638.0,453.1 638.1,445.6 638.2,453.0 638.3,446.0 638.4,454.3 638.5,446.7 638.6,454.3 638.7,444.9 638.8,454.3 638.9,444.9 639.0,454.3 639.1,443.5 639.2,454.3 639.3,446.4 639.4,455.4 639.5,449.0 639.6,456.9 639.7,449.7 639.8,456.1 639.9,448.6 640.0,454.8 640.1,449.0 640.2,453.3 640.3,449.5 640.4,452.4 640.5,446.8 640.6,451.6 640.7,445.4 640.8,451.9 640.9,441.8 641.0,451.6 641.1,438.7 641.2,452.5 641.3,438.5 641.4,453.1 641.5,436.9 641.6,453.1 641.7,434.2 641.8,453.1 641.9,430.8 642.0,420.8 642.1,428.6 642.2,453.3 642.3,429.3 642.4,453.3 642.5,434.4 642.6,454.7 642.7,436.3 642.8,454.7 642.9,438.7 643.0,454.7 643.1,436.6 643.2,453.4 643.3,435.4 643.4,454.4 643.5,434.1 643.6,455.5 643.7,435.2 643.8,455.4 643.9,439.0 644.0,454.9 644.1,441.7 644.2,454.4 644.3,445.9 644.4,457.2 644.5,448.8 644.6,456.9 644.7,450.8 644.8,456.5 644.9,452.3 645.0,456.8 645.1,453.3 645.2,457.7 645.3,455.9 645.4,458.6 645.5,457.6 645.6,459.9 645.7,459.1 645.8,461.5 645.9,459.7 646.0,462.9 646.1,460.9 646.2,464.5 646.3,460.7 646.4,465.9 646.5,461.6 646.6,467.3 646.7,462.1 646.8,466.8 646.9,463.1 647.0,465.5 647.1,462.9 647.2,464.3 647.3,462.7 647.4,465.1 647.5,462.2 647.6,464.3 647.7,460.6 647.8,464.1 647.9,460.3 648.0,461.8 648.1,458.7 648.2,461.6 648.3,456.9 648.4,462.2 648.5,454.0 648.6,464.7 648.7,457.1 648.8,465.3 648.9,456.5 649.0,466.4 649.1,458.6 649.2,466.2 649.3,458.5 649.4,467.5 649.5,457.3 649.6,468.7 649.7,458.3 649.8,468.4 649.9,458.2 650.0,468.4 650.1,458.2 650.2,468.6 650.3,457.5 650.4,470.0 650.5,457.1 650.6,470.1 650.7,458.2 650.8,470.2 650.9,452.4 651.0,469.2 651.1,453.5 651.2,469.3 651.3,456.4 651.4,469.4 651.5,458.2 651.6,468.4 651.7,458.7 651.8,468.5 651.9,458.0 652.0,468.2 652.1,457.5 652.2,467.2 652.3,457.8 652.4,466.4 652.5,458.6 652.6,465.7 652.7,459.8 652.8,465.5 652.9,460.5 653.0,465.3 653.1,461.9 653.2,465.5 653.3,463.4 653.4,467.5 653.5,463.6 653.6,467.7 653.7,465.0 653.8,467.9 653.9,465.4 654.0,467.9 654.1,465.7 654.2,468.8 654.3,463.4 654.4,469.8 654.5,463.6 654.6,470.6 654.7,465.1 654.8,471.6 654.9,464.3 655.0,472.1 655.1,464.3 655.2,472.7 655.3,464.0 655.4,472.5 655.5,464.7 655.6,472.2 655.7,466.0 655.8,471.1 655.9,465.2 656.0,471.0 656.1,465.5 656.2,471.0 656.3,466.6 656.4,471.4 656.5,465.3 656.6,465.8 656.7,466.5 656.8,471.3 656.9,467.9 657.0,471.3 657.1,467.4 657.2,471.3 657.3,467.5 657.4,471.2 657.5,468.5 657.6,472.2 657.7,469.5 657.8,472.7 657.9,470.5 658.0,473.2 658.1,470.9 658.2,474.5 658.3,472.0 658.4,475.1 658.5,472.4 658.6,475.6 658.7,471.4 658.8,475.3 658.9,471.3 659.0,475.8 659.1,473.1 659.2,476.1 659.3,473.4 659.4,475.4 659.5,473.3 659.6,475.8 659.7,474.0 659.8,476.1 659.9,475.0 660.0,477.0 660.1,475.4 660.2,477.4 660.3,475.9 660.4,477.6 660.5,476.1 660.6,478.8 660.7,476.7 660.8,479.1 660.9,476.6 661.0,479.4 661.1,476.7 661.2,478.5 661.3,476.3 661.4,478.5 661.5,476.5 661.6,478.4 661.7,476.1 661.8,478.9 661.9,476.7 662.0,478.8 662.1,476.4 662.2,478.7 662.3,475.9 662.4,478.9 662.5,476.2 662.6,478.8 662.7,475.1 662.8,478.7 662.9,475.4 663.0,477.1 663.1,474.9 663.2,476.7 663.3,475.0 663.4,476.2 663.5,470.9 663.6,475.9 663.7,471.6 663.8,475.5 663.9,472.0 664.0,475.1 664.1,472.3 664.2,474.9 664.3,472.1 664.4,474.5 664.5,471.6 664.6,474.0 664.7,472.1 664.8,474.5 664.9,472.0 665.0,474.1 665.1,471.5 665.2,473.6 665.3,470.9 665.4,474.9 665.5,470.6 665.6,475.8 665.7,470.0 665.8,476.7 665.9,468.3 666.0,476.1 666.1,468.4 666.2,476.1 666.3,468.7 666.4,476.1 666.5,470.0 666.6,475.7 666.7,468.6 666.8,475.3 666.9,468.9 667.0,474.7 667.1,469.3 667.2,474.5 667.3,469.0 667.4,474.1 667.5,468.3 667.6,473.6 667.7,468.2 667.8,473.7 667.9,469.1 668.0,473.4 668.1,467.8 668.2,473.1 668.3,468.2 668.4,471.6 668.5,468.0 668.6,471.2 668.7,463.6 668.8,470.7 668.9,464.4 669.0,470.4 669.1,464.7 669.2,469.9 669.3,465.0" fill="none" stroke="#4A86BE" stroke-width="2.5" stroke-linejoin="round" stroke-linecap="butt"/><circle cx="384.64" cy="486.40" r="3.3" fill="#E8241F"/><circle cx="388.30" cy="493.72" r="3.3" fill="#E8241F"/><circle cx="392.69" cy="490.51" r="3.3" fill="#E8241F"/><circle cx="393.43" cy="486.84" r="3.3" fill="#E8241F"/><circle cx="390.50" cy="482.16" r="3.3" fill="#E8241F"/><circle cx="391.96" cy="478.06" r="3.3" fill="#E8241F"/><circle cx="396.06" cy="480.70" r="3.3" fill="#E8241F"/><circle cx="391.96" cy="466.64" r="3.3" fill="#E8241F"/><circle cx="397.09" cy="471.03" r="3.3" fill="#E8241F"/><circle cx="400.75" cy="466.79" r="3.3" fill="#E8241F"/><circle cx="411.87" cy="403.68" r="3.3" fill="#E8241F"/><circle cx="419.49" cy="439.99" r="3.3" fill="#E8241F"/><circle cx="421.54" cy="458.73" r="3.3" fill="#E8241F"/><circle cx="419.05" cy="463.12" r="3.3" fill="#E8241F"/><circle cx="422.42" cy="469.27" r="3.3" fill="#E8241F"/><circle cx="432.66" cy="488.60" r="3.3" fill="#E8241F"/><circle cx="444.96" cy="486.11" r="3.3" fill="#E8241F"/><circle cx="463.27" cy="458.29" r="3.3" fill="#E8241F"/><circle cx="464.88" cy="467.08" r="3.3" fill="#E8241F"/><circle cx="466.93" cy="473.66" r="3.3" fill="#E8241F"/><circle cx="483.43" cy="482.48" r="3.3" fill="#E8241F"/><circle cx="483.43" cy="486.42" r="3.3" fill="#E8241F"/><circle cx="488.25" cy="481.75" r="3.3" fill="#E8241F"/><circle cx="490.44" cy="481.61" r="3.3" fill="#E8241F"/><circle cx="496.57" cy="487.45" r="3.3" fill="#E8241F"/><circle cx="503.28" cy="477.23" r="3.3" fill="#E8241F"/><circle cx="506.79" cy="483.21" r="3.3" fill="#E8241F"/><circle cx="518.91" cy="484.23" r="3.3" fill="#E8241F"/><circle cx="520.37" cy="485.69" r="3.3" fill="#E8241F"/><circle cx="528.10" cy="481.02" r="3.3" fill="#E8241F"/><circle cx="530.29" cy="480.58" r="3.3" fill="#E8241F"/><circle cx="533.50" cy="467.44" r="3.3" fill="#E8241F"/><circle cx="550.29" cy="491.97" r="3.3" fill="#E8241F"/><circle cx="555.11" cy="491.24" r="3.3" fill="#E8241F"/><circle cx="557.01" cy="488.32" r="3.3" fill="#E8241F"/><circle cx="568.54" cy="491.24" r="3.3" fill="#E8241F"/><circle cx="570.34" cy="490.15" r="3.3" fill="#E8241F"/><circle cx="574.20" cy="492.66" r="3.3" fill="#E8241F"/><circle cx="581.42" cy="488.46" r="3.3" fill="#E8241F"/><circle cx="584.77" cy="471.17" r="3.3" fill="#E8241F"/><circle cx="585.45" cy="474.20" r="3.3" fill="#E8241F"/><circle cx="586.79" cy="484.27" r="3.3" fill="#E8241F"/><circle cx="588.80" cy="486.79" r="3.3" fill="#E8241F"/><circle cx="593.17" cy="488.46" r="3.3" fill="#E8241F"/><circle cx="602.74" cy="490.65" r="3.3" fill="#E8241F"/><circle cx="603.91" cy="485.11" r="3.3" fill="#E8241F"/><circle cx="603.58" cy="477.55" r="3.3" fill="#E8241F"/><circle cx="604.42" cy="467.82" r="3.3" fill="#E8241F"/><circle cx="607.94" cy="470.00" r="3.3" fill="#E8241F"/><circle cx="608.28" cy="461.94" r="3.3" fill="#E8241F"/><circle cx="611.97" cy="477.05" r="3.3" fill="#E8241F"/><circle cx="613.98" cy="473.86" r="3.3" fill="#E8241F"/><circle cx="614.99" cy="471.68" r="3.3" fill="#E8241F"/><circle cx="616.34" cy="447.34" r="3.3" fill="#E8241F"/><circle cx="617.34" cy="451.53" r="3.3" fill="#E8241F"/><circle cx="618.69" cy="463.79" r="3.3" fill="#E8241F"/><circle cx="637.32" cy="449.52" r="3.3" fill="#E8241F"/><circle cx="650.58" cy="445.32" r="3.3" fill="#E8241F"/><circle cx="667.71" cy="456.57" r="3.3" fill="#E8241F"/><circle cx="669.39" cy="464.96" r="3.3" fill="#E8241F"/><circle cx="666.03" cy="468.32" r="3.3" fill="#E8241F"/><text x="370.2" y="339.6" font-size="15.2" fill="#000">(D) Short: GJRGARCH−st</text></g>
<g><line x1="37.7" x2="335.8" y1="693.45" y2="693.45" stroke="#ebebeb" stroke-width="0.85"/><line x1="37.7" x2="335.8" y1="751.15" y2="751.15" stroke="#ebebeb" stroke-width="0.85"/><line x1="37.7" x2="335.8" y1="808.85" y2="808.85" stroke="#ebebeb" stroke-width="0.85"/><line x1="37.7" x2="335.8" y1="866.55" y2="866.55" stroke="#ebebeb" stroke-width="0.85"/><line x1="37.7" x2="335.8" y1="924.25" y2="924.25" stroke="#ebebeb" stroke-width="0.85"/><line x1="56.40" x2="56.40" y1="677.1" y2="939.3" stroke="#ebebeb" stroke-width="0.85"/><line x1="137.00" x2="137.00" y1="677.1" y2="939.3" stroke="#ebebeb" stroke-width="0.85"/><line x1="217.60" x2="217.60" y1="677.1" y2="939.3" stroke="#ebebeb" stroke-width="0.85"/><line x1="298.20" x2="298.20" y1="677.1" y2="939.3" stroke="#ebebeb" stroke-width="0.85"/><line x1="37.7" x2="335.8" y1="722.30" y2="722.30" stroke="#ebebeb" stroke-width="1.6"/><text x="31.7" y="726.0" font-size="10.5" fill="#4d4d4d" text-anchor="end">10</text><line x1="37.7" x2="335.8" y1="780.00" y2="780.00" stroke="#ebebeb" stroke-width="1.6"/><text x="31.7" y="783.7" font-size="10.5" fill="#4d4d4d" text-anchor="end">0</text><line x1="37.7" x2="335.8" y1="837.70" y2="837.70" stroke="#ebebeb" stroke-width="1.6"/><text x="31.7" y="841.4" font-size="10.5" fill="#4d4d4d" text-anchor="end">−10</text><line x1="37.7" x2="335.8" y1="895.40" y2="895.40" stroke="#ebebeb" stroke-width="1.6"/><text x="31.7" y="899.1" font-size="10.5" fill="#4d4d4d" text-anchor="end">−20</text><line x1="96.70" x2="96.70" y1="677.1" y2="939.3" stroke="#ebebeb" stroke-width="1.6"/><text x="96.7" y="952.9" font-size="10.5" fill="#4d4d4d" text-anchor="middle">2010</text><line x1="177.30" x2="177.30" y1="677.1" y2="939.3" stroke="#ebebeb" stroke-width="1.6"/><text x="177.3" y="952.9" font-size="10.5" fill="#4d4d4d" text-anchor="middle">2015</text><line x1="257.90" x2="257.90" y1="677.1" y2="939.3" stroke="#ebebeb" stroke-width="1.6"/><text x="257.9" y="952.9" font-size="10.5" fill="#4d4d4d" text-anchor="middle">2020</text><polyline points="51.3,759.8 51.5,802.6 51.7,767.5 51.8,785.2 52.0,772.5 52.2,786.7 52.3,769.1 52.5,785.4 52.7,771.1 52.8,784.3 53.0,774.5 53.2,788.0 53.4,770.0 53.5,790.4 53.7,771.5 53.9,796.4 54.0,769.8 54.2,796.5 54.4,767.3 54.5,788.8 54.7,766.2 54.9,791.9 55.0,768.7 55.2,786.8 55.4,768.7 55.6,788.1 55.7,761.5 55.9,788.6 56.1,758.9 56.2,792.1 56.4,755.8 56.6,794.5 56.7,767.1 56.9,792.7 57.1,760.7 57.2,794.9 57.4,760.8 57.6,803.0 57.8,745.2 57.9,801.4 58.1,748.0 58.3,809.1 58.4,742.7 58.6,807.3 58.8,763.0 58.9,795.2 59.1,766.2 59.3,795.8 59.4,760.2 59.6,794.2 59.8,768.0 60.0,787.7 60.1,764.4 60.3,788.0 60.5,763.4 60.6,793.0 60.8,770.6 61.0,803.6 61.1,764.9 61.3,803.2 61.5,755.1 61.6,813.3 61.8,759.8 62.0,810.2 62.2,761.3 62.3,826.4 62.5,756.8 62.7,798.2 62.8,753.5 63.0,806.9 63.2,746.5 63.3,801.3 63.5,748.1 63.7,803.1 63.8,759.1 64.0,807.5 64.2,758.3 64.4,817.4 64.5,758.4 64.7,820.3 64.9,767.2 65.0,803.4 65.2,764.6 65.4,803.2 65.5,764.9 65.7,804.9 65.9,744.9 66.0,799.5 66.2,748.4 66.4,794.7 66.6,743.1 66.7,804.3 66.9,746.2 67.1,799.1 67.2,761.6 67.4,791.5 67.6,753.4 67.7,801.6 67.9,751.3 68.1,801.7 68.2,764.4 68.4,793.6 68.6,763.8 68.8,795.1 68.9,766.8 69.1,789.8 69.3,757.0 69.4,792.2 69.6,758.5 69.8,787.2 69.9,766.6 70.1,793.8 70.3,771.3 70.4,794.7 70.6,763.4 70.8,791.4 71.0,764.4 71.1,797.1 71.3,763.5 71.5,799.7 71.6,762.7 71.8,806.2 72.0,762.7 72.1,801.0 72.3,770.7 72.5,812.1 72.6,766.2 72.8,796.5 73.0,763.0 73.2,799.7 73.3,760.0 73.5,795.9 73.7,751.6 73.8,792.5 74.0,765.2 74.2,801.7 74.3,764.5 74.5,800.6 74.7,763.4 74.8,810.8 75.0,764.2 75.2,811.4 75.4,748.5 75.5,812.5 75.7,734.2 75.9,824.5 76.0,745.2 76.2,816.5 76.4,743.5 76.5,840.0 76.7,705.7 76.9,857.0 77.0,691.0 77.2,838.0 77.4,688.3 77.6,832.8 77.7,701.1 77.9,853.8 78.1,747.0 78.2,828.0 78.4,726.6 78.6,863.2 78.7,739.4 78.9,845.2 79.1,743.1 79.3,864.2 79.4,707.0 79.6,813.3 79.8,739.8 79.9,827.1 80.1,729.2 80.3,795.4 80.4,756.3 80.6,810.1 80.8,750.7 80.9,814.7 81.1,764.5 81.3,814.6 81.5,766.0 81.6,822.5 81.8,763.9 82.0,812.0 82.1,760.8 82.3,820.4 82.5,763.3 82.6,827.3 82.8,756.9 83.0,805.1 83.1,734.9 83.3,811.8 83.5,735.7 83.7,817.9 83.8,742.3 84.0,807.6 84.2,732.0 84.3,808.9 84.5,719.7 84.7,823.8 84.8,756.6 85.0,808.8 85.2,745.6 85.3,811.8 85.5,752.6 85.7,810.2 85.9,749.8 86.0,826.4 86.2,741.1 86.4,796.1 86.5,736.1 86.7,811.4 86.9,745.6 87.0,795.4 87.2,757.1 87.4,797.8 87.5,745.0 87.7,802.0 87.9,748.4 88.1,816.0 88.2,769.7 88.4,801.4 88.6,763.4 88.7,800.7 88.9,755.1 89.1,808.8 89.2,750.7 89.4,788.7 89.6,760.6 89.7,790.5 89.9,768.2 90.1,795.8 90.3,770.8 90.4,807.3 90.6,767.2 90.8,809.5 90.9,772.5 91.1,799.7 91.3,757.9 91.4,799.8 91.6,753.2 91.8,801.0 91.9,760.6 92.1,798.5 92.3,773.2 92.5,810.1 92.6,770.7 92.8,797.9 93.0,767.8 93.1,813.1 93.3,768.8 93.5,801.7 93.6,764.1 93.8,816.6 94.0,755.1 94.1,802.5 94.3,759.6 94.5,804.9 94.7,757.5 94.8,796.8 95.0,768.5 95.2,784.3 95.3,759.6 95.5,786.7 95.7,761.7 95.8,787.6 96.0,766.2 96.2,788.4 96.3,767.3 96.5,791.9 96.7,767.4 96.9,808.9 97.0,762.1 97.2,810.1 97.4,769.7 97.5,795.1 97.7,766.3 97.9,815.7 98.0,766.0 98.2,817.9 98.4,765.9 98.5,797.9 98.7,766.3 98.9,804.9 99.1,766.4 99.2,795.2 99.4,773.2 99.6,793.9 99.7,773.5 99.9,795.1 100.1,774.1 100.2,788.5 100.4,772.2 100.6,793.2 100.7,774.8 100.9,788.1 101.1,771.8 101.3,794.6 101.4,764.6 101.6,798.4 101.8,770.1 101.9,796.7 102.1,760.2 102.3,808.9 102.4,747.9 102.6,810.4 102.8,742.1 102.9,809.2 103.1,744.0 103.3,807.4 103.5,755.9 103.6,808.8 103.8,764.5 104.0,805.2 104.1,749.4 104.3,790.8 104.5,767.1 104.6,798.4 104.8,763.5 105.0,793.5 105.1,760.2 105.3,797.8 105.5,766.0 105.7,797.2 105.8,771.7 106.0,802.0 106.2,773.5 106.3,812.7 106.5,769.7 106.7,800.2 106.8,772.4 107.0,801.7 107.2,770.8 107.3,794.6 107.5,767.8 107.7,787.1 107.9,761.4 108.0,789.3 108.2,759.6 108.4,785.4 108.5,761.7 108.7,798.9 108.9,768.4 109.0,799.7 109.2,767.2 109.4,793.8 109.5,773.5 109.7,795.1 109.9,767.5 110.1,794.1 110.2,771.9 110.4,795.4 110.6,764.6 110.7,804.3 110.9,770.3 111.1,788.1 111.2,772.7 111.4,790.6 111.6,772.4 111.7,789.4 111.9,769.7 112.1,782.4 112.3,774.6 112.4,784.7 112.6,774.6 112.8,782.7 112.9,770.3 113.1,787.1 113.3,770.5 113.4,793.2 113.6,771.0 113.8,790.3 113.9,769.4 114.1,799.1 114.3,770.7 114.5,792.5 114.6,765.9 114.8,793.8 115.0,768.4 115.1,796.2 115.3,773.8 115.5,800.4 115.6,774.6 115.8,787.0 116.0,771.0 116.1,790.6 116.3,774.9 116.5,788.2 116.7,770.6 116.8,789.1 117.0,769.1 117.2,793.2 117.3,774.1 117.5,787.8 117.7,774.2 117.8,792.7 118.0,772.5 118.2,795.8 118.3,771.6 118.5,790.9 118.7,772.4 118.9,795.5 119.0,770.1 119.2,793.1 119.4,769.6 119.5,799.1 119.7,766.2 119.9,792.9 120.0,770.2 120.2,795.1 120.4,768.3 120.5,791.1 120.7,772.0 120.9,797.1 121.1,769.1 121.2,802.3 121.4,767.2 121.6,803.5 121.7,770.9 121.9,823.8 122.1,746.3 122.2,835.9 122.4,734.2 122.6,839.4 122.7,732.7 122.9,798.0 123.1,735.1 123.3,806.2 123.4,744.1 123.6,794.9 123.8,739.9 123.9,803.6 124.1,750.7 124.3,793.3 124.4,762.0 124.6,819.7 124.8,760.2 125.0,827.7 125.1,748.2 125.3,822.8 125.5,746.3 125.6,806.2 125.8,750.8 126.0,811.4 126.1,745.2 126.3,797.0 126.5,735.5 126.6,810.8 126.8,755.7 127.0,795.5 127.2,762.5 127.3,802.7 127.5,749.4 127.7,805.6 127.8,743.1 128.0,793.4 128.2,759.9 128.3,791.2 128.5,758.4 128.7,800.4 128.8,757.0 129.0,792.0 129.2,764.0 129.4,796.9 129.5,748.8 129.7,790.3 129.9,751.2 130.0,798.4 130.2,766.1 130.4,801.1 130.5,763.4 130.7,803.0 130.9,763.8 131.0,798.1 131.2,767.9 131.4,788.9 131.6,766.5 131.7,795.1 131.9,769.8 132.1,797.1 132.2,764.1 132.4,789.5 132.6,763.8 132.7,795.3 132.9,761.5 133.1,795.8 133.2,770.2 133.4,790.5 133.6,771.9 133.8,796.2 133.9,773.6 134.1,797.8 134.3,769.7 134.4,790.5 134.6,770.4 134.8,792.2 134.9,766.5 135.1,795.1 135.3,764.6 135.4,790.6 135.6,769.5 135.8,793.3 136.0,768.3 136.1,793.5 136.3,762.7 136.5,799.1 136.6,770.6 136.8,794.3 137.0,762.7 137.1,799.1 137.3,763.0 137.5,793.5 137.6,767.7 137.8,791.4 138.0,768.1 138.2,799.7 138.3,765.9 138.5,797.3 138.7,768.2 138.8,793.5 139.0,769.5 139.2,794.6 139.3,765.4 139.5,797.8 139.7,771.2 139.8,789.7 140.0,764.6 140.2,793.2 140.4,765.3 140.5,795.1 140.7,771.2 140.9,790.9 141.0,770.1 141.2,789.8 141.4,768.4 141.5,790.4 141.7,773.1 141.9,796.5 142.0,770.8 142.2,790.8 142.4,771.7 142.6,795.0 142.7,766.8 142.9,797.8 143.1,766.5 143.2,791.5 143.4,768.5 143.6,784.5 143.7,768.1 143.9,785.1 144.1,771.9 144.2,786.4 144.4,767.2 144.6,786.0 144.8,773.4 144.9,787.4 145.1,763.4 145.3,789.9 145.4,756.0 145.6,787.7 145.8,771.7 145.9,788.7 146.1,769.2 146.3,793.2 146.4,767.8 146.6,791.6 146.8,767.9 147.0,800.4 147.1,770.0 147.3,796.3 147.5,766.5 147.6,787.8 147.8,767.6 148.0,790.6 148.1,770.6 148.3,788.2 148.5,772.4 148.6,799.2 148.8,769.7 149.0,802.3 149.2,770.4 149.3,801.5 149.5,759.0 149.7,810.8 149.8,755.8 150.0,810.2 150.2,768.7 150.3,788.5 150.5,770.5 150.7,793.8 150.8,764.6 151.0,791.9 151.2,759.7 151.4,803.1 151.5,755.8 151.7,803.6 151.9,757.5 152.0,794.7 152.2,772.0 152.4,795.3 152.5,766.5 152.7,804.3 152.9,772.0 153.0,800.7 153.2,763.4 153.4,791.9 153.6,762.1 153.7,787.9 153.9,763.3 154.1,792.5 154.2,772.4 154.4,788.9 154.6,768.4 154.7,799.9 154.9,773.7 155.1,803.0 155.2,773.0 155.4,801.1 155.6,771.7 155.8,787.6 155.9,767.2 156.1,788.9 156.3,770.8 156.4,791.2 156.6,774.5 156.8,787.5 156.9,769.1 157.1,790.9 157.3,765.6 157.4,795.1 157.6,768.2 157.8,792.0 158.0,760.6 158.1,806.9 158.3,766.5 158.5,801.3 158.6,768.2 158.8,807.5 159.0,758.9 159.1,797.5 159.3,762.5 159.5,788.8 159.6,771.5 159.8,795.8 160.0,771.4 160.2,788.7 160.3,771.0 160.5,797.9 160.7,768.6 160.8,796.3 161.0,765.4 161.2,798.4 161.3,763.4 161.5,797.4 161.7,765.0 161.8,802.2 162.0,763.8 162.2,806.9 162.4,762.1 162.5,797.0 162.7,766.5 162.9,790.4 163.0,764.6 163.2,790.6 163.4,767.2 163.5,788.1 163.7,764.4 163.9,787.9 164.0,761.1 164.2,805.1 164.4,752.0 164.6,804.5 164.7,767.5 164.9,809.2 165.1,770.5 165.2,804.0 165.4,764.0 165.6,798.2 165.7,770.9 165.9,802.3 166.1,765.5 166.2,798.5 166.4,764.6 166.6,790.7 166.8,765.2 166.9,790.9 167.1,764.7 167.3,799.1 167.4,757.0 167.6,789.1 167.8,761.7 167.9,790.6 168.1,767.1 168.3,788.7 168.5,763.4 168.6,790.6 168.8,768.3 169.0,788.5 169.1,762.1 169.3,794.5 169.5,770.4 169.6,792.4 169.8,771.0 170.0,792.2 170.1,769.7 170.3,795.8 170.5,771.0 170.7,790.7 170.8,772.7 171.0,792.7 171.2,769.2 171.3,789.6 171.5,768.4 171.7,798.4 171.8,771.3 172.0,791.9 172.2,772.0 172.3,792.9 172.5,774.0 172.7,799.1 172.9,771.0 173.0,793.4 173.2,773.0 173.4,804.4 173.5,769.6 173.7,807.5 173.9,764.6 174.0,805.4 174.2,771.5 174.4,787.6 174.5,767.7 174.7,791.9 174.9,757.7 175.1,786.6 175.2,766.3 175.4,803.2 175.6,764.6 175.7,806.9 175.9,770.9 176.1,796.0 176.2,767.3 176.4,796.0 176.6,762.1 176.7,798.4 176.9,763.8 177.1,796.1 177.3,766.8 177.4,789.8 177.6,763.4 177.8,792.0 177.9,770.1 178.1,797.1 178.3,763.6 178.4,785.2 178.6,767.1 178.8,784.2 178.9,758.6 179.1,786.7 179.3,760.9 179.5,788.1 179.6,761.4 179.8,794.9 180.0,759.8 180.1,795.8 180.3,759.3 180.5,791.8 180.6,763.9 180.8,797.1 181.0,771.8 181.1,794.0 181.3,769.7 181.5,796.3 181.7,771.3 181.8,790.7 182.0,770.4 182.2,796.5 182.3,772.4 182.5,793.2 182.7,769.7 182.8,793.1 183.0,776.1 183.2,795.1 183.3,773.1 183.5,792.6 183.7,772.2 183.9,788.4 184.0,770.7 184.2,791.2 184.4,767.8 184.5,797.7 184.7,772.7 184.9,798.6 185.0,776.0 185.2,804.3 185.4,774.2 185.5,790.3 185.7,772.2 185.9,789.1 186.1,769.2 186.2,792.5 186.4,766.4 186.6,791.9 186.7,766.2 186.9,793.3 187.1,767.6 187.2,803.4 187.4,759.8 187.6,792.3 187.7,755.1 187.9,795.2 188.1,764.7 188.3,792.0 188.4,760.9 188.6,802.3 188.8,755.6 188.9,794.8 189.1,756.4 189.3,793.4 189.4,765.7 189.6,795.8 189.8,754.8 189.9,794.7 190.1,767.7 190.3,801.5 190.5,766.8 190.6,802.3 190.8,764.6 191.0,799.4 191.1,771.0 191.3,799.6 191.5,767.0 191.6,800.2 191.8,766.5 192.0,801.7 192.1,770.3 192.3,789.3 192.5,752.8 192.7,790.6 192.8,759.7 193.0,785.5 193.2,743.4 193.3,800.6 193.5,770.8 193.7,818.2 193.8,764.6 194.0,802.2 194.2,764.5 194.3,797.3 194.5,759.3 194.7,800.4 194.9,764.1 195.0,794.5 195.2,766.3 195.4,786.5 195.5,763.4 195.7,789.9 195.9,766.7 196.0,788.7 196.2,761.8 196.4,791.1 196.5,769.3 196.7,795.0 196.9,771.1 197.1,795.8 197.2,773.0 197.4,790.8 197.6,769.7 197.7,790.1 197.9,769.8 198.1,793.2 198.2,772.1 198.4,786.6 198.6,767.2 198.7,787.2 198.9,771.4 199.1,791.9 199.3,774.5 199.4,788.7 199.6,770.3 199.8,788.3 199.9,774.2 200.1,788.1 200.3,771.4 200.4,793.8 200.6,767.8 200.8,795.2 200.9,773.7 201.1,794.4 201.3,767.7 201.5,806.0 201.6,758.9 201.8,786.9 202.0,774.2 202.1,789.3 202.3,774.4 202.5,786.7 202.6,769.1 202.8,791.1 203.0,770.7 203.1,788.3 203.3,773.2 203.5,795.8 203.7,773.2 203.8,788.4 204.0,770.3 204.2,796.2 204.3,774.1 204.5,796.5 204.7,773.3 204.8,792.1 205.0,772.9 205.2,789.6 205.3,767.8 205.5,791.9 205.7,771.8 205.9,786.7 206.0,774.9 206.2,790.0 206.4,773.8 206.5,790.4 206.7,770.3 206.9,791.6 207.0,772.9 207.2,791.2 207.4,771.7 207.5,786.6 207.7,767.2 207.9,790.6 208.1,771.9 208.2,789.6 208.4,767.5 208.6,787.1 208.7,771.6 208.9,787.3 209.1,764.6 209.2,788.6 209.4,765.5 209.6,786.9 209.7,772.6 209.9,786.1 210.1,765.3 210.3,786.5 210.4,771.4 210.6,791.9 210.8,771.9 210.9,786.8 211.1,764.4 211.3,790.7 211.4,765.2 211.6,792.9 211.8,770.4 211.9,792.8 212.1,768.2 212.3,796.0 212.5,764.0 212.6,797.8 212.8,764.7 213.0,797.2 213.1,775.3 213.3,789.9 213.5,771.0 213.6,792.2 213.8,771.2 214.0,795.1 214.2,771.6 214.3,791.9 214.5,764.6 214.7,798.4 214.8,765.8 215.0,790.3 215.2,767.1 215.3,795.6 215.5,761.5 215.7,799.6 215.8,765.2 216.0,803.4 216.2,771.0 216.4,788.1 216.5,764.6 216.7,789.3 216.9,767.2 217.0,788.5 217.2,768.6 217.4,790.8 217.5,765.3 217.7,787.7 217.9,772.3 218.0,791.2 218.2,769.1 218.4,786.9 218.6,770.3 218.7,789.8 218.9,773.1 219.1,793.2 219.2,775.1 219.4,791.4 219.6,771.6 219.7,784.3 219.9,772.8 220.1,785.4 220.2,774.2 220.4,787.4 220.6,772.7 220.8,788.5 220.9,773.6 221.1,789.9 221.3,770.8 221.4,791.6 221.6,767.4 221.8,791.1 221.9,773.1 222.1,793.2 222.3,773.6 222.4,792.2 222.6,771.5 222.8,791.8 223.0,769.7 223.1,792.5 223.3,770.4 223.5,789.1 223.6,769.6 223.8,793.7 224.0,769.1 224.1,790.5 224.3,772.5 224.5,795.8 224.6,774.8 224.8,784.2 225.0,770.5 225.2,783.3 225.3,770.3 225.5,786.0 225.7,772.4 225.8,788.8 226.0,771.1 226.2,793.0 226.3,763.6 226.5,795.8 226.7,769.8 226.8,788.3 227.0,773.7 227.2,797.8 227.4,771.3 227.5,801.7 227.7,769.1 227.9,791.0 228.0,773.3 228.2,790.4 228.4,771.8 228.5,790.6 228.7,769.5 228.9,787.5 229.0,766.5 229.2,793.5 229.4,769.2 229.6,795.1 229.7,770.2 229.9,791.6 230.1,773.5 230.2,787.0 230.4,769.1 230.6,786.4 230.7,770.0 230.9,791.9 231.1,771.8 231.2,786.1 231.4,765.5 231.6,784.4 231.8,765.3 231.9,787.3 232.1,766.1 232.3,784.0 232.4,773.4 232.6,787.1 232.8,771.0 232.9,790.6 233.1,772.7 233.3,791.6 233.4,773.1 233.6,789.3 233.8,772.1 234.0,787.1 234.1,771.6 234.3,790.6 234.5,773.3 234.6,787.7 234.8,775.3 235.0,787.9 235.1,771.6 235.3,788.6 235.5,769.4 235.6,787.8 235.8,773.6 236.0,786.6 236.2,772.3 236.3,789.1 236.5,774.5 236.7,787.1 236.8,772.4 237.0,790.6 237.2,769.7 237.3,785.7 237.5,772.0 237.7,796.5 237.8,766.8 238.0,795.7 238.2,765.1 238.4,799.1 238.5,761.5 238.7,791.6 238.9,767.5 239.0,797.7 239.2,768.5 239.4,797.8 239.5,767.6 239.7,789.6 239.9,762.7 240.0,790.0 240.2,769.9 240.4,795.9 240.6,766.7 240.7,796.5 240.9,764.6 241.1,796.6 241.2,764.7 241.4,794.3 241.6,748.3 241.7,797.8 241.9,747.2 242.1,793.6 242.2,756.7 242.4,789.0 242.6,765.4 242.8,789.3 242.9,764.6 243.1,789.0 243.3,768.6 243.4,795.2 243.6,771.0 243.8,797.1 243.9,767.2 244.1,797.1 244.3,759.2 244.4,794.2 244.6,758.3 244.8,802.1 245.0,759.0 245.1,793.1 245.3,769.5 245.5,788.0 245.6,760.8 245.8,789.3 246.0,767.6 246.1,787.1 246.3,773.1 246.5,785.2 246.6,771.6 246.8,789.9 247.0,772.7 247.2,786.3 247.3,771.7 247.5,793.7 247.7,768.4 247.8,800.4 248.0,766.6 248.2,797.8 248.3,764.6 248.5,787.7 248.7,771.5 248.8,791.9 249.0,768.0 249.2,788.4 249.4,761.5 249.5,786.8 249.7,769.3 249.9,792.5 250.0,771.5 250.2,790.7 250.4,770.3 250.5,804.6 250.7,770.4 250.9,803.4 251.0,770.8 251.2,804.9 251.4,766.5 251.6,794.5 251.7,771.2 251.9,788.7 252.1,769.2 252.2,791.9 252.4,769.1 252.6,788.1 252.7,765.9 252.9,798.3 253.1,772.2 253.2,799.7 253.4,771.1 253.6,798.6 253.8,767.8 253.9,788.4 254.1,774.5 254.3,785.8 254.4,772.4 254.6,789.3 254.8,771.6 254.9,784.7 255.1,774.2 255.3,788.6 255.4,772.1 255.6,791.2 255.8,769.7 256.0,786.5 256.1,774.6 256.3,783.6 256.5,770.9 256.6,784.4 256.8,767.9 257.0,786.0 257.1,769.1 257.3,788.5 257.5,767.8 257.7,788.6 257.8,773.7 258.0,785.1 258.2,771.6 258.3,796.0 258.5,768.9 258.7,802.3 258.8,763.4 259.0,792.4 259.2,758.8 259.3,792.9 259.5,752.6 259.7,803.6 259.9,756.2 260.0,807.7 260.2,747.3 260.4,824.5 260.5,743.7 260.7,811.5 260.9,751.2 261.0,827.0 261.2,734.2 261.4,870.0 261.5,724.0 261.7,816.2 261.9,701.7 262.1,824.5 262.2,714.4 262.4,822.5 262.6,739.2 262.7,801.2 262.9,734.9 263.1,814.0 263.2,760.1 263.4,804.8 263.6,745.0 263.7,808.2 263.9,748.7 264.1,801.3 264.3,742.2 264.4,824.1 264.6,738.7 264.8,816.4 264.9,763.6 265.1,836.8 265.3,752.0 265.4,788.7 265.6,757.0 265.8,796.2 265.9,752.1 266.1,797.1 266.3,758.5 266.5,793.2 266.6,750.7 266.8,795.2 267.0,753.4 267.1,795.8 267.3,757.5 267.5,791.6 267.6,752.0 267.8,792.5 268.0,763.6 268.1,796.5 268.3,770.2 268.5,813.6 268.7,763.4 268.8,819.9 269.0,748.9 269.2,810.9 269.3,758.0 269.5,793.8 269.7,748.8 269.8,800.4 270.0,756.8 270.2,808.3 270.3,756.9 270.5,811.4 270.7,748.2 270.9,810.8 271.0,761.6 271.2,792.1 271.4,739.4 271.5,798.4 271.7,726.6 271.9,793.0 272.0,730.6 272.2,802.8 272.4,731.5 272.5,804.9 272.7,729.8 272.9,800.1 273.1,754.1 273.2,798.1 273.4,749.4 273.6,803.0 273.7,740.6 273.9,797.1 274.1,752.3 274.2,808.5 274.4,738.7 274.6,813.4 274.7,736.8 274.9,798.4 275.1,752.4 275.3,800.7 275.4,746.9 275.6,810.1 275.8,764.0 275.9,817.4 276.1,758.9 276.3,818.7 276.4,762.7 276.6,819.5 276.8,748.3 276.9,814.6 277.1,748.7 277.3,804.9 277.5,727.0 277.6,816.0 277.8,749.7 278.0,803.7 278.1,746.9 278.3,797.5 278.5,747.7 278.6,807.5 278.8,752.8 279.0,798.1 279.1,760.5 279.3,801.4 279.5,752.0 279.7,813.4 279.8,764.5 280.0,800.9 280.2,752.6 280.3,796.3 280.5,765.2 280.7,796.5 280.8,764.3 281.0,790.7 281.2,754.5 281.3,797.8 281.5,766.2 281.7,793.5 281.9,758.9 282.0,805.9 282.2,755.8 282.4,803.0 282.5,758.0 282.7,808.2 282.9,766.1 283.0,792.6 283.2,752.9 283.4,799.7 283.5,752.3 283.7,790.5 283.9,762.5 284.1,796.5 284.2,764.6 284.4,802.3 284.6,755.8 284.7,797.2 284.9,767.3 285.1,799.3 285.2,767.4 285.4,797.8 285.6,767.2 285.7,811.2 285.9,767.8 286.1,787.8 286.3,760.3 286.4,791.0 286.6,760.2 286.8,793.2 286.9,763.7 287.1,793.9 287.3,764.2 287.4,801.3 287.6,750.1 287.8,804.3 287.9,762.4 288.1,794.4 288.3,753.9 288.5,813.1 288.6,751.3 288.8,815.3 289.0,765.0 289.1,814.6 289.3,763.8 289.5,801.7 289.6,758.9 289.8,811.4 290.0,768.3 290.1,801.8 290.3,755.9 290.5,803.0 290.7,755.8 290.8,816.0 291.0,766.3 291.2,800.6 291.3,750.6 291.5,799.1 291.7,727.9 291.8,808.2 292.0,730.1 292.2,794.7 292.3,753.1 292.5,807.3 292.7,734.9 292.9,806.4 293.0,734.6 293.2,820.8 293.4,734.5 293.5,821.2 293.7,751.6 293.9,807.9 294.0,750.8 294.2,799.5 294.4,750.1 294.5,806.2 294.7,754.5 294.9,797.2 295.1,765.0 295.2,819.5 295.4,750.7 295.6,831.4 295.7,753.9 295.9,838.8 296.1,742.1 296.2,823.0 296.4,731.7 296.6,809.7 296.7,755.2 296.9,818.6 297.1,745.6 297.3,809.6 297.4,748.5 297.6,801.6 297.8,750.6 297.9,816.0 298.1,744.3 298.3,813.3 298.4,743.1 298.6,796.2 298.8,743.8 298.9,807.5 299.1,739.1 299.3,796.1 299.5,735.5 299.6,801.5 299.8,753.3 300.0,797.9 300.1,744.1 300.3,814.0 300.5,743.7 300.6,804.0 300.8,755.5 301.0,793.2 301.1,766.8 301.3,803.6 301.5,753.9 301.7,802.1 301.8,751.4 302.0,815.8 302.2,753.2 302.3,816.0 302.5,748.2 302.7,807.4 302.8,751.9 303.0,795.7 303.2,752.1 303.4,808.8 303.5,743.7 303.7,800.8 303.9,759.2 304.0,802.5 304.2,743.0 304.4,808.2 304.5,724.1 304.7,801.2 304.9,758.1 305.0,803.3 305.2,748.2 305.4,804.0 305.6,754.5 305.7,815.3 305.9,756.0 306.1,814.2 306.2,755.8 306.4,805.6 306.6,757.8 306.7,807.5 306.9,762.8 307.1,807.2 307.2,763.0 307.4,794.7 307.6,753.2 307.8,799.7 307.9,756.8 308.1,806.2 308.3,761.5 308.4,802.1 308.6,752.3 308.8,806.9 308.9,762.3 309.1,806.4 309.3,759.6 309.4,797.0 309.6,758.5 309.8,803.0 310.0,752.0 310.1,801.5 310.3,752.2 310.5,796.6 310.6,771.2 310.8,801.7 311.0,770.1 311.1,791.6 311.3,767.8 311.5,794.0 311.6,768.7 311.8,797.5 312.0,766.8 312.2,799.7 312.3,755.1 312.5,794.0 312.7,762.8 312.8,795.1 313.0,757.2 313.2,790.4 313.3,757.0 313.5,790.0 313.7,762.2 313.8,795.5 314.0,764.0 314.2,796.5 314.4,757.7 314.5,797.8 314.7,760.9 314.9,799.1 315.0,765.1 315.2,792.4 315.4,763.5 315.5,799.3 315.7,758.0 315.9,807.5 316.0,764.9 316.2,802.7 316.4,763.2 316.6,795.1 316.7,762.1 316.9,799.1 317.1,769.7 317.2,791.6 317.4,765.3 317.6,798.5 317.7,758.6 317.9,793.1 318.1,772.0 318.2,803.0 318.4,765.3 318.6,795.2 318.8,770.5 318.9,795.8 319.1,752.1 319.3,810.8 319.4,743.7 319.6,809.6 319.8,752.2 319.9,798.3 320.1,737.9 320.3,799.3 320.4,734.0 320.6,801.0 320.8,736.0 321.0,795.1 321.1,747.9 321.3,794.7 321.5,741.8 321.6,806.2 321.8,744.1 322.0,798.1 322.1,751.4 322.3,798.6" fill="none" stroke="#b3b3b3" stroke-width="1.0" stroke-linejoin="round"/><polyline points="51.2,798.1 51.3,798.6 51.4,797.9 51.5,798.4 51.6,797.8 51.7,798.0 51.8,797.6 51.9,797.9 52.0,797.5 52.1,798.2 52.2,797.3 52.3,798.0 52.4,797.2 52.5,797.6 52.6,797.0 52.7,797.5 52.8,796.9 52.9,797.1 53.0,796.7 53.1,796.9 53.2,796.7 53.3,796.8 53.4,796.6 53.5,796.7 53.6,796.5 53.7,796.6 53.8,796.4 53.9,796.5 54.0,796.3 54.1,796.7 54.2,796.2 54.3,796.6 54.4,796.2 54.5,796.4 54.6,796.1 54.7,796.3 54.8,796.1 54.9,796.4 55.0,796.1 55.1,796.5 55.2,796.3 55.3,796.7 55.4,796.6 55.5,797.0 55.6,797.0 55.7,797.3 55.8,797.3 55.9,797.6 56.0,797.6 56.1,797.9 56.2,798.0 56.3,798.2 56.4,798.3 56.5,799.0 56.6,798.6 56.7,799.4 56.8,799.0 56.9,800.0 57.0,799.4 57.1,800.6 57.2,799.8 57.3,801.8 57.4,800.2 57.5,802.3 57.6,800.6 57.7,802.8 57.8,801.0 57.9,803.4 58.0,801.4 58.1,803.7 58.2,801.9 58.3,804.0 58.4,802.3 58.5,803.7 58.6,802.8 58.7,804.6 58.8,803.8 58.9,805.0 59.0,804.8 59.1,806.1 59.2,805.8 59.3,807.7 59.4,804.0 59.5,808.2 59.6,802.2 59.7,807.6 59.8,801.1 59.9,810.1 60.0,800.4 60.1,811.0 60.2,802.4 60.3,811.6 60.4,803.4 60.5,814.8 60.6,804.4 60.7,814.1 60.8,806.9 60.9,816.6 61.0,808.7 61.1,820.7 61.2,810.7 61.3,821.0 61.4,811.0 61.5,826.9 61.6,811.7 61.7,831.7 61.8,812.1 61.9,835.3 62.0,813.8 62.1,844.2 62.2,814.2 62.3,847.1 62.4,814.6 62.5,854.6 62.6,816.1 62.7,840.3 62.8,816.5 62.9,837.4 63.0,817.8 63.1,837.1 63.2,818.9 63.3,831.2 63.4,820.5 63.5,831.3 63.6,820.8 63.7,827.5 63.8,819.2 63.9,829.5 64.0,817.4 64.1,826.6 64.2,816.6 64.3,828.9 64.4,813.4 64.5,829.0 64.6,813.3 64.7,830.8 64.8,813.1 64.9,828.7 65.0,811.6 65.1,832.5 65.2,811.4 65.3,828.9 65.4,835.6 65.5,829.0 65.6,810.6 65.7,825.9 65.8,810.5 65.9,822.8 66.0,810.3 66.1,823.0 66.2,811.8 66.3,823.5 66.4,811.6 66.5,823.5 66.6,810.0 66.7,820.1 66.8,807.8 66.9,818.7 67.0,806.2 67.1,821.6 67.2,805.6 67.3,822.9 67.4,806.9 67.5,822.3 67.6,806.9 67.7,826.1 67.8,807.0 67.9,821.3 68.0,808.2 68.1,819.5 68.2,808.4 68.3,817.3 68.4,808.7 68.5,817.7 68.6,808.8 68.7,815.5 68.8,808.9 68.9,813.3 69.0,808.0 69.1,811.7 69.2,805.6 69.3,810.5 69.4,804.9 69.5,808.9 69.6,804.3 69.7,807.0 69.8,804.0 69.9,806.0 70.0,803.5 70.1,804.8 70.2,803.0 70.3,803.7 70.4,803.1 70.5,802.8 70.6,802.5 70.7,802.8 70.8,802.0 70.9,802.7 71.0,800.1 71.1,803.1 71.2,798.9 71.3,803.3 71.4,798.1 71.5,803.7 71.6,798.5 71.7,805.4 71.8,799.3 71.9,805.3 72.0,800.1 72.1,806.7 72.2,801.6 72.3,807.4 72.4,803.0 72.5,807.8 72.6,804.5 72.7,809.6 72.8,805.6 72.9,810.5 73.0,806.4 73.1,811.2 73.2,806.5 73.3,812.7 73.4,805.8 73.5,814.9 73.6,805.9 73.7,817.7 73.8,805.9 73.9,823.1 74.0,803.2 74.1,817.4 74.2,802.6 74.3,817.6 74.4,802.3 74.5,822.0 74.6,807.2 74.7,821.3 74.8,810.5 74.9,821.6 75.0,813.9 75.1,822.7 75.2,817.0 75.3,827.3 75.4,820.3 75.5,832.3 75.6,824.0 75.7,839.8 75.8,825.8 75.9,848.0 76.0,830.0 76.1,852.7 76.2,832.1 76.3,858.4 76.4,833.1 76.5,870.1 76.6,833.1 76.7,878.6 76.8,833.1 76.9,888.7 77.0,831.9 77.1,912.5 77.2,831.9 77.3,906.2 77.4,831.9 77.5,896.8 77.6,837.4 77.7,904.1 77.8,838.0 77.9,899.8 78.0,838.5 78.1,903.9 78.2,838.6 78.3,908.5 78.4,838.8 78.5,907.7 78.6,838.8 78.7,909.8 78.8,840.0 78.9,897.5 79.0,840.0 79.1,908.2 79.2,840.0 79.3,918.7 79.4,836.3 79.5,898.4 79.6,836.3 79.7,897.1 79.8,836.3 79.9,882.6 80.0,834.2 80.1,873.7 80.2,834.2 80.3,866.4 80.4,832.9 80.5,856.3 80.6,828.5 80.7,854.8 80.8,825.6 80.9,850.0 81.0,822.6 81.1,849.1 81.2,820.0 81.3,843.6 81.4,820.0 81.5,844.5 81.6,818.4 81.7,849.0 81.8,816.7 81.9,852.0 82.0,816.1 82.1,849.1 82.2,816.5 82.3,852.1 82.4,817.3 82.5,848.6 82.6,817.6 82.7,852.2 82.8,817.8 82.9,848.7 83.0,822.0 83.1,854.2 83.2,822.2 83.3,850.4 83.4,822.3 83.5,857.2 83.6,820.0 83.7,853.0 83.8,820.1 83.9,859.0 84.0,820.2 84.1,861.9 84.2,820.1 84.3,852.9 84.4,820.3 84.5,849.1 84.6,820.4 84.7,851.2 84.8,820.7 84.9,847.2 85.0,820.8 85.1,843.9 85.2,821.1 85.3,842.6 85.4,819.7 85.5,839.7 85.6,819.3 85.7,840.4 85.8,818.5 85.9,839.8 86.0,818.6 86.1,837.0 86.2,818.5 86.3,840.3 86.4,818.6 86.5,840.4 86.6,818.6 86.7,840.0 86.8,818.6 86.9,836.3 87.0,818.9 87.1,836.1 87.2,819.0 87.3,833.2 87.4,819.7 87.5,832.5 87.6,820.3 87.7,832.4 87.8,821.0 87.9,830.3 88.0,820.3 88.1,828.0 88.2,819.7 88.3,825.9 88.4,818.0 88.5,825.4 88.6,817.4 88.7,823.9 88.8,816.6 88.9,822.8 89.0,817.3 89.1,822.5 89.2,816.2 89.3,821.3 89.4,815.2 89.5,820.2 89.6,815.2 89.7,820.5 89.8,814.3 89.9,821.1 90.0,813.6 90.1,821.5 90.2,814.8 90.3,824.6 90.4,815.1 90.5,821.2 90.6,815.3 90.7,820.7 90.8,814.9 90.9,819.7 91.0,815.1 91.1,819.1 91.2,815.1 91.3,818.6 91.4,813.8 91.5,817.5 91.6,813.1 91.7,817.7 91.8,812.4 91.9,817.4 92.0,812.8 92.1,817.4 92.2,812.3 92.3,816.4 92.4,811.9 92.5,817.5 92.6,811.1 92.7,818.6 92.8,811.6 92.9,819.4 93.0,811.3 93.1,822.1 93.2,810.9 93.3,823.1 93.4,810.7 93.5,825.4 93.6,810.4 93.7,824.1 93.8,829.7 93.9,825.0 94.0,810.5 94.1,821.4 94.2,810.3 94.3,822.1 94.4,808.9 94.5,818.8 94.6,808.9 94.7,817.8 94.8,809.7 94.9,815.5 95.0,810.1 95.1,813.3 95.2,809.5 95.3,810.8 95.4,808.9 95.5,809.3 95.6,808.3 95.7,808.0 95.8,807.2 95.9,806.7 96.0,806.0 96.1,805.4 96.2,804.7 96.3,804.2 96.4,803.5 96.5,802.9 96.6,802.9 96.7,802.9 96.8,802.9 96.9,802.9 97.0,803.7 97.1,805.4 97.2,805.3 97.3,808.5 97.4,805.4 97.5,810.6 97.6,805.7 97.7,815.3 97.8,805.5 97.9,816.3 98.0,805.3 98.1,819.1 98.2,805.1 98.3,823.9 98.4,804.8 98.5,827.5 98.6,803.6 98.7,819.0 98.8,803.6 98.9,817.0 99.0,804.2 99.1,814.7 99.2,806.0 99.3,813.3 99.4,806.8 99.5,810.8 99.6,806.8 99.7,808.4 99.8,806.0 99.9,806.1 100.0,804.7 100.1,805.1 100.2,803.2 100.3,803.7 100.4,801.3 100.5,802.2 100.6,799.3 100.7,800.9 100.8,799.7 100.9,799.5 101.0,799.1 101.1,799.5 101.2,799.1 101.3,799.6 101.4,801.3 101.5,805.0 101.6,807.5 101.7,810.8 101.8,808.7 101.9,817.4 102.0,809.2 102.1,823.9 102.2,808.1 102.3,825.3 102.4,808.6 102.5,829.5 102.6,841.4 102.7,838.0 102.8,810.3 102.9,833.0 103.0,810.8 103.1,832.5 103.2,811.3 103.3,830.5 103.4,813.1 103.5,829.2 103.6,814.4 103.7,825.5 103.8,814.2 103.9,826.0 104.0,814.6 104.1,821.9 104.2,813.8 104.3,821.0 104.4,812.9 104.5,820.9 104.6,811.9 104.7,818.8 104.8,810.9 104.9,817.4 105.0,809.9 105.1,817.0 105.2,808.4 105.3,814.4 105.4,807.5 105.5,814.5 105.6,807.0 105.7,812.9 105.8,806.4 105.9,813.0 106.0,806.0 106.1,811.9 106.2,805.5 106.3,811.4 106.4,804.5 106.5,809.3 106.6,804.2 106.7,809.5 106.8,803.7 106.9,808.6 107.0,802.6 107.1,808.5 107.2,802.2 107.3,806.7 107.4,801.9 107.5,807.1 107.6,802.4 107.7,806.1 107.8,802.0 107.9,805.9 108.0,801.6 108.1,806.7 108.2,801.9 108.3,806.5 108.4,801.6 108.5,804.5 108.6,801.4 108.7,804.5 108.8,801.4 108.9,804.3 109.0,801.2 109.1,804.0 109.2,800.9 109.3,803.2 109.4,799.8 109.5,803.0 109.6,799.6 109.7,803.1 109.8,799.5 109.9,803.2 110.0,799.9 110.1,803.2 110.2,800.4 110.3,803.7 110.4,800.9 110.5,804.5 110.6,801.0 110.7,804.5 110.8,801.0 110.9,804.8 111.0,800.7 111.1,806.0 111.2,801.4 111.3,808.1 111.4,801.1 111.5,808.0 111.6,800.9 111.7,810.0 111.8,800.2 111.9,809.0 112.0,800.7 112.1,806.9 112.2,801.6 112.3,806.8 112.4,803.7 112.5,806.7 112.6,805.1 112.7,806.2 112.8,805.9 112.9,805.8 113.0,805.4 113.1,805.2 113.2,803.8 113.3,804.4 113.4,802.2 113.5,803.9 113.6,801.4 113.7,804.1 113.8,800.2 113.9,803.3 114.0,799.9 114.1,804.0 114.2,800.1 114.3,803.9 114.4,800.9 114.5,805.2 114.6,801.7 114.7,805.0 114.8,801.7 114.9,804.7 115.0,802.4 115.1,805.7 115.2,802.5 115.3,807.5 115.4,802.9 115.5,808.5 115.6,802.9 115.7,807.9 115.8,802.9 115.9,809.3 116.0,802.9 116.1,811.4 116.2,803.5 116.3,809.0 116.4,804.2 116.5,808.7 116.6,805.7 116.7,807.7 116.8,806.4 116.9,806.5 117.0,805.7 117.1,805.6 117.2,804.9 117.3,804.7 117.4,804.2 117.5,804.0 117.6,803.4 117.7,803.4 117.8,802.7 117.9,802.7 118.0,801.9 118.1,801.8 118.2,801.2 118.3,801.3 118.4,800.5 118.5,801.0 118.6,799.4 118.7,800.7 118.8,798.3 118.9,801.7 119.0,797.5 119.1,801.7 119.2,797.4 119.3,800.5 119.4,797.9 119.5,801.1 119.6,798.0 119.7,800.8 119.8,799.1 119.9,801.3 120.0,800.8 120.1,801.8 120.2,799.5 120.3,801.9 120.4,797.9 120.5,801.8 120.6,797.3 120.7,802.5 120.8,799.4 120.9,803.5 121.0,803.2 121.1,806.4 121.2,807.3 121.3,809.5 121.4,810.0 121.5,812.5 121.6,813.7 121.7,816.0 121.8,816.9 121.9,821.6 122.0,816.4 122.1,828.0 122.2,816.4 122.3,840.7 122.4,816.4 122.5,844.0 122.6,818.6 122.7,851.3 122.8,873.7 122.9,861.2 123.0,819.0 123.1,851.5 123.2,818.0 123.3,853.3 123.4,818.7 123.5,851.7 123.6,819.4 123.7,855.4 123.8,823.9 123.9,853.4 124.0,822.9 124.1,850.1 124.2,821.6 124.3,850.8 124.4,820.7 124.5,844.5 124.6,819.9 124.7,846.9 124.8,819.1 124.9,850.5 125.0,819.7 125.1,853.2 125.2,819.9 125.3,849.1 125.4,820.1 125.5,846.1 125.6,821.1 125.7,839.8 125.8,821.4 125.9,842.4 126.0,822.0 126.1,839.4 126.2,822.0 126.3,838.6 126.4,821.2 126.5,833.3 126.6,820.3 126.7,835.2 126.8,819.8 126.9,830.6 127.0,819.1 127.1,830.6 127.2,818.6 127.3,828.6 127.4,818.6 127.5,827.9 127.6,818.1 127.7,824.9 127.8,817.6 127.9,825.1 128.0,816.4 128.1,823.7 128.2,816.0 128.3,822.0 128.4,815.5 128.5,821.7 128.6,815.3 128.7,819.9 128.8,814.8 128.9,818.7 129.0,814.6 129.1,818.0 129.2,814.6 129.3,816.9 129.4,814.3 129.5,816.1 129.6,813.9 129.7,815.5 129.8,813.6 129.9,814.5 130.0,813.3 130.1,813.6 130.2,813.2 130.3,813.0 130.4,812.5 130.5,812.2 130.6,811.8 130.7,811.5 130.8,811.0 130.9,811.0 131.0,810.1 131.1,810.3 131.2,809.7 131.3,809.6 131.4,807.4 131.5,808.6 131.6,807.4 131.7,808.2 131.8,806.6 131.9,807.7 132.0,805.8 132.1,807.2 132.2,802.2 132.3,806.0 132.4,801.1 132.5,806.4 132.6,800.7 132.7,806.0 132.8,799.6 132.9,804.8 133.0,799.2 133.1,805.2 133.2,798.8 133.3,803.8 133.4,800.0 133.5,804.1 133.6,800.2 133.7,804.1 133.8,800.5 133.9,804.2 134.0,800.9 134.1,803.8 134.2,801.1 134.3,804.1 134.4,800.5 134.5,803.5 134.6,799.1 134.7,803.1 134.8,798.7 134.9,804.0 135.0,798.5 135.1,803.3 135.2,798.0 135.3,803.5 135.4,798.0 135.5,803.4 135.6,798.3 135.7,802.4 135.8,798.7 135.9,803.4 136.0,798.8 136.1,802.5 136.2,798.6 136.3,802.9 136.4,798.8 136.5,803.8 136.6,798.7 136.7,803.9 136.8,799.4 136.9,802.6 137.0,806.5 137.1,802.7 137.2,800.9 137.3,803.3 137.4,800.9 137.5,804.2 137.6,800.8 137.7,805.2 137.8,800.9 137.9,805.7 138.0,801.1 138.1,807.0 138.2,809.4 138.3,807.1 138.4,801.6 138.5,806.7 138.6,802.0 138.7,805.6 138.8,802.1 138.9,804.3 139.0,802.5 139.1,803.5 139.2,803.0 139.3,804.0 139.4,802.8 139.5,803.4 139.6,802.3 139.7,802.6 139.8,801.9 139.9,802.1 140.0,801.4 140.1,801.4 140.2,800.9 140.3,800.9 140.4,800.5 140.5,800.6 140.6,800.3 140.7,800.3 140.8,800.0 140.9,800.0 141.0,799.8 141.1,799.7 141.2,799.5 141.3,799.6 141.4,799.3 141.5,799.5 141.6,799.3 141.7,799.4 141.8,799.3 141.9,799.5 142.0,800.3 142.1,803.0 142.2,801.9 142.3,804.9 142.4,803.5 142.5,805.8 142.6,804.8 142.7,807.5 142.8,808.7 142.9,808.0 143.0,805.2 143.1,806.7 143.2,805.0 143.3,805.0 143.4,803.3 143.5,803.6 143.6,801.5 143.7,802.0 143.8,800.1 143.9,801.4 144.0,798.5 144.1,800.2 144.2,796.9 144.3,800.0 144.4,795.6 144.5,799.9 144.6,794.9 144.7,799.4 144.8,793.6 144.9,798.0 145.0,792.9 145.1,799.2 145.2,792.7 145.3,798.9 145.4,792.3 145.5,797.8 145.6,792.1 145.7,798.4 145.8,792.9 145.9,797.7 146.0,794.3 146.1,800.4 146.2,795.2 146.3,799.8 146.4,796.5 146.5,799.3 146.6,796.8 146.7,800.5 146.8,797.7 146.9,801.3 147.0,798.8 147.1,802.8 147.2,800.7 147.3,803.7 147.4,801.9 147.5,805.5 147.6,802.1 147.7,807.9 147.8,803.0 147.9,811.2 148.0,803.1 148.1,810.5 148.2,803.0 148.3,813.6 148.4,802.4 148.5,815.1 148.6,802.3 148.7,817.1 148.8,802.4 148.9,814.9 149.0,804.0 149.1,818.9 149.2,804.4 149.3,818.0 149.4,804.6 149.5,818.6 149.6,804.8 149.7,819.3 149.8,804.9 149.9,820.6 150.0,805.1 150.1,822.6 150.2,803.8 150.3,822.0 150.4,803.8 150.5,817.3 150.6,803.7 150.7,818.0 150.8,804.1 150.9,815.0 151.0,804.3 151.1,815.1 151.2,804.4 151.3,813.9 151.4,804.5 151.5,814.7 151.6,804.1 151.7,812.0 151.8,803.7 151.9,811.3 152.0,804.4 152.1,810.4 152.2,804.1 152.3,809.1 152.4,803.8 152.5,808.0 152.6,803.8 152.7,807.9 152.8,803.5 152.9,806.3 153.0,803.1 153.1,805.8 153.2,802.7 153.3,805.6 153.4,802.4 153.5,804.9 153.6,802.0 153.7,804.0 153.8,800.5 153.9,803.8 154.0,800.7 154.1,803.4 154.2,800.6 154.3,802.7 154.4,800.6 154.5,802.5 154.6,800.4 154.7,802.3 154.8,800.1 154.9,801.8 155.0,799.8 155.1,802.0 155.2,799.6 155.3,801.6 155.4,799.3 155.5,801.4 155.6,799.4 155.7,801.6 155.8,799.1 155.9,801.3 156.0,798.8 156.1,801.5 156.2,798.7 156.3,801.2 156.4,798.6 156.5,801.0 156.6,797.8 156.7,800.9 156.8,796.3 156.9,800.9 157.0,795.9 157.1,799.9 157.2,795.6 157.3,799.9 157.4,795.1 157.5,800.2 157.6,794.9 157.7,799.8 157.8,794.5 157.9,801.3 158.0,793.7 158.1,801.4 158.2,793.8 158.3,800.7 158.4,793.9 158.5,801.3 158.6,794.9 158.7,802.2 158.8,794.9 158.9,803.7 159.0,794.9 159.1,802.2 159.2,795.3 159.3,805.8 159.4,795.3 159.5,803.7 159.6,795.3 159.7,804.1 159.8,804.3 159.9,803.0 160.0,795.4 160.1,802.5 160.2,796.5 160.3,802.1 160.4,797.9 160.5,801.8 160.6,798.5 160.7,801.7 160.8,798.5 160.9,801.1 161.0,797.9 161.1,800.9 161.2,797.9 161.3,801.8 161.4,798.2 161.5,801.3 161.6,799.1 161.7,801.9 161.8,799.6 161.9,802.2 162.0,799.6 162.1,802.6 162.2,798.9 162.3,803.2 162.4,798.9 162.5,803.2 162.6,798.8 162.7,803.8 162.8,799.5 162.9,803.8 163.0,799.5 163.1,804.9 163.2,799.4 163.3,805.1 163.4,799.5 163.5,806.0 163.6,799.7 163.7,807.0 163.8,800.1 163.9,806.1 164.0,800.9 164.1,807.5 164.2,801.2 164.3,807.9 164.4,801.6 164.5,807.8 164.6,800.5 164.7,808.9 164.8,800.4 164.9,810.4 165.0,800.4 165.1,812.0 165.2,801.3 165.3,811.0 165.4,801.3 165.5,814.0 165.6,816.7 165.7,814.4 165.8,799.9 165.9,811.0 166.0,799.8 166.1,810.3 166.2,799.8 166.3,810.5 166.4,800.4 166.5,809.6 166.6,801.4 166.7,810.5 166.8,802.0 166.9,808.4 167.0,803.3 167.1,807.3 167.2,803.5 167.3,807.1 167.4,803.4 167.5,806.3 167.6,803.4 167.7,805.8 167.8,803.3 167.9,805.6 168.0,803.3 168.1,804.7 168.2,802.5 168.3,804.2 168.4,802.1 168.5,803.2 168.6,801.6 168.7,802.9 168.8,802.4 168.9,803.0 169.0,801.9 169.1,802.6 169.2,801.4 169.3,802.0 169.4,800.9 169.5,801.4 169.6,800.4 169.7,800.5 169.8,799.9 169.9,800.2 170.0,799.7 170.1,799.8 170.2,799.4 170.3,799.5 170.4,799.2 170.5,799.2 170.6,798.9 170.7,799.0 170.8,798.1 170.9,798.5 171.0,796.9 171.1,798.6 171.2,795.9 171.3,798.7 171.4,795.1 171.5,799.0 171.6,796.5 171.7,798.7 171.8,797.7 171.9,798.7 172.0,797.8 172.1,798.1 172.2,797.8 172.3,798.2 172.4,797.8 172.5,798.0 172.6,798.9 172.7,800.9 172.8,802.3 172.9,804.2 173.0,804.1 173.1,807.3 173.2,804.2 173.3,809.7 173.4,804.4 173.5,811.8 173.6,804.2 173.7,816.3 173.8,804.3 173.9,824.7 174.0,804.5 174.1,818.9 174.2,806.5 174.3,816.9 174.4,806.7 174.5,816.9 174.6,807.3 174.7,815.1 174.8,806.7 174.9,814.2 175.0,807.2 175.1,813.5 175.2,806.7 175.3,812.2 175.4,806.9 175.5,812.3 175.6,806.5 175.7,813.3 175.8,806.9 175.9,813.9 176.0,808.0 176.1,816.7 176.2,808.4 176.3,817.7 176.4,819.6 176.5,816.6 176.6,809.5 176.7,814.2 176.8,809.7 176.9,812.4 177.0,810.0 177.1,811.0 177.2,809.9 177.3,810.2 177.4,809.7 177.5,809.5 177.6,809.0 177.7,808.7 177.8,807.7 177.9,807.7 178.0,806.4 178.1,807.5 178.2,805.1 178.3,806.8 178.4,803.5 178.5,806.1 178.6,802.6 178.7,804.9 178.8,801.8 178.9,804.8 179.0,800.7 179.1,804.4 179.2,800.1 179.3,803.0 179.4,799.5 179.5,802.8 179.6,798.9 179.7,803.5 179.8,798.5 179.9,802.8 180.0,798.1 180.1,801.8 180.2,798.0 180.3,802.3 180.4,797.6 180.5,801.1 180.6,797.2 180.7,800.8 180.8,797.4 180.9,800.8 181.0,797.5 181.1,800.8 181.2,797.6 181.3,800.4 181.4,797.9 181.5,800.2 181.6,798.0 181.7,800.5 181.8,798.1 181.9,800.6 182.0,798.0 182.1,799.8 182.2,798.1 182.3,799.6 182.4,798.1 182.5,799.4 182.6,798.6 182.7,799.0 182.8,798.6 182.9,798.7 183.0,798.4 183.1,798.5 183.2,798.1 183.3,798.1 183.4,797.9 183.5,797.9 183.6,797.6 183.7,797.6 183.8,797.4 183.9,797.3 184.0,797.1 184.1,797.0 184.2,796.9 184.3,796.9 184.4,796.8 184.5,796.7 184.6,796.6 184.7,796.5 184.8,796.4 184.9,796.4 185.0,796.3 185.1,796.4 185.2,796.3 185.3,796.3 185.4,796.5 185.5,797.6 185.6,798.5 185.7,799.5 185.8,799.8 185.9,801.2 186.0,799.8 186.1,803.7 186.2,799.9 186.3,804.4 186.4,799.8 186.5,805.7 186.6,799.7 186.7,806.4 186.8,800.1 186.9,807.6 187.0,800.4 187.1,809.4 187.2,800.7 187.3,811.8 187.4,801.5 187.5,812.2 187.6,801.8 187.7,811.3 187.8,802.1 187.9,812.1 188.0,801.6 188.1,810.4 188.2,802.0 188.3,812.4 188.4,802.4 188.5,810.7 188.6,803.7 188.7,813.0 188.8,803.8 188.9,812.3 189.0,803.9 189.1,811.6 189.2,803.1 189.3,813.6 189.4,803.2 189.5,813.9 189.6,815.3 189.7,814.6 189.8,804.0 189.9,813.5 190.0,804.3 190.1,812.0 190.2,804.8 190.3,811.2 190.4,805.0 190.5,810.2 190.6,805.4 190.7,809.3 190.8,805.2 190.9,808.2 191.0,804.8 191.1,808.2 191.2,805.2 191.3,809.8 191.4,805.1 191.5,809.2 191.6,805.6 191.7,809.5 191.8,805.6 191.9,809.4 192.0,805.7 192.1,810.2 192.2,805.1 192.3,809.8 192.4,805.3 192.5,811.1 192.6,805.9 192.7,811.7 192.8,807.9 192.9,812.1 193.0,808.3 193.1,812.5 193.2,808.3 193.3,812.8 193.4,807.4 193.5,814.2 193.6,807.2 193.7,815.9 193.8,807.0 193.9,818.2 194.0,806.1 194.1,816.4 194.2,806.0 194.3,815.4 194.4,805.9 194.5,813.6 194.6,806.7 194.7,814.1 194.8,806.6 194.9,813.5 195.0,806.4 195.1,811.5 195.2,805.0 195.3,809.9 195.4,804.3 195.5,808.8 195.6,803.7 195.7,808.7 195.8,802.7 195.9,807.0 196.0,802.4 196.1,806.3 196.2,801.9 196.3,805.2 196.4,802.2 196.5,804.6 196.6,801.4 196.7,803.6 196.8,800.7 196.9,803.3 197.0,801.0 197.1,803.7 197.2,800.9 197.3,803.4 197.4,800.9 197.5,803.3 197.6,800.0 197.7,802.5 197.8,800.0 197.9,802.8 198.0,800.2 198.1,802.4 198.2,800.2 198.3,802.5 198.4,800.1 198.5,801.9 198.6,800.0 198.7,802.3 198.8,800.3 198.9,802.2 199.0,800.3 199.1,802.0 199.2,800.3 199.3,801.9 199.4,799.1 199.5,801.3 199.6,799.2 199.7,801.6 199.8,800.0 199.9,801.4 200.0,800.2 200.1,801.4 200.2,800.2 200.3,801.3 200.4,800.7 200.5,801.8 200.6,801.2 200.7,803.2 200.8,802.1 200.9,804.9 201.0,802.1 201.1,805.8 201.2,803.1 201.3,807.8 201.4,803.1 201.5,809.4 201.6,803.1 201.7,812.1 201.8,816.7 201.9,811.4 202.0,802.8 202.1,811.9 202.2,802.7 202.3,808.8 202.4,801.8 202.5,807.9 202.6,801.8 202.7,806.6 202.8,802.4 202.9,805.8 203.0,804.2 203.1,804.8 203.2,804.4 203.3,803.9 203.4,803.4 203.5,802.9 203.6,802.4 203.7,802.1 203.8,801.9 203.9,801.8 204.0,801.7 204.1,801.5 204.2,801.3 204.3,801.3 204.4,800.4 204.5,800.8 204.6,799.6 204.7,800.6 204.8,798.5 204.9,800.4 205.0,798.1 205.1,800.3 205.2,797.9 205.3,800.4 205.4,797.8 205.5,799.9 205.6,797.6 205.7,800.0 205.8,797.4 205.9,799.5 206.0,796.6 206.1,799.3 206.2,796.6 206.3,799.4 206.4,796.6 206.5,799.1 206.6,796.6 206.7,799.2 206.8,796.6 206.9,799.1 207.0,796.5 207.1,799.0 207.2,796.5 207.3,799.7 207.4,796.4 207.5,799.0 207.6,796.3 207.7,799.0 207.8,796.9 207.9,799.2 208.0,797.0 208.1,799.4 208.2,797.0 208.3,799.2 208.4,796.9 208.5,799.9 208.6,796.9 208.7,800.2 208.8,797.0 208.9,801.2 209.0,797.6 209.1,801.1 209.2,797.9 209.3,801.1 209.4,798.1 209.5,802.0 209.6,798.6 209.7,801.6 209.8,798.8 209.9,802.3 210.0,799.0 210.1,801.3 210.2,798.5 210.3,801.5 210.4,798.6 210.5,801.2 210.6,798.7 210.7,801.3 210.8,799.4 210.9,802.0 211.0,799.5 211.1,802.4 211.2,799.6 211.3,801.9 211.4,799.1 211.5,802.0 211.6,799.4 211.7,800.9 211.8,799.4 211.9,800.9 212.0,799.4 212.1,800.6 212.2,799.2 212.3,800.9 212.4,799.1 212.5,800.6 212.6,798.8 212.7,801.1 212.8,798.7 212.9,800.8 213.0,798.6 213.1,801.3 213.2,797.9 213.3,800.9 213.4,797.9 213.5,800.8 213.6,798.0 213.7,801.0 213.8,798.2 213.9,801.4 214.0,798.2 214.1,801.9 214.2,798.2 214.3,801.5 214.4,798.6 214.5,802.1 214.6,798.6 214.7,802.7 214.8,798.8 214.9,802.5 215.0,798.8 215.1,802.3 215.2,798.8 215.3,802.4 215.4,798.9 215.5,802.8 215.6,798.5 215.7,802.9 215.8,803.6 215.9,801.6 216.0,798.4 216.1,801.4 216.2,798.7 216.3,800.9 216.4,798.6 216.5,799.9 216.6,798.5 216.7,799.4 216.8,798.8 216.9,799.0 217.0,798.5 217.1,798.6 217.2,798.0 217.3,798.4 217.4,797.8 217.5,798.0 217.6,797.3 217.7,797.5 217.8,796.9 217.9,797.2 218.0,796.5 218.1,797.0 218.2,796.4 218.3,796.8 218.4,796.3 218.5,796.7 218.6,796.4 218.7,796.6 218.8,796.3 218.9,796.5 219.0,796.1 219.1,796.4 219.2,795.4 219.3,796.2 219.4,795.5 219.5,796.2 219.6,795.6 219.7,797.2 219.8,795.7 219.9,796.9 220.0,795.7 220.1,796.6 220.2,795.8 220.3,796.5 220.4,795.3 220.5,796.1 220.6,795.3 220.7,795.9 220.8,795.4 220.9,796.2 221.0,795.4 221.1,796.2 221.2,795.3 221.3,795.8 221.4,795.3 221.5,795.7 221.6,795.2 221.7,795.4 221.8,795.1 221.9,795.3 222.0,795.0 222.1,795.1 222.2,794.9 222.3,795.0 222.4,794.8 222.5,795.0 222.6,794.8 222.7,794.9 222.8,794.9 222.9,795.0 223.0,795.1 223.1,795.2 223.2,795.3 223.3,795.4 223.4,795.5 223.5,795.6 223.6,795.4 223.7,795.8 223.8,795.2 223.9,796.0 224.0,794.9 224.1,796.2 224.2,794.8 224.3,796.1 224.4,794.7 224.5,796.5 224.6,794.6 224.7,796.7 224.8,794.6 224.9,796.7 225.0,794.6 225.1,796.8 225.2,794.9 225.3,798.3 225.4,794.9 225.5,798.4 225.6,795.0 225.7,798.0 225.8,794.6 225.9,798.6 226.0,794.8 226.1,797.8 226.2,795.0 226.3,798.3 226.4,795.5 226.5,798.6 226.6,795.7 226.7,799.1 226.8,795.9 226.9,799.5 227.0,796.2 227.1,799.8 227.2,796.3 227.3,798.9 227.4,795.5 227.5,799.3 227.6,794.9 227.7,799.1 227.8,795.0 227.9,799.0 228.0,795.0 228.1,798.7 228.2,795.2 228.3,799.4 228.4,799.9 228.5,799.1 228.6,795.5 228.7,799.2 228.8,795.8 228.9,799.3 229.0,796.0 229.1,798.8 229.2,796.2 229.3,799.0 229.4,796.8 229.5,798.8 229.6,796.9 229.7,798.5 229.8,797.0 229.9,798.2 230.0,796.5 230.1,798.0 230.2,796.6 230.3,798.2 230.4,796.7 230.5,798.0 230.6,796.6 230.7,797.9 230.8,796.6 230.9,797.7 231.0,796.8 231.1,797.8 231.2,797.3 231.3,798.5 231.4,797.4 231.5,798.2 231.6,797.5 231.7,797.8 231.8,797.4 231.9,797.8 232.0,797.3 232.1,797.5 232.2,797.2 232.3,797.4 232.4,797.1 232.5,797.6 232.6,797.0 232.7,797.4 232.8,796.9 232.9,798.7 233.0,796.8 233.1,798.3 233.2,796.7 233.3,797.6 233.4,796.6 233.5,797.5 233.6,796.5 233.7,797.0 233.8,796.4 233.9,796.9 234.0,796.3 234.1,796.6 234.2,796.2 234.3,796.4 234.4,796.1 234.5,796.2 234.6,796.0 234.7,796.1 234.8,795.9 234.9,796.5 235.0,795.8 235.1,796.4 235.2,795.7 235.3,796.0 235.4,795.6 235.5,796.0 235.6,795.6 235.7,796.0 235.8,795.6 235.9,796.0 236.0,795.8 236.1,796.2 236.2,796.2 236.3,796.7 236.4,796.6 236.5,797.3 236.6,797.0 236.7,797.8 236.8,797.4 236.9,798.0 237.0,797.8 237.1,798.4 237.2,798.2 237.3,798.6 237.4,798.7 237.5,799.1 237.6,799.2 237.7,799.7 237.8,799.7 237.9,800.2 238.0,800.2 238.1,800.7 238.2,800.7 238.3,801.2 238.4,801.2 238.5,803.9 238.6,801.7 238.7,804.5 238.8,802.2 238.9,804.7 239.0,802.7 239.1,805.1 239.2,803.2 239.3,804.9 239.4,803.7 239.5,805.6 239.6,803.4 239.7,805.1 239.8,802.2 239.9,805.7 240.0,801.3 240.1,805.8 240.2,800.2 240.3,805.6 240.4,799.7 240.5,805.7 240.6,799.8 240.7,806.4 240.8,800.3 240.9,807.2 241.0,801.0 241.1,806.6 241.2,801.6 241.3,807.9 241.4,802.4 241.5,809.3 241.6,802.5 241.7,810.8 241.8,802.5 241.9,809.8 242.0,802.9 242.1,810.9 242.2,802.9 242.3,814.7 242.4,803.0 242.5,809.9 242.6,804.1 242.7,809.5 242.8,805.6 242.9,808.4 243.0,807.0 243.1,807.0 243.2,805.9 243.3,805.9 243.4,805.2 243.5,805.2 243.6,804.4 243.7,804.2 243.8,803.7 243.9,803.5 244.0,802.9 244.1,804.3 244.2,802.2 244.3,803.6 244.4,801.4 244.5,802.5 244.6,801.2 244.7,802.2 244.8,800.9 244.9,801.7 245.0,800.7 245.1,801.3 245.2,800.4 245.3,800.8 245.4,800.0 245.5,800.4 245.6,799.6 245.7,800.1 245.8,799.5 245.9,799.7 246.0,799.3 246.1,800.7 246.2,798.9 246.3,800.4 246.4,798.5 246.5,799.3 246.6,798.1 246.7,798.9 246.8,797.8 246.9,798.4 247.0,797.3 247.1,798.0 247.2,796.2 247.3,797.4 247.4,795.3 247.5,797.4 247.6,795.0 247.7,797.7 247.8,795.4 247.9,797.7 248.0,795.8 248.1,799.3 248.2,796.2 248.3,799.3 248.4,796.6 248.5,799.4 248.6,796.3 248.7,799.3 248.8,796.7 248.9,799.4 249.0,797.1 249.1,800.4 249.2,797.8 249.3,800.4 249.4,798.2 249.5,801.6 249.6,798.9 249.7,802.6 249.8,799.3 249.9,803.9 250.0,800.5 250.1,804.2 250.2,800.8 250.3,804.3 250.4,798.7 250.5,804.8 250.6,797.4 250.7,804.2 250.8,796.6 250.9,805.6 251.0,797.7 251.1,805.4 251.2,798.0 251.3,806.2 251.4,798.0 251.5,807.0 251.6,798.9 251.7,808.4 251.8,799.0 251.9,808.5 252.0,799.0 252.1,809.9 252.2,810.5 252.3,809.3 252.4,798.4 252.5,809.1 252.6,798.4 252.7,808.9 252.8,798.1 252.9,807.6 253.0,799.1 253.1,806.8 253.2,800.2 253.3,805.9 253.4,800.9 253.5,805.1 253.6,801.5 253.7,804.7 253.8,801.5 253.9,804.0 254.0,801.2 254.1,803.0 254.2,801.0 254.3,802.0 254.4,800.8 254.5,803.0 254.6,800.8 254.7,802.8 254.8,800.5 254.9,802.1 255.0,800.1 255.1,801.6 255.2,799.8 255.3,800.4 255.4,799.4 255.5,800.0 255.6,799.0 255.7,799.3 255.8,798.3 255.9,798.9 256.0,797.8 256.1,799.8 256.2,797.2 256.3,799.8 256.4,797.5 256.5,798.8 256.6,797.0 256.7,798.6 256.8,796.6 256.9,797.8 257.0,796.0 257.1,797.5 257.2,795.6 257.3,797.0 257.4,795.3 257.5,797.0 257.6,794.4 257.7,796.9 257.8,794.7 257.9,796.7 258.0,795.2 258.1,796.7 258.2,795.1 258.3,796.6 258.4,795.4 258.5,797.4 258.6,796.3 258.7,797.9 258.8,797.7 258.9,799.1 259.0,799.1 259.1,800.9 259.2,801.1 259.3,802.4 259.4,802.7 259.5,804.0 259.6,804.4 259.7,807.3 259.8,810.7 259.9,814.8 260.0,818.2 260.1,822.2 260.2,825.7 260.3,829.7 260.4,833.9 260.5,842.6 260.6,838.7 260.7,858.3 260.8,840.8 260.9,873.0 261.0,840.8 261.1,877.9 261.2,836.6 261.3,895.5 261.4,836.6 261.5,905.4 261.6,836.6 261.7,914.4 261.8,927.7 261.9,900.2 262.0,836.8 262.1,882.9 262.2,836.8 262.3,872.8 262.4,841.6 262.5,867.4 262.6,841.6 262.7,858.2 262.8,841.2 262.9,852.7 263.0,835.7 263.1,849.4 263.2,829.3 263.3,848.0 263.4,823.0 263.5,843.5 263.6,819.0 263.7,843.6 263.8,818.4 263.9,842.6 264.0,817.0 264.1,842.0 264.2,816.8 264.3,842.8 264.4,817.5 264.5,839.4 264.6,816.6 264.7,843.3 264.8,815.8 264.9,845.2 265.0,815.4 265.1,849.3 265.2,814.9 265.3,838.6 265.4,812.9 265.5,836.4 265.6,812.5 265.7,830.5 265.8,812.0 265.9,826.5 266.0,810.3 266.1,823.8 266.2,808.7 266.3,823.9 266.4,807.3 266.5,820.7 266.6,807.5 266.7,817.6 266.8,807.1 266.9,815.2 267.0,806.8 267.1,815.1 267.2,806.7 267.3,813.3 267.4,806.9 267.5,811.5 267.6,807.2 267.7,810.0 267.8,807.2 267.9,808.9 268.0,805.9 268.1,807.3 268.2,802.3 268.3,806.4 268.4,801.3 268.5,805.4 268.6,799.7 268.7,804.4 268.8,800.1 268.9,804.7 269.0,802.5 269.1,804.7 269.2,804.0 269.3,805.6 269.4,805.6 269.5,807.8 269.6,806.4 269.7,809.7 269.8,807.8 269.9,812.6 270.0,809.2 270.1,814.6 270.2,811.0 270.3,816.2 270.4,813.4 270.5,818.8 270.6,815.8 270.7,820.9 270.8,820.2 270.9,823.5 271.0,823.0 271.1,825.5 271.2,823.8 271.3,827.8 271.4,825.8 271.5,831.1 271.6,826.5 271.7,835.5 271.8,827.2 271.9,837.4 272.0,844.4 272.1,838.3 272.2,828.1 272.3,836.6 272.4,828.8 272.5,836.8 272.6,829.4 272.7,834.7 272.8,830.3 272.9,835.7 273.0,831.2 273.1,835.3 273.2,830.4 273.3,833.1 273.4,828.9 273.5,832.5 273.6,827.5 273.7,829.4 273.8,825.2 273.9,829.7 274.0,827.7 274.1,829.2 274.2,828.2 274.3,830.4 274.4,830.2 274.5,831.8 274.6,830.1 274.7,833.4 274.8,828.1 274.9,835.2 275.0,827.4 275.1,835.4 275.2,826.7 275.3,838.6 275.4,826.1 275.5,837.7 275.6,825.4 275.7,839.3 275.8,825.2 275.9,844.1 276.0,824.5 276.1,842.5 276.2,822.0 276.3,847.5 276.4,822.6 276.5,851.3 276.6,822.3 276.7,847.4 276.8,822.6 276.9,856.9 277.0,822.3 277.1,851.3 277.2,822.1 277.3,858.8 277.4,863.3 277.5,851.2 277.6,824.6 277.7,854.9 277.8,824.3 277.9,851.8 278.0,825.6 278.1,846.6 278.2,825.4 278.3,845.1 278.4,825.5 278.5,841.5 278.6,822.5 278.7,838.8 278.8,820.9 278.9,839.7 279.0,819.2 279.1,834.3 279.2,817.7 279.3,831.8 279.4,816.6 279.5,827.5 279.6,815.6 279.7,827.9 279.8,813.1 279.9,825.7 280.0,812.2 280.1,820.7 280.2,811.1 280.3,819.4 280.4,810.0 280.5,818.6 280.6,808.9 280.7,817.1 280.8,807.8 280.9,815.2 281.0,807.5 281.1,813.7 281.2,806.6 281.3,812.5 281.4,806.2 281.5,810.2 281.6,804.7 281.7,809.3 281.8,804.5 281.9,808.6 282.0,804.3 282.1,807.7 282.2,802.4 282.3,806.8 282.4,799.8 282.5,806.1 282.6,799.9 282.7,806.4 282.8,803.3 282.9,806.6 283.0,805.6 283.1,806.6 283.2,806.4 283.3,806.6 283.4,806.4 283.5,807.9 283.6,807.1 283.7,810.4 283.8,807.4 283.9,812.9 284.0,807.3 284.1,816.4 284.2,821.3 284.3,817.5 284.4,808.0 284.5,820.2 284.6,808.8 284.7,818.7 284.8,809.7 284.9,817.4 285.0,810.7 285.1,817.9 285.2,811.3 285.3,817.7 285.4,811.8 285.5,816.6 285.6,812.2 285.7,815.8 285.8,811.8 285.9,815.0 286.0,811.2 286.1,815.4 286.2,811.5 286.3,815.7 286.4,811.4 286.5,815.4 286.6,811.5 286.7,816.5 286.8,811.7 286.9,817.4 287.0,813.5 287.1,817.8 287.2,813.7 287.3,819.3 287.4,813.9 287.5,818.9 287.6,813.4 287.7,820.4 287.8,814.2 287.9,820.3 288.0,814.9 288.1,820.6 288.2,815.1 288.3,821.9 288.4,815.8 288.5,822.1 288.6,816.6 288.7,822.9 288.8,819.0 288.9,823.1 289.0,819.5 289.1,823.9 289.2,820.0 289.3,825.1 289.4,820.5 289.5,824.8 289.6,821.0 289.7,826.4 289.8,821.5 289.9,827.5 290.0,823.2 290.1,827.9 290.2,823.7 290.3,828.3 290.4,824.3 290.5,828.7 290.6,825.5 290.7,829.4 290.8,826.1 290.9,829.5 291.0,826.6 291.1,829.8 291.2,826.7 291.3,830.2 291.4,827.3 291.5,831.2 291.6,827.4 291.7,831.1 291.8,826.7 291.9,832.2 292.0,827.0 292.1,832.8 292.2,827.2 292.3,833.8 292.4,834.5 292.5,832.9 292.6,828.2 292.7,832.4 292.8,828.2 292.9,831.6 293.0,828.5 293.1,831.3 293.2,828.5 293.3,830.3 293.4,828.4 293.5,829.6 293.6,827.4 293.7,829.3 293.8,825.7 293.9,828.1 294.0,824.1 294.1,830.2 294.2,822.0 294.3,830.1 294.4,822.5 294.5,828.4 294.6,822.9 294.7,829.0 294.8,822.2 294.9,827.9 295.0,821.8 295.1,828.5 295.2,821.6 295.3,830.3 295.4,822.5 295.5,833.1 295.6,822.8 295.7,834.8 295.8,822.8 295.9,836.4 296.0,822.7 296.1,838.4 296.2,822.7 296.3,836.5 296.4,822.7 296.5,840.2 296.6,841.9 296.7,837.2 296.8,823.1 296.9,834.8 297.0,823.0 297.1,832.0 297.2,822.8 297.3,831.8 297.4,823.5 297.5,830.9 297.6,824.3 297.7,829.9 297.8,821.7 297.9,828.8 298.0,821.0 298.1,827.8 298.2,820.0 298.3,828.7 298.4,819.2 298.5,827.0 298.6,819.0 298.7,826.6 298.8,818.9 298.9,826.8 299.0,818.2 299.1,825.2 299.2,818.1 299.3,824.9 299.4,817.8 299.5,824.3 299.6,817.7 299.7,823.1 299.8,817.5 299.9,823.9 300.0,817.2 300.1,823.5 300.2,817.1 300.3,823.2 300.4,816.8 300.5,822.1 300.6,816.6 300.7,822.2 300.8,817.1 300.9,820.7 301.0,816.9 301.1,820.2 301.2,816.6 301.3,820.8 301.4,815.6 301.5,819.5 301.6,815.4 301.7,819.2 301.8,815.2 301.9,819.2 302.0,817.5 302.1,819.7 302.2,817.9 302.3,820.2 302.4,818.3 302.5,820.6 302.6,818.4 302.7,821.2 302.8,817.6 302.9,821.6 303.0,816.5 303.1,821.7 303.2,816.6 303.3,825.2 303.4,815.7 303.5,826.6 303.6,815.2 303.7,826.4 303.8,814.2 303.9,823.8 304.0,814.1 304.1,825.8 304.2,814.0 304.3,823.2 304.4,813.8 304.5,822.9 304.6,813.7 304.7,823.3 304.8,813.5 304.9,822.6 305.0,813.9 305.1,823.0 305.2,813.6 305.3,820.7 305.4,813.2 305.5,820.7 305.6,812.9 305.7,820.5 305.8,813.5 305.9,820.7 306.0,814.1 306.1,819.6 306.2,815.6 306.3,820.7 306.4,816.3 306.5,821.5 306.6,816.3 306.7,821.4 306.8,816.6 306.9,819.8 307.0,816.5 307.1,820.0 307.2,816.4 307.3,818.8 307.4,816.5 307.5,818.9 307.6,816.4 307.7,818.7 307.8,816.2 307.9,817.9 308.0,815.9 308.1,817.6 308.2,815.7 308.3,817.7 308.4,815.5 308.5,817.5 308.6,815.5 308.7,817.2 308.8,815.4 308.9,816.9 309.0,815.3 309.1,816.7 309.2,814.5 309.3,816.2 309.4,814.4 309.5,815.8 309.6,814.2 309.7,816.4 309.8,813.8 309.9,816.0 310.0,813.6 310.1,815.9 310.2,813.5 310.3,815.4 310.4,812.0 310.5,814.8 310.6,811.8 310.7,814.2 310.8,811.7 310.9,813.5 311.0,811.0 311.1,813.4 311.2,810.9 311.3,812.7 311.4,810.7 311.5,812.4 311.6,809.9 311.7,812.3 311.8,809.7 311.9,811.8 312.0,809.4 312.1,811.6 312.2,809.6 312.3,811.3 312.4,809.4 312.5,811.3 312.6,809.2 312.7,811.1 312.8,810.1 312.9,810.8 313.0,810.0 313.1,810.6 313.2,809.8 313.3,810.1 313.4,810.1 313.5,809.9 313.6,809.7 313.7,809.5 313.8,809.3 313.9,809.1 314.0,808.9 314.1,810.3 314.2,808.8 314.3,810.4 314.4,808.6 314.5,809.7 314.6,807.6 314.7,809.2 314.8,807.1 314.9,808.6 315.0,806.7 315.1,808.9 315.2,807.2 315.3,808.2 315.4,807.5 315.5,808.3 315.6,807.7 315.7,809.5 315.8,807.5 315.9,809.7 316.0,807.6 316.1,811.5 316.2,807.7 316.3,811.5 316.4,807.1 316.5,811.0 316.6,807.2 316.7,811.1 316.8,807.3 316.9,812.2 317.0,808.6 317.1,813.0 317.2,808.7 317.3,812.1 317.4,808.8 317.5,811.8 317.6,808.7 317.7,811.3 317.8,808.9 317.9,811.7 318.0,809.1 318.1,811.8 318.2,811.4 318.3,811.7 318.4,808.5 318.5,811.5 318.6,807.6 318.7,811.7 318.8,805.8 318.9,810.6 319.0,805.5 319.1,810.0 319.2,805.7 319.3,810.7 319.4,805.8 319.5,810.8 319.6,806.2 319.7,811.1 319.8,806.8 319.9,811.7 320.0,807.5 320.1,811.1 320.2,808.2 320.3,811.9 320.4,808.9 320.5,811.7 320.6,810.0 320.7,812.4 320.8,810.6 320.9,812.8 321.0,811.3 321.1,813.3 321.2,813.1 321.3,814.3 321.4,813.9 321.5,814.8 321.6,814.4 321.7,815.1 321.8,814.3 321.9,815.6 322.0,814.7 322.1,816.0 322.2,814.7 322.3,816.7 322.4,815.3" fill="none" stroke="#974FAB" stroke-width="2.5" stroke-linejoin="round" stroke-linecap="butt"/><circle cx="51.20" cy="802.20" r="3.3" fill="#E8241F"/><circle cx="58.67" cy="802.20" r="3.3" fill="#E8241F"/><circle cx="61.60" cy="803.08" r="3.3" fill="#E8241F"/><circle cx="57.94" cy="809.23" r="3.3" fill="#E8241F"/><circle cx="72.14" cy="808.06" r="3.3" fill="#E8241F"/><circle cx="65.11" cy="819.92" r="3.3" fill="#E8241F"/><circle cx="75.51" cy="822.70" r="3.3" fill="#E8241F"/><circle cx="82.68" cy="827.24" r="3.3" fill="#E8241F"/><circle cx="86.78" cy="826.80" r="3.3" fill="#E8241F"/><circle cx="92.78" cy="810.70" r="3.3" fill="#E8241F"/><circle cx="93.81" cy="816.84" r="3.3" fill="#E8241F"/><circle cx="98.49" cy="818.31" r="3.3" fill="#E8241F"/><circle cx="106.55" cy="812.45" r="3.3" fill="#E8241F"/><circle cx="113.72" cy="798.69" r="3.3" fill="#E8241F"/><circle cx="122.50" cy="829.44" r="3.3" fill="#E8241F"/><circle cx="122.65" cy="839.25" r="3.3" fill="#E8241F"/><circle cx="139.63" cy="799.64" r="3.3" fill="#E8241F"/><circle cx="149.85" cy="810.59" r="3.3" fill="#E8241F"/><circle cx="154.96" cy="803.28" r="3.3" fill="#E8241F"/><circle cx="158.90" cy="807.66" r="3.3" fill="#E8241F"/><circle cx="162.99" cy="806.50" r="3.3" fill="#E8241F"/><circle cx="165.47" cy="809.13" r="3.3" fill="#E8241F"/><circle cx="175.98" cy="806.93" r="3.3" fill="#E8241F"/><circle cx="185.47" cy="804.31" r="3.3" fill="#E8241F"/><circle cx="193.93" cy="818.17" r="3.3" fill="#E8241F"/><circle cx="213.20" cy="797.74" r="3.3" fill="#E8241F"/><circle cx="215.98" cy="802.85" r="3.3" fill="#E8241F"/><circle cx="222.84" cy="793.06" r="3.3" fill="#E8241F"/><circle cx="225.32" cy="795.11" r="3.3" fill="#E8241F"/><circle cx="228.24" cy="796.57" r="3.3" fill="#E8241F"/><circle cx="227.22" cy="801.39" r="3.3" fill="#E8241F"/><circle cx="237.00" cy="798.47" r="3.3" fill="#E8241F"/><circle cx="238.32" cy="798.98" r="3.3" fill="#E8241F"/><circle cx="247.73" cy="800.63" r="3.3" fill="#E8241F"/><circle cx="251.85" cy="804.75" r="3.3" fill="#E8241F"/><circle cx="253.83" cy="800.13" r="3.3" fill="#E8241F"/><circle cx="259.28" cy="802.28" r="3.3" fill="#E8241F"/><circle cx="269.18" cy="819.61" r="3.3" fill="#E8241F"/><circle cx="265.05" cy="836.60" r="3.3" fill="#E8241F"/><circle cx="261.26" cy="851.78" r="3.3" fill="#E8241F"/><circle cx="285.68" cy="810.86" r="3.3" fill="#E8241F"/><circle cx="296.08" cy="838.91" r="3.3" fill="#E8241F"/><circle cx="318.68" cy="804.75" r="3.3" fill="#E8241F"/><circle cx="319.51" cy="810.53" r="3.3" fill="#E8241F"/><text x="37.7" y="666.7" font-size="15.2" fill="#000">(E) Long: IGARCH−st</text></g>
<g><line x1="370.2" x2="683.6" y1="728.15" y2="728.15" stroke="#ebebeb" stroke-width="0.85"/><line x1="370.2" x2="683.6" y1="793.25" y2="793.25" stroke="#ebebeb" stroke-width="0.85"/><line x1="370.2" x2="683.6" y1="858.35" y2="858.35" stroke="#ebebeb" stroke-width="0.85"/><line x1="370.2" x2="683.6" y1="923.45" y2="923.45" stroke="#ebebeb" stroke-width="0.85"/><line x1="390.38" x2="390.38" y1="677.2" y2="939.3" stroke="#ebebeb" stroke-width="0.85"/><line x1="475.02" x2="475.02" y1="677.2" y2="939.3" stroke="#ebebeb" stroke-width="0.85"/><line x1="559.67" x2="559.67" y1="677.2" y2="939.3" stroke="#ebebeb" stroke-width="0.85"/><line x1="644.33" x2="644.33" y1="677.2" y2="939.3" stroke="#ebebeb" stroke-width="0.85"/><line x1="370.2" x2="683.6" y1="695.60" y2="695.60" stroke="#ebebeb" stroke-width="1.6"/><text x="364.2" y="699.3" font-size="10.5" fill="#4d4d4d" text-anchor="end">20</text><line x1="370.2" x2="683.6" y1="760.70" y2="760.70" stroke="#ebebeb" stroke-width="1.6"/><text x="364.2" y="764.4" font-size="10.5" fill="#4d4d4d" text-anchor="end">10</text><line x1="370.2" x2="683.6" y1="825.80" y2="825.80" stroke="#ebebeb" stroke-width="1.6"/><text x="364.2" y="829.5" font-size="10.5" fill="#4d4d4d" text-anchor="end">0</text><line x1="370.2" x2="683.6" y1="890.90" y2="890.90" stroke="#ebebeb" stroke-width="1.6"/><text x="364.2" y="894.6" font-size="10.5" fill="#4d4d4d" text-anchor="end">−10</text><line x1="432.70" x2="432.70" y1="677.2" y2="939.3" stroke="#ebebeb" stroke-width="1.6"/><text x="432.7" y="952.9" font-size="10.5" fill="#4d4d4d" text-anchor="middle">2010</text><line x1="517.35" x2="517.35" y1="677.2" y2="939.3" stroke="#ebebeb" stroke-width="1.6"/><text x="517.4" y="952.9" font-size="10.5" fill="#4d4d4d" text-anchor="middle">2015</text><line x1="602.00" x2="602.00" y1="677.2" y2="939.3" stroke="#ebebeb" stroke-width="1.6"/><text x="602.0" y="952.9" font-size="10.5" fill="#4d4d4d" text-anchor="middle">2020</text><polyline points="385.0,803.0 385.2,851.3 385.4,811.7 385.6,831.6 385.8,817.4 385.9,833.3 386.1,813.5 386.3,831.8 386.5,815.8 386.6,830.6 386.8,819.6 387.0,834.8 387.2,814.5 387.4,837.5 387.5,816.2 387.7,844.3 387.9,814.3 388.1,844.4 388.2,811.5 388.4,835.7 388.6,810.2 388.8,839.2 389.0,813.0 389.1,833.5 389.3,813.0 389.5,834.9 389.7,805.0 389.8,835.5 390.0,802.0 390.2,839.5 390.4,798.5 390.6,842.2 390.7,811.3 390.9,840.2 391.1,804.1 391.3,842.7 391.4,804.1 391.6,851.7 391.8,786.6 392.0,850.0 392.2,789.6 392.3,858.6 392.5,783.7 392.7,856.6 392.9,806.7 393.0,842.9 393.2,810.2 393.4,843.6 393.6,803.5 393.8,841.8 393.9,812.2 394.1,834.5 394.3,808.2 394.5,834.8 394.6,807.0 394.8,840.4 395.0,815.1 395.2,852.4 395.4,808.7 395.5,852.0 395.7,797.7 395.9,863.4 396.1,803.0 396.2,859.9 396.4,804.7 396.6,878.2 396.8,799.6 397.0,846.3 397.1,795.9 397.3,856.1 397.5,788.0 397.7,849.8 397.8,789.8 398.0,851.9 398.2,802.2 398.4,856.9 398.6,801.3 398.7,868.0 398.9,801.4 399.1,871.3 399.3,811.3 399.4,852.2 399.6,808.5 399.8,852.0 400.0,808.8 400.2,853.9 400.3,786.2 400.5,847.9 400.7,790.1 400.9,842.4 401.0,784.2 401.2,853.2 401.4,787.7 401.6,847.3 401.8,805.0 401.9,838.8 402.1,795.8 402.3,850.1 402.5,793.5 402.6,850.2 402.8,808.2 403.0,841.2 403.2,807.5 403.4,842.9 403.5,810.9 403.7,836.9 403.9,799.9 404.1,839.6 404.2,801.5 404.4,834.0 404.6,810.7 404.8,841.4 405.0,816.0 405.1,842.4 405.3,807.0 405.5,838.6 405.7,808.2 405.8,845.1 406.0,807.2 406.2,848.1 406.4,806.3 406.6,855.4 406.7,806.3 406.9,849.5 407.1,815.3 407.3,862.0 407.4,810.2 407.6,844.5 407.8,806.6 408.0,848.0 408.2,803.2 408.3,843.7 408.5,793.7 408.7,839.9 408.9,809.1 409.0,850.2 409.2,808.3 409.4,849.1 409.6,807.0 409.8,860.5 409.9,808.0 410.1,861.3 410.3,790.2 410.5,862.4 410.6,774.2 410.8,876.0 411.0,786.6 411.2,867.0 411.4,784.6 411.5,893.5 411.7,741.9 411.9,912.7 412.1,725.4 412.2,891.3 412.4,722.3 412.6,885.4 412.8,736.8 413.0,909.0 413.1,788.5 413.3,879.9 413.5,765.6 413.7,919.7 413.8,780.0 414.0,899.3 414.2,784.1 414.4,920.8 414.6,743.4 414.7,863.4 414.9,780.5 415.1,878.9 415.3,768.4 415.4,843.1 415.6,799.1 415.8,859.8 416.0,792.7 416.2,864.9 416.3,808.3 416.5,864.8 416.7,809.9 416.9,873.8 417.0,807.6 417.2,861.9 417.4,804.2 417.6,871.4 417.8,807.0 417.9,879.2 418.1,799.8 418.3,854.1 418.5,774.9 418.6,861.7 418.8,775.8 419.0,868.6 419.2,783.2 419.4,857.0 419.5,771.6 419.7,858.4 419.9,757.7 420.1,875.2 420.2,799.4 420.4,858.2 420.6,787.0 420.8,861.6 421.0,794.9 421.1,859.8 421.3,791.7 421.5,878.2 421.7,781.9 421.8,844.0 422.0,776.3 422.2,861.3 422.4,787.0 422.6,843.2 422.7,799.9 422.9,845.8 423.1,786.3 423.3,850.6 423.4,790.2 423.6,866.4 423.8,814.2 424.0,849.9 424.2,807.0 424.3,849.1 424.5,797.7 424.7,858.3 424.9,792.7 425.0,835.6 425.2,804.0 425.4,837.7 425.6,812.5 425.8,843.6 425.9,815.4 426.1,856.7 426.3,811.3 426.5,859.1 426.6,817.3 426.8,848.0 427.0,800.9 427.2,848.1 427.4,795.6 427.5,849.5 427.7,803.9 427.9,846.6 428.1,818.1 428.2,859.8 428.4,815.3 428.6,846.0 428.8,812.0 429.0,863.1 429.1,813.2 429.3,850.3 429.5,807.9 429.7,867.1 429.8,797.7 430.0,851.2 430.2,802.8 430.4,853.9 430.5,800.5 430.7,844.7 430.9,812.8 431.1,830.7 431.3,802.7 431.4,833.3 431.6,805.1 431.8,834.3 432.0,810.3 432.1,835.3 432.3,811.5 432.5,839.2 432.7,811.6 432.9,858.4 433.0,805.6 433.2,859.8 433.4,814.1 433.6,842.9 433.7,810.3 433.9,866.0 434.1,810.0 434.3,868.6 434.5,809.9 434.6,846.0 434.8,810.3 435.0,853.9 435.2,810.5 435.3,843.0 435.5,818.2 435.7,841.5 435.9,818.5 436.1,842.9 436.2,819.1 436.4,835.4 436.6,817.0 436.8,840.7 436.9,819.9 437.1,834.9 437.3,816.5 437.5,842.3 437.7,808.5 437.8,846.6 438.0,814.6 438.2,844.6 438.4,803.4 438.5,858.4 438.7,789.6 438.9,860.1 439.1,783.0 439.3,858.8 439.4,785.2 439.6,856.7 439.8,798.6 440.0,858.3 440.1,808.3 440.3,854.2 440.5,791.3 440.7,838.0 440.9,811.3 441.0,846.6 441.2,807.2 441.4,841.1 441.6,803.5 441.7,845.8 441.9,810.0 442.1,845.2 442.3,816.4 442.5,850.6 442.6,818.5 442.8,862.7 443.0,814.2 443.2,848.5 443.3,817.2 443.5,850.2 443.7,815.4 443.9,842.3 444.1,812.0 444.2,833.8 444.4,804.9 444.6,836.3 444.8,802.7 444.9,831.9 445.1,805.2 445.3,847.2 445.5,812.7 445.7,848.0 445.8,811.3 446.0,841.4 446.2,818.5 446.4,842.9 446.5,811.7 446.7,841.7 446.9,816.7 447.1,843.2 447.3,808.5 447.4,853.2 447.6,814.8 447.8,834.9 448.0,817.5 448.1,837.7 448.3,817.2 448.5,836.4 448.7,814.2 448.9,828.5 449.0,819.7 449.2,831.1 449.4,819.7 449.6,828.8 449.7,814.9 449.9,833.8 450.1,815.0 450.3,840.7 450.5,815.7 450.6,837.5 450.8,813.8 451.0,847.3 451.2,815.3 451.3,839.9 451.5,809.9 451.7,841.3 451.9,812.7 452.1,844.0 452.2,818.9 452.4,848.8 452.6,819.7 452.8,833.7 452.9,815.6 453.1,837.7 453.3,820.1 453.5,835.1 453.7,815.2 453.8,836.1 454.0,813.5 454.2,840.7 454.4,819.1 454.5,834.6 454.7,819.3 454.9,840.1 455.1,817.4 455.3,843.6 455.4,816.3 455.6,838.1 455.8,817.3 456.0,843.2 456.1,814.6 456.3,840.6 456.5,814.1 456.7,847.3 456.9,810.2 457.0,840.3 457.2,814.7 457.4,842.9 457.6,812.6 457.7,838.3 457.9,816.8 458.1,845.1 458.3,813.5 458.5,851.0 458.6,811.3 458.8,852.3 459.0,815.5 459.2,875.2 459.3,787.8 459.5,888.8 459.7,774.1 459.9,892.9 460.1,772.5 460.2,846.1 460.4,775.2 460.6,855.4 460.8,785.3 460.9,842.6 461.1,780.6 461.3,852.4 461.5,792.7 461.7,840.8 461.8,805.5 462.0,870.5 462.2,803.5 462.4,879.6 462.5,789.9 462.7,874.0 462.9,787.7 463.1,855.4 463.3,792.8 463.4,861.3 463.6,786.5 463.8,845.0 464.0,775.6 464.1,860.5 464.3,798.4 464.5,843.2 464.7,806.1 464.9,851.4 465.0,791.3 465.2,854.6 465.4,784.2 465.6,840.9 465.7,803.1 465.9,838.4 466.1,801.4 466.3,848.8 466.5,799.9 466.6,839.3 466.8,807.8 467.0,844.9 467.2,790.6 467.3,837.4 467.5,793.3 467.7,846.6 467.9,810.1 468.1,849.6 468.2,807.0 468.4,851.7 468.6,807.5 468.8,846.3 468.9,812.1 469.1,835.8 469.3,810.6 469.5,842.8 469.7,814.3 469.8,845.1 470.0,807.9 470.2,836.5 470.4,807.5 470.5,843.0 470.7,804.9 470.9,843.6 471.1,814.7 471.3,837.6 471.4,816.7 471.6,844.1 471.8,818.6 472.0,845.8 472.1,814.2 472.3,837.6 472.5,815.0 472.7,839.6 472.9,810.6 473.0,842.9 473.2,808.5 473.4,837.7 473.6,813.9 473.7,840.8 473.9,812.6 474.1,841.0 474.3,806.3 474.5,847.3 474.6,815.2 474.8,841.9 475.0,806.3 475.2,847.3 475.3,806.6 475.5,841.0 475.7,811.9 475.9,838.7 476.1,812.4 476.2,848.0 476.4,809.9 476.6,845.3 476.8,812.5 476.9,841.0 477.1,814.0 477.3,842.3 477.5,809.4 477.7,845.8 477.8,815.8 478.0,836.8 478.2,808.5 478.4,840.7 478.5,809.2 478.7,842.9 478.9,815.9 479.1,838.1 479.3,814.6 479.4,836.8 479.6,812.7 479.8,837.6 480.0,818.0 480.1,844.4 480.3,815.4 480.5,838.0 480.7,816.4 480.9,842.7 481.0,811.0 481.2,845.8 481.4,810.6 481.6,838.8 481.7,812.8 481.9,830.9 482.1,812.4 482.3,831.5 482.5,816.6 482.6,833.0 482.8,811.3 483.0,832.6 483.2,818.4 483.3,834.1 483.5,807.1 483.7,837.0 483.9,798.7 484.1,834.5 484.2,816.4 484.4,835.6 484.6,813.6 484.8,840.7 484.9,812.0 485.1,838.9 485.3,812.1 485.5,848.8 485.7,814.6 485.8,844.2 486.0,810.6 486.2,834.6 486.4,811.9 486.5,837.7 486.7,815.2 486.9,835.1 487.1,817.2 487.3,847.5 487.4,814.2 487.6,851.0 487.8,815.0 488.0,850.1 488.1,802.1 488.3,860.5 488.5,798.5 488.7,859.8 488.9,813.1 489.0,835.4 489.2,815.1 489.4,841.4 489.6,808.5 489.7,839.2 489.9,802.9 490.1,851.9 490.3,798.5 490.5,852.4 490.6,800.5 490.8,842.3 491.0,816.8 491.2,843.0 491.3,810.6 491.5,853.2 491.7,816.8 491.9,849.1 492.1,807.0 492.2,839.2 492.4,805.6 492.6,834.7 492.8,807.0 492.9,840.0 493.1,817.2 493.3,835.9 493.5,812.7 493.7,848.2 493.8,818.7 494.0,851.7 494.2,817.9 494.4,849.6 494.5,816.5 494.7,834.4 494.9,811.3 495.1,835.8 495.3,815.5 495.4,838.5 495.6,819.6 495.8,834.3 496.0,813.5 496.1,838.1 496.3,809.5 496.5,842.9 496.7,812.5 496.9,839.3 497.0,803.9 497.2,856.2 497.4,810.6 497.6,849.8 497.7,812.5 497.9,856.9 498.1,802.0 498.3,845.6 498.5,806.0 498.6,835.7 498.8,816.2 499.0,843.6 499.2,816.1 499.3,835.6 499.5,815.6 499.7,846.0 499.9,812.9 500.1,844.2 500.2,809.3 500.4,846.6 500.6,807.0 500.8,845.4 500.9,808.9 501.1,850.9 501.3,807.6 501.5,856.1 501.7,805.6 501.8,845.0 502.0,810.6 502.2,837.5 502.4,808.5 502.5,837.7 502.7,811.3 502.9,835.0 503.1,808.2 503.3,834.7 503.4,804.4 503.6,854.1 503.8,794.2 504.0,853.5 504.1,811.7 504.3,858.8 504.5,815.1 504.7,852.9 504.9,807.7 505.0,846.3 505.2,815.6 505.4,851.0 505.6,809.4 505.7,846.6 505.9,808.5 506.1,837.9 506.3,809.1 506.5,838.1 506.6,808.5 506.8,847.3 507.0,799.9 507.2,836.1 507.3,805.1 507.5,837.7 507.7,811.2 507.9,835.6 508.1,807.0 508.2,837.7 508.4,812.5 508.6,835.4 508.8,805.6 508.9,842.2 509.1,815.0 509.3,839.8 509.5,815.6 509.7,839.6 509.8,814.2 510.0,843.6 510.2,815.7 510.4,837.9 510.5,817.5 510.7,840.2 510.9,813.6 511.1,836.6 511.3,812.7 511.4,846.6 511.6,816.0 511.8,839.2 512.0,816.8 512.1,840.4 512.3,819.0 512.5,847.3 512.7,815.6 512.9,840.9 513.0,817.9 513.2,853.3 513.4,814.1 513.6,856.9 513.7,808.5 513.9,854.5 514.1,816.2 514.3,834.3 514.5,811.9 514.6,839.2 514.8,800.6 515.0,833.3 515.2,810.4 515.3,852.0 515.5,808.5 515.7,856.1 515.9,815.5 516.1,843.8 516.2,811.5 516.4,843.9 516.6,805.6 516.8,846.6 516.9,807.5 517.1,844.0 517.3,810.9 517.5,836.9 517.7,807.0 517.8,839.3 518.0,814.6 518.2,845.1 518.4,807.3 518.5,831.7 518.7,811.3 518.9,830.5 519.1,801.6 519.3,833.3 519.4,804.2 519.6,835.0 519.8,804.8 520.0,842.7 520.1,803.1 520.3,843.6 520.5,802.5 520.7,839.1 520.9,807.7 521.0,845.1 521.2,816.6 521.4,841.6 521.6,814.2 521.7,844.1 521.9,816.0 522.1,837.9 522.3,815.0 522.5,844.4 522.6,817.2 522.8,840.7 523.0,814.2 523.2,840.6 523.3,821.4 523.5,842.9 523.7,818.0 523.9,840.0 524.1,817.0 524.2,835.3 524.4,815.3 524.6,838.5 524.8,812.0 524.9,845.8 525.1,817.6 525.3,846.7 525.5,821.3 525.7,853.2 525.8,819.2 526.0,837.4 526.2,817.0 526.4,836.0 526.5,813.6 526.7,840.0 526.9,810.5 527.1,839.2 527.3,810.2 527.4,840.8 527.6,811.8 527.8,852.1 528.0,803.0 528.1,839.6 528.3,797.7 528.5,842.9 528.7,808.5 528.9,839.4 529.0,804.2 529.2,851.0 529.4,798.3 529.6,842.5 529.7,799.2 529.9,840.9 530.1,809.6 530.3,843.6 530.5,797.3 530.6,842.4 530.8,811.9 531.0,850.1 531.2,810.9 531.3,851.0 531.5,808.5 531.7,847.7 531.9,815.6 532.1,847.9 532.2,811.1 532.4,848.5 532.6,810.6 532.8,850.2 532.9,814.9 533.1,836.3 533.3,795.1 533.5,837.7 533.7,802.9 533.8,832.0 534.0,784.5 534.2,849.0 534.4,815.4 534.5,868.9 534.7,808.5 534.9,850.8 535.1,808.3 535.3,845.3 535.4,802.5 535.6,848.8 535.8,807.9 536.0,842.1 536.1,810.3 536.3,833.1 536.5,807.0 536.7,837.0 536.9,810.8 537.0,835.6 537.2,805.3 537.4,838.3 537.6,813.7 537.7,842.7 537.9,815.8 538.1,843.6 538.3,817.9 538.5,838.0 538.6,814.2 538.8,837.2 539.0,814.2 539.2,840.7 539.3,816.9 539.5,833.3 539.7,811.3 539.9,833.9 540.1,816.1 540.2,839.2 540.4,819.6 540.6,835.6 540.8,814.9 540.9,835.1 541.1,819.2 541.3,834.9 541.5,816.1 541.7,841.4 541.8,812.0 542.0,842.9 542.2,818.7 542.4,842.1 542.5,811.9 542.7,855.1 542.9,802.0 543.1,833.6 543.3,819.3 543.4,836.3 543.6,819.5 543.8,833.4 544.0,813.5 544.1,838.3 544.3,815.3 544.5,835.2 544.7,818.2 544.9,843.6 545.0,818.2 545.2,835.3 545.4,814.9 545.6,844.0 545.7,819.2 545.9,844.4 546.1,818.3 546.3,839.5 546.5,817.8 546.6,836.7 546.8,812.0 547.0,839.2 547.2,816.5 547.3,833.3 547.5,820.1 547.7,837.1 547.9,818.8 548.1,837.5 548.2,814.9 548.4,838.9 548.6,817.8 548.8,838.5 548.9,816.4 549.1,833.3 549.3,811.3 549.5,837.7 549.7,816.6 549.8,836.6 550.0,811.7 550.2,833.8 550.4,816.3 550.5,834.0 550.7,808.5 550.9,835.5 551.1,809.4 551.3,833.6 551.4,817.5 551.6,832.7 551.8,809.2 552.0,833.1 552.1,816.1 552.3,839.2 552.5,816.7 552.7,833.5 552.9,808.2 553.0,837.9 553.2,809.1 553.4,840.4 553.6,815.0 553.7,840.2 553.9,812.5 554.1,843.9 554.3,807.7 554.5,845.8 554.6,808.5 554.8,845.2 555.0,820.5 555.2,836.9 555.3,815.6 555.5,839.5 555.7,815.9 555.9,842.9 556.1,816.4 556.2,839.2 556.4,808.5 556.6,846.6 556.8,809.8 556.9,837.4 557.1,811.3 557.3,843.4 557.5,804.9 557.7,847.9 557.8,809.1 558.0,852.1 558.2,815.6 558.4,834.9 558.5,808.5 558.7,836.3 558.9,811.4 559.1,835.4 559.3,812.9 559.4,838.0 559.6,809.2 559.8,834.4 560.0,817.1 560.1,838.5 560.3,813.5 560.5,833.6 560.7,814.8 560.9,836.8 561.0,818.0 561.2,840.7 561.4,820.3 561.6,838.6 561.7,816.3 561.9,830.7 562.1,817.7 562.3,831.9 562.5,819.2 562.6,834.1 562.8,817.6 563.0,835.4 563.2,818.5 563.3,837.0 563.5,815.4 563.7,838.9 563.9,811.6 564.1,838.3 564.2,818.0 564.4,840.7 564.6,818.6 564.8,839.5 564.9,816.3 565.1,839.1 565.3,814.2 565.5,840.0 565.7,814.9 565.8,836.1 566.0,814.1 566.2,841.2 566.4,813.5 566.5,837.7 566.7,817.4 566.9,843.6 567.1,820.0 567.3,830.6 567.4,815.1 567.6,829.6 567.8,814.9 568.0,832.6 568.1,817.2 568.3,835.7 568.5,815.8 568.7,840.5 568.9,807.3 569.0,843.6 569.2,814.3 569.4,835.1 569.6,818.7 569.7,845.9 569.9,816.0 570.1,850.2 570.3,813.5 570.5,838.2 570.6,818.2 570.8,837.6 571.0,816.5 571.2,837.7 571.3,813.9 571.5,834.3 571.7,810.6 571.9,841.0 572.1,813.6 572.2,842.9 572.4,814.8 572.6,838.9 572.8,818.5 572.9,833.7 573.1,813.5 573.3,833.0 573.5,814.5 573.7,839.2 573.8,816.6 574.0,832.7 574.2,809.5 574.4,830.8 574.5,809.2 574.7,834.1 574.9,810.1 575.1,830.3 575.3,818.3 575.4,833.8 575.6,815.6 575.8,837.8 576.0,817.6 576.1,838.9 576.3,818.0 576.5,836.3 576.7,816.9 576.9,833.8 577.0,816.3 577.2,837.7 577.4,818.2 577.6,834.4 577.7,820.5 577.9,834.7 578.1,816.3 578.3,835.5 578.5,813.9 578.6,834.6 578.8,818.6 579.0,833.3 579.2,817.1 579.3,836.1 579.5,819.5 579.7,833.8 579.9,817.2 580.1,837.7 580.2,814.2 580.4,832.2 580.6,816.8 580.8,844.5 580.9,810.9 581.1,843.5 581.3,809.0 581.5,847.3 581.7,804.9 581.8,838.9 582.0,811.7 582.2,845.8 582.4,812.8 582.5,845.8 582.7,811.9 582.9,836.7 583.1,806.3 583.3,837.1 583.4,814.5 583.6,843.7 583.8,810.8 584.0,844.4 584.1,808.5 584.3,844.6 584.5,808.6 584.7,841.9 584.8,790.0 585.0,845.8 585.2,788.7 585.4,841.2 585.6,799.5 585.7,836.0 585.9,809.3 586.1,836.3 586.3,808.5 586.4,836.0 586.6,812.9 586.8,842.9 587.0,815.6 587.2,845.1 587.3,811.3 587.5,845.1 587.7,802.3 587.9,841.9 588.0,801.3 588.2,850.7 588.4,802.1 588.6,840.5 588.8,814.0 588.9,834.8 589.1,804.2 589.3,836.3 589.5,811.8 589.6,833.8 589.8,818.0 590.0,831.6 590.2,816.3 590.4,837.0 590.5,817.5 590.7,833.0 590.9,816.5 591.1,841.2 591.2,812.7 591.4,848.8 591.6,810.7 591.8,845.9 592.0,808.5 592.1,834.4 592.3,816.2 592.5,839.2 592.7,812.2 592.8,835.3 593.0,804.9 593.2,833.4 593.4,813.7 593.6,840.0 593.7,816.2 593.9,837.8 594.1,814.9 594.3,853.6 594.4,815.0 594.6,852.2 594.8,815.4 595.0,853.9 595.2,810.6 595.3,842.1 595.5,815.8 595.7,835.6 595.9,813.7 596.0,839.2 596.2,813.5 596.4,834.9 596.6,809.9 596.8,846.4 596.9,817.0 597.1,848.0 597.3,815.7 597.5,846.8 597.6,812.0 597.8,835.3 598.0,819.6 598.2,832.3 598.4,817.2 598.5,836.3 598.7,816.3 598.9,831.1 599.1,819.2 599.2,835.5 599.4,816.9 599.6,838.5 599.8,814.2 600.0,833.2 600.1,819.7 600.3,829.9 600.5,815.5 600.7,830.8 600.8,812.2 601.0,832.6 601.2,813.5 601.4,835.4 601.6,812.0 601.7,835.5 601.9,818.7 602.1,831.6 602.3,816.3 602.4,843.8 602.6,813.2 602.8,851.0 603.0,807.0 603.2,839.8 603.3,801.9 603.5,840.4 603.7,794.9 603.9,852.4 604.0,799.0 604.2,857.1 604.4,788.9 604.6,876.0 604.8,784.9 604.9,861.4 605.1,793.3 605.3,878.8 605.5,774.2 605.6,927.4 605.8,762.6 606.0,866.6 606.2,737.4 606.4,876.0 606.5,751.8 606.7,873.8 606.9,779.8 607.1,849.8 607.2,774.9 607.4,864.2 607.6,803.4 607.8,853.7 608.0,786.3 608.1,857.6 608.3,790.5 608.5,849.8 608.7,783.1 608.8,875.5 609.0,779.2 609.2,866.8 609.4,807.3 609.6,889.9 609.7,794.2 609.9,835.6 610.1,799.8 610.3,844.1 610.4,794.3 610.6,845.1 610.8,801.5 611.0,840.6 611.2,792.7 611.3,843.0 611.5,795.8 611.7,843.6 611.9,800.5 612.0,838.9 612.2,794.2 612.4,839.9 612.6,807.3 612.8,844.4 612.9,814.7 613.1,863.7 613.3,807.0 613.5,870.8 613.6,790.7 613.8,860.6 614.0,801.0 614.2,841.3 614.4,790.6 614.5,848.8 614.7,799.7 614.9,857.8 615.1,799.7 615.2,861.3 615.4,789.9 615.6,860.5 615.8,805.1 616.0,839.5 616.1,780.0 616.3,846.6 616.5,765.6 616.7,840.5 616.8,770.1 617.0,851.5 617.2,771.1 617.4,853.9 617.6,769.2 617.7,848.5 617.9,796.6 618.1,846.2 618.3,791.3 618.4,851.7 618.6,781.3 618.8,845.1 619.0,794.6 619.2,858.0 619.3,779.2 619.5,863.5 619.7,777.0 619.9,846.6 620.0,794.6 620.2,849.1 620.4,788.5 620.6,859.8 620.8,807.8 620.9,868.0 621.1,802.0 621.3,869.5 621.5,806.3 621.6,870.4 621.8,790.1 622.0,864.8 622.2,790.5 622.4,853.9 622.5,766.0 622.7,866.4 622.9,791.7 623.1,852.5 623.2,788.5 623.4,845.5 623.6,789.4 623.8,856.9 624.0,795.1 624.1,846.3 624.3,803.8 624.5,849.9 624.7,794.2 624.8,863.5 625.0,808.3 625.2,849.3 625.4,794.9 625.6,844.2 625.7,809.1 625.9,844.4 626.1,808.1 626.3,837.8 626.4,797.0 626.6,845.8 626.8,810.3 627.0,841.1 627.2,802.0 627.3,855.0 627.5,798.5 627.7,851.7 627.9,801.0 628.0,857.6 628.2,810.1 628.4,840.1 628.6,795.2 628.8,848.0 628.9,794.6 629.1,837.7 629.3,806.0 629.5,844.5 629.6,808.5 629.8,851.0 630.0,798.5 630.2,845.3 630.4,811.5 630.5,847.5 630.7,811.6 630.9,845.9 631.1,811.3 631.2,861.0 631.4,812.0 631.6,834.6 631.8,803.5 632.0,838.3 632.1,803.5 632.3,840.7 632.5,807.4 632.7,841.4 632.8,808.0 633.0,849.9 633.2,792.0 633.4,853.2 633.6,805.9 633.7,842.1 633.9,796.3 634.1,863.2 634.3,793.5 634.4,865.7 634.6,808.8 634.8,864.9 635.0,807.6 635.2,850.3 635.3,802.0 635.5,861.3 635.7,812.6 635.9,850.4 636.0,798.6 636.2,851.8 636.4,798.5 636.6,866.4 636.8,810.3 636.9,849.0 637.1,792.7 637.3,847.3 637.5,767.0 637.6,857.6 637.8,769.5 638.0,842.4 638.2,795.5 638.4,856.6 638.5,774.9 638.7,855.6 638.9,774.5 639.1,871.8 639.2,774.4 639.4,872.3 639.6,793.8 639.8,857.3 640.0,792.9 640.1,847.8 640.3,792.0 640.5,855.4 640.7,797.0 640.8,845.2 641.0,808.9 641.2,870.4 641.4,792.7 641.6,883.8 641.7,796.3 641.9,892.1 642.1,783.0 642.3,874.4 642.4,771.3 642.6,859.3 642.8,797.8 643.0,869.3 643.2,787.0 643.3,859.2 643.5,790.3 643.7,850.2 643.9,792.6 644.0,866.4 644.2,785.6 644.4,863.3 644.6,784.2 644.8,844.1 644.9,784.9 645.1,856.9 645.3,779.6 645.5,843.9 645.6,775.6 645.8,850.1 646.0,795.6 646.2,846.0 646.4,785.3 646.5,864.2 646.7,784.9 646.9,852.9 647.1,798.2 647.2,840.6 647.4,810.9 647.6,852.4 647.8,796.3 648.0,850.7 648.1,793.6 648.3,866.2 648.5,795.5 648.7,866.4 648.8,789.9 649.0,856.8 649.2,794.1 649.4,843.6 649.6,794.3 649.7,858.3 649.9,784.9 650.1,849.2 650.3,802.4 650.4,851.2 650.6,784.1 650.8,857.6 651.0,762.7 651.2,849.7 651.3,801.1 651.5,852.1 651.7,789.9 651.9,852.9 652.0,797.1 652.2,865.7 652.4,798.7 652.6,864.4 652.8,798.5 652.9,854.7 653.1,800.7 653.3,856.9 653.5,806.4 653.6,856.5 653.8,806.6 654.0,842.4 654.2,795.6 654.4,848.0 654.5,799.6 654.7,855.4 654.9,804.9 655.1,850.7 655.2,794.6 655.4,856.1 655.6,805.8 655.8,855.6 656.0,802.8 656.1,844.9 656.3,801.6 656.5,851.7 656.7,794.2 656.8,850.1 657.0,794.4 657.2,844.5 657.4,815.9 657.6,850.2 657.7,814.7 657.9,838.9 658.1,812.0 658.3,841.6 658.4,813.1 658.6,845.6 658.8,810.9 659.0,848.0 659.2,797.7 659.3,841.6 659.5,806.4 659.7,842.9 659.9,800.1 660.0,837.5 660.2,799.9 660.4,837.1 660.6,805.7 660.8,843.3 660.9,807.8 661.1,844.4 661.3,800.6 661.5,845.9 661.6,804.2 661.8,847.3 662.0,808.9 662.2,839.8 662.4,807.2 662.5,847.5 662.7,801.0 662.9,856.9 663.1,808.8 663.2,851.4 663.4,806.9 663.6,842.8 663.8,805.6 664.0,847.3 664.1,814.2 664.3,838.9 664.5,809.2 664.7,846.7 664.8,801.6 665.0,840.6 665.2,816.8 665.4,851.7 665.6,809.2 665.7,842.9 665.9,815.1 666.1,843.7 666.3,794.3 666.4,860.5 666.6,784.9 666.8,859.2 667.0,794.4 667.2,846.4 667.3,778.3 667.5,847.6 667.7,773.9 667.9,849.5 668.0,776.1 668.2,842.9 668.4,789.6 668.6,842.4 668.8,782.7 668.9,855.4 669.1,785.3 669.3,846.2 669.5,793.5 669.6,846.8" fill="none" stroke="#b3b3b3" stroke-width="1.0" stroke-linejoin="round"/><polyline points="384.6,807.6 384.7,807.2 384.8,807.9 384.9,807.4 385.0,808.1 385.1,807.9 385.2,808.4 385.3,808.2 385.4,808.6 385.5,807.9 385.6,808.9 385.7,808.3 385.8,809.1 385.9,808.8 386.0,809.4 386.1,809.0 386.2,809.6 386.3,809.3 386.4,809.7 386.5,809.5 386.6,809.7 386.7,809.6 386.8,809.8 386.9,809.7 387.0,809.9 387.1,809.8 387.2,810.0 387.3,809.9 387.4,810.1 387.5,809.7 387.6,810.1 387.7,809.8 387.8,810.2 387.9,810.0 388.0,810.3 388.1,810.1 388.2,810.3 388.3,810.0 388.4,810.3 388.5,809.9 388.6,810.2 388.7,809.9 388.8,810.1 388.9,809.8 389.0,809.9 389.1,809.7 389.2,809.8 389.3,809.6 389.4,809.7 389.5,809.5 389.6,809.5 389.7,809.4 389.8,809.4 389.9,808.9 390.0,809.3 390.1,808.7 390.2,809.1 390.3,808.3 390.4,809.0 390.5,808.0 390.6,808.9 390.7,807.2 390.8,808.7 390.9,807.0 391.0,808.6 391.1,806.8 391.2,808.4 391.3,806.5 391.4,808.2 391.5,806.5 391.6,808.1 391.7,806.4 391.8,807.9 391.9,806.8 392.0,807.7 392.1,806.6 392.2,807.6 392.3,807.0 392.4,807.4 392.5,806.5 392.6,806.8 392.7,805.3 392.8,806.2 392.9,804.7 393.0,805.6 393.1,804.6 393.2,805.0 393.3,803.9 393.4,804.4 393.5,803.6 393.6,803.8 393.7,803.0 393.8,803.2 393.9,802.2 394.0,800.9 394.1,798.9 394.2,797.6 394.3,795.6 394.4,796.2 394.5,791.8 394.6,794.9 394.7,789.9 394.8,795.9 394.9,786.2 395.0,795.1 395.1,781.8 395.2,793.7 395.3,777.1 395.4,791.9 395.5,768.5 395.6,791.5 395.7,763.2 395.8,791.1 395.9,758.0 396.0,789.6 396.1,757.6 396.2,747.3 396.3,757.7 396.4,788.8 396.5,759.4 396.6,788.7 396.7,769.9 396.8,788.3 396.9,768.9 397.0,788.0 397.1,774.0 397.2,786.8 397.3,772.6 397.4,787.9 397.5,778.3 397.6,789.0 397.7,777.1 397.8,792.2 397.9,777.7 398.0,793.0 398.1,776.4 398.2,793.3 398.3,778.5 398.4,794.9 398.5,775.2 398.6,795.1 398.7,779.2 398.8,795.1 398.9,776.8 399.0,795.5 399.1,777.2 399.2,795.6 399.3,779.0 399.4,796.0 399.5,777.0 399.6,794.6 399.7,774.1 399.8,794.7 399.9,772.1 400.0,794.8 400.1,772.2 400.2,795.5 400.3,778.0 400.4,795.6 400.5,774.1 400.6,795.7 400.7,774.1 400.8,794.2 400.9,776.4 401.0,794.3 401.1,777.3 401.2,794.6 401.3,777.7 401.4,793.7 401.5,778.7 401.6,794.0 401.7,780.5 401.8,794.2 401.9,778.7 402.0,794.7 402.1,781.1 402.2,794.9 402.3,783.1 402.4,795.3 402.5,784.6 402.6,797.6 402.7,784.4 402.8,797.9 402.9,786.9 403.0,798.2 403.1,790.0 403.2,798.2 403.3,791.0 403.4,798.5 403.5,792.2 403.6,799.1 403.7,793.6 403.8,798.6 403.9,794.8 404.0,799.1 404.1,795.9 404.2,799.6 404.3,797.1 404.4,800.7 404.5,797.9 404.6,801.1 404.7,798.8 404.8,801.5 404.9,799.5 405.0,801.9 405.1,799.0 405.2,801.9 405.3,799.7 405.4,801.2 405.5,800.5 405.6,801.3 405.7,800.6 405.8,801.3 405.9,800.9 406.0,800.1 406.1,798.1 406.2,801.4 406.3,795.9 406.4,800.9 406.5,793.8 406.6,800.3 406.7,791.1 406.8,800.7 406.9,789.4 407.0,800.6 407.1,787.8 407.2,800.5 407.3,789.0 407.4,801.1 407.5,788.8 407.6,800.9 407.7,787.4 407.8,800.8 407.9,781.6 408.0,799.0 408.1,782.3 408.2,798.9 408.3,781.9 408.4,798.8 408.5,786.2 408.6,782.5 408.7,788.9 408.8,801.6 408.9,791.3 409.0,799.4 409.1,793.8 409.2,800.0 409.3,796.3 409.4,798.4 409.5,796.3 409.6,796.7 409.7,796.2 409.8,791.9 409.9,786.6 410.0,788.5 410.1,776.8 410.2,785.1 410.3,767.4 410.4,782.7 410.5,761.6 410.6,779.5 410.7,753.9 410.8,776.4 410.9,749.8 411.0,769.0 411.1,738.1 411.2,768.9 411.3,732.2 411.4,768.9 411.5,720.5 411.6,769.3 411.7,710.1 411.8,769.3 411.9,705.9 412.0,769.2 412.1,699.0 412.2,767.9 412.3,710.1 412.4,767.7 412.5,700.4 412.6,767.4 412.7,691.8 412.8,770.8 412.9,698.9 413.0,770.6 413.1,691.4 413.2,770.5 413.3,700.7 413.4,772.6 413.5,701.7 413.6,772.6 413.7,700.2 413.8,772.6 413.9,707.5 414.0,774.1 414.1,701.2 414.2,689.5 414.3,707.7 414.4,774.1 414.5,709.9 414.6,774.5 414.7,727.4 414.8,774.5 414.9,731.6 415.0,774.5 415.1,732.2 415.2,775.7 415.3,735.7 415.4,778.2 415.5,745.7 415.6,780.7 415.7,749.4 415.8,782.6 415.9,758.6 416.0,785.4 416.1,758.9 416.2,788.2 416.3,764.8 416.4,785.3 416.5,763.2 416.6,784.7 416.7,767.2 416.8,785.6 416.9,763.6 417.0,788.3 417.1,765.7 417.2,788.2 417.3,759.0 417.4,788.0 417.5,759.9 417.6,787.9 417.7,755.5 417.8,787.6 417.9,754.5 418.0,787.2 418.1,748.5 418.2,786.7 418.3,750.6 418.4,786.3 418.5,753.1 418.6,786.2 418.7,753.1 418.8,787.1 418.9,755.2 419.0,787.0 419.1,751.6 419.2,786.9 419.3,751.1 419.4,744.1 419.5,755.6 419.6,785.5 419.7,751.1 419.8,785.4 419.9,751.6 420.0,785.3 420.1,752.0 420.2,785.2 420.3,757.7 420.4,785.1 420.5,758.0 420.6,785.6 420.7,762.8 420.8,785.3 420.9,764.0 421.0,785.0 421.1,763.6 421.2,784.3 421.3,766.5 421.4,784.7 421.5,769.7 421.6,785.5 421.7,772.8 421.8,787.3 421.9,773.3 422.0,788.0 422.1,774.7 422.2,788.7 422.3,775.2 422.4,787.0 422.5,774.2 422.6,787.6 422.7,776.1 422.8,788.1 422.9,778.7 423.0,787.4 423.1,779.1 423.2,787.9 423.3,779.7 423.4,788.2 423.5,780.7 423.6,787.5 423.7,780.5 423.8,787.9 423.9,782.2 424.0,788.2 424.1,782.6 424.2,789.4 424.3,783.6 424.4,789.9 424.5,784.1 424.6,790.5 424.7,784.8 424.8,792.2 424.9,786.1 425.0,792.8 425.1,785.6 425.2,793.4 425.3,786.2 425.4,792.7 425.5,787.0 425.6,793.0 425.7,788.8 425.8,793.3 425.9,789.4 426.0,793.9 426.1,790.1 426.2,794.3 426.3,790.9 426.4,794.6 426.5,790.7 426.6,795.0 426.7,791.3 426.8,795.6 426.9,791.5 427.0,796.2 427.1,792.8 427.2,796.3 427.3,792.8 427.4,796.9 427.5,793.8 427.6,798.0 427.7,793.4 427.8,800.5 427.9,794.4 428.0,802.0 428.1,794.2 428.2,802.7 428.3,794.8 428.4,801.3 428.5,795.2 428.6,799.8 428.7,795.8 428.8,799.2 428.9,795.8 429.0,799.5 429.1,794.9 429.2,799.7 429.3,793.1 429.4,799.9 429.5,790.8 429.6,799.9 429.7,784.0 429.8,800.2 429.9,789.3 430.0,800.3 430.1,791.0 430.2,799.9 430.3,791.0 430.4,800.1 430.5,792.3 430.6,799.5 430.7,793.8 430.8,800.3 430.9,796.1 431.0,800.7 431.1,796.1 431.2,801.1 431.3,798.0 431.4,801.6 431.5,798.0 431.6,802.0 431.7,798.4 431.8,802.4 431.9,800.0 432.0,803.5 432.1,801.3 432.2,803.8 432.3,802.2 432.4,804.0 432.5,802.7 432.6,803.9 432.7,802.4 432.8,804.4 432.9,801.6 433.0,803.2 433.1,799.3 433.2,802.7 433.3,797.7 433.4,802.9 433.5,792.8 433.6,803.0 433.7,791.7 433.8,803.8 433.9,788.1 434.0,804.0 434.1,784.0 434.2,804.2 434.3,788.1 434.4,805.0 434.5,792.2 434.6,805.2 434.7,795.0 434.8,805.4 434.9,796.7 435.0,804.4 435.1,798.5 435.2,804.5 435.3,800.0 435.4,805.1 435.5,801.6 435.6,806.7 435.7,804.3 435.8,807.4 435.9,805.6 436.0,808.0 436.1,806.2 436.2,808.3 436.3,807.4 436.4,808.2 436.5,808.2 436.6,809.2 436.7,808.2 436.8,809.2 436.9,808.2 437.0,809.2 437.1,808.3 437.2,806.3 437.3,802.9 437.4,802.5 437.5,799.1 437.6,801.9 437.7,794.7 437.8,801.3 437.9,789.2 438.0,800.8 438.1,786.9 438.2,800.4 438.3,783.3 438.4,800.0 438.5,773.7 438.6,800.2 438.7,781.8 438.8,799.8 438.9,780.2 439.0,799.4 439.1,784.1 439.2,799.2 439.3,782.7 439.4,798.8 439.5,784.4 439.6,798.5 439.7,785.2 439.8,799.6 439.9,789.0 440.0,799.5 440.1,788.3 440.2,799.9 440.3,789.2 440.4,801.2 440.5,788.5 440.6,801.6 440.7,791.8 440.8,802.0 440.9,790.5 441.0,801.7 441.1,792.0 441.2,802.2 441.3,791.6 441.4,802.5 441.5,790.5 441.6,802.0 441.7,790.2 441.8,802.3 441.9,794.3 442.0,802.4 442.1,794.1 442.2,802.3 442.3,794.2 442.4,802.4 442.5,794.7 442.6,802.3 442.7,796.3 442.8,803.1 442.9,796.5 443.0,803.0 443.1,796.6 443.2,803.2 443.3,797.2 443.4,803.5 443.5,798.3 443.6,803.6 443.7,798.8 443.8,803.8 443.9,798.8 444.0,804.3 444.1,799.9 444.2,804.4 444.3,800.5 444.4,804.7 444.5,800.8 444.6,803.9 444.7,800.6 444.8,804.1 444.9,801.5 445.0,804.4 445.1,802.5 445.2,805.1 445.3,802.5 445.4,805.5 445.5,803.6 445.6,805.8 445.7,804.0 445.8,804.3 445.9,804.2 446.0,804.4 446.1,804.3 446.2,804.4 446.3,804.3 446.4,803.7 446.5,803.0 446.6,803.4 446.7,801.9 446.8,803.6 446.9,800.6 447.0,803.3 447.1,799.0 447.2,803.5 447.3,796.4 447.4,803.7 447.5,800.0 447.6,804.6 447.7,801.8 447.8,804.9 447.9,802.3 448.0,805.1 448.1,803.9 448.2,806.1 448.3,805.3 448.4,806.9 448.5,806.3 448.6,808.0 448.7,807.1 448.8,808.3 448.9,808.4 449.0,809.6 449.1,809.9 449.2,810.2 449.3,809.9 449.4,810.2 449.5,810.0 449.6,810.0 449.7,809.4 449.8,809.2 449.9,808.5 450.0,808.5 450.1,807.8 450.2,807.7 450.3,807.2 450.4,807.0 450.5,806.4 450.6,806.3 450.7,805.8 450.8,806.3 450.9,804.5 451.0,806.2 451.1,802.8 451.2,805.1 451.3,800.8 451.4,805.0 451.5,799.0 451.6,804.9 451.7,799.3 451.8,805.3 451.9,799.0 452.0,805.3 452.1,799.1 452.2,805.3 452.3,797.1 452.4,805.5 452.5,797.8 452.6,805.5 452.7,801.0 452.8,805.3 452.9,801.8 453.0,805.2 453.1,803.6 453.2,804.9 453.3,805.2 453.4,806.5 453.5,807.0 453.6,807.5 453.7,807.3 453.8,807.7 453.9,807.7 454.0,808.0 454.1,808.0 454.2,808.2 454.3,808.3 454.4,808.5 454.5,808.5 454.6,808.7 454.7,808.7 454.8,808.7 454.9,808.7 455.0,808.7 455.1,808.4 455.2,808.2 455.3,807.3 455.4,807.2 455.5,806.6 455.6,807.2 455.7,805.5 455.8,807.4 455.9,805.2 456.0,806.9 456.1,804.2 456.2,806.6 456.3,803.2 456.4,806.6 456.5,803.4 456.6,807.0 456.7,802.8 456.8,806.9 456.9,802.6 457.0,806.9 457.1,799.9 457.2,801.5 457.3,801.3 457.4,806.7 457.5,803.3 457.6,805.4 457.7,804.6 457.8,806.7 457.9,806.7 458.0,807.4 458.1,806.7 458.2,807.4 458.3,806.9 458.4,802.9 458.5,797.7 458.6,793.9 458.7,788.9 458.8,790.8 458.9,780.4 459.0,789.5 459.1,775.2 459.2,789.5 459.3,765.2 459.4,789.5 459.5,762.3 459.6,789.6 459.7,755.7 459.8,789.6 459.9,745.2 460.0,789.6 460.1,750.4 460.2,789.0 460.3,760.2 460.4,788.5 460.5,758.5 460.6,788.0 460.7,760.7 460.8,786.9 460.9,759.7 461.0,786.5 461.1,765.7 461.2,786.3 461.3,762.8 461.4,787.7 461.5,763.7 461.6,788.0 461.7,765.7 461.8,788.3 461.9,762.2 462.0,788.4 462.1,764.8 462.2,789.0 462.3,767.1 462.4,789.5 462.5,761.3 462.6,789.4 462.7,769.4 462.8,789.2 462.9,769.6 463.0,789.0 463.1,766.0 463.2,788.7 463.3,767.8 463.4,788.2 463.5,772.1 463.6,788.2 463.7,772.5 463.8,788.8 463.9,775.8 464.0,789.1 464.1,775.8 464.2,789.4 464.3,778.7 464.4,792.0 464.5,779.1 464.6,792.0 464.7,780.2 464.8,792.3 464.9,784.0 465.0,791.4 465.1,784.9 465.2,792.0 465.3,785.9 465.4,792.5 465.5,786.7 465.6,794.7 465.7,788.9 465.8,795.4 465.9,789.0 466.0,795.9 466.1,790.0 466.2,797.5 466.3,791.9 466.4,797.8 466.5,792.0 466.6,798.2 466.7,793.9 466.8,797.3 466.9,794.3 467.0,797.9 467.1,795.1 467.2,798.1 467.3,795.7 467.4,798.1 467.5,796.5 467.6,798.4 467.7,797.0 467.8,798.6 467.9,797.8 468.0,799.9 468.1,798.7 468.2,800.3 468.3,798.4 468.4,800.6 468.5,799.0 468.6,801.1 468.7,799.4 468.8,801.4 468.9,799.8 469.0,801.4 469.1,800.4 469.2,801.5 469.3,800.5 469.4,801.7 469.5,801.1 469.6,801.9 469.7,801.4 469.8,801.7 469.9,801.5 470.0,794.9 470.1,801.9 470.2,804.2 470.3,797.2 470.4,804.2 470.5,797.8 470.6,804.2 470.7,798.4 470.8,804.2 470.9,799.4 471.0,804.4 471.1,799.8 471.2,804.4 471.3,800.5 471.4,804.4 471.5,800.5 471.6,804.5 471.7,800.6 471.8,804.4 471.9,800.5 472.0,804.4 472.1,800.8 472.2,805.2 472.3,801.7 472.4,805.8 472.5,801.8 472.6,806.0 472.7,799.7 472.8,805.9 472.9,799.7 473.0,806.0 473.1,800.2 473.2,806.1 473.3,799.4 473.4,805.9 473.5,800.9 473.6,806.0 473.7,800.6 473.8,799.2 473.9,799.4 474.0,805.9 474.1,800.0 474.2,806.0 474.3,800.2 474.4,806.2 474.5,800.8 474.6,806.7 474.7,800.8 474.8,806.9 474.9,800.3 475.0,807.0 475.1,802.1 475.2,806.4 475.3,801.8 475.4,806.6 475.5,800.2 475.6,806.7 475.7,800.3 475.8,807.5 475.9,801.2 476.0,807.5 476.1,801.6 476.2,807.4 476.3,802.5 476.4,806.6 476.5,802.9 476.6,806.7 476.7,804.0 476.8,806.7 476.9,804.5 477.0,806.9 477.1,805.0 477.2,806.9 477.3,805.1 477.4,806.9 477.5,805.9 477.6,806.9 477.7,806.0 477.8,807.0 477.9,806.4 478.0,807.0 478.1,806.6 478.2,807.6 478.3,807.0 478.4,807.6 478.5,807.0 478.6,807.7 478.7,807.3 478.8,807.9 478.9,807.6 479.0,808.1 479.1,807.7 479.2,808.2 479.3,807.9 479.4,808.0 479.5,806.1 479.6,808.1 479.7,806.4 479.8,808.5 479.9,807.1 480.0,809.2 480.1,806.9 480.2,809.3 480.3,807.4 480.4,809.4 480.5,807.2 480.6,809.1 480.7,807.6 480.8,809.2 480.9,807.2 481.0,809.2 481.1,806.3 481.2,809.0 481.3,805.7 481.4,809.1 481.5,806.8 481.6,809.6 481.7,806.6 481.8,810.9 481.9,807.0 482.0,811.8 482.1,806.7 482.2,812.3 482.3,807.8 482.4,812.0 482.5,806.5 482.6,812.1 482.7,807.1 482.8,811.8 482.9,807.0 483.0,811.3 483.1,806.8 483.2,810.8 483.3,806.6 483.4,810.2 483.5,805.8 483.6,810.6 483.7,804.0 483.8,809.9 483.9,804.7 484.0,809.3 484.1,803.3 484.2,808.4 484.3,803.5 484.4,807.8 484.5,802.3 484.6,807.1 484.7,801.8 484.8,805.9 484.9,799.9 485.0,805.1 485.1,800.1 485.2,805.3 485.3,798.8 485.4,804.5 485.5,797.7 485.6,804.1 485.7,796.8 485.8,803.8 485.9,796.1 486.0,802.8 486.1,793.9 486.2,801.9 486.3,795.1 486.4,801.0 486.5,794.1 486.6,800.4 486.7,792.4 486.8,800.1 486.9,792.0 487.0,800.6 487.1,792.5 487.2,802.8 487.3,789.8 487.4,803.0 487.5,788.4 487.6,802.9 487.7,789.3 487.8,783.2 487.9,787.4 488.0,802.3 488.1,786.6 488.2,802.1 488.3,788.1 488.4,801.7 488.5,786.2 488.6,801.5 488.7,788.1 488.8,801.4 488.9,788.5 489.0,801.0 489.1,788.6 489.2,801.4 489.3,789.6 489.4,801.9 489.5,787.9 489.6,802.1 489.7,789.0 489.8,802.1 489.9,789.8 490.0,802.0 490.1,790.5 490.2,803.0 490.3,791.0 490.4,802.9 490.5,793.8 490.6,802.8 490.7,794.4 490.8,803.1 490.9,794.3 491.0,803.3 491.1,795.4 491.2,803.5 491.3,794.0 491.4,804.5 491.5,794.8 491.6,804.8 491.7,796.6 491.8,805.0 491.9,796.4 492.0,803.8 492.1,796.2 492.2,803.4 492.3,795.5 492.4,802.9 492.5,797.2 492.6,801.8 492.7,794.4 492.8,801.3 492.9,796.2 493.0,801.0 493.1,796.8 493.2,801.5 493.3,797.4 493.4,801.5 493.5,798.0 493.6,801.6 493.7,798.3 493.8,801.8 493.9,798.6 494.0,802.2 494.1,798.5 494.2,802.5 494.3,799.4 494.4,803.1 494.5,799.8 494.6,803.2 494.7,799.2 494.8,803.3 494.9,800.2 495.0,802.9 495.1,800.1 495.2,803.0 495.3,800.3 495.4,803.1 495.5,800.4 495.6,804.4 495.7,800.2 495.8,804.7 495.9,800.7 496.0,805.1 496.1,800.6 496.2,804.5 496.3,801.0 496.4,804.7 496.5,800.2 496.6,804.9 496.7,799.7 496.8,804.9 496.9,798.6 497.0,805.1 497.1,797.3 497.2,805.1 497.3,798.1 497.4,804.6 497.5,796.4 497.6,804.6 497.7,795.9 497.8,804.6 497.9,796.2 498.0,793.4 498.1,796.5 498.2,806.3 498.3,797.3 498.4,806.3 498.5,798.3 498.6,805.5 498.7,800.5 498.8,805.5 498.9,799.8 499.0,805.6 499.1,800.0 499.2,806.4 499.3,801.3 499.4,805.9 499.5,801.3 499.6,805.3 499.7,801.0 499.8,805.9 499.9,801.6 500.0,806.3 500.1,800.7 500.2,806.6 500.3,801.7 500.4,806.3 500.5,802.3 500.6,806.5 500.7,801.5 500.8,806.6 500.9,801.5 501.0,806.2 501.1,801.9 501.2,806.3 501.3,801.4 501.4,806.4 501.5,801.9 501.6,807.4 501.7,800.9 501.8,807.7 501.9,801.8 502.0,807.9 502.1,800.0 502.2,807.0 502.3,800.2 502.4,807.1 502.5,798.7 502.6,807.2 502.7,798.1 502.8,806.6 502.9,798.3 503.0,806.4 503.1,799.7 503.2,806.1 503.3,798.5 503.4,807.0 503.5,799.3 503.6,804.6 503.7,798.8 503.8,802.0 503.9,797.1 504.0,800.3 504.1,796.5 504.2,800.3 504.3,796.0 504.4,800.4 504.5,793.6 504.6,800.7 504.7,791.4 504.8,800.7 504.9,785.6 505.0,778.1 505.1,785.7 505.2,800.1 505.3,790.5 505.4,800.2 505.5,794.5 505.6,800.2 505.7,794.1 505.8,799.8 505.9,795.0 506.0,798.6 506.1,795.6 506.2,800.4 506.3,795.4 506.4,802.8 506.5,796.4 506.6,804.7 506.7,797.9 506.8,804.5 506.9,798.8 507.0,804.5 507.1,798.2 507.2,804.2 507.3,799.1 507.4,803.8 507.5,799.4 507.6,802.2 507.7,799.8 507.8,802.0 507.9,799.9 508.0,802.0 508.1,800.6 508.2,802.8 508.3,801.1 508.4,802.9 508.5,801.5 508.6,803.0 508.7,802.0 508.8,802.5 508.9,802.3 509.0,802.5 509.1,802.7 509.2,802.9 509.3,803.2 509.4,803.4 509.5,803.2 509.6,803.9 509.7,803.7 509.8,804.4 509.9,804.4 510.0,804.9 510.1,805.0 510.2,805.4 510.3,805.6 510.4,805.9 510.5,806.0 510.6,806.4 510.7,806.6 510.8,806.9 510.9,807.1 511.0,807.9 511.1,807.6 511.2,808.3 511.3,808.0 511.4,808.1 511.5,807.6 511.6,807.9 511.7,807.2 511.8,808.2 511.9,806.4 512.0,808.0 512.1,805.9 512.2,807.7 512.3,804.6 512.4,807.5 512.5,803.5 512.6,806.7 512.7,802.3 512.8,806.1 512.9,800.0 513.0,806.2 513.1,796.4 513.2,806.0 513.3,794.9 513.4,805.9 513.5,794.7 513.6,805.4 513.7,790.9 513.8,789.7 513.9,792.6 514.0,805.2 514.1,792.5 514.2,804.5 514.3,792.0 514.4,804.1 514.5,791.7 514.6,803.7 514.7,792.8 514.8,803.0 514.9,793.8 515.0,802.7 515.1,794.4 515.2,802.5 515.3,794.0 515.4,803.0 515.5,796.0 515.6,802.9 515.7,796.8 515.8,803.1 515.9,796.6 516.0,802.5 516.1,798.5 516.2,802.8 516.3,798.5 516.4,803.1 516.5,799.2 516.6,803.6 516.7,800.3 516.8,804.0 516.9,800.4 517.0,804.3 517.1,801.3 517.2,804.0 517.3,801.5 517.4,804.4 517.5,802.4 517.6,804.8 517.7,802.7 517.8,806.0 517.9,803.0 518.0,806.2 518.1,803.2 518.2,806.4 518.3,803.6 518.4,806.8 518.5,803.9 518.6,807.4 518.7,804.4 518.8,808.0 518.9,804.8 519.0,808.4 519.1,804.7 519.2,808.6 519.3,805.4 519.4,808.9 519.5,804.8 519.6,809.1 519.7,805.8 519.8,809.3 519.9,805.6 520.0,809.6 520.1,806.0 520.2,809.7 520.3,805.9 520.4,810.0 520.5,805.6 520.6,810.2 520.7,804.8 520.8,810.1 520.9,805.2 521.0,810.2 521.1,806.3 521.2,810.1 521.3,806.5 521.4,810.5 521.5,807.7 521.6,810.4 521.7,807.6 521.8,810.3 521.9,808.5 522.0,809.6 522.1,808.4 522.2,809.5 522.3,808.9 522.4,809.4 522.5,809.2 522.6,810.0 522.7,809.6 522.8,810.1 522.9,809.9 523.0,810.2 523.1,809.8 523.2,810.5 523.3,810.1 523.4,810.8 523.5,810.3 523.6,811.0 523.7,810.4 523.8,811.1 523.9,810.7 524.0,811.2 524.1,810.9 524.2,811.3 524.3,811.1 524.4,811.4 524.5,811.2 524.6,811.5 524.7,810.4 524.8,811.6 524.9,810.6 525.0,811.6 525.1,810.9 525.2,811.6 525.3,811.0 525.4,811.5 525.5,810.7 525.6,810.8 525.7,810.1 525.8,810.3 525.9,809.6 526.0,810.4 526.1,809.0 526.2,809.8 526.3,808.6 526.4,809.6 526.5,808.1 526.6,809.5 526.7,807.7 526.8,809.9 526.9,806.8 527.0,809.7 527.1,805.8 527.2,809.4 527.3,805.7 527.4,809.4 527.5,804.4 527.6,808.9 527.7,803.8 527.8,808.6 527.9,803.8 528.0,807.6 528.1,802.3 528.2,807.3 528.3,801.5 528.4,807.0 528.5,801.5 528.6,807.3 528.7,801.1 528.8,806.9 528.9,800.5 529.0,806.8 529.1,798.5 529.2,807.2 529.3,799.3 529.4,807.1 529.5,798.5 529.6,807.1 529.7,798.7 529.8,796.3 529.9,798.2 530.0,806.1 530.1,799.4 530.2,806.0 530.3,799.7 530.4,805.1 530.5,798.8 530.6,804.9 530.7,799.4 530.8,804.6 530.9,799.6 531.0,805.5 531.1,800.9 531.2,805.4 531.3,800.6 531.4,805.4 531.5,801.5 531.6,805.3 531.7,801.6 531.8,805.0 531.9,802.6 532.0,803.3 532.1,802.0 532.2,802.1 532.3,801.8 532.4,802.0 532.5,801.3 532.6,802.0 532.7,800.4 532.8,802.5 532.9,799.9 533.0,802.5 533.1,798.5 533.2,802.6 533.3,798.2 533.4,802.4 533.5,796.9 533.6,802.2 533.7,796.8 533.8,802.1 533.9,795.7 534.0,801.9 534.1,794.3 534.2,801.7 534.3,793.6 534.4,801.8 534.5,794.8 534.6,801.0 534.7,793.4 534.8,801.1 534.9,793.5 535.0,801.3 535.1,793.0 535.2,801.6 535.3,794.4 535.4,801.8 535.5,792.1 535.6,801.9 535.7,791.9 535.8,802.8 535.9,793.6 536.0,802.9 536.1,794.9 536.2,803.1 536.3,795.5 536.4,802.1 536.5,797.2 536.6,802.2 536.7,797.3 536.8,802.4 536.9,798.9 537.0,803.7 537.1,799.0 537.2,804.1 537.3,800.0 537.4,804.4 537.5,801.6 537.6,804.1 537.7,802.1 537.8,804.5 537.9,803.1 538.0,804.7 538.1,803.5 538.2,805.2 538.3,804.2 538.4,805.4 538.5,804.9 538.6,805.6 538.7,805.6 538.8,805.9 538.9,806.3 539.0,806.6 539.1,806.8 539.2,807.0 539.3,807.2 539.4,807.4 539.5,807.6 539.6,807.9 539.7,808.0 539.8,808.5 539.9,808.5 540.0,809.0 540.1,808.9 540.2,809.4 540.3,809.3 540.4,809.6 540.5,809.4 540.6,809.5 540.7,809.0 540.8,809.4 540.9,808.8 541.0,808.8 541.1,808.2 541.2,808.0 541.3,807.4 541.4,807.3 541.5,806.7 541.6,806.5 541.7,806.0 541.8,806.0 541.9,804.8 542.0,806.4 542.1,802.8 542.2,806.4 542.3,798.8 542.4,805.8 542.5,794.1 542.6,805.8 542.7,795.3 542.8,805.8 542.9,793.4 543.0,805.2 543.1,796.1 543.2,805.3 543.3,795.6 543.4,805.3 543.5,798.9 543.6,806.5 543.7,799.9 543.8,806.9 543.9,801.5 544.0,807.2 544.1,802.0 544.2,805.6 544.3,801.8 544.4,805.0 544.5,801.9 544.6,804.7 544.7,803.1 544.8,805.4 544.9,803.7 545.0,806.2 545.1,805.5 545.2,806.6 545.3,805.7 545.4,806.8 545.5,806.4 545.6,807.5 545.7,806.6 545.8,808.1 545.9,807.2 546.0,808.8 546.1,807.2 546.2,809.5 546.3,807.9 546.4,809.8 546.5,807.7 546.6,810.5 546.7,808.2 546.8,810.7 546.9,808.5 547.0,810.9 547.1,808.5 547.2,810.8 547.3,808.2 547.4,810.6 547.5,807.9 547.6,810.4 547.7,808.1 547.8,809.7 547.9,807.7 548.0,809.5 548.1,807.4 548.2,809.2 548.3,807.5 548.4,809.0 548.5,807.4 548.6,808.8 548.7,807.3 548.8,808.8 548.9,807.0 549.0,809.2 549.1,806.8 549.2,809.2 549.3,807.0 549.4,809.2 549.5,806.6 549.6,808.9 549.7,805.8 549.8,809.0 549.9,806.7 550.0,809.0 550.1,806.7 550.2,809.0 550.3,806.3 550.4,809.0 550.5,806.5 550.6,808.9 550.7,806.4 550.8,808.6 550.9,806.6 551.0,808.6 551.1,807.0 551.2,808.5 551.3,806.9 551.4,808.3 551.5,807.0 551.6,808.2 551.7,807.3 551.8,808.2 551.9,807.4 552.0,807.9 552.1,807.5 552.2,807.9 552.3,807.7 552.4,807.9 552.5,807.9 552.6,808.7 552.7,808.1 552.8,808.7 552.9,808.0 553.0,808.8 553.1,806.8 553.2,808.6 553.3,807.0 553.4,808.5 553.5,807.1 553.6,808.7 553.7,807.0 553.8,809.3 553.9,807.5 554.0,809.4 554.1,807.6 554.2,809.4 554.3,807.1 554.4,809.4 554.5,807.0 554.6,809.4 554.7,807.1 554.8,809.4 554.9,806.8 555.0,809.5 555.1,806.8 555.2,809.4 555.3,806.9 555.4,809.4 555.5,806.6 555.6,808.3 555.7,806.3 555.8,808.3 555.9,805.5 556.0,808.2 556.1,805.6 556.2,808.8 556.3,805.0 556.4,808.7 556.5,805.7 556.6,808.6 556.7,805.0 556.8,808.0 556.9,804.5 557.0,808.0 557.1,804.3 557.2,807.9 557.3,804.1 557.4,808.1 557.5,804.0 557.6,803.6 557.7,805.0 557.8,808.2 557.9,804.8 558.0,808.4 558.1,805.2 558.2,808.5 558.3,805.9 558.4,808.5 558.5,806.3 558.6,808.3 558.7,805.3 558.8,808.5 558.9,805.6 559.0,808.6 559.1,806.5 559.2,809.2 559.3,806.6 559.4,809.3 559.5,807.6 559.6,809.5 559.7,807.7 559.8,809.2 559.9,807.7 560.0,809.3 560.1,807.9 560.2,809.4 560.3,808.1 560.4,809.4 560.5,808.3 560.6,809.4 560.7,808.9 560.8,809.5 560.9,808.9 561.0,809.8 561.1,809.3 561.2,809.9 561.3,809.5 561.4,810.0 561.5,809.7 561.6,809.8 561.7,809.8 561.8,810.0 561.9,810.0 562.0,810.2 562.1,810.1 562.2,810.2 562.3,810.2 562.4,810.3 562.5,810.3 562.6,810.4 562.7,810.2 562.8,810.5 562.9,810.3 563.0,810.6 563.1,810.5 563.2,810.6 563.3,810.6 563.4,810.7 563.5,810.7 563.6,810.8 563.7,810.7 563.8,810.9 563.9,810.9 564.0,810.9 564.1,810.9 564.2,810.9 564.3,810.9 564.4,810.9 564.5,810.8 564.6,810.8 564.7,810.1 564.8,810.7 564.9,810.1 565.0,810.7 565.1,810.3 565.2,810.6 565.3,810.1 565.4,810.5 565.5,810.2 565.6,810.4 565.7,810.1 565.8,810.3 565.9,809.8 566.0,810.3 566.1,809.8 566.2,810.3 566.3,808.3 566.4,810.6 566.5,808.4 566.6,810.5 566.7,808.6 566.8,810.4 566.9,808.4 567.0,809.9 567.1,808.5 567.2,809.8 567.3,808.1 567.4,809.6 567.5,808.2 567.6,809.5 567.7,808.0 567.8,809.3 567.9,807.6 568.0,809.2 568.1,807.4 568.2,809.8 568.3,806.1 568.4,809.7 568.5,805.9 568.6,809.5 568.7,806.2 568.8,808.9 568.9,805.7 569.0,808.8 569.1,805.1 569.2,808.7 569.3,805.0 569.4,808.4 569.5,805.2 569.6,808.3 569.7,804.8 569.8,808.2 569.9,804.7 570.0,804.2 570.1,804.6 570.2,809.8 570.3,804.4 570.4,809.7 570.5,804.6 570.6,809.1 570.7,805.5 570.8,809.1 570.9,805.9 571.0,809.0 571.1,806.0 571.2,809.7 571.3,805.6 571.4,809.6 571.5,806.3 571.6,809.6 571.7,806.4 571.8,809.7 571.9,804.3 572.0,809.6 572.1,804.4 572.2,809.5 572.3,805.2 572.4,809.5 572.5,805.7 572.6,809.4 572.7,806.3 572.8,809.3 572.9,806.1 573.0,808.6 573.1,807.1 573.2,808.5 573.3,807.1 573.4,808.4 573.5,807.6 573.6,808.8 573.7,807.9 573.8,808.8 573.9,808.2 574.0,808.7 574.1,808.4 574.2,808.7 574.3,808.6 574.4,808.9 574.5,808.9 574.6,809.1 574.7,809.0 574.8,809.3 574.9,809.1 575.0,809.4 575.1,809.3 575.2,809.4 575.3,809.4 575.4,809.5 575.5,809.5 575.6,809.6 575.7,809.6 575.8,809.7 575.9,809.7 576.0,809.8 576.1,809.8 576.2,809.9 576.3,809.5 576.4,809.9 576.5,809.6 576.6,810.0 576.7,809.9 576.8,810.1 576.9,809.9 577.0,810.1 577.1,810.0 577.2,810.1 577.3,809.9 577.4,810.0 577.5,808.7 577.6,809.9 577.7,808.6 577.8,809.9 577.9,808.9 578.0,809.8 578.1,808.9 578.2,809.7 578.3,809.0 578.4,809.6 578.5,809.0 578.6,809.5 578.7,809.1 578.8,809.4 578.9,809.0 579.0,809.4 579.1,809.1 579.2,809.3 579.3,808.9 579.4,808.9 579.5,807.2 579.6,808.5 579.7,806.7 579.8,808.1 579.9,806.9 580.0,807.7 580.1,806.5 580.2,807.3 580.3,806.3 580.4,806.9 580.5,805.9 580.6,806.5 580.7,805.9 580.8,806.1 580.9,805.4 581.0,805.7 581.1,805.2 581.2,805.3 581.3,804.8 581.4,804.9 581.5,803.3 581.6,804.5 581.7,803.0 581.8,804.1 581.9,803.0 582.0,803.7 582.1,802.7 582.2,803.3 582.3,802.7 582.4,802.9 582.5,802.2 582.6,802.5 582.7,802.1 582.8,803.2 582.9,801.4 583.0,804.3 583.1,800.6 583.2,805.8 583.3,799.4 583.4,806.6 583.5,799.3 583.6,807.3 583.7,799.9 583.8,808.0 583.9,799.2 584.0,807.6 584.1,800.0 584.2,807.6 584.3,798.9 584.4,806.8 584.5,799.3 584.6,806.7 584.7,798.7 584.8,806.7 584.9,798.1 585.0,805.8 585.1,795.8 585.2,805.7 585.3,798.3 585.4,805.7 585.5,798.2 585.6,806.4 585.7,799.2 585.8,806.2 585.9,799.9 586.0,805.0 586.1,799.8 586.2,804.8 586.3,800.5 586.4,804.1 586.5,800.8 586.6,803.3 586.7,801.1 586.8,802.8 586.9,801.4 587.0,803.7 587.1,801.4 587.2,804.2 587.3,801.6 587.4,804.5 587.5,802.0 587.6,804.7 587.7,802.8 587.8,804.9 587.9,801.6 588.0,805.0 588.1,801.7 588.2,805.2 588.3,802.1 588.4,805.5 588.5,802.4 588.6,805.3 588.7,803.9 588.8,805.3 588.9,804.4 589.0,805.6 589.1,805.4 589.2,806.2 589.3,806.1 589.4,806.8 589.5,805.6 589.6,807.5 589.7,806.0 589.8,808.1 589.9,807.5 590.0,808.4 590.1,807.4 590.2,808.4 590.3,807.9 590.4,808.1 590.5,807.3 590.6,807.5 590.7,807.0 590.8,808.1 590.9,806.5 591.0,809.0 591.1,805.9 591.2,809.3 591.3,805.6 591.4,809.3 591.5,804.6 591.6,809.9 591.7,804.3 591.8,809.9 591.9,803.5 592.0,810.0 592.1,803.5 592.2,810.1 592.3,804.7 592.4,810.2 592.5,803.6 592.6,810.3 592.7,803.4 592.8,803.4 592.9,805.4 593.0,809.5 593.1,805.4 593.2,809.5 593.3,806.5 593.4,809.3 593.5,807.6 593.6,808.8 593.7,808.1 593.8,808.7 593.9,809.0 594.0,809.2 594.1,809.0 594.2,809.5 594.3,808.8 594.4,809.8 594.5,808.1 594.6,810.6 594.7,806.3 594.8,810.5 594.9,804.8 595.0,810.5 595.1,803.5 595.2,810.4 595.3,802.1 595.4,810.4 595.5,799.2 595.6,810.4 595.7,801.9 595.8,809.4 595.9,802.5 596.0,809.4 596.1,804.1 596.2,809.3 596.3,804.6 596.4,809.1 596.5,805.2 596.6,809.1 596.7,805.5 596.8,808.9 596.9,806.2 597.0,809.1 597.1,806.4 597.2,809.0 597.3,806.8 597.4,808.8 597.5,807.3 597.6,808.8 597.7,807.7 597.8,808.9 597.9,808.0 598.0,809.0 598.1,808.1 598.2,809.2 598.3,808.5 598.4,809.3 598.5,808.8 598.6,809.4 598.7,809.1 598.8,809.9 598.9,809.4 599.0,810.0 599.1,809.8 599.2,810.2 599.3,810.1 599.4,810.7 599.5,810.3 599.6,811.0 599.7,810.3 599.8,811.4 599.9,810.5 600.0,811.6 600.1,810.7 600.2,812.1 600.3,810.9 600.4,812.4 600.5,810.8 600.6,812.6 600.7,811.0 600.8,812.3 600.9,811.1 601.0,812.0 601.1,811.1 601.2,811.9 601.3,811.1 601.4,811.6 601.5,810.8 601.6,811.1 601.7,810.2 601.8,809.9 601.9,809.7 602.0,809.4 602.1,809.2 602.2,808.9 602.3,808.7 602.4,808.4 602.5,808.2 602.6,807.9 602.7,807.7 602.8,806.9 602.9,805.9 603.0,804.9 603.1,803.9 603.2,802.9 603.3,801.9 603.4,800.9 603.5,799.9 603.6,798.9 603.7,797.9 603.8,795.3 603.9,791.8 604.0,788.3 604.1,784.8 604.2,781.3 604.3,777.4 604.4,776.5 604.5,768.0 604.6,773.4 604.7,757.2 604.8,769.4 604.9,746.6 605.0,769.4 605.1,730.3 605.2,769.4 605.3,730.2 605.4,770.3 605.5,727.7 605.6,770.3 605.7,701.0 605.8,770.3 605.9,720.4 606.0,770.7 606.1,730.8 606.2,770.7 606.3,739.5 606.4,770.7 606.5,741.0 606.6,769.6 606.7,751.5 606.8,770.9 606.9,754.3 607.0,774.9 607.1,762.2 607.2,780.7 607.3,764.3 607.4,784.5 607.5,769.4 607.6,787.7 607.7,769.7 607.8,793.2 607.9,775.1 608.0,795.6 608.1,774.3 608.2,795.4 608.3,773.9 608.4,794.9 608.5,778.1 608.6,795.3 608.7,774.7 608.8,794.1 608.9,778.1 609.0,794.8 609.1,776.7 609.2,795.1 609.3,770.9 609.4,795.5 609.5,773.2 609.6,797.4 609.7,765.6 609.8,797.8 609.9,771.5 610.0,798.1 610.1,779.9 610.2,798.1 610.3,778.7 610.4,798.5 610.5,785.3 610.6,798.9 610.7,785.3 610.8,797.2 610.9,789.6 611.0,797.9 611.1,790.2 611.2,798.5 611.3,792.8 611.4,798.0 611.5,795.0 611.6,798.6 611.7,795.9 611.8,799.0 611.9,797.1 612.0,800.2 612.1,798.2 612.2,800.5 612.3,796.1 612.4,800.7 612.5,797.9 612.6,803.0 612.7,800.1 612.8,803.7 612.9,800.7 613.0,803.9 613.1,800.5 613.2,804.6 613.3,798.8 613.4,803.8 613.5,798.3 613.6,802.8 613.7,796.0 613.8,801.6 613.9,792.8 614.0,800.7 614.1,790.3 614.2,800.1 614.3,788.9 614.4,798.8 614.5,787.7 614.6,798.4 614.7,786.0 614.8,798.0 614.9,787.6 615.0,799.0 615.1,785.4 615.2,798.5 615.3,783.5 615.4,798.0 615.5,783.4 615.6,797.3 615.7,784.1 615.8,796.6 615.9,783.9 616.0,796.0 616.1,782.9 616.2,793.6 616.3,781.8 616.4,792.9 616.5,783.3 616.6,792.2 616.7,781.4 616.8,793.3 616.9,782.0 617.0,792.9 617.1,781.9 617.2,792.4 617.3,781.7 617.4,792.3 617.5,780.0 617.6,779.1 617.7,781.7 617.8,791.0 617.9,778.8 618.0,791.0 618.1,780.2 618.2,790.8 618.3,781.4 618.4,790.3 618.5,780.4 618.6,789.9 618.7,780.1 618.8,788.5 618.9,781.0 619.0,787.0 619.1,781.2 619.2,785.0 619.3,780.7 619.4,783.4 619.5,779.4 619.6,783.4 619.7,778.0 619.8,783.7 619.9,778.0 620.0,783.7 620.1,776.7 620.2,783.7 620.3,775.6 620.4,780.9 620.5,775.2 620.6,781.2 620.7,771.0 620.8,781.5 620.9,769.9 621.0,783.4 621.1,764.9 621.2,783.7 621.3,763.9 621.4,784.0 621.5,761.5 621.6,785.3 621.7,755.6 621.8,785.5 621.9,754.7 622.0,785.8 622.1,751.4 622.2,746.3 622.3,754.7 622.4,783.5 622.5,756.3 622.6,783.7 622.7,754.2 622.8,783.8 622.9,761.6 623.0,784.3 623.1,759.6 623.2,784.7 623.3,760.5 623.4,783.8 623.5,763.9 623.6,784.6 623.7,767.1 623.8,785.5 623.9,769.3 624.0,785.5 624.1,769.2 624.2,786.5 624.3,772.0 624.4,787.8 624.5,773.7 624.6,789.4 624.7,774.8 624.8,790.4 624.9,773.3 625.0,791.4 625.1,778.2 625.2,792.3 625.3,778.1 625.4,792.1 625.5,780.8 625.6,792.2 625.7,782.3 625.8,791.4 625.9,785.5 626.0,791.5 626.1,786.9 626.2,792.8 626.3,788.8 626.4,793.8 626.5,789.9 626.6,794.5 626.7,792.1 626.8,795.2 626.9,793.7 627.0,795.6 627.1,795.1 627.2,795.5 627.3,795.4 627.4,795.5 627.5,793.4 627.6,795.5 627.7,791.7 627.8,794.8 627.9,790.1 628.0,794.0 628.1,786.8 628.2,793.7 628.3,785.2 628.4,792.8 628.5,783.2 628.6,792.4 628.7,781.5 628.8,791.9 628.9,779.4 629.0,791.5 629.1,778.6 629.2,791.1 629.3,778.0 629.4,775.7 629.5,777.4 629.6,790.5 629.7,780.6 629.8,790.1 629.9,779.9 630.0,788.8 630.1,781.5 630.2,787.7 630.3,782.8 630.4,786.6 630.5,784.1 630.6,786.6 630.7,784.4 630.8,786.5 630.9,784.9 631.0,786.3 631.1,785.1 631.2,788.7 631.3,785.8 631.4,790.1 631.5,786.2 631.6,791.5 631.7,785.7 631.8,791.3 631.9,786.5 632.0,790.6 632.1,786.3 632.2,789.9 632.3,786.3 632.4,789.5 632.5,785.6 632.6,789.0 632.7,784.6 632.8,788.4 632.9,783.5 633.0,787.8 633.1,783.0 633.2,787.0 633.3,780.7 633.4,786.1 633.5,779.2 633.6,785.0 633.7,777.9 633.8,784.1 633.9,777.6 634.0,783.3 634.1,776.0 634.2,781.6 634.3,776.3 634.4,780.8 634.5,775.7 634.6,780.1 634.7,773.5 634.8,780.3 634.9,774.0 635.0,779.6 635.1,773.4 635.2,778.9 635.3,772.4 635.4,776.2 635.5,770.9 635.6,775.6 635.7,769.0 635.8,774.9 635.9,767.9 636.0,774.3 636.1,767.3 636.2,773.5 636.3,767.1 636.4,772.7 636.5,767.0 636.6,770.3 636.7,763.5 636.8,769.3 636.9,762.4 637.0,768.2 637.1,762.8 637.2,768.5 637.3,763.3 637.4,767.5 637.5,761.8 637.6,766.6 637.7,762.0 637.8,765.9 637.9,761.3 638.0,765.2 638.1,760.0 638.2,764.7 638.3,759.4 638.4,763.2 638.5,757.9 638.6,763.2 638.7,758.4 638.8,763.2 638.9,757.8 639.0,764.2 639.1,757.5 639.2,764.2 639.3,756.7 639.4,765.4 639.5,754.7 639.6,765.3 639.7,759.0 639.8,766.6 639.9,759.6 640.0,767.8 640.1,761.1 640.2,768.3 640.3,764.0 640.4,769.6 640.5,763.2 640.6,769.3 640.7,764.4 640.8,768.6 640.9,761.9 641.0,768.3 641.1,759.5 641.2,768.1 641.3,759.8 641.4,768.2 641.5,758.5 641.6,768.2 641.7,754.3 641.8,768.2 641.9,752.7 642.0,767.7 642.1,746.3 642.2,767.7 642.3,752.0 642.4,767.7 642.5,753.3 642.6,769.0 642.7,755.5 642.8,769.0 642.9,758.4 643.0,769.0 643.1,756.9 643.2,769.6 643.3,758.5 643.4,770.0 643.5,757.9 643.6,770.4 643.7,759.6 643.8,773.4 643.9,760.5 644.0,773.8 644.1,762.7 644.2,774.1 644.3,765.2 644.4,775.2 644.5,765.0 644.6,775.3 644.7,767.5 644.8,775.3 644.9,768.7 645.0,776.4 645.1,769.0 645.2,776.4 645.3,770.5 645.4,776.7 645.5,771.3 645.6,776.4 645.7,772.3 645.8,777.3 645.9,772.7 646.0,778.1 646.1,773.4 646.2,777.1 646.3,774.0 646.4,777.8 646.5,773.7 646.6,778.4 646.7,775.1 646.8,777.7 646.9,774.9 647.0,778.4 647.1,775.6 647.2,779.0 647.3,775.8 647.4,780.1 647.5,775.3 647.6,780.3 647.7,775.0 647.8,780.5 647.9,775.9 648.0,781.9 648.1,777.2 648.2,782.1 648.3,778.3 648.4,783.0 648.5,777.9 648.6,782.4 648.7,779.3 648.8,782.1 648.9,779.2 649.0,782.3 649.1,777.4 649.2,783.9 649.3,776.8 649.4,784.5 649.5,774.6 649.6,785.1 649.7,775.0 649.8,786.8 649.9,775.0 650.0,787.0 650.1,774.9 650.2,787.2 650.3,773.2 650.4,785.2 650.5,771.5 650.6,785.4 650.7,772.0 650.8,785.4 650.9,770.7 651.0,785.9 651.1,775.0 651.2,786.0 651.3,774.5 651.4,786.1 651.5,776.3 651.6,785.6 651.7,776.9 651.8,785.7 651.9,776.3 652.0,785.6 652.1,775.6 652.2,787.0 652.3,777.5 652.4,786.6 652.5,778.8 652.6,786.3 652.7,778.0 652.8,785.9 652.9,778.3 653.0,785.7 653.1,778.0 653.2,785.8 653.3,777.9 653.4,785.6 653.5,779.8 653.6,785.7 653.7,779.4 653.8,785.7 653.9,780.7 654.0,785.2 654.1,780.5 654.2,785.3 654.3,780.8 654.4,785.5 654.5,781.0 654.6,784.6 654.7,781.0 654.8,784.8 654.9,781.6 655.0,785.0 655.1,781.6 655.2,785.8 655.3,782.0 655.4,786.0 655.5,782.6 655.6,786.2 655.7,783.2 655.8,785.7 655.9,782.1 656.0,786.0 656.1,781.9 656.2,786.3 656.3,781.1 656.4,786.8 656.5,781.2 656.6,787.1 656.7,783.3 656.8,787.4 656.9,783.9 657.0,786.9 657.1,783.3 657.2,787.2 657.3,783.7 657.4,787.4 657.5,784.9 657.6,787.4 657.7,785.3 657.8,787.6 657.9,786.5 658.0,787.9 658.1,786.7 658.2,789.5 658.3,788.0 658.4,789.8 658.5,788.2 658.6,790.1 658.7,788.9 658.8,791.1 658.9,789.0 659.0,791.3 659.1,789.7 659.2,791.6 659.3,789.7 659.4,790.9 659.5,790.0 659.6,791.2 659.7,790.0 659.8,791.5 659.9,790.2 660.0,791.8 660.1,790.4 660.2,791.8 660.3,790.7 660.4,791.9 660.5,790.9 660.6,792.0 660.7,790.8 660.8,792.1 660.9,791.0 661.0,792.2 661.1,790.9 661.2,792.6 661.3,790.8 661.4,792.7 661.5,790.5 661.6,792.8 661.7,790.3 661.8,793.2 661.9,790.4 662.0,793.3 662.1,790.5 662.2,793.4 662.3,790.0 662.4,793.4 662.5,791.3 662.6,793.5 662.7,791.1 662.8,793.6 662.9,791.8 663.0,792.7 663.1,791.9 663.2,792.7 663.3,792.2 663.4,792.9 663.5,792.6 663.6,794.4 663.7,793.3 663.8,794.8 663.9,793.6 664.0,795.1 664.1,793.9 664.2,794.8 664.3,794.2 664.4,795.1 664.5,794.5 664.6,795.2 664.7,794.9 664.8,796.3 664.9,795.1 665.0,796.5 665.1,795.5 665.2,796.7 665.3,795.6 665.4,796.8 665.5,795.4 665.6,796.4 665.7,795.2 665.8,796.2 665.9,795.2 666.0,795.8 666.1,795.2 666.2,795.8 666.3,794.7 666.4,794.4 666.5,793.4 666.6,793.1 666.7,792.2 666.8,791.8 666.9,790.9 667.0,790.4 667.1,789.6 667.2,789.7 667.3,788.5 667.4,788.8 667.5,787.4 667.6,787.9 667.7,786.6 667.8,788.0 667.9,784.6 668.0,787.2 668.1,784.4 668.2,787.0 668.3,784.0 668.4,786.9 668.5,782.8 668.6,786.5 668.7,782.1 668.8,786.1 668.9,782.4 669.0,785.6" fill="none" stroke="#974FAB" stroke-width="2.5" stroke-linejoin="round" stroke-linecap="butt"/><circle cx="384.64" cy="803.72" r="3.3" fill="#E8241F"/><circle cx="390.50" cy="799.32" r="3.3" fill="#E8241F"/><circle cx="391.96" cy="794.94" r="3.3" fill="#E8241F"/><circle cx="391.96" cy="784.25" r="3.3" fill="#E8241F"/><circle cx="400.45" cy="784.68" r="3.3" fill="#E8241F"/><circle cx="411.87" cy="723.19" r="3.3" fill="#E8241F"/><circle cx="419.49" cy="758.62" r="3.3" fill="#E8241F"/><circle cx="421.25" cy="776.92" r="3.3" fill="#E8241F"/><circle cx="432.66" cy="805.62" r="3.3" fill="#E8241F"/><circle cx="438.37" cy="783.51" r="3.3" fill="#E8241F"/><circle cx="444.96" cy="803.28" r="3.3" fill="#E8241F"/><circle cx="463.27" cy="776.19" r="3.3" fill="#E8241F"/><circle cx="464.88" cy="784.68" r="3.3" fill="#E8241F"/><circle cx="466.93" cy="790.98" r="3.3" fill="#E8241F"/><circle cx="483.14" cy="799.23" r="3.3" fill="#E8241F"/><circle cx="488.25" cy="798.80" r="3.3" fill="#E8241F"/><circle cx="496.57" cy="804.34" r="3.3" fill="#E8241F"/><circle cx="503.28" cy="794.57" r="3.3" fill="#E8241F"/><circle cx="518.91" cy="801.86" r="3.3" fill="#E8241F"/><circle cx="520.37" cy="802.88" r="3.3" fill="#E8241F"/><circle cx="528.10" cy="798.50" r="3.3" fill="#E8241F"/><circle cx="530.29" cy="797.77" r="3.3" fill="#E8241F"/><circle cx="533.50" cy="785.07" r="3.3" fill="#E8241F"/><circle cx="550.00" cy="809.16" r="3.3" fill="#E8241F"/><circle cx="555.40" cy="808.43" r="3.3" fill="#E8241F"/><circle cx="557.15" cy="805.37" r="3.3" fill="#E8241F"/><circle cx="568.54" cy="808.00" r="3.3" fill="#E8241F"/><circle cx="569.66" cy="808.43" r="3.3" fill="#E8241F"/><circle cx="581.42" cy="805.57" r="3.3" fill="#E8241F"/><circle cx="584.77" cy="789.12" r="3.3" fill="#E8241F"/><circle cx="585.45" cy="791.64" r="3.3" fill="#E8241F"/><circle cx="587.29" cy="801.71" r="3.3" fill="#E8241F"/><circle cx="602.57" cy="807.59" r="3.3" fill="#E8241F"/><circle cx="603.58" cy="795.33" r="3.3" fill="#E8241F"/><circle cx="604.25" cy="785.43" r="3.3" fill="#E8241F"/><circle cx="608.28" cy="780.22" r="3.3" fill="#E8241F"/><circle cx="611.97" cy="794.66" r="3.3" fill="#E8241F"/><circle cx="614.49" cy="789.96" r="3.3" fill="#E8241F"/><circle cx="616.50" cy="766.12" r="3.3" fill="#E8241F"/><circle cx="617.34" cy="770.15" r="3.3" fill="#E8241F"/><circle cx="637.32" cy="767.63" r="3.3" fill="#E8241F"/><circle cx="650.58" cy="763.44" r="3.3" fill="#E8241F"/><circle cx="667.54" cy="774.52" r="3.3" fill="#E8241F"/><circle cx="669.05" cy="782.41" r="3.3" fill="#E8241F"/><circle cx="666.53" cy="786.60" r="3.3" fill="#E8241F"/><text x="370.2" y="666.7" font-size="15.2" fill="#000">(F) Short: IGARCH−st</text></g>
<text transform="translate(9.7,160.9) rotate(-90)" font-size="12.8" fill="#000" text-anchor="middle">Return (%)</text>
<text transform="translate(9.7,488.4) rotate(-90)" font-size="12.8" fill="#000" text-anchor="middle">Return (%)</text>
<text transform="translate(9.7,808.2) rotate(-90)" font-size="12.8" fill="#000" text-anchor="middle">Return (%)</text>
<text x="186.8" y="967.3" font-size="12.8" fill="#000" text-anchor="middle">Date</text>
<text x="526.9" y="967.3" font-size="12.8" fill="#000" text-anchor="middle">Date</text>
</svg></body></html>
